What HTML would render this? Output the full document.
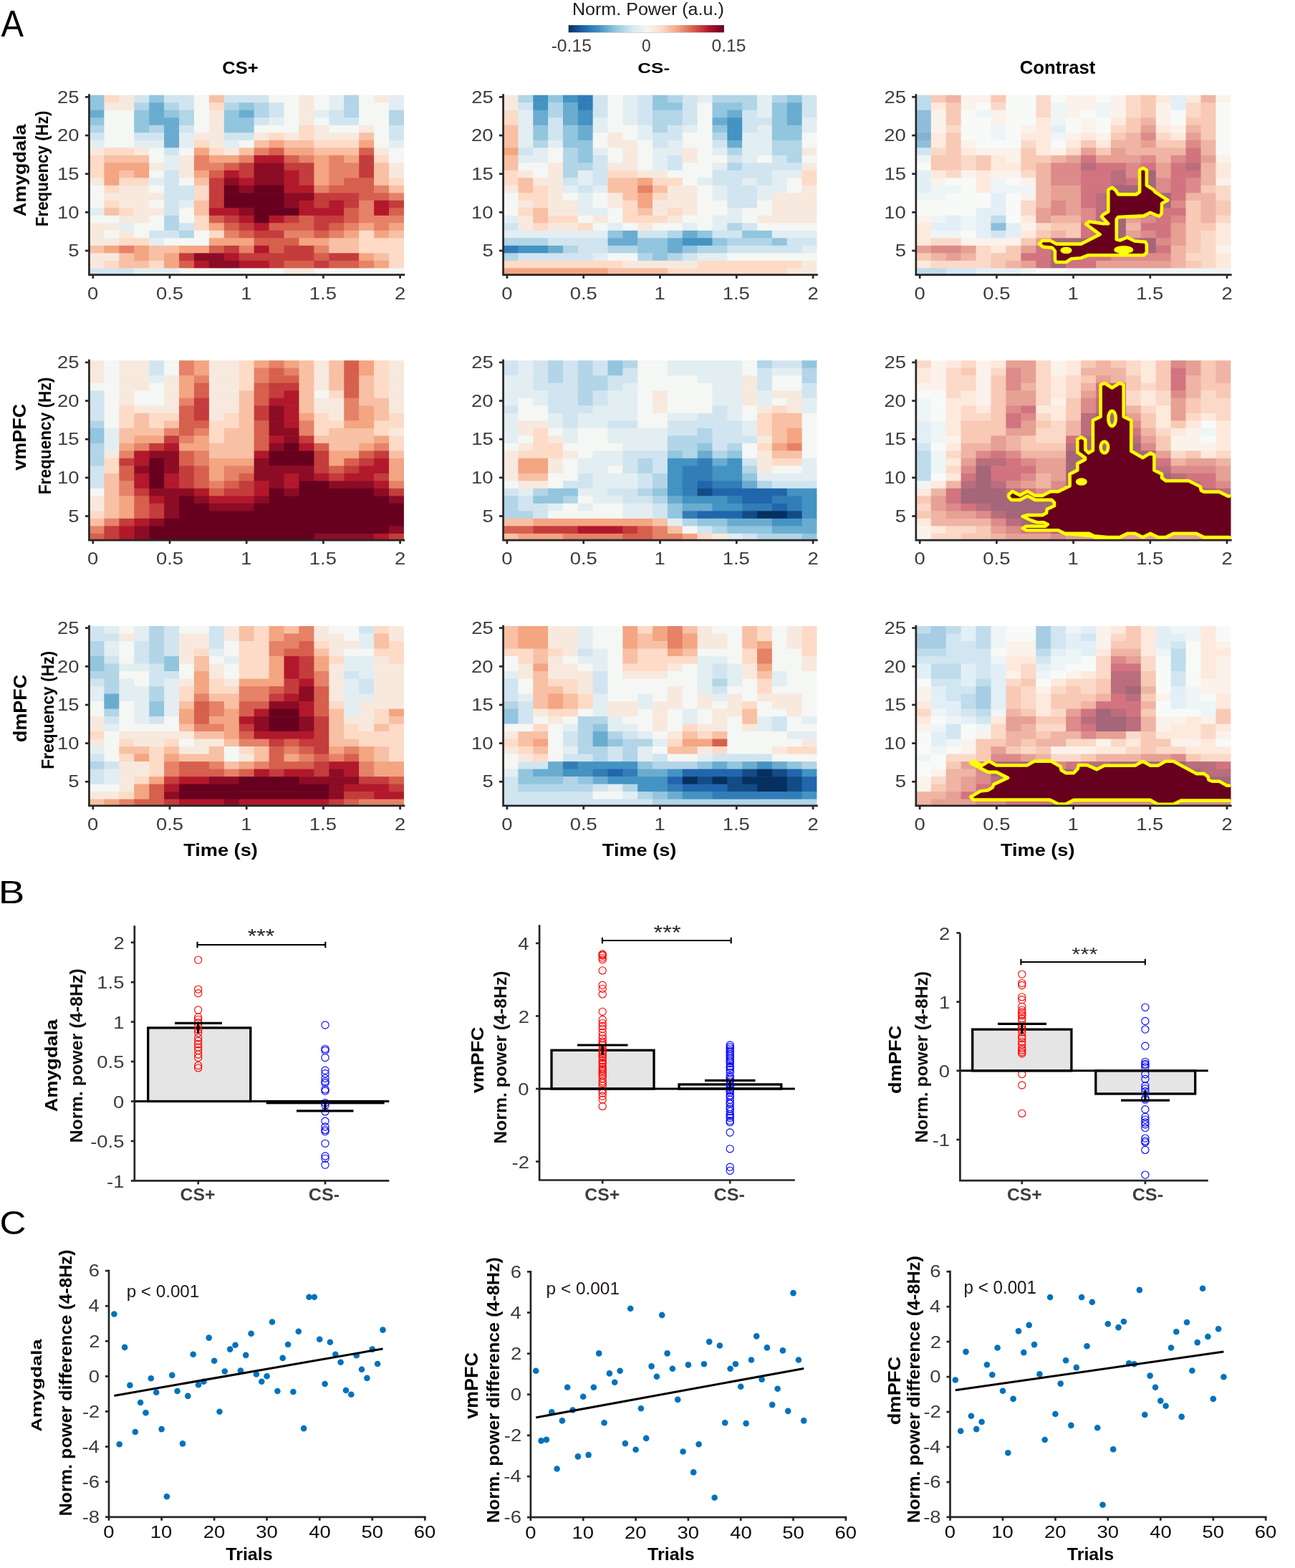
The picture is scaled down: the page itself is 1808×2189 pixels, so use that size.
<!DOCTYPE html><html><head><meta charset="utf-8"><title>Figure</title><style>html,body{margin:0;padding:0;background:#fff;}svg{display:block;}text{font-family:'Liberation Sans', Arial, Helvetica, sans-serif;}</style></head><body><svg xmlns="http://www.w3.org/2000/svg" width="1808" height="2189" viewBox="0 0 1808 2189"><rect width="1808" height="2189" fill="#fff"/><g>
<rect x="124.44" y="132.72" width="21.53" height="11.11" fill="#92c5de"/>
<rect x="145.37" y="132.72" width="21.53" height="11.11" fill="#fddbc7"/>
<rect x="166.30" y="132.72" width="21.53" height="11.11" fill="#f8e9de"/>
<rect x="187.23" y="132.72" width="21.53" height="11.11" fill="#d1e5f0"/>
<rect x="208.16" y="132.72" width="21.53" height="11.11" fill="#92c5de"/>
<rect x="229.09" y="132.72" width="42.46" height="11.11" fill="#d1e5f0"/>
<rect x="270.95" y="132.72" width="21.53" height="11.11" fill="#f4f7f4"/>
<rect x="291.88" y="132.72" width="21.53" height="11.11" fill="#f8c0a4"/>
<rect x="312.81" y="132.72" width="63.39" height="11.11" fill="#d1e5f0"/>
<rect x="375.59" y="132.72" width="42.46" height="11.11" fill="#f4f7f4"/>
<rect x="417.45" y="132.72" width="21.53" height="11.11" fill="#f8e9de"/>
<rect x="438.38" y="132.72" width="21.53" height="11.11" fill="#f4f7f4"/>
<rect x="459.31" y="132.72" width="21.53" height="11.11" fill="#e2eef2"/>
<rect x="480.24" y="132.72" width="21.53" height="11.11" fill="#b2d5e7"/>
<rect x="501.17" y="132.72" width="21.53" height="11.11" fill="#f4f7f4"/>
<rect x="522.10" y="132.72" width="21.53" height="11.11" fill="#f8e9de"/>
<rect x="543.03" y="132.72" width="20.93" height="11.11" fill="#e2eef2"/>
<rect x="124.44" y="143.22" width="21.53" height="11.11" fill="#92c5de"/>
<rect x="145.37" y="143.22" width="42.46" height="11.11" fill="#f8e9de"/>
<rect x="187.23" y="143.22" width="21.53" height="11.11" fill="#b2d5e7"/>
<rect x="208.16" y="143.22" width="21.53" height="11.11" fill="#6aacd0"/>
<rect x="229.09" y="143.22" width="21.53" height="11.11" fill="#b2d5e7"/>
<rect x="250.02" y="143.22" width="21.53" height="11.11" fill="#d1e5f0"/>
<rect x="270.95" y="143.22" width="21.53" height="11.11" fill="#f4f7f4"/>
<rect x="291.88" y="143.22" width="21.53" height="11.11" fill="#fddbc7"/>
<rect x="312.81" y="143.22" width="21.53" height="11.11" fill="#b2d5e7"/>
<rect x="333.74" y="143.22" width="21.53" height="11.11" fill="#92c5de"/>
<rect x="354.66" y="143.22" width="21.53" height="11.11" fill="#b2d5e7"/>
<rect x="375.59" y="143.22" width="21.53" height="11.11" fill="#d1e5f0"/>
<rect x="396.52" y="143.22" width="21.53" height="11.11" fill="#f4f7f4"/>
<rect x="417.45" y="143.22" width="21.53" height="11.11" fill="#f8e9de"/>
<rect x="438.38" y="143.22" width="21.53" height="11.11" fill="#f4f7f4"/>
<rect x="459.31" y="143.22" width="21.53" height="11.11" fill="#e2eef2"/>
<rect x="480.24" y="143.22" width="21.53" height="11.11" fill="#b2d5e7"/>
<rect x="501.17" y="143.22" width="42.46" height="11.11" fill="#f4f7f4"/>
<rect x="543.03" y="143.22" width="20.93" height="11.11" fill="#e2eef2"/>
<rect x="124.44" y="153.73" width="21.53" height="11.11" fill="#6aacd0"/>
<rect x="145.37" y="153.73" width="42.46" height="11.11" fill="#f4f7f4"/>
<rect x="187.23" y="153.73" width="21.53" height="11.11" fill="#92c5de"/>
<rect x="208.16" y="153.73" width="21.53" height="11.11" fill="#6aacd0"/>
<rect x="229.09" y="153.73" width="21.53" height="11.11" fill="#92c5de"/>
<rect x="250.02" y="153.73" width="21.53" height="11.11" fill="#b2d5e7"/>
<rect x="270.95" y="153.73" width="21.53" height="11.11" fill="#f4f7f4"/>
<rect x="291.88" y="153.73" width="21.53" height="11.11" fill="#f8e9de"/>
<rect x="312.81" y="153.73" width="21.53" height="11.11" fill="#92c5de"/>
<rect x="333.74" y="153.73" width="21.53" height="11.11" fill="#6aacd0"/>
<rect x="354.66" y="153.73" width="21.53" height="11.11" fill="#b2d5e7"/>
<rect x="375.59" y="153.73" width="21.53" height="11.11" fill="#d1e5f0"/>
<rect x="396.52" y="153.73" width="21.53" height="11.11" fill="#f4f7f4"/>
<rect x="417.45" y="153.73" width="21.53" height="11.11" fill="#f8e9de"/>
<rect x="438.38" y="153.73" width="21.53" height="11.11" fill="#e2eef2"/>
<rect x="459.31" y="153.73" width="21.53" height="11.11" fill="#d1e5f0"/>
<rect x="480.24" y="153.73" width="21.53" height="11.11" fill="#b2d5e7"/>
<rect x="501.17" y="153.73" width="42.46" height="11.11" fill="#f4f7f4"/>
<rect x="543.03" y="153.73" width="20.93" height="11.11" fill="#b2d5e7"/>
<rect x="124.44" y="164.24" width="21.53" height="11.11" fill="#92c5de"/>
<rect x="145.37" y="164.24" width="42.46" height="11.11" fill="#f4f7f4"/>
<rect x="187.23" y="164.24" width="21.53" height="11.11" fill="#92c5de"/>
<rect x="208.16" y="164.24" width="42.46" height="11.11" fill="#6aacd0"/>
<rect x="250.02" y="164.24" width="21.53" height="11.11" fill="#b2d5e7"/>
<rect x="270.95" y="164.24" width="21.53" height="11.11" fill="#f4f7f4"/>
<rect x="291.88" y="164.24" width="21.53" height="11.11" fill="#f8e9de"/>
<rect x="312.81" y="164.24" width="42.46" height="11.11" fill="#92c5de"/>
<rect x="354.66" y="164.24" width="21.53" height="11.11" fill="#d1e5f0"/>
<rect x="375.59" y="164.24" width="21.53" height="11.11" fill="#e2eef2"/>
<rect x="396.52" y="164.24" width="21.53" height="11.11" fill="#f4f7f4"/>
<rect x="417.45" y="164.24" width="21.53" height="11.11" fill="#f8e9de"/>
<rect x="438.38" y="164.24" width="21.53" height="11.11" fill="#f4f7f4"/>
<rect x="459.31" y="164.24" width="42.46" height="11.11" fill="#d1e5f0"/>
<rect x="501.17" y="164.24" width="42.46" height="11.11" fill="#f4f7f4"/>
<rect x="543.03" y="164.24" width="20.93" height="11.11" fill="#b2d5e7"/>
<rect x="124.44" y="174.74" width="21.53" height="11.11" fill="#b2d5e7"/>
<rect x="145.37" y="174.74" width="42.46" height="11.11" fill="#f4f7f4"/>
<rect x="187.23" y="174.74" width="21.53" height="11.11" fill="#92c5de"/>
<rect x="208.16" y="174.74" width="21.53" height="11.11" fill="#b2d5e7"/>
<rect x="229.09" y="174.74" width="21.53" height="11.11" fill="#6aacd0"/>
<rect x="250.02" y="174.74" width="21.53" height="11.11" fill="#d1e5f0"/>
<rect x="270.95" y="174.74" width="21.53" height="11.11" fill="#f4f7f4"/>
<rect x="291.88" y="174.74" width="21.53" height="11.11" fill="#f8e9de"/>
<rect x="312.81" y="174.74" width="42.46" height="11.11" fill="#92c5de"/>
<rect x="354.66" y="174.74" width="63.39" height="11.11" fill="#f4f7f4"/>
<rect x="417.45" y="174.74" width="21.53" height="11.11" fill="#fddbc7"/>
<rect x="438.38" y="174.74" width="21.53" height="11.11" fill="#f8e9de"/>
<rect x="459.31" y="174.74" width="42.46" height="11.11" fill="#f4f7f4"/>
<rect x="501.17" y="174.74" width="21.53" height="11.11" fill="#f8e9de"/>
<rect x="522.10" y="174.74" width="21.53" height="11.11" fill="#f4f7f4"/>
<rect x="543.03" y="174.74" width="20.93" height="11.11" fill="#d1e5f0"/>
<rect x="124.44" y="185.25" width="21.53" height="11.11" fill="#d1e5f0"/>
<rect x="145.37" y="185.25" width="42.46" height="11.11" fill="#f4f7f4"/>
<rect x="187.23" y="185.25" width="42.46" height="11.11" fill="#d1e5f0"/>
<rect x="229.09" y="185.25" width="21.53" height="11.11" fill="#6aacd0"/>
<rect x="250.02" y="185.25" width="21.53" height="11.11" fill="#e2eef2"/>
<rect x="270.95" y="185.25" width="42.46" height="11.11" fill="#f8e9de"/>
<rect x="312.81" y="185.25" width="42.46" height="11.11" fill="#d1e5f0"/>
<rect x="354.66" y="185.25" width="21.53" height="11.11" fill="#f8e9de"/>
<rect x="375.59" y="185.25" width="21.53" height="11.11" fill="#fddbc7"/>
<rect x="396.52" y="185.25" width="21.53" height="11.11" fill="#f8e9de"/>
<rect x="417.45" y="185.25" width="21.53" height="11.11" fill="#fddbc7"/>
<rect x="438.38" y="185.25" width="63.39" height="11.11" fill="#f8e9de"/>
<rect x="501.17" y="185.25" width="21.53" height="11.11" fill="#f8c0a4"/>
<rect x="522.10" y="185.25" width="21.53" height="11.11" fill="#f4f7f4"/>
<rect x="543.03" y="185.25" width="20.93" height="11.11" fill="#d1e5f0"/>
<rect x="124.44" y="195.76" width="21.53" height="11.11" fill="#e2eef2"/>
<rect x="145.37" y="195.76" width="42.46" height="11.11" fill="#f4f7f4"/>
<rect x="187.23" y="195.76" width="42.46" height="11.11" fill="#e2eef2"/>
<rect x="229.09" y="195.76" width="21.53" height="11.11" fill="#6aacd0"/>
<rect x="250.02" y="195.76" width="21.53" height="11.11" fill="#e2eef2"/>
<rect x="270.95" y="195.76" width="21.53" height="11.11" fill="#fddbc7"/>
<rect x="291.88" y="195.76" width="21.53" height="11.11" fill="#f8e9de"/>
<rect x="312.81" y="195.76" width="21.53" height="11.11" fill="#e2eef2"/>
<rect x="333.74" y="195.76" width="21.53" height="11.11" fill="#f4f7f4"/>
<rect x="354.66" y="195.76" width="21.53" height="11.11" fill="#f8c0a4"/>
<rect x="375.59" y="195.76" width="21.53" height="11.11" fill="#f4a582"/>
<rect x="396.52" y="195.76" width="42.46" height="11.11" fill="#f8c0a4"/>
<rect x="438.38" y="195.76" width="63.39" height="11.11" fill="#fddbc7"/>
<rect x="501.17" y="195.76" width="21.53" height="11.11" fill="#f4a582"/>
<rect x="522.10" y="195.76" width="21.53" height="11.11" fill="#f4f7f4"/>
<rect x="543.03" y="195.76" width="20.93" height="11.11" fill="#e2eef2"/>
<rect x="124.44" y="206.27" width="21.53" height="11.11" fill="#f8e9de"/>
<rect x="145.37" y="206.27" width="42.46" height="11.11" fill="#fddbc7"/>
<rect x="187.23" y="206.27" width="21.53" height="11.11" fill="#f8e9de"/>
<rect x="208.16" y="206.27" width="21.53" height="11.11" fill="#f4f7f4"/>
<rect x="229.09" y="206.27" width="21.53" height="11.11" fill="#d1e5f0"/>
<rect x="250.02" y="206.27" width="21.53" height="11.11" fill="#f4f7f4"/>
<rect x="270.95" y="206.27" width="21.53" height="11.11" fill="#f4a582"/>
<rect x="291.88" y="206.27" width="21.53" height="11.11" fill="#fddbc7"/>
<rect x="312.81" y="206.27" width="21.53" height="11.11" fill="#f8e9de"/>
<rect x="333.74" y="206.27" width="21.53" height="11.11" fill="#f8c0a4"/>
<rect x="354.66" y="206.27" width="21.53" height="11.11" fill="#e58268"/>
<rect x="375.59" y="206.27" width="21.53" height="11.11" fill="#d6604d"/>
<rect x="396.52" y="206.27" width="42.46" height="11.11" fill="#f4a582"/>
<rect x="438.38" y="206.27" width="63.39" height="11.11" fill="#f8c0a4"/>
<rect x="501.17" y="206.27" width="21.53" height="11.11" fill="#d6604d"/>
<rect x="522.10" y="206.27" width="21.53" height="11.11" fill="#f8e9de"/>
<rect x="543.03" y="206.27" width="20.93" height="11.11" fill="#f4f7f4"/>
<rect x="124.44" y="216.77" width="21.53" height="11.11" fill="#fddbc7"/>
<rect x="145.37" y="216.77" width="63.39" height="11.11" fill="#f8c0a4"/>
<rect x="208.16" y="216.77" width="21.53" height="11.11" fill="#f4f7f4"/>
<rect x="229.09" y="216.77" width="21.53" height="11.11" fill="#e2eef2"/>
<rect x="250.02" y="216.77" width="21.53" height="11.11" fill="#f8e9de"/>
<rect x="270.95" y="216.77" width="21.53" height="11.11" fill="#e58268"/>
<rect x="291.88" y="216.77" width="42.46" height="11.11" fill="#f4a582"/>
<rect x="333.74" y="216.77" width="21.53" height="11.11" fill="#e58268"/>
<rect x="354.66" y="216.77" width="42.46" height="11.11" fill="#b2182b"/>
<rect x="396.52" y="216.77" width="21.53" height="11.11" fill="#d6604d"/>
<rect x="417.45" y="216.77" width="21.53" height="11.11" fill="#e58268"/>
<rect x="438.38" y="216.77" width="21.53" height="11.11" fill="#f4a582"/>
<rect x="459.31" y="216.77" width="21.53" height="11.11" fill="#e58268"/>
<rect x="480.24" y="216.77" width="21.53" height="11.11" fill="#f4a582"/>
<rect x="501.17" y="216.77" width="21.53" height="11.11" fill="#c43c3c"/>
<rect x="522.10" y="216.77" width="21.53" height="11.11" fill="#fddbc7"/>
<rect x="543.03" y="216.77" width="20.93" height="11.11" fill="#f4f7f4"/>
<rect x="124.44" y="227.28" width="21.53" height="11.11" fill="#fddbc7"/>
<rect x="145.37" y="227.28" width="63.39" height="11.11" fill="#f4a582"/>
<rect x="208.16" y="227.28" width="21.53" height="11.11" fill="#f8e9de"/>
<rect x="229.09" y="227.28" width="21.53" height="11.11" fill="#e2eef2"/>
<rect x="250.02" y="227.28" width="21.53" height="11.11" fill="#f8e9de"/>
<rect x="270.95" y="227.28" width="42.46" height="11.11" fill="#e58268"/>
<rect x="312.81" y="227.28" width="21.53" height="11.11" fill="#d6604d"/>
<rect x="333.74" y="227.28" width="21.53" height="11.11" fill="#c43c3c"/>
<rect x="354.66" y="227.28" width="42.46" height="11.11" fill="#8c0c25"/>
<rect x="396.52" y="227.28" width="42.46" height="11.11" fill="#c43c3c"/>
<rect x="438.38" y="227.28" width="21.53" height="11.11" fill="#f4a582"/>
<rect x="459.31" y="227.28" width="42.46" height="11.11" fill="#e58268"/>
<rect x="501.17" y="227.28" width="21.53" height="11.11" fill="#c43c3c"/>
<rect x="522.10" y="227.28" width="21.53" height="11.11" fill="#f8c0a4"/>
<rect x="543.03" y="227.28" width="20.93" height="11.11" fill="#f8e9de"/>
<rect x="124.44" y="237.79" width="21.53" height="11.11" fill="#fddbc7"/>
<rect x="145.37" y="237.79" width="21.53" height="11.11" fill="#f4a582"/>
<rect x="166.30" y="237.79" width="21.53" height="11.11" fill="#f8c0a4"/>
<rect x="187.23" y="237.79" width="21.53" height="11.11" fill="#f4a582"/>
<rect x="208.16" y="237.79" width="21.53" height="11.11" fill="#f4f7f4"/>
<rect x="229.09" y="237.79" width="21.53" height="11.11" fill="#d1e5f0"/>
<rect x="250.02" y="237.79" width="21.53" height="11.11" fill="#f8e9de"/>
<rect x="270.95" y="237.79" width="21.53" height="11.11" fill="#f4a582"/>
<rect x="291.88" y="237.79" width="21.53" height="11.11" fill="#d6604d"/>
<rect x="312.81" y="237.79" width="21.53" height="11.11" fill="#b2182b"/>
<rect x="333.74" y="237.79" width="21.53" height="11.11" fill="#c43c3c"/>
<rect x="354.66" y="237.79" width="42.46" height="11.11" fill="#8c0c25"/>
<rect x="396.52" y="237.79" width="21.53" height="11.11" fill="#b2182b"/>
<rect x="417.45" y="237.79" width="21.53" height="11.11" fill="#c43c3c"/>
<rect x="438.38" y="237.79" width="21.53" height="11.11" fill="#f4a582"/>
<rect x="459.31" y="237.79" width="42.46" height="11.11" fill="#e58268"/>
<rect x="501.17" y="237.79" width="21.53" height="11.11" fill="#c43c3c"/>
<rect x="522.10" y="237.79" width="21.53" height="11.11" fill="#f8c0a4"/>
<rect x="543.03" y="237.79" width="20.93" height="11.11" fill="#f8e9de"/>
<rect x="124.44" y="248.29" width="21.53" height="11.11" fill="#f8e9de"/>
<rect x="145.37" y="248.29" width="21.53" height="11.11" fill="#f4a582"/>
<rect x="166.30" y="248.29" width="42.46" height="11.11" fill="#fddbc7"/>
<rect x="208.16" y="248.29" width="21.53" height="11.11" fill="#e2eef2"/>
<rect x="229.09" y="248.29" width="21.53" height="11.11" fill="#d1e5f0"/>
<rect x="250.02" y="248.29" width="21.53" height="11.11" fill="#f4f7f4"/>
<rect x="270.95" y="248.29" width="21.53" height="11.11" fill="#f8c0a4"/>
<rect x="291.88" y="248.29" width="21.53" height="11.11" fill="#c43c3c"/>
<rect x="312.81" y="248.29" width="21.53" height="11.11" fill="#8c0c25"/>
<rect x="333.74" y="248.29" width="21.53" height="11.11" fill="#b2182b"/>
<rect x="354.66" y="248.29" width="42.46" height="11.11" fill="#8c0c25"/>
<rect x="396.52" y="248.29" width="21.53" height="11.11" fill="#b2182b"/>
<rect x="417.45" y="248.29" width="21.53" height="11.11" fill="#c43c3c"/>
<rect x="438.38" y="248.29" width="21.53" height="11.11" fill="#f4a582"/>
<rect x="459.31" y="248.29" width="21.53" height="11.11" fill="#e58268"/>
<rect x="480.24" y="248.29" width="42.46" height="11.11" fill="#d6604d"/>
<rect x="522.10" y="248.29" width="21.53" height="11.11" fill="#f8c0a4"/>
<rect x="543.03" y="248.29" width="20.93" height="11.11" fill="#fddbc7"/>
<rect x="124.44" y="258.80" width="21.53" height="11.11" fill="#f4f7f4"/>
<rect x="145.37" y="258.80" width="21.53" height="11.11" fill="#fddbc7"/>
<rect x="166.30" y="258.80" width="42.46" height="11.11" fill="#f8e9de"/>
<rect x="208.16" y="258.80" width="21.53" height="11.11" fill="#f4f7f4"/>
<rect x="229.09" y="258.80" width="42.46" height="11.11" fill="#d1e5f0"/>
<rect x="270.95" y="258.80" width="21.53" height="11.11" fill="#fddbc7"/>
<rect x="291.88" y="258.80" width="21.53" height="11.11" fill="#c43c3c"/>
<rect x="312.81" y="258.80" width="21.53" height="11.11" fill="#67001f"/>
<rect x="333.74" y="258.80" width="21.53" height="11.11" fill="#8c0c25"/>
<rect x="354.66" y="258.80" width="42.46" height="11.11" fill="#67001f"/>
<rect x="396.52" y="258.80" width="42.46" height="11.11" fill="#b2182b"/>
<rect x="438.38" y="258.80" width="21.53" height="11.11" fill="#e58268"/>
<rect x="459.31" y="258.80" width="63.39" height="11.11" fill="#d6604d"/>
<rect x="522.10" y="258.80" width="21.53" height="11.11" fill="#e58268"/>
<rect x="543.03" y="258.80" width="20.93" height="11.11" fill="#f8c0a4"/>
<rect x="124.44" y="269.31" width="21.53" height="11.11" fill="#f4f7f4"/>
<rect x="145.37" y="269.31" width="84.32" height="11.11" fill="#f8e9de"/>
<rect x="229.09" y="269.31" width="42.46" height="11.11" fill="#d1e5f0"/>
<rect x="270.95" y="269.31" width="21.53" height="11.11" fill="#fddbc7"/>
<rect x="291.88" y="269.31" width="21.53" height="11.11" fill="#c43c3c"/>
<rect x="312.81" y="269.31" width="84.32" height="11.11" fill="#67001f"/>
<rect x="396.52" y="269.31" width="42.46" height="11.11" fill="#8c0c25"/>
<rect x="438.38" y="269.31" width="63.39" height="11.11" fill="#c43c3c"/>
<rect x="501.17" y="269.31" width="42.46" height="11.11" fill="#d6604d"/>
<rect x="543.03" y="269.31" width="20.93" height="11.11" fill="#e58268"/>
<rect x="124.44" y="279.81" width="21.53" height="11.11" fill="#f4f7f4"/>
<rect x="145.37" y="279.81" width="21.53" height="11.11" fill="#fddbc7"/>
<rect x="166.30" y="279.81" width="42.46" height="11.11" fill="#f8e9de"/>
<rect x="208.16" y="279.81" width="21.53" height="11.11" fill="#f4f7f4"/>
<rect x="229.09" y="279.81" width="21.53" height="11.11" fill="#d1e5f0"/>
<rect x="250.02" y="279.81" width="21.53" height="11.11" fill="#e2eef2"/>
<rect x="270.95" y="279.81" width="21.53" height="11.11" fill="#f8c0a4"/>
<rect x="291.88" y="279.81" width="21.53" height="11.11" fill="#c43c3c"/>
<rect x="312.81" y="279.81" width="84.32" height="11.11" fill="#67001f"/>
<rect x="396.52" y="279.81" width="21.53" height="11.11" fill="#8c0c25"/>
<rect x="417.45" y="279.81" width="21.53" height="11.11" fill="#b2182b"/>
<rect x="438.38" y="279.81" width="21.53" height="11.11" fill="#c43c3c"/>
<rect x="459.31" y="279.81" width="21.53" height="11.11" fill="#b2182b"/>
<rect x="480.24" y="279.81" width="21.53" height="11.11" fill="#c43c3c"/>
<rect x="501.17" y="279.81" width="21.53" height="11.11" fill="#e58268"/>
<rect x="522.10" y="279.81" width="21.53" height="11.11" fill="#b2182b"/>
<rect x="543.03" y="279.81" width="20.93" height="11.11" fill="#c43c3c"/>
<rect x="124.44" y="290.32" width="21.53" height="11.11" fill="#e2eef2"/>
<rect x="145.37" y="290.32" width="21.53" height="11.11" fill="#f8c0a4"/>
<rect x="166.30" y="290.32" width="21.53" height="11.11" fill="#fddbc7"/>
<rect x="187.23" y="290.32" width="42.46" height="11.11" fill="#f8e9de"/>
<rect x="229.09" y="290.32" width="21.53" height="11.11" fill="#d1e5f0"/>
<rect x="250.02" y="290.32" width="21.53" height="11.11" fill="#f4f7f4"/>
<rect x="270.95" y="290.32" width="21.53" height="11.11" fill="#f8c0a4"/>
<rect x="291.88" y="290.32" width="42.46" height="11.11" fill="#b2182b"/>
<rect x="333.74" y="290.32" width="21.53" height="11.11" fill="#8c0c25"/>
<rect x="354.66" y="290.32" width="63.39" height="11.11" fill="#67001f"/>
<rect x="417.45" y="290.32" width="63.39" height="11.11" fill="#b2182b"/>
<rect x="480.24" y="290.32" width="21.53" height="11.11" fill="#d6604d"/>
<rect x="501.17" y="290.32" width="21.53" height="11.11" fill="#e58268"/>
<rect x="522.10" y="290.32" width="21.53" height="11.11" fill="#b2182b"/>
<rect x="543.03" y="290.32" width="20.93" height="11.11" fill="#d6604d"/>
<rect x="124.44" y="300.83" width="42.46" height="11.11" fill="#f4f7f4"/>
<rect x="166.30" y="300.83" width="42.46" height="11.11" fill="#f8e9de"/>
<rect x="208.16" y="300.83" width="21.53" height="11.11" fill="#f4f7f4"/>
<rect x="229.09" y="300.83" width="21.53" height="11.11" fill="#b2d5e7"/>
<rect x="250.02" y="300.83" width="21.53" height="11.11" fill="#f4f7f4"/>
<rect x="270.95" y="300.83" width="21.53" height="11.11" fill="#fddbc7"/>
<rect x="291.88" y="300.83" width="21.53" height="11.11" fill="#d6604d"/>
<rect x="312.81" y="300.83" width="21.53" height="11.11" fill="#c43c3c"/>
<rect x="333.74" y="300.83" width="21.53" height="11.11" fill="#b2182b"/>
<rect x="354.66" y="300.83" width="21.53" height="11.11" fill="#67001f"/>
<rect x="375.59" y="300.83" width="21.53" height="11.11" fill="#b2182b"/>
<rect x="396.52" y="300.83" width="21.53" height="11.11" fill="#c43c3c"/>
<rect x="417.45" y="300.83" width="21.53" height="11.11" fill="#d6604d"/>
<rect x="438.38" y="300.83" width="42.46" height="11.11" fill="#c43c3c"/>
<rect x="480.24" y="300.83" width="21.53" height="11.11" fill="#d6604d"/>
<rect x="501.17" y="300.83" width="62.79" height="11.11" fill="#e58268"/>
<rect x="124.44" y="311.33" width="42.46" height="11.11" fill="#f8e9de"/>
<rect x="166.30" y="311.33" width="21.53" height="11.11" fill="#e2eef2"/>
<rect x="187.23" y="311.33" width="42.46" height="11.11" fill="#f4f7f4"/>
<rect x="229.09" y="311.33" width="21.53" height="11.11" fill="#b2d5e7"/>
<rect x="250.02" y="311.33" width="21.53" height="11.11" fill="#d1e5f0"/>
<rect x="270.95" y="311.33" width="21.53" height="11.11" fill="#fddbc7"/>
<rect x="291.88" y="311.33" width="21.53" height="11.11" fill="#f4a582"/>
<rect x="312.81" y="311.33" width="21.53" height="11.11" fill="#d6604d"/>
<rect x="333.74" y="311.33" width="21.53" height="11.11" fill="#c43c3c"/>
<rect x="354.66" y="311.33" width="21.53" height="11.11" fill="#b2182b"/>
<rect x="375.59" y="311.33" width="63.39" height="11.11" fill="#d6604d"/>
<rect x="438.38" y="311.33" width="21.53" height="11.11" fill="#c43c3c"/>
<rect x="459.31" y="311.33" width="21.53" height="11.11" fill="#d6604d"/>
<rect x="480.24" y="311.33" width="21.53" height="11.11" fill="#e58268"/>
<rect x="501.17" y="311.33" width="21.53" height="11.11" fill="#f4a582"/>
<rect x="522.10" y="311.33" width="21.53" height="11.11" fill="#e58268"/>
<rect x="543.03" y="311.33" width="20.93" height="11.11" fill="#f4a582"/>
<rect x="124.44" y="321.84" width="21.53" height="11.11" fill="#f8e9de"/>
<rect x="145.37" y="321.84" width="21.53" height="11.11" fill="#f4f7f4"/>
<rect x="166.30" y="321.84" width="21.53" height="11.11" fill="#f8e9de"/>
<rect x="187.23" y="321.84" width="21.53" height="11.11" fill="#f4f7f4"/>
<rect x="208.16" y="321.84" width="42.46" height="11.11" fill="#d1e5f0"/>
<rect x="250.02" y="321.84" width="21.53" height="11.11" fill="#b2d5e7"/>
<rect x="270.95" y="321.84" width="21.53" height="11.11" fill="#f4f7f4"/>
<rect x="291.88" y="321.84" width="21.53" height="11.11" fill="#fddbc7"/>
<rect x="312.81" y="321.84" width="21.53" height="11.11" fill="#e58268"/>
<rect x="333.74" y="321.84" width="21.53" height="11.11" fill="#d6604d"/>
<rect x="354.66" y="321.84" width="42.46" height="11.11" fill="#c43c3c"/>
<rect x="396.52" y="321.84" width="42.46" height="11.11" fill="#e58268"/>
<rect x="438.38" y="321.84" width="21.53" height="11.11" fill="#d6604d"/>
<rect x="459.31" y="321.84" width="21.53" height="11.11" fill="#e58268"/>
<rect x="480.24" y="321.84" width="21.53" height="11.11" fill="#f4a582"/>
<rect x="501.17" y="321.84" width="21.53" height="11.11" fill="#fddbc7"/>
<rect x="522.10" y="321.84" width="21.53" height="11.11" fill="#f4a582"/>
<rect x="543.03" y="321.84" width="20.93" height="11.11" fill="#f8c0a4"/>
<rect x="124.44" y="332.35" width="42.46" height="11.11" fill="#f8e9de"/>
<rect x="166.30" y="332.35" width="42.46" height="11.11" fill="#fddbc7"/>
<rect x="208.16" y="332.35" width="21.53" height="11.11" fill="#e2eef2"/>
<rect x="229.09" y="332.35" width="63.39" height="11.11" fill="#f4f7f4"/>
<rect x="291.88" y="332.35" width="63.39" height="11.11" fill="#f4a582"/>
<rect x="354.66" y="332.35" width="63.39" height="11.11" fill="#d6604d"/>
<rect x="417.45" y="332.35" width="42.46" height="11.11" fill="#f4a582"/>
<rect x="459.31" y="332.35" width="42.46" height="11.11" fill="#f8c0a4"/>
<rect x="501.17" y="332.35" width="62.79" height="11.11" fill="#fddbc7"/>
<rect x="124.44" y="342.85" width="21.53" height="11.11" fill="#f8c0a4"/>
<rect x="145.37" y="342.85" width="21.53" height="11.11" fill="#f4a582"/>
<rect x="166.30" y="342.85" width="21.53" height="11.11" fill="#e58268"/>
<rect x="187.23" y="342.85" width="21.53" height="11.11" fill="#f4a582"/>
<rect x="208.16" y="342.85" width="42.46" height="11.11" fill="#f8c0a4"/>
<rect x="250.02" y="342.85" width="42.46" height="11.11" fill="#f4a582"/>
<rect x="291.88" y="342.85" width="21.53" height="11.11" fill="#d6604d"/>
<rect x="312.81" y="342.85" width="21.53" height="11.11" fill="#c43c3c"/>
<rect x="333.74" y="342.85" width="21.53" height="11.11" fill="#e58268"/>
<rect x="354.66" y="342.85" width="21.53" height="11.11" fill="#b2182b"/>
<rect x="375.59" y="342.85" width="21.53" height="11.11" fill="#d6604d"/>
<rect x="396.52" y="342.85" width="42.46" height="11.11" fill="#c43c3c"/>
<rect x="438.38" y="342.85" width="21.53" height="11.11" fill="#e58268"/>
<rect x="459.31" y="342.85" width="42.46" height="11.11" fill="#f8c0a4"/>
<rect x="501.17" y="342.85" width="62.79" height="11.11" fill="#fddbc7"/>
<rect x="124.44" y="353.36" width="42.46" height="11.11" fill="#f8e9de"/>
<rect x="166.30" y="353.36" width="21.53" height="11.11" fill="#f8c0a4"/>
<rect x="187.23" y="353.36" width="21.53" height="11.11" fill="#f4a582"/>
<rect x="208.16" y="353.36" width="21.53" height="11.11" fill="#f8c0a4"/>
<rect x="229.09" y="353.36" width="21.53" height="11.11" fill="#f4a582"/>
<rect x="250.02" y="353.36" width="21.53" height="11.11" fill="#c43c3c"/>
<rect x="270.95" y="353.36" width="42.46" height="11.11" fill="#8c0c25"/>
<rect x="312.81" y="353.36" width="21.53" height="11.11" fill="#b2182b"/>
<rect x="333.74" y="353.36" width="105.25" height="11.11" fill="#c43c3c"/>
<rect x="438.38" y="353.36" width="21.53" height="11.11" fill="#d6604d"/>
<rect x="459.31" y="353.36" width="42.46" height="11.11" fill="#c43c3c"/>
<rect x="501.17" y="353.36" width="21.53" height="11.11" fill="#f4a582"/>
<rect x="522.10" y="353.36" width="21.53" height="11.11" fill="#f8c0a4"/>
<rect x="543.03" y="353.36" width="20.93" height="11.11" fill="#fddbc7"/>
<rect x="124.44" y="363.87" width="21.53" height="11.11" fill="#f8e9de"/>
<rect x="145.37" y="363.87" width="21.53" height="11.11" fill="#fddbc7"/>
<rect x="166.30" y="363.87" width="42.46" height="11.11" fill="#f8c0a4"/>
<rect x="208.16" y="363.87" width="21.53" height="11.11" fill="#fddbc7"/>
<rect x="229.09" y="363.87" width="21.53" height="11.11" fill="#f4a582"/>
<rect x="250.02" y="363.87" width="21.53" height="11.11" fill="#d6604d"/>
<rect x="270.95" y="363.87" width="21.53" height="11.11" fill="#b2182b"/>
<rect x="291.88" y="363.87" width="42.46" height="11.11" fill="#8c0c25"/>
<rect x="333.74" y="363.87" width="42.46" height="11.11" fill="#b2182b"/>
<rect x="375.59" y="363.87" width="21.53" height="11.11" fill="#c43c3c"/>
<rect x="396.52" y="363.87" width="42.46" height="11.11" fill="#d6604d"/>
<rect x="438.38" y="363.87" width="21.53" height="11.11" fill="#c43c3c"/>
<rect x="459.31" y="363.87" width="42.46" height="11.11" fill="#d6604d"/>
<rect x="501.17" y="363.87" width="21.53" height="11.11" fill="#e58268"/>
<rect x="522.10" y="363.87" width="21.53" height="11.11" fill="#f4a582"/>
<rect x="543.03" y="363.87" width="20.93" height="11.11" fill="#fddbc7"/>
<rect x="124.44" y="374.37" width="63.39" height="9.21" fill="#d1e5f0"/>
<rect x="187.23" y="374.37" width="63.39" height="9.21" fill="#e2eef2"/>
<rect x="250.02" y="374.37" width="147.11" height="9.21" fill="#f4f7f4"/>
<rect x="396.52" y="374.37" width="42.46" height="9.21" fill="#f8e9de"/>
<rect x="438.38" y="374.37" width="125.58" height="9.21" fill="#f4f7f4"/>
</g>
<path d="M124.44 132.72 V383.58 H563.96" fill="none" stroke="#262626" stroke-width="2.7" stroke-linecap="square"/>
<path d="M124.44 135.40 h-5.6" stroke="#262626" stroke-width="2.7"/>
<text transform="matrix(0.27440 0 0 0.24500 80.08 143.55)" font-size="100" fill="#3d3a3a">25</text>
<path d="M124.44 189.05 h-5.6" stroke="#262626" stroke-width="2.7"/>
<text transform="matrix(0.27440 0 0 0.24500 79.94 197.20)" font-size="100" fill="#3d3a3a">20</text>
<path d="M124.44 242.70 h-5.6" stroke="#262626" stroke-width="2.7"/>
<text transform="matrix(0.27440 0 0 0.24500 80.08 250.73)" font-size="100" fill="#3d3a3a">15</text>
<path d="M124.44 296.35 h-5.6" stroke="#262626" stroke-width="2.7"/>
<text transform="matrix(0.27440 0 0 0.24500 79.94 304.50)" font-size="100" fill="#3d3a3a">10</text>
<path d="M124.44 350.00 h-5.6" stroke="#262626" stroke-width="2.7"/>
<text transform="matrix(0.27440 0 0 0.24500 95.31 358.03)" font-size="100" fill="#3d3a3a">5</text>
<path d="M129.80 383.58 v5.2" stroke="#262626" stroke-width="2.7"/>
<text transform="matrix(0.27440 0 0 0.24500 122.12 417.93)" font-size="100" fill="#3d3a3a">0</text>
<path d="M237.00 383.58 v5.2" stroke="#262626" stroke-width="2.7"/>
<text transform="matrix(0.27440 0 0 0.24500 217.93 417.93)" font-size="100" fill="#3d3a3a">0.5</text>
<path d="M344.20 383.58 v5.2" stroke="#262626" stroke-width="2.7"/>
<text transform="matrix(0.27440 0 0 0.24500 336.17 417.69)" font-size="100" fill="#3d3a3a">1</text>
<path d="M451.40 383.58 v5.2" stroke="#262626" stroke-width="2.7"/>
<text transform="matrix(0.27440 0 0 0.24500 431.85 417.69)" font-size="100" fill="#3d3a3a">1.5</text>
<path d="M558.60 383.58 v5.2" stroke="#262626" stroke-width="2.7"/>
<text transform="matrix(0.27440 0 0 0.24500 550.99 417.93)" font-size="100" fill="#3d3a3a">2</text>
<g>
<rect x="702.56" y="132.72" width="21.45" height="11.11" fill="#f8e9de"/>
<rect x="723.41" y="132.72" width="21.45" height="11.11" fill="#b2d5e7"/>
<rect x="744.26" y="132.72" width="21.45" height="11.11" fill="#4393c3"/>
<rect x="765.11" y="132.72" width="21.45" height="11.11" fill="#92c5de"/>
<rect x="785.97" y="132.72" width="21.45" height="11.11" fill="#4393c3"/>
<rect x="806.82" y="132.72" width="21.45" height="11.11" fill="#327db8"/>
<rect x="827.67" y="132.72" width="21.45" height="11.11" fill="#d1e5f0"/>
<rect x="848.52" y="132.72" width="21.45" height="11.11" fill="#f4f7f4"/>
<rect x="869.37" y="132.72" width="21.45" height="11.11" fill="#e2eef2"/>
<rect x="890.22" y="132.72" width="21.45" height="11.11" fill="#d1e5f0"/>
<rect x="911.07" y="132.72" width="21.45" height="11.11" fill="#92c5de"/>
<rect x="931.93" y="132.72" width="21.45" height="11.11" fill="#b2d5e7"/>
<rect x="952.78" y="132.72" width="21.45" height="11.11" fill="#d1e5f0"/>
<rect x="973.63" y="132.72" width="21.45" height="11.11" fill="#e2eef2"/>
<rect x="994.48" y="132.72" width="63.15" height="11.11" fill="#b2d5e7"/>
<rect x="1057.03" y="132.72" width="21.45" height="11.11" fill="#e2eef2"/>
<rect x="1077.89" y="132.72" width="21.45" height="11.11" fill="#b2d5e7"/>
<rect x="1098.74" y="132.72" width="21.45" height="11.11" fill="#92c5de"/>
<rect x="1119.59" y="132.72" width="20.85" height="11.11" fill="#d1e5f0"/>
<rect x="702.56" y="143.22" width="21.45" height="11.11" fill="#f8e9de"/>
<rect x="723.41" y="143.22" width="21.45" height="11.11" fill="#d1e5f0"/>
<rect x="744.26" y="143.22" width="21.45" height="11.11" fill="#4393c3"/>
<rect x="765.11" y="143.22" width="21.45" height="11.11" fill="#b2d5e7"/>
<rect x="785.97" y="143.22" width="21.45" height="11.11" fill="#6aacd0"/>
<rect x="806.82" y="143.22" width="21.45" height="11.11" fill="#327db8"/>
<rect x="827.67" y="143.22" width="21.45" height="11.11" fill="#d1e5f0"/>
<rect x="848.52" y="143.22" width="21.45" height="11.11" fill="#f4f7f4"/>
<rect x="869.37" y="143.22" width="21.45" height="11.11" fill="#e2eef2"/>
<rect x="890.22" y="143.22" width="21.45" height="11.11" fill="#d1e5f0"/>
<rect x="911.07" y="143.22" width="42.30" height="11.11" fill="#92c5de"/>
<rect x="952.78" y="143.22" width="21.45" height="11.11" fill="#d1e5f0"/>
<rect x="973.63" y="143.22" width="21.45" height="11.11" fill="#f4f7f4"/>
<rect x="994.48" y="143.22" width="42.30" height="11.11" fill="#92c5de"/>
<rect x="1036.18" y="143.22" width="21.45" height="11.11" fill="#b2d5e7"/>
<rect x="1057.03" y="143.22" width="21.45" height="11.11" fill="#e2eef2"/>
<rect x="1077.89" y="143.22" width="21.45" height="11.11" fill="#92c5de"/>
<rect x="1098.74" y="143.22" width="21.45" height="11.11" fill="#6aacd0"/>
<rect x="1119.59" y="143.22" width="20.85" height="11.11" fill="#d1e5f0"/>
<rect x="702.56" y="153.73" width="21.45" height="11.11" fill="#fddbc7"/>
<rect x="723.41" y="153.73" width="21.45" height="11.11" fill="#e2eef2"/>
<rect x="744.26" y="153.73" width="21.45" height="11.11" fill="#6aacd0"/>
<rect x="765.11" y="153.73" width="21.45" height="11.11" fill="#b2d5e7"/>
<rect x="785.97" y="153.73" width="21.45" height="11.11" fill="#6aacd0"/>
<rect x="806.82" y="153.73" width="21.45" height="11.11" fill="#4393c3"/>
<rect x="827.67" y="153.73" width="21.45" height="11.11" fill="#d1e5f0"/>
<rect x="848.52" y="153.73" width="21.45" height="11.11" fill="#f4f7f4"/>
<rect x="869.37" y="153.73" width="21.45" height="11.11" fill="#e2eef2"/>
<rect x="890.22" y="153.73" width="21.45" height="11.11" fill="#d1e5f0"/>
<rect x="911.07" y="153.73" width="42.30" height="11.11" fill="#b2d5e7"/>
<rect x="952.78" y="153.73" width="21.45" height="11.11" fill="#d1e5f0"/>
<rect x="973.63" y="153.73" width="21.45" height="11.11" fill="#f4f7f4"/>
<rect x="994.48" y="153.73" width="21.45" height="11.11" fill="#92c5de"/>
<rect x="1015.33" y="153.73" width="21.45" height="11.11" fill="#6aacd0"/>
<rect x="1036.18" y="153.73" width="21.45" height="11.11" fill="#d1e5f0"/>
<rect x="1057.03" y="153.73" width="21.45" height="11.11" fill="#e2eef2"/>
<rect x="1077.89" y="153.73" width="21.45" height="11.11" fill="#92c5de"/>
<rect x="1098.74" y="153.73" width="21.45" height="11.11" fill="#6aacd0"/>
<rect x="1119.59" y="153.73" width="20.85" height="11.11" fill="#d1e5f0"/>
<rect x="702.56" y="164.24" width="21.45" height="11.11" fill="#fddbc7"/>
<rect x="723.41" y="164.24" width="21.45" height="11.11" fill="#e2eef2"/>
<rect x="744.26" y="164.24" width="21.45" height="11.11" fill="#6aacd0"/>
<rect x="765.11" y="164.24" width="21.45" height="11.11" fill="#d1e5f0"/>
<rect x="785.97" y="164.24" width="21.45" height="11.11" fill="#6aacd0"/>
<rect x="806.82" y="164.24" width="21.45" height="11.11" fill="#4393c3"/>
<rect x="827.67" y="164.24" width="21.45" height="11.11" fill="#e2eef2"/>
<rect x="848.52" y="164.24" width="21.45" height="11.11" fill="#f4f7f4"/>
<rect x="869.37" y="164.24" width="21.45" height="11.11" fill="#e2eef2"/>
<rect x="890.22" y="164.24" width="21.45" height="11.11" fill="#d1e5f0"/>
<rect x="911.07" y="164.24" width="42.30" height="11.11" fill="#b2d5e7"/>
<rect x="952.78" y="164.24" width="21.45" height="11.11" fill="#d1e5f0"/>
<rect x="973.63" y="164.24" width="21.45" height="11.11" fill="#f4f7f4"/>
<rect x="994.48" y="164.24" width="21.45" height="11.11" fill="#6aacd0"/>
<rect x="1015.33" y="164.24" width="21.45" height="11.11" fill="#4393c3"/>
<rect x="1036.18" y="164.24" width="42.30" height="11.11" fill="#d1e5f0"/>
<rect x="1077.89" y="164.24" width="21.45" height="11.11" fill="#92c5de"/>
<rect x="1098.74" y="164.24" width="21.45" height="11.11" fill="#6aacd0"/>
<rect x="1119.59" y="164.24" width="20.85" height="11.11" fill="#e2eef2"/>
<rect x="702.56" y="174.74" width="21.45" height="11.11" fill="#f8c0a4"/>
<rect x="723.41" y="174.74" width="21.45" height="11.11" fill="#e2eef2"/>
<rect x="744.26" y="174.74" width="21.45" height="11.11" fill="#92c5de"/>
<rect x="765.11" y="174.74" width="21.45" height="11.11" fill="#d1e5f0"/>
<rect x="785.97" y="174.74" width="21.45" height="11.11" fill="#92c5de"/>
<rect x="806.82" y="174.74" width="21.45" height="11.11" fill="#6aacd0"/>
<rect x="827.67" y="174.74" width="21.45" height="11.11" fill="#e2eef2"/>
<rect x="848.52" y="174.74" width="42.30" height="11.11" fill="#f4f7f4"/>
<rect x="890.22" y="174.74" width="21.45" height="11.11" fill="#e2eef2"/>
<rect x="911.07" y="174.74" width="21.45" height="11.11" fill="#b2d5e7"/>
<rect x="931.93" y="174.74" width="21.45" height="11.11" fill="#d1e5f0"/>
<rect x="952.78" y="174.74" width="21.45" height="11.11" fill="#e2eef2"/>
<rect x="973.63" y="174.74" width="21.45" height="11.11" fill="#f4f7f4"/>
<rect x="994.48" y="174.74" width="21.45" height="11.11" fill="#92c5de"/>
<rect x="1015.33" y="174.74" width="21.45" height="11.11" fill="#4393c3"/>
<rect x="1036.18" y="174.74" width="21.45" height="11.11" fill="#d1e5f0"/>
<rect x="1057.03" y="174.74" width="21.45" height="11.11" fill="#e2eef2"/>
<rect x="1077.89" y="174.74" width="42.30" height="11.11" fill="#92c5de"/>
<rect x="1119.59" y="174.74" width="20.85" height="11.11" fill="#e2eef2"/>
<rect x="702.56" y="185.25" width="21.45" height="11.11" fill="#f8c0a4"/>
<rect x="723.41" y="185.25" width="21.45" height="11.11" fill="#e2eef2"/>
<rect x="744.26" y="185.25" width="21.45" height="11.11" fill="#92c5de"/>
<rect x="765.11" y="185.25" width="21.45" height="11.11" fill="#d1e5f0"/>
<rect x="785.97" y="185.25" width="21.45" height="11.11" fill="#92c5de"/>
<rect x="806.82" y="185.25" width="21.45" height="11.11" fill="#6aacd0"/>
<rect x="827.67" y="185.25" width="21.45" height="11.11" fill="#f4f7f4"/>
<rect x="848.52" y="185.25" width="21.45" height="11.11" fill="#f8e9de"/>
<rect x="869.37" y="185.25" width="21.45" height="11.11" fill="#f4f7f4"/>
<rect x="890.22" y="185.25" width="21.45" height="11.11" fill="#e2eef2"/>
<rect x="911.07" y="185.25" width="42.30" height="11.11" fill="#d1e5f0"/>
<rect x="952.78" y="185.25" width="42.30" height="11.11" fill="#f4f7f4"/>
<rect x="994.48" y="185.25" width="21.45" height="11.11" fill="#b2d5e7"/>
<rect x="1015.33" y="185.25" width="21.45" height="11.11" fill="#4393c3"/>
<rect x="1036.18" y="185.25" width="42.30" height="11.11" fill="#e2eef2"/>
<rect x="1077.89" y="185.25" width="42.30" height="11.11" fill="#92c5de"/>
<rect x="1119.59" y="185.25" width="20.85" height="11.11" fill="#f4f7f4"/>
<rect x="702.56" y="195.76" width="21.45" height="11.11" fill="#f8c0a4"/>
<rect x="723.41" y="195.76" width="21.45" height="11.11" fill="#e2eef2"/>
<rect x="744.26" y="195.76" width="21.45" height="11.11" fill="#b2d5e7"/>
<rect x="765.11" y="195.76" width="21.45" height="11.11" fill="#e2eef2"/>
<rect x="785.97" y="195.76" width="42.30" height="11.11" fill="#92c5de"/>
<rect x="827.67" y="195.76" width="21.45" height="11.11" fill="#f4f7f4"/>
<rect x="848.52" y="195.76" width="42.30" height="11.11" fill="#f8e9de"/>
<rect x="890.22" y="195.76" width="21.45" height="11.11" fill="#f4f7f4"/>
<rect x="911.07" y="195.76" width="21.45" height="11.11" fill="#d1e5f0"/>
<rect x="931.93" y="195.76" width="21.45" height="11.11" fill="#e2eef2"/>
<rect x="952.78" y="195.76" width="42.30" height="11.11" fill="#f4f7f4"/>
<rect x="994.48" y="195.76" width="21.45" height="11.11" fill="#d1e5f0"/>
<rect x="1015.33" y="195.76" width="21.45" height="11.11" fill="#6aacd0"/>
<rect x="1036.18" y="195.76" width="42.30" height="11.11" fill="#e2eef2"/>
<rect x="1077.89" y="195.76" width="42.30" height="11.11" fill="#b2d5e7"/>
<rect x="1119.59" y="195.76" width="20.85" height="11.11" fill="#f4f7f4"/>
<rect x="702.56" y="206.27" width="21.45" height="11.11" fill="#f4a582"/>
<rect x="723.41" y="206.27" width="21.45" height="11.11" fill="#d1e5f0"/>
<rect x="744.26" y="206.27" width="21.45" height="11.11" fill="#e2eef2"/>
<rect x="765.11" y="206.27" width="21.45" height="11.11" fill="#f4f7f4"/>
<rect x="785.97" y="206.27" width="21.45" height="11.11" fill="#b2d5e7"/>
<rect x="806.82" y="206.27" width="21.45" height="11.11" fill="#92c5de"/>
<rect x="827.67" y="206.27" width="21.45" height="11.11" fill="#e2eef2"/>
<rect x="848.52" y="206.27" width="21.45" height="11.11" fill="#f4f7f4"/>
<rect x="869.37" y="206.27" width="21.45" height="11.11" fill="#f8e9de"/>
<rect x="890.22" y="206.27" width="21.45" height="11.11" fill="#f4f7f4"/>
<rect x="911.07" y="206.27" width="42.30" height="11.11" fill="#e2eef2"/>
<rect x="952.78" y="206.27" width="21.45" height="11.11" fill="#f8e9de"/>
<rect x="973.63" y="206.27" width="21.45" height="11.11" fill="#f4f7f4"/>
<rect x="994.48" y="206.27" width="21.45" height="11.11" fill="#e2eef2"/>
<rect x="1015.33" y="206.27" width="21.45" height="11.11" fill="#b2d5e7"/>
<rect x="1036.18" y="206.27" width="42.30" height="11.11" fill="#e2eef2"/>
<rect x="1077.89" y="206.27" width="42.30" height="11.11" fill="#b2d5e7"/>
<rect x="1119.59" y="206.27" width="20.85" height="11.11" fill="#f8e9de"/>
<rect x="702.56" y="216.77" width="21.45" height="11.11" fill="#f8c0a4"/>
<rect x="723.41" y="216.77" width="42.30" height="11.11" fill="#e2eef2"/>
<rect x="765.11" y="216.77" width="21.45" height="11.11" fill="#f4f7f4"/>
<rect x="785.97" y="216.77" width="21.45" height="11.11" fill="#b2d5e7"/>
<rect x="806.82" y="216.77" width="21.45" height="11.11" fill="#92c5de"/>
<rect x="827.67" y="216.77" width="21.45" height="11.11" fill="#d1e5f0"/>
<rect x="848.52" y="216.77" width="21.45" height="11.11" fill="#f4f7f4"/>
<rect x="869.37" y="216.77" width="21.45" height="11.11" fill="#f8e9de"/>
<rect x="890.22" y="216.77" width="21.45" height="11.11" fill="#f4f7f4"/>
<rect x="911.07" y="216.77" width="21.45" height="11.11" fill="#e2eef2"/>
<rect x="931.93" y="216.77" width="21.45" height="11.11" fill="#d1e5f0"/>
<rect x="952.78" y="216.77" width="21.45" height="11.11" fill="#f8e9de"/>
<rect x="973.63" y="216.77" width="42.30" height="11.11" fill="#f4f7f4"/>
<rect x="1015.33" y="216.77" width="21.45" height="11.11" fill="#d1e5f0"/>
<rect x="1036.18" y="216.77" width="21.45" height="11.11" fill="#e2eef2"/>
<rect x="1057.03" y="216.77" width="21.45" height="11.11" fill="#f4f7f4"/>
<rect x="1077.89" y="216.77" width="21.45" height="11.11" fill="#d1e5f0"/>
<rect x="1098.74" y="216.77" width="21.45" height="11.11" fill="#b2d5e7"/>
<rect x="1119.59" y="216.77" width="20.85" height="11.11" fill="#f4f7f4"/>
<rect x="702.56" y="227.28" width="21.45" height="11.11" fill="#f8c0a4"/>
<rect x="723.41" y="227.28" width="42.30" height="11.11" fill="#f4f7f4"/>
<rect x="765.11" y="227.28" width="21.45" height="11.11" fill="#f8e9de"/>
<rect x="785.97" y="227.28" width="42.30" height="11.11" fill="#b2d5e7"/>
<rect x="827.67" y="227.28" width="21.45" height="11.11" fill="#d1e5f0"/>
<rect x="848.52" y="227.28" width="42.30" height="11.11" fill="#f8e9de"/>
<rect x="890.22" y="227.28" width="21.45" height="11.11" fill="#f4f7f4"/>
<rect x="911.07" y="227.28" width="21.45" height="11.11" fill="#e2eef2"/>
<rect x="931.93" y="227.28" width="21.45" height="11.11" fill="#d1e5f0"/>
<rect x="952.78" y="227.28" width="42.30" height="11.11" fill="#f4f7f4"/>
<rect x="994.48" y="227.28" width="21.45" height="11.11" fill="#e2eef2"/>
<rect x="1015.33" y="227.28" width="21.45" height="11.11" fill="#b2d5e7"/>
<rect x="1036.18" y="227.28" width="84.01" height="11.11" fill="#d1e5f0"/>
<rect x="1119.59" y="227.28" width="20.85" height="11.11" fill="#f8e9de"/>
<rect x="702.56" y="237.79" width="21.45" height="11.11" fill="#fddbc7"/>
<rect x="723.41" y="237.79" width="21.45" height="11.11" fill="#f8e9de"/>
<rect x="744.26" y="237.79" width="21.45" height="11.11" fill="#f4f7f4"/>
<rect x="765.11" y="237.79" width="21.45" height="11.11" fill="#f8e9de"/>
<rect x="785.97" y="237.79" width="21.45" height="11.11" fill="#b2d5e7"/>
<rect x="806.82" y="237.79" width="21.45" height="11.11" fill="#e2eef2"/>
<rect x="827.67" y="237.79" width="21.45" height="11.11" fill="#d1e5f0"/>
<rect x="848.52" y="237.79" width="42.30" height="11.11" fill="#fddbc7"/>
<rect x="890.22" y="237.79" width="42.30" height="11.11" fill="#f8e9de"/>
<rect x="931.93" y="237.79" width="63.15" height="11.11" fill="#f4f7f4"/>
<rect x="994.48" y="237.79" width="84.01" height="11.11" fill="#d1e5f0"/>
<rect x="1077.89" y="237.79" width="42.30" height="11.11" fill="#e2eef2"/>
<rect x="1119.59" y="237.79" width="20.85" height="11.11" fill="#fddbc7"/>
<rect x="702.56" y="248.29" width="21.45" height="11.11" fill="#fddbc7"/>
<rect x="723.41" y="248.29" width="21.45" height="11.11" fill="#f8c0a4"/>
<rect x="744.26" y="248.29" width="42.30" height="11.11" fill="#f8e9de"/>
<rect x="785.97" y="248.29" width="21.45" height="11.11" fill="#d1e5f0"/>
<rect x="806.82" y="248.29" width="21.45" height="11.11" fill="#e2eef2"/>
<rect x="827.67" y="248.29" width="21.45" height="11.11" fill="#d1e5f0"/>
<rect x="848.52" y="248.29" width="42.30" height="11.11" fill="#f8c0a4"/>
<rect x="890.22" y="248.29" width="21.45" height="11.11" fill="#f4a582"/>
<rect x="911.07" y="248.29" width="42.30" height="11.11" fill="#fddbc7"/>
<rect x="952.78" y="248.29" width="21.45" height="11.11" fill="#f4f7f4"/>
<rect x="973.63" y="248.29" width="21.45" height="11.11" fill="#e2eef2"/>
<rect x="994.48" y="248.29" width="42.30" height="11.11" fill="#d1e5f0"/>
<rect x="1036.18" y="248.29" width="21.45" height="11.11" fill="#e2eef2"/>
<rect x="1057.03" y="248.29" width="21.45" height="11.11" fill="#d1e5f0"/>
<rect x="1077.89" y="248.29" width="21.45" height="11.11" fill="#e2eef2"/>
<rect x="1098.74" y="248.29" width="21.45" height="11.11" fill="#f4f7f4"/>
<rect x="1119.59" y="248.29" width="20.85" height="11.11" fill="#fddbc7"/>
<rect x="702.56" y="258.80" width="21.45" height="11.11" fill="#f8e9de"/>
<rect x="723.41" y="258.80" width="21.45" height="11.11" fill="#f8c0a4"/>
<rect x="744.26" y="258.80" width="21.45" height="11.11" fill="#fddbc7"/>
<rect x="765.11" y="258.80" width="21.45" height="11.11" fill="#f8e9de"/>
<rect x="785.97" y="258.80" width="21.45" height="11.11" fill="#e2eef2"/>
<rect x="806.82" y="258.80" width="21.45" height="11.11" fill="#d1e5f0"/>
<rect x="827.67" y="258.80" width="21.45" height="11.11" fill="#e2eef2"/>
<rect x="848.52" y="258.80" width="42.30" height="11.11" fill="#f8c0a4"/>
<rect x="890.22" y="258.80" width="21.45" height="11.11" fill="#e58268"/>
<rect x="911.07" y="258.80" width="21.45" height="11.11" fill="#f8c0a4"/>
<rect x="931.93" y="258.80" width="42.30" height="11.11" fill="#f8e9de"/>
<rect x="973.63" y="258.80" width="21.45" height="11.11" fill="#f4f7f4"/>
<rect x="994.48" y="258.80" width="21.45" height="11.11" fill="#e2eef2"/>
<rect x="1015.33" y="258.80" width="42.30" height="11.11" fill="#d1e5f0"/>
<rect x="1057.03" y="258.80" width="42.30" height="11.11" fill="#e2eef2"/>
<rect x="1098.74" y="258.80" width="21.45" height="11.11" fill="#f4f7f4"/>
<rect x="1119.59" y="258.80" width="20.85" height="11.11" fill="#f8e9de"/>
<rect x="702.56" y="269.31" width="21.45" height="11.11" fill="#f4f7f4"/>
<rect x="723.41" y="269.31" width="42.30" height="11.11" fill="#fddbc7"/>
<rect x="765.11" y="269.31" width="21.45" height="11.11" fill="#f8e9de"/>
<rect x="785.97" y="269.31" width="21.45" height="11.11" fill="#f4f7f4"/>
<rect x="806.82" y="269.31" width="21.45" height="11.11" fill="#e2eef2"/>
<rect x="827.67" y="269.31" width="21.45" height="11.11" fill="#f4f7f4"/>
<rect x="848.52" y="269.31" width="21.45" height="11.11" fill="#f8e9de"/>
<rect x="869.37" y="269.31" width="21.45" height="11.11" fill="#f8c0a4"/>
<rect x="890.22" y="269.31" width="21.45" height="11.11" fill="#f4a582"/>
<rect x="911.07" y="269.31" width="21.45" height="11.11" fill="#fddbc7"/>
<rect x="931.93" y="269.31" width="42.30" height="11.11" fill="#f8e9de"/>
<rect x="973.63" y="269.31" width="21.45" height="11.11" fill="#f4f7f4"/>
<rect x="994.48" y="269.31" width="21.45" height="11.11" fill="#e2eef2"/>
<rect x="1015.33" y="269.31" width="42.30" height="11.11" fill="#d1e5f0"/>
<rect x="1057.03" y="269.31" width="21.45" height="11.11" fill="#e2eef2"/>
<rect x="1077.89" y="269.31" width="62.55" height="11.11" fill="#f8e9de"/>
<rect x="702.56" y="279.81" width="21.45" height="11.11" fill="#f4f7f4"/>
<rect x="723.41" y="279.81" width="21.45" height="11.11" fill="#f8e9de"/>
<rect x="744.26" y="279.81" width="21.45" height="11.11" fill="#fddbc7"/>
<rect x="765.11" y="279.81" width="42.30" height="11.11" fill="#f8e9de"/>
<rect x="806.82" y="279.81" width="21.45" height="11.11" fill="#e2eef2"/>
<rect x="827.67" y="279.81" width="21.45" height="11.11" fill="#f4f7f4"/>
<rect x="848.52" y="279.81" width="21.45" height="11.11" fill="#f8e9de"/>
<rect x="869.37" y="279.81" width="21.45" height="11.11" fill="#fddbc7"/>
<rect x="890.22" y="279.81" width="21.45" height="11.11" fill="#f4a582"/>
<rect x="911.07" y="279.81" width="63.15" height="11.11" fill="#f8e9de"/>
<rect x="973.63" y="279.81" width="42.30" height="11.11" fill="#f4f7f4"/>
<rect x="1015.33" y="279.81" width="42.30" height="11.11" fill="#d1e5f0"/>
<rect x="1057.03" y="279.81" width="21.45" height="11.11" fill="#f4f7f4"/>
<rect x="1077.89" y="279.81" width="62.55" height="11.11" fill="#f8e9de"/>
<rect x="702.56" y="290.32" width="21.45" height="11.11" fill="#f4f7f4"/>
<rect x="723.41" y="290.32" width="21.45" height="11.11" fill="#fddbc7"/>
<rect x="744.26" y="290.32" width="21.45" height="11.11" fill="#f8c0a4"/>
<rect x="765.11" y="290.32" width="42.30" height="11.11" fill="#f8e9de"/>
<rect x="806.82" y="290.32" width="42.30" height="11.11" fill="#e2eef2"/>
<rect x="848.52" y="290.32" width="21.45" height="11.11" fill="#f4f7f4"/>
<rect x="869.37" y="290.32" width="21.45" height="11.11" fill="#fddbc7"/>
<rect x="890.22" y="290.32" width="21.45" height="11.11" fill="#f8c0a4"/>
<rect x="911.07" y="290.32" width="21.45" height="11.11" fill="#f8e9de"/>
<rect x="931.93" y="290.32" width="21.45" height="11.11" fill="#fddbc7"/>
<rect x="952.78" y="290.32" width="21.45" height="11.11" fill="#f8e9de"/>
<rect x="973.63" y="290.32" width="42.30" height="11.11" fill="#f4f7f4"/>
<rect x="1015.33" y="290.32" width="21.45" height="11.11" fill="#e2eef2"/>
<rect x="1036.18" y="290.32" width="42.30" height="11.11" fill="#f4f7f4"/>
<rect x="1077.89" y="290.32" width="62.55" height="11.11" fill="#f8e9de"/>
<rect x="702.56" y="300.83" width="21.45" height="11.11" fill="#e2eef2"/>
<rect x="723.41" y="300.83" width="21.45" height="11.11" fill="#f8e9de"/>
<rect x="744.26" y="300.83" width="21.45" height="11.11" fill="#f8c0a4"/>
<rect x="765.11" y="300.83" width="42.30" height="11.11" fill="#fddbc7"/>
<rect x="806.82" y="300.83" width="21.45" height="11.11" fill="#f4f7f4"/>
<rect x="827.67" y="300.83" width="21.45" height="11.11" fill="#f8e9de"/>
<rect x="848.52" y="300.83" width="21.45" height="11.11" fill="#f4f7f4"/>
<rect x="869.37" y="300.83" width="63.15" height="11.11" fill="#fddbc7"/>
<rect x="931.93" y="300.83" width="21.45" height="11.11" fill="#f8e9de"/>
<rect x="952.78" y="300.83" width="42.30" height="11.11" fill="#f4f7f4"/>
<rect x="994.48" y="300.83" width="42.30" height="11.11" fill="#e2eef2"/>
<rect x="1036.18" y="300.83" width="21.45" height="11.11" fill="#f4f7f4"/>
<rect x="1057.03" y="300.83" width="83.41" height="11.11" fill="#f8e9de"/>
<rect x="702.56" y="311.33" width="21.45" height="11.11" fill="#d1e5f0"/>
<rect x="723.41" y="311.33" width="21.45" height="11.11" fill="#f8e9de"/>
<rect x="744.26" y="311.33" width="21.45" height="11.11" fill="#fddbc7"/>
<rect x="765.11" y="311.33" width="42.30" height="11.11" fill="#f8e9de"/>
<rect x="806.82" y="311.33" width="21.45" height="11.11" fill="#fddbc7"/>
<rect x="827.67" y="311.33" width="21.45" height="11.11" fill="#f4f7f4"/>
<rect x="848.52" y="311.33" width="21.45" height="11.11" fill="#e2eef2"/>
<rect x="869.37" y="311.33" width="21.45" height="11.11" fill="#f4f7f4"/>
<rect x="890.22" y="311.33" width="21.45" height="11.11" fill="#f8e9de"/>
<rect x="911.07" y="311.33" width="42.30" height="11.11" fill="#f4f7f4"/>
<rect x="952.78" y="311.33" width="21.45" height="11.11" fill="#e2eef2"/>
<rect x="973.63" y="311.33" width="21.45" height="11.11" fill="#f4f7f4"/>
<rect x="994.48" y="311.33" width="21.45" height="11.11" fill="#e2eef2"/>
<rect x="1015.33" y="311.33" width="21.45" height="11.11" fill="#b2d5e7"/>
<rect x="1036.18" y="311.33" width="21.45" height="11.11" fill="#d1e5f0"/>
<rect x="1057.03" y="311.33" width="83.41" height="11.11" fill="#f4f7f4"/>
<rect x="702.56" y="321.84" width="146.56" height="11.11" fill="#e2eef2"/>
<rect x="848.52" y="321.84" width="21.45" height="11.11" fill="#92c5de"/>
<rect x="869.37" y="321.84" width="21.45" height="11.11" fill="#6aacd0"/>
<rect x="890.22" y="321.84" width="42.30" height="11.11" fill="#d1e5f0"/>
<rect x="931.93" y="321.84" width="21.45" height="11.11" fill="#b2d5e7"/>
<rect x="952.78" y="321.84" width="21.45" height="11.11" fill="#6aacd0"/>
<rect x="973.63" y="321.84" width="21.45" height="11.11" fill="#92c5de"/>
<rect x="994.48" y="321.84" width="42.30" height="11.11" fill="#d1e5f0"/>
<rect x="1036.18" y="321.84" width="42.30" height="11.11" fill="#92c5de"/>
<rect x="1077.89" y="321.84" width="62.55" height="11.11" fill="#e2eef2"/>
<rect x="702.56" y="332.35" width="63.15" height="11.11" fill="#b2d5e7"/>
<rect x="765.11" y="332.35" width="84.01" height="11.11" fill="#d1e5f0"/>
<rect x="848.52" y="332.35" width="42.30" height="11.11" fill="#6aacd0"/>
<rect x="890.22" y="332.35" width="42.30" height="11.11" fill="#92c5de"/>
<rect x="931.93" y="332.35" width="21.45" height="11.11" fill="#6aacd0"/>
<rect x="952.78" y="332.35" width="42.30" height="11.11" fill="#4393c3"/>
<rect x="994.48" y="332.35" width="21.45" height="11.11" fill="#92c5de"/>
<rect x="1015.33" y="332.35" width="63.15" height="11.11" fill="#b2d5e7"/>
<rect x="1077.89" y="332.35" width="21.45" height="11.11" fill="#92c5de"/>
<rect x="1098.74" y="332.35" width="41.70" height="11.11" fill="#d1e5f0"/>
<rect x="702.56" y="342.85" width="21.45" height="11.11" fill="#327db8"/>
<rect x="723.41" y="342.85" width="42.30" height="11.11" fill="#4393c3"/>
<rect x="765.11" y="342.85" width="21.45" height="11.11" fill="#6aacd0"/>
<rect x="785.97" y="342.85" width="21.45" height="11.11" fill="#b2d5e7"/>
<rect x="806.82" y="342.85" width="42.30" height="11.11" fill="#d1e5f0"/>
<rect x="848.52" y="342.85" width="42.30" height="11.11" fill="#b2d5e7"/>
<rect x="890.22" y="342.85" width="42.30" height="11.11" fill="#92c5de"/>
<rect x="931.93" y="342.85" width="21.45" height="11.11" fill="#6aacd0"/>
<rect x="952.78" y="342.85" width="21.45" height="11.11" fill="#92c5de"/>
<rect x="973.63" y="342.85" width="42.30" height="11.11" fill="#b2d5e7"/>
<rect x="1015.33" y="342.85" width="104.86" height="11.11" fill="#d1e5f0"/>
<rect x="1119.59" y="342.85" width="20.85" height="11.11" fill="#e2eef2"/>
<rect x="702.56" y="353.36" width="21.45" height="11.11" fill="#b2d5e7"/>
<rect x="723.41" y="353.36" width="104.86" height="11.11" fill="#d1e5f0"/>
<rect x="827.67" y="353.36" width="21.45" height="11.11" fill="#e2eef2"/>
<rect x="848.52" y="353.36" width="42.30" height="11.11" fill="#f4f7f4"/>
<rect x="890.22" y="353.36" width="21.45" height="11.11" fill="#b2d5e7"/>
<rect x="911.07" y="353.36" width="21.45" height="11.11" fill="#92c5de"/>
<rect x="931.93" y="353.36" width="21.45" height="11.11" fill="#b2d5e7"/>
<rect x="952.78" y="353.36" width="21.45" height="11.11" fill="#d1e5f0"/>
<rect x="973.63" y="353.36" width="42.30" height="11.11" fill="#e2eef2"/>
<rect x="1015.33" y="353.36" width="125.11" height="11.11" fill="#f4f7f4"/>
<rect x="702.56" y="363.87" width="167.41" height="11.11" fill="#fddbc7"/>
<rect x="869.37" y="363.87" width="104.86" height="11.11" fill="#f8e9de"/>
<rect x="973.63" y="363.87" width="146.56" height="11.11" fill="#fddbc7"/>
<rect x="1119.59" y="363.87" width="20.85" height="11.11" fill="#f8e9de"/>
<rect x="702.56" y="374.37" width="146.56" height="9.21" fill="#f4a582"/>
<rect x="848.52" y="374.37" width="84.01" height="9.21" fill="#f8c0a4"/>
<rect x="931.93" y="374.37" width="167.41" height="9.21" fill="#fddbc7"/>
<rect x="1098.74" y="374.37" width="41.70" height="9.21" fill="#f8e9de"/>
</g>
<path d="M702.56 132.72 V383.58 H1140.44" fill="none" stroke="#262626" stroke-width="2.7" stroke-linecap="square"/>
<path d="M702.56 135.40 h-5.6" stroke="#262626" stroke-width="2.7"/>
<text transform="matrix(0.27440 0 0 0.24500 658.20 143.55)" font-size="100" fill="#3d3a3a">25</text>
<path d="M702.56 189.05 h-5.6" stroke="#262626" stroke-width="2.7"/>
<text transform="matrix(0.27440 0 0 0.24500 658.06 197.20)" font-size="100" fill="#3d3a3a">20</text>
<path d="M702.56 242.70 h-5.6" stroke="#262626" stroke-width="2.7"/>
<text transform="matrix(0.27440 0 0 0.24500 658.20 250.73)" font-size="100" fill="#3d3a3a">15</text>
<path d="M702.56 296.35 h-5.6" stroke="#262626" stroke-width="2.7"/>
<text transform="matrix(0.27440 0 0 0.24500 658.06 304.50)" font-size="100" fill="#3d3a3a">10</text>
<path d="M702.56 350.00 h-5.6" stroke="#262626" stroke-width="2.7"/>
<text transform="matrix(0.27440 0 0 0.24500 673.43 358.03)" font-size="100" fill="#3d3a3a">5</text>
<path d="M707.90 383.58 v5.2" stroke="#262626" stroke-width="2.7"/>
<text transform="matrix(0.27440 0 0 0.24500 700.22 417.93)" font-size="100" fill="#3d3a3a">0</text>
<path d="M814.70 383.58 v5.2" stroke="#262626" stroke-width="2.7"/>
<text transform="matrix(0.27440 0 0 0.24500 795.63 417.93)" font-size="100" fill="#3d3a3a">0.5</text>
<path d="M921.50 383.58 v5.2" stroke="#262626" stroke-width="2.7"/>
<text transform="matrix(0.27440 0 0 0.24500 913.47 417.69)" font-size="100" fill="#3d3a3a">1</text>
<path d="M1028.30 383.58 v5.2" stroke="#262626" stroke-width="2.7"/>
<text transform="matrix(0.27440 0 0 0.24500 1008.75 417.69)" font-size="100" fill="#3d3a3a">1.5</text>
<path d="M1135.10 383.58 v5.2" stroke="#262626" stroke-width="2.7"/>
<text transform="matrix(0.27440 0 0 0.24500 1127.49 417.93)" font-size="100" fill="#3d3a3a">2</text>
<g>
<rect x="1278.84" y="132.72" width="21.53" height="11.11" fill="#bedceb"/>
<rect x="1299.77" y="132.72" width="21.53" height="11.11" fill="#f8c9b4"/>
<rect x="1320.70" y="132.72" width="21.53" height="11.11" fill="#efb4a4"/>
<rect x="1341.63" y="132.72" width="42.46" height="11.11" fill="#fbf2eb"/>
<rect x="1383.49" y="132.72" width="21.53" height="11.11" fill="#f8c9b4"/>
<rect x="1404.42" y="132.72" width="42.46" height="11.11" fill="#f8faf8"/>
<rect x="1446.28" y="132.72" width="21.53" height="11.11" fill="#fbd9c8"/>
<rect x="1467.21" y="132.72" width="21.53" height="11.11" fill="#f8faf8"/>
<rect x="1488.14" y="132.72" width="42.46" height="11.11" fill="#fbf2eb"/>
<rect x="1529.99" y="132.72" width="21.53" height="11.11" fill="#f8faf8"/>
<rect x="1550.92" y="132.72" width="21.53" height="11.11" fill="#fbf2eb"/>
<rect x="1571.85" y="132.72" width="21.53" height="11.11" fill="#fbd9c8"/>
<rect x="1592.78" y="132.72" width="21.53" height="11.11" fill="#f8c9b4"/>
<rect x="1613.71" y="132.72" width="21.53" height="11.11" fill="#fee9dd"/>
<rect x="1634.64" y="132.72" width="21.53" height="11.11" fill="#e3eff6"/>
<rect x="1655.57" y="132.72" width="21.53" height="11.11" fill="#fee9dd"/>
<rect x="1676.50" y="132.72" width="21.53" height="11.11" fill="#efb4a4"/>
<rect x="1697.43" y="132.72" width="20.93" height="11.11" fill="#fbf2eb"/>
<rect x="1278.84" y="143.22" width="21.53" height="11.11" fill="#bedceb"/>
<rect x="1299.77" y="143.22" width="21.53" height="11.11" fill="#fee9dd"/>
<rect x="1320.70" y="143.22" width="21.53" height="11.11" fill="#f8c9b4"/>
<rect x="1341.63" y="143.22" width="21.53" height="11.11" fill="#fbf2eb"/>
<rect x="1362.56" y="143.22" width="21.53" height="11.11" fill="#f8faf8"/>
<rect x="1383.49" y="143.22" width="21.53" height="11.11" fill="#fbd9c8"/>
<rect x="1404.42" y="143.22" width="42.46" height="11.11" fill="#f8faf8"/>
<rect x="1446.28" y="143.22" width="21.53" height="11.11" fill="#fbd9c8"/>
<rect x="1467.21" y="143.22" width="21.53" height="11.11" fill="#eef5f7"/>
<rect x="1488.14" y="143.22" width="42.46" height="11.11" fill="#fbf2eb"/>
<rect x="1529.99" y="143.22" width="21.53" height="11.11" fill="#eef5f7"/>
<rect x="1550.92" y="143.22" width="21.53" height="11.11" fill="#fbf2eb"/>
<rect x="1571.85" y="143.22" width="21.53" height="11.11" fill="#fbd9c8"/>
<rect x="1592.78" y="143.22" width="21.53" height="11.11" fill="#f8c9b4"/>
<rect x="1613.71" y="143.22" width="21.53" height="11.11" fill="#fbf2eb"/>
<rect x="1634.64" y="143.22" width="21.53" height="11.11" fill="#e3eff6"/>
<rect x="1655.57" y="143.22" width="21.53" height="11.11" fill="#fbd9c8"/>
<rect x="1676.50" y="143.22" width="21.53" height="11.11" fill="#f8c9b4"/>
<rect x="1697.43" y="143.22" width="20.93" height="11.11" fill="#f8faf8"/>
<rect x="1278.84" y="153.73" width="21.53" height="11.11" fill="#8ebedb"/>
<rect x="1299.77" y="153.73" width="21.53" height="11.11" fill="#fbf2eb"/>
<rect x="1320.70" y="153.73" width="21.53" height="11.11" fill="#f8c9b4"/>
<rect x="1341.63" y="153.73" width="21.53" height="11.11" fill="#f8faf8"/>
<rect x="1362.56" y="153.73" width="21.53" height="11.11" fill="#eef5f7"/>
<rect x="1383.49" y="153.73" width="21.53" height="11.11" fill="#fbf2eb"/>
<rect x="1404.42" y="153.73" width="42.46" height="11.11" fill="#f8faf8"/>
<rect x="1446.28" y="153.73" width="21.53" height="11.11" fill="#fbd9c8"/>
<rect x="1467.21" y="153.73" width="21.53" height="11.11" fill="#eef5f7"/>
<rect x="1488.14" y="153.73" width="21.53" height="11.11" fill="#fbf2eb"/>
<rect x="1509.06" y="153.73" width="21.53" height="11.11" fill="#f8faf8"/>
<rect x="1529.99" y="153.73" width="21.53" height="11.11" fill="#eef5f7"/>
<rect x="1550.92" y="153.73" width="21.53" height="11.11" fill="#fbf2eb"/>
<rect x="1571.85" y="153.73" width="21.53" height="11.11" fill="#fbd9c8"/>
<rect x="1592.78" y="153.73" width="21.53" height="11.11" fill="#f8c9b4"/>
<rect x="1613.71" y="153.73" width="21.53" height="11.11" fill="#fbf2eb"/>
<rect x="1634.64" y="153.73" width="21.53" height="11.11" fill="#f8faf8"/>
<rect x="1655.57" y="153.73" width="21.53" height="11.11" fill="#fbd9c8"/>
<rect x="1676.50" y="153.73" width="21.53" height="11.11" fill="#f8c9b4"/>
<rect x="1697.43" y="153.73" width="20.93" height="11.11" fill="#f8faf8"/>
<rect x="1278.84" y="164.24" width="21.53" height="11.11" fill="#8ebedb"/>
<rect x="1299.77" y="164.24" width="21.53" height="11.11" fill="#fbf2eb"/>
<rect x="1320.70" y="164.24" width="21.53" height="11.11" fill="#f8c9b4"/>
<rect x="1341.63" y="164.24" width="42.46" height="11.11" fill="#f8faf8"/>
<rect x="1383.49" y="164.24" width="21.53" height="11.11" fill="#fbf2eb"/>
<rect x="1404.42" y="164.24" width="42.46" height="11.11" fill="#f8faf8"/>
<rect x="1446.28" y="164.24" width="21.53" height="11.11" fill="#fee9dd"/>
<rect x="1467.21" y="164.24" width="21.53" height="11.11" fill="#eef5f7"/>
<rect x="1488.14" y="164.24" width="21.53" height="11.11" fill="#f8faf8"/>
<rect x="1509.06" y="164.24" width="21.53" height="11.11" fill="#fbf2eb"/>
<rect x="1529.99" y="164.24" width="21.53" height="11.11" fill="#f8faf8"/>
<rect x="1550.92" y="164.24" width="21.53" height="11.11" fill="#fee9dd"/>
<rect x="1571.85" y="164.24" width="21.53" height="11.11" fill="#f8c9b4"/>
<rect x="1592.78" y="164.24" width="21.53" height="11.11" fill="#efb4a4"/>
<rect x="1613.71" y="164.24" width="21.53" height="11.11" fill="#fbf2eb"/>
<rect x="1634.64" y="164.24" width="21.53" height="11.11" fill="#f8faf8"/>
<rect x="1655.57" y="164.24" width="42.46" height="11.11" fill="#f8c9b4"/>
<rect x="1697.43" y="164.24" width="20.93" height="11.11" fill="#f8faf8"/>
<rect x="1278.84" y="174.74" width="21.53" height="11.11" fill="#8ebedb"/>
<rect x="1299.77" y="174.74" width="21.53" height="11.11" fill="#fbf2eb"/>
<rect x="1320.70" y="174.74" width="21.53" height="11.11" fill="#fbd9c8"/>
<rect x="1341.63" y="174.74" width="42.46" height="11.11" fill="#f8faf8"/>
<rect x="1383.49" y="174.74" width="21.53" height="11.11" fill="#eef5f7"/>
<rect x="1404.42" y="174.74" width="21.53" height="11.11" fill="#f8faf8"/>
<rect x="1425.35" y="174.74" width="21.53" height="11.11" fill="#fbf2eb"/>
<rect x="1446.28" y="174.74" width="21.53" height="11.11" fill="#fee9dd"/>
<rect x="1467.21" y="174.74" width="21.53" height="11.11" fill="#e3eff6"/>
<rect x="1488.14" y="174.74" width="21.53" height="11.11" fill="#f8faf8"/>
<rect x="1509.06" y="174.74" width="21.53" height="11.11" fill="#fbf2eb"/>
<rect x="1529.99" y="174.74" width="21.53" height="11.11" fill="#f8faf8"/>
<rect x="1550.92" y="174.74" width="21.53" height="11.11" fill="#fbd9c8"/>
<rect x="1571.85" y="174.74" width="21.53" height="11.11" fill="#f8c9b4"/>
<rect x="1592.78" y="174.74" width="21.53" height="11.11" fill="#e6a094"/>
<rect x="1613.71" y="174.74" width="21.53" height="11.11" fill="#fee9dd"/>
<rect x="1634.64" y="174.74" width="21.53" height="11.11" fill="#fbf2eb"/>
<rect x="1655.57" y="174.74" width="21.53" height="11.11" fill="#efb4a4"/>
<rect x="1676.50" y="174.74" width="21.53" height="11.11" fill="#f8c9b4"/>
<rect x="1697.43" y="174.74" width="20.93" height="11.11" fill="#f8faf8"/>
<rect x="1278.84" y="185.25" width="21.53" height="11.11" fill="#84b1d4"/>
<rect x="1299.77" y="185.25" width="21.53" height="11.11" fill="#fee9dd"/>
<rect x="1320.70" y="185.25" width="21.53" height="11.11" fill="#f8c9b4"/>
<rect x="1341.63" y="185.25" width="42.46" height="11.11" fill="#f8faf8"/>
<rect x="1383.49" y="185.25" width="21.53" height="11.11" fill="#eef5f7"/>
<rect x="1404.42" y="185.25" width="21.53" height="11.11" fill="#f8faf8"/>
<rect x="1425.35" y="185.25" width="42.46" height="11.11" fill="#fee9dd"/>
<rect x="1467.21" y="185.25" width="21.53" height="11.11" fill="#eef5f7"/>
<rect x="1488.14" y="185.25" width="21.53" height="11.11" fill="#fbf2eb"/>
<rect x="1509.06" y="185.25" width="21.53" height="11.11" fill="#fee9dd"/>
<rect x="1529.99" y="185.25" width="21.53" height="11.11" fill="#fbf2eb"/>
<rect x="1550.92" y="185.25" width="21.53" height="11.11" fill="#f8c9b4"/>
<rect x="1571.85" y="185.25" width="21.53" height="11.11" fill="#efb4a4"/>
<rect x="1592.78" y="185.25" width="21.53" height="11.11" fill="#dc8a8a"/>
<rect x="1613.71" y="185.25" width="21.53" height="11.11" fill="#fbd9c8"/>
<rect x="1634.64" y="185.25" width="21.53" height="11.11" fill="#fee9dd"/>
<rect x="1655.57" y="185.25" width="21.53" height="11.11" fill="#e6a094"/>
<rect x="1676.50" y="185.25" width="21.53" height="11.11" fill="#f8c9b4"/>
<rect x="1697.43" y="185.25" width="20.93" height="11.11" fill="#f8faf8"/>
<rect x="1278.84" y="195.76" width="21.53" height="11.11" fill="#8ebedb"/>
<rect x="1299.77" y="195.76" width="21.53" height="11.11" fill="#fee9dd"/>
<rect x="1320.70" y="195.76" width="21.53" height="11.11" fill="#f8c9b4"/>
<rect x="1341.63" y="195.76" width="21.53" height="11.11" fill="#fbf2eb"/>
<rect x="1362.56" y="195.76" width="63.39" height="11.11" fill="#f8faf8"/>
<rect x="1425.35" y="195.76" width="21.53" height="11.11" fill="#fbd9c8"/>
<rect x="1446.28" y="195.76" width="21.53" height="11.11" fill="#fee9dd"/>
<rect x="1467.21" y="195.76" width="21.53" height="11.11" fill="#f8faf8"/>
<rect x="1488.14" y="195.76" width="21.53" height="11.11" fill="#fee9dd"/>
<rect x="1509.06" y="195.76" width="21.53" height="11.11" fill="#f8c9b4"/>
<rect x="1529.99" y="195.76" width="21.53" height="11.11" fill="#fee9dd"/>
<rect x="1550.92" y="195.76" width="42.46" height="11.11" fill="#efb4a4"/>
<rect x="1592.78" y="195.76" width="21.53" height="11.11" fill="#e6a094"/>
<rect x="1613.71" y="195.76" width="42.46" height="11.11" fill="#f8c9b4"/>
<rect x="1655.57" y="195.76" width="21.53" height="11.11" fill="#dc8a8a"/>
<rect x="1676.50" y="195.76" width="21.53" height="11.11" fill="#efb4a4"/>
<rect x="1697.43" y="195.76" width="20.93" height="11.11" fill="#f8faf8"/>
<rect x="1278.84" y="206.27" width="21.53" height="11.11" fill="#d1e6f1"/>
<rect x="1299.77" y="206.27" width="21.53" height="11.11" fill="#fbd9c8"/>
<rect x="1320.70" y="206.27" width="21.53" height="11.11" fill="#f8c9b4"/>
<rect x="1341.63" y="206.27" width="21.53" height="11.11" fill="#fee9dd"/>
<rect x="1362.56" y="206.27" width="63.39" height="11.11" fill="#fbf2eb"/>
<rect x="1425.35" y="206.27" width="21.53" height="11.11" fill="#f8c9b4"/>
<rect x="1446.28" y="206.27" width="21.53" height="11.11" fill="#fee9dd"/>
<rect x="1467.21" y="206.27" width="21.53" height="11.11" fill="#fbf2eb"/>
<rect x="1488.14" y="206.27" width="21.53" height="11.11" fill="#fbd9c8"/>
<rect x="1509.06" y="206.27" width="21.53" height="11.11" fill="#e6a094"/>
<rect x="1529.99" y="206.27" width="21.53" height="11.11" fill="#f8c9b4"/>
<rect x="1550.92" y="206.27" width="21.53" height="11.11" fill="#e6a094"/>
<rect x="1571.85" y="206.27" width="84.32" height="11.11" fill="#efb4a4"/>
<rect x="1655.57" y="206.27" width="21.53" height="11.11" fill="#d17480"/>
<rect x="1676.50" y="206.27" width="21.53" height="11.11" fill="#efb4a4"/>
<rect x="1697.43" y="206.27" width="20.93" height="11.11" fill="#f8faf8"/>
<rect x="1278.84" y="216.77" width="21.53" height="11.11" fill="#eef5f7"/>
<rect x="1299.77" y="216.77" width="42.46" height="11.11" fill="#f8c9b4"/>
<rect x="1341.63" y="216.77" width="21.53" height="11.11" fill="#fbd9c8"/>
<rect x="1362.56" y="216.77" width="21.53" height="11.11" fill="#f8c9b4"/>
<rect x="1383.49" y="216.77" width="21.53" height="11.11" fill="#fee9dd"/>
<rect x="1404.42" y="216.77" width="21.53" height="11.11" fill="#fbf2eb"/>
<rect x="1425.35" y="216.77" width="42.46" height="11.11" fill="#f8c9b4"/>
<rect x="1467.21" y="216.77" width="21.53" height="11.11" fill="#efb4a4"/>
<rect x="1488.14" y="216.77" width="21.53" height="11.11" fill="#e6a094"/>
<rect x="1509.06" y="216.77" width="21.53" height="11.11" fill="#d17480"/>
<rect x="1529.99" y="216.77" width="63.39" height="11.11" fill="#e6a094"/>
<rect x="1592.78" y="216.77" width="21.53" height="11.11" fill="#dc8a8a"/>
<rect x="1613.71" y="216.77" width="21.53" height="11.11" fill="#efb4a4"/>
<rect x="1634.64" y="216.77" width="21.53" height="11.11" fill="#dc8a8a"/>
<rect x="1655.57" y="216.77" width="21.53" height="11.11" fill="#d17480"/>
<rect x="1676.50" y="216.77" width="21.53" height="11.11" fill="#e6a094"/>
<rect x="1697.43" y="216.77" width="20.93" height="11.11" fill="#fbf2eb"/>
<rect x="1278.84" y="227.28" width="21.53" height="11.11" fill="#f8faf8"/>
<rect x="1299.77" y="227.28" width="42.46" height="11.11" fill="#f8c9b4"/>
<rect x="1341.63" y="227.28" width="21.53" height="11.11" fill="#fbd9c8"/>
<rect x="1362.56" y="227.28" width="21.53" height="11.11" fill="#f8c9b4"/>
<rect x="1383.49" y="227.28" width="42.46" height="11.11" fill="#fee9dd"/>
<rect x="1425.35" y="227.28" width="21.53" height="11.11" fill="#f8c9b4"/>
<rect x="1446.28" y="227.28" width="21.53" height="11.11" fill="#efb4a4"/>
<rect x="1467.21" y="227.28" width="42.46" height="11.11" fill="#dc8a8a"/>
<rect x="1509.06" y="227.28" width="21.53" height="11.11" fill="#ba6d7c"/>
<rect x="1529.99" y="227.28" width="42.46" height="11.11" fill="#d17480"/>
<rect x="1571.85" y="227.28" width="21.53" height="11.11" fill="#dc8a8a"/>
<rect x="1592.78" y="227.28" width="21.53" height="11.11" fill="#d17480"/>
<rect x="1613.71" y="227.28" width="21.53" height="11.11" fill="#e6a094"/>
<rect x="1634.64" y="227.28" width="21.53" height="11.11" fill="#d17480"/>
<rect x="1655.57" y="227.28" width="21.53" height="11.11" fill="#ba6d7c"/>
<rect x="1676.50" y="227.28" width="21.53" height="11.11" fill="#efb4a4"/>
<rect x="1697.43" y="227.28" width="20.93" height="11.11" fill="#fee9dd"/>
<rect x="1278.84" y="237.79" width="21.53" height="11.11" fill="#e3eff6"/>
<rect x="1299.77" y="237.79" width="21.53" height="11.11" fill="#fee9dd"/>
<rect x="1320.70" y="237.79" width="21.53" height="11.11" fill="#fbd9c8"/>
<rect x="1341.63" y="237.79" width="21.53" height="11.11" fill="#fbf2eb"/>
<rect x="1362.56" y="237.79" width="21.53" height="11.11" fill="#fee9dd"/>
<rect x="1383.49" y="237.79" width="42.46" height="11.11" fill="#fbf2eb"/>
<rect x="1425.35" y="237.79" width="21.53" height="11.11" fill="#fbd9c8"/>
<rect x="1446.28" y="237.79" width="21.53" height="11.11" fill="#efb4a4"/>
<rect x="1467.21" y="237.79" width="42.46" height="11.11" fill="#dc8a8a"/>
<rect x="1509.06" y="237.79" width="42.46" height="11.11" fill="#d17480"/>
<rect x="1550.92" y="237.79" width="21.53" height="11.11" fill="#ba6d7c"/>
<rect x="1571.85" y="237.79" width="21.53" height="11.11" fill="#dc8a8a"/>
<rect x="1592.78" y="237.79" width="21.53" height="11.11" fill="#a46679"/>
<rect x="1613.71" y="237.79" width="21.53" height="11.11" fill="#e6a094"/>
<rect x="1634.64" y="237.79" width="42.46" height="11.11" fill="#d17480"/>
<rect x="1676.50" y="237.79" width="21.53" height="11.11" fill="#efb4a4"/>
<rect x="1697.43" y="237.79" width="20.93" height="11.11" fill="#fee9dd"/>
<rect x="1278.84" y="248.29" width="21.53" height="11.11" fill="#e3eff6"/>
<rect x="1299.77" y="248.29" width="21.53" height="11.11" fill="#fbf2eb"/>
<rect x="1320.70" y="248.29" width="42.46" height="11.11" fill="#f8faf8"/>
<rect x="1362.56" y="248.29" width="21.53" height="11.11" fill="#fee9dd"/>
<rect x="1383.49" y="248.29" width="21.53" height="11.11" fill="#eef5f7"/>
<rect x="1404.42" y="248.29" width="21.53" height="11.11" fill="#f8faf8"/>
<rect x="1425.35" y="248.29" width="21.53" height="11.11" fill="#fbf2eb"/>
<rect x="1446.28" y="248.29" width="21.53" height="11.11" fill="#efb4a4"/>
<rect x="1467.21" y="248.29" width="42.46" height="11.11" fill="#dc8a8a"/>
<rect x="1509.06" y="248.29" width="42.46" height="11.11" fill="#d17480"/>
<rect x="1550.92" y="248.29" width="21.53" height="11.11" fill="#ba6d7c"/>
<rect x="1571.85" y="248.29" width="21.53" height="11.11" fill="#d17480"/>
<rect x="1592.78" y="248.29" width="21.53" height="11.11" fill="#a46679"/>
<rect x="1613.71" y="248.29" width="21.53" height="11.11" fill="#dc8a8a"/>
<rect x="1634.64" y="248.29" width="21.53" height="11.11" fill="#d17480"/>
<rect x="1655.57" y="248.29" width="21.53" height="11.11" fill="#dc8a8a"/>
<rect x="1676.50" y="248.29" width="21.53" height="11.11" fill="#efb4a4"/>
<rect x="1697.43" y="248.29" width="20.93" height="11.11" fill="#fbf2eb"/>
<rect x="1278.84" y="258.80" width="21.53" height="11.11" fill="#e3eff6"/>
<rect x="1299.77" y="258.80" width="42.46" height="11.11" fill="#eef5f7"/>
<rect x="1341.63" y="258.80" width="21.53" height="11.11" fill="#f8faf8"/>
<rect x="1362.56" y="258.80" width="21.53" height="11.11" fill="#fee9dd"/>
<rect x="1383.49" y="258.80" width="63.39" height="11.11" fill="#eef5f7"/>
<rect x="1446.28" y="258.80" width="21.53" height="11.11" fill="#efb4a4"/>
<rect x="1467.21" y="258.80" width="42.46" height="11.11" fill="#e6a094"/>
<rect x="1509.06" y="258.80" width="42.46" height="11.11" fill="#d17480"/>
<rect x="1550.92" y="258.80" width="63.39" height="11.11" fill="#a46679"/>
<rect x="1613.71" y="258.80" width="21.53" height="11.11" fill="#dc8a8a"/>
<rect x="1634.64" y="258.80" width="21.53" height="11.11" fill="#d17480"/>
<rect x="1655.57" y="258.80" width="21.53" height="11.11" fill="#dc8a8a"/>
<rect x="1676.50" y="258.80" width="21.53" height="11.11" fill="#f8c9b4"/>
<rect x="1697.43" y="258.80" width="20.93" height="11.11" fill="#fbd9c8"/>
<rect x="1278.84" y="269.31" width="42.46" height="11.11" fill="#eef5f7"/>
<rect x="1320.70" y="269.31" width="63.39" height="11.11" fill="#f8faf8"/>
<rect x="1383.49" y="269.31" width="21.53" height="11.11" fill="#e3eff6"/>
<rect x="1404.42" y="269.31" width="21.53" height="11.11" fill="#f8faf8"/>
<rect x="1425.35" y="269.31" width="21.53" height="11.11" fill="#fbf2eb"/>
<rect x="1446.28" y="269.31" width="21.53" height="11.11" fill="#efb4a4"/>
<rect x="1467.21" y="269.31" width="42.46" height="11.11" fill="#e6a094"/>
<rect x="1509.06" y="269.31" width="21.53" height="11.11" fill="#d17480"/>
<rect x="1529.99" y="269.31" width="21.53" height="11.11" fill="#ba6d7c"/>
<rect x="1550.92" y="269.31" width="84.32" height="11.11" fill="#a46679"/>
<rect x="1634.64" y="269.31" width="21.53" height="11.11" fill="#d17480"/>
<rect x="1655.57" y="269.31" width="42.46" height="11.11" fill="#efb4a4"/>
<rect x="1697.43" y="269.31" width="20.93" height="11.11" fill="#fbd9c8"/>
<rect x="1278.84" y="279.81" width="105.25" height="11.11" fill="#f8faf8"/>
<rect x="1383.49" y="279.81" width="21.53" height="11.11" fill="#e3eff6"/>
<rect x="1404.42" y="279.81" width="21.53" height="11.11" fill="#f8faf8"/>
<rect x="1425.35" y="279.81" width="21.53" height="11.11" fill="#fbd9c8"/>
<rect x="1446.28" y="279.81" width="21.53" height="11.11" fill="#efb4a4"/>
<rect x="1467.21" y="279.81" width="21.53" height="11.11" fill="#dc8a8a"/>
<rect x="1488.14" y="279.81" width="21.53" height="11.11" fill="#e6a094"/>
<rect x="1509.06" y="279.81" width="21.53" height="11.11" fill="#d17480"/>
<rect x="1529.99" y="279.81" width="21.53" height="11.11" fill="#ba6d7c"/>
<rect x="1550.92" y="279.81" width="84.32" height="11.11" fill="#a46679"/>
<rect x="1634.64" y="279.81" width="21.53" height="11.11" fill="#dc8a8a"/>
<rect x="1655.57" y="279.81" width="21.53" height="11.11" fill="#f8c9b4"/>
<rect x="1676.50" y="279.81" width="21.53" height="11.11" fill="#efb4a4"/>
<rect x="1697.43" y="279.81" width="20.93" height="11.11" fill="#f8c9b4"/>
<rect x="1278.84" y="290.32" width="84.32" height="11.11" fill="#f8faf8"/>
<rect x="1362.56" y="290.32" width="42.46" height="11.11" fill="#e3eff6"/>
<rect x="1404.42" y="290.32" width="21.53" height="11.11" fill="#f8faf8"/>
<rect x="1425.35" y="290.32" width="21.53" height="11.11" fill="#fbd9c8"/>
<rect x="1446.28" y="290.32" width="21.53" height="11.11" fill="#e6a094"/>
<rect x="1467.21" y="290.32" width="21.53" height="11.11" fill="#dc8a8a"/>
<rect x="1488.14" y="290.32" width="21.53" height="11.11" fill="#e6a094"/>
<rect x="1509.06" y="290.32" width="21.53" height="11.11" fill="#dc8a8a"/>
<rect x="1529.99" y="290.32" width="21.53" height="11.11" fill="#ba6d7c"/>
<rect x="1550.92" y="290.32" width="63.39" height="11.11" fill="#a46679"/>
<rect x="1613.71" y="290.32" width="42.46" height="11.11" fill="#d17480"/>
<rect x="1655.57" y="290.32" width="21.53" height="11.11" fill="#f8c9b4"/>
<rect x="1676.50" y="290.32" width="21.53" height="11.11" fill="#efb4a4"/>
<rect x="1697.43" y="290.32" width="20.93" height="11.11" fill="#f8c9b4"/>
<rect x="1278.84" y="300.83" width="21.53" height="11.11" fill="#fbf2eb"/>
<rect x="1299.77" y="300.83" width="21.53" height="11.11" fill="#eef5f7"/>
<rect x="1320.70" y="300.83" width="21.53" height="11.11" fill="#e3eff6"/>
<rect x="1341.63" y="300.83" width="21.53" height="11.11" fill="#eef5f7"/>
<rect x="1362.56" y="300.83" width="21.53" height="11.11" fill="#e3eff6"/>
<rect x="1383.49" y="300.83" width="21.53" height="11.11" fill="#bedceb"/>
<rect x="1404.42" y="300.83" width="21.53" height="11.11" fill="#f8faf8"/>
<rect x="1425.35" y="300.83" width="21.53" height="11.11" fill="#fee9dd"/>
<rect x="1446.28" y="300.83" width="21.53" height="11.11" fill="#e6a094"/>
<rect x="1467.21" y="300.83" width="42.46" height="11.11" fill="#efb4a4"/>
<rect x="1509.06" y="300.83" width="21.53" height="11.11" fill="#dc8a8a"/>
<rect x="1529.99" y="300.83" width="21.53" height="11.11" fill="#ba6d7c"/>
<rect x="1550.92" y="300.83" width="21.53" height="11.11" fill="#a46679"/>
<rect x="1571.85" y="300.83" width="21.53" height="11.11" fill="#e6a094"/>
<rect x="1592.78" y="300.83" width="21.53" height="11.11" fill="#dc8a8a"/>
<rect x="1613.71" y="300.83" width="21.53" height="11.11" fill="#d17480"/>
<rect x="1634.64" y="300.83" width="21.53" height="11.11" fill="#dc8a8a"/>
<rect x="1655.57" y="300.83" width="21.53" height="11.11" fill="#f8c9b4"/>
<rect x="1676.50" y="300.83" width="21.53" height="11.11" fill="#efb4a4"/>
<rect x="1697.43" y="300.83" width="20.93" height="11.11" fill="#fbd9c8"/>
<rect x="1278.84" y="311.33" width="21.53" height="11.11" fill="#fee9dd"/>
<rect x="1299.77" y="311.33" width="42.46" height="11.11" fill="#e3eff6"/>
<rect x="1341.63" y="311.33" width="21.53" height="11.11" fill="#eef5f7"/>
<rect x="1362.56" y="311.33" width="21.53" height="11.11" fill="#e3eff6"/>
<rect x="1383.49" y="311.33" width="21.53" height="11.11" fill="#8ebedb"/>
<rect x="1404.42" y="311.33" width="21.53" height="11.11" fill="#e3eff6"/>
<rect x="1425.35" y="311.33" width="21.53" height="11.11" fill="#fbf2eb"/>
<rect x="1446.28" y="311.33" width="21.53" height="11.11" fill="#fbd9c8"/>
<rect x="1467.21" y="311.33" width="42.46" height="11.11" fill="#f8c9b4"/>
<rect x="1509.06" y="311.33" width="21.53" height="11.11" fill="#d17480"/>
<rect x="1529.99" y="311.33" width="42.46" height="11.11" fill="#a46679"/>
<rect x="1571.85" y="311.33" width="21.53" height="11.11" fill="#efb4a4"/>
<rect x="1592.78" y="311.33" width="42.46" height="11.11" fill="#d17480"/>
<rect x="1634.64" y="311.33" width="21.53" height="11.11" fill="#e6a094"/>
<rect x="1655.57" y="311.33" width="42.46" height="11.11" fill="#f8c9b4"/>
<rect x="1697.43" y="311.33" width="20.93" height="11.11" fill="#fee9dd"/>
<rect x="1278.84" y="321.84" width="21.53" height="11.11" fill="#fee9dd"/>
<rect x="1299.77" y="321.84" width="42.46" height="11.11" fill="#eef5f7"/>
<rect x="1341.63" y="321.84" width="21.53" height="11.11" fill="#f8faf8"/>
<rect x="1362.56" y="321.84" width="21.53" height="11.11" fill="#e3eff6"/>
<rect x="1383.49" y="321.84" width="21.53" height="11.11" fill="#d1e6f1"/>
<rect x="1404.42" y="321.84" width="21.53" height="11.11" fill="#e3eff6"/>
<rect x="1425.35" y="321.84" width="21.53" height="11.11" fill="#fee9dd"/>
<rect x="1446.28" y="321.84" width="21.53" height="11.11" fill="#f8c9b4"/>
<rect x="1467.21" y="321.84" width="21.53" height="11.11" fill="#efb4a4"/>
<rect x="1488.14" y="321.84" width="21.53" height="11.11" fill="#f8c9b4"/>
<rect x="1509.06" y="321.84" width="21.53" height="11.11" fill="#d17480"/>
<rect x="1529.99" y="321.84" width="42.46" height="11.11" fill="#a46679"/>
<rect x="1571.85" y="321.84" width="21.53" height="11.11" fill="#e6a094"/>
<rect x="1592.78" y="321.84" width="21.53" height="11.11" fill="#dc8a8a"/>
<rect x="1613.71" y="321.84" width="21.53" height="11.11" fill="#d17480"/>
<rect x="1634.64" y="321.84" width="21.53" height="11.11" fill="#e6a094"/>
<rect x="1655.57" y="321.84" width="21.53" height="11.11" fill="#f8c9b4"/>
<rect x="1676.50" y="321.84" width="21.53" height="11.11" fill="#fbd9c8"/>
<rect x="1697.43" y="321.84" width="20.93" height="11.11" fill="#fee9dd"/>
<rect x="1278.84" y="332.35" width="21.53" height="11.11" fill="#fee9dd"/>
<rect x="1299.77" y="332.35" width="42.46" height="11.11" fill="#fbd9c8"/>
<rect x="1341.63" y="332.35" width="84.32" height="11.11" fill="#fbf2eb"/>
<rect x="1425.35" y="332.35" width="21.53" height="11.11" fill="#f8c9b4"/>
<rect x="1446.28" y="332.35" width="21.53" height="11.11" fill="#e6a094"/>
<rect x="1467.21" y="332.35" width="147.11" height="11.11" fill="#a46679"/>
<rect x="1613.71" y="332.35" width="21.53" height="11.11" fill="#dc8a8a"/>
<rect x="1634.64" y="332.35" width="21.53" height="11.11" fill="#e6a094"/>
<rect x="1655.57" y="332.35" width="21.53" height="11.11" fill="#f8c9b4"/>
<rect x="1676.50" y="332.35" width="21.53" height="11.11" fill="#fbd9c8"/>
<rect x="1697.43" y="332.35" width="20.93" height="11.11" fill="#fee9dd"/>
<rect x="1278.84" y="342.85" width="21.53" height="11.11" fill="#e6a094"/>
<rect x="1299.77" y="342.85" width="42.46" height="11.11" fill="#dc8a8a"/>
<rect x="1341.63" y="342.85" width="21.53" height="11.11" fill="#e6a094"/>
<rect x="1362.56" y="342.85" width="21.53" height="11.11" fill="#fbd9c8"/>
<rect x="1383.49" y="342.85" width="21.53" height="11.11" fill="#fee9dd"/>
<rect x="1404.42" y="342.85" width="21.53" height="11.11" fill="#f8c9b4"/>
<rect x="1425.35" y="342.85" width="21.53" height="11.11" fill="#e6a094"/>
<rect x="1446.28" y="342.85" width="21.53" height="11.11" fill="#d17480"/>
<rect x="1467.21" y="342.85" width="147.11" height="11.11" fill="#a46679"/>
<rect x="1613.71" y="342.85" width="21.53" height="11.11" fill="#d17480"/>
<rect x="1634.64" y="342.85" width="21.53" height="11.11" fill="#efb4a4"/>
<rect x="1655.57" y="342.85" width="21.53" height="11.11" fill="#f8c9b4"/>
<rect x="1676.50" y="342.85" width="21.53" height="11.11" fill="#fbd9c8"/>
<rect x="1697.43" y="342.85" width="20.93" height="11.11" fill="#fbf2eb"/>
<rect x="1278.84" y="353.36" width="21.53" height="11.11" fill="#f8c9b4"/>
<rect x="1299.77" y="353.36" width="21.53" height="11.11" fill="#efb4a4"/>
<rect x="1320.70" y="353.36" width="21.53" height="11.11" fill="#e6a094"/>
<rect x="1341.63" y="353.36" width="21.53" height="11.11" fill="#efb4a4"/>
<rect x="1362.56" y="353.36" width="21.53" height="11.11" fill="#fbd9c8"/>
<rect x="1383.49" y="353.36" width="42.46" height="11.11" fill="#f8c9b4"/>
<rect x="1425.35" y="353.36" width="42.46" height="11.11" fill="#d17480"/>
<rect x="1467.21" y="353.36" width="21.53" height="11.11" fill="#a46679"/>
<rect x="1488.14" y="353.36" width="21.53" height="11.11" fill="#ba6d7c"/>
<rect x="1509.06" y="353.36" width="42.46" height="11.11" fill="#d17480"/>
<rect x="1550.92" y="353.36" width="84.32" height="11.11" fill="#dc8a8a"/>
<rect x="1634.64" y="353.36" width="21.53" height="11.11" fill="#efb4a4"/>
<rect x="1655.57" y="353.36" width="42.46" height="11.11" fill="#fbd9c8"/>
<rect x="1697.43" y="353.36" width="20.93" height="11.11" fill="#fee9dd"/>
<rect x="1278.84" y="363.87" width="21.53" height="11.11" fill="#fee9dd"/>
<rect x="1299.77" y="363.87" width="84.32" height="11.11" fill="#fbd9c8"/>
<rect x="1383.49" y="363.87" width="21.53" height="11.11" fill="#f8c9b4"/>
<rect x="1404.42" y="363.87" width="21.53" height="11.11" fill="#efb4a4"/>
<rect x="1425.35" y="363.87" width="21.53" height="11.11" fill="#e6a094"/>
<rect x="1446.28" y="363.87" width="21.53" height="11.11" fill="#d17480"/>
<rect x="1467.21" y="363.87" width="21.53" height="11.11" fill="#a46679"/>
<rect x="1488.14" y="363.87" width="42.46" height="11.11" fill="#d17480"/>
<rect x="1529.99" y="363.87" width="105.25" height="11.11" fill="#e6a094"/>
<rect x="1634.64" y="363.87" width="21.53" height="11.11" fill="#efb4a4"/>
<rect x="1655.57" y="363.87" width="21.53" height="11.11" fill="#f8c9b4"/>
<rect x="1676.50" y="363.87" width="21.53" height="11.11" fill="#fbd9c8"/>
<rect x="1697.43" y="363.87" width="20.93" height="11.11" fill="#fee9dd"/>
<rect x="1278.84" y="374.37" width="42.46" height="9.21" fill="#bedceb"/>
<rect x="1320.70" y="374.37" width="42.46" height="9.21" fill="#d1e6f1"/>
<rect x="1362.56" y="374.37" width="63.39" height="9.21" fill="#e3eff6"/>
<rect x="1425.35" y="374.37" width="21.53" height="9.21" fill="#eef5f7"/>
<rect x="1446.28" y="374.37" width="42.46" height="9.21" fill="#f8faf8"/>
<rect x="1488.14" y="374.37" width="230.22" height="9.21" fill="#eef5f7"/>
<polygon points="1451.0,340.6 1455.1,336.0 1466.6,336.0 1474.7,340.6 1509.2,340.6 1535.7,327.3 1516.1,312.9 1520.8,309.4 1540.3,312.3 1547.3,312.3 1538.0,302.5 1540.3,299.6 1547.3,295.6 1547.3,265.1 1552.5,261.6 1557.6,265.6 1561.1,271.4 1586.5,271.4 1591.1,267.9 1591.1,237.4 1595.7,234.5 1600.9,237.4 1600.9,258.7 1610.7,265.1 1612.4,267.9 1630.3,279.5 1622.2,284.1 1621.6,298.5 1618.2,302.0 1606.0,296.8 1596.8,301.4 1561.1,303.1 1558.8,306.0 1558.8,334.2 1564.0,335.4 1573.8,331.4 1584.1,336.5 1599.1,337.7 1600.9,341.2 1600.9,352.7 1596.8,356.2 1519.6,356.2 1509.2,360.2 1495.4,361.3 1488.5,366.0 1474.7,366.0 1472.9,363.1 1472.9,350.4 1468.9,345.8 1456.2,344.6" fill="#67001f"/>
<ellipse cx="1488.5" cy="349.5" rx="8.1" ry="4.8" fill="#ffff00"/>
<ellipse cx="1568.8" cy="348.7" rx="13.5" ry="5.8" fill="#ffff00"/>
<polygon points="1451.0,340.6 1455.1,336.0 1466.6,336.0 1474.7,340.6 1509.2,340.6 1535.7,327.3 1516.1,312.9 1520.8,309.4 1540.3,312.3 1547.3,312.3 1538.0,302.5 1540.3,299.6 1547.3,295.6 1547.3,265.1 1552.5,261.6 1557.6,265.6 1561.1,271.4 1586.5,271.4 1591.1,267.9 1591.1,237.4 1595.7,234.5 1600.9,237.4 1600.9,258.7 1610.7,265.1 1612.4,267.9 1630.3,279.5 1622.2,284.1 1621.6,298.5 1618.2,302.0 1606.0,296.8 1596.8,301.4 1561.1,303.1 1558.8,306.0 1558.8,334.2 1564.0,335.4 1573.8,331.4 1584.1,336.5 1599.1,337.7 1600.9,341.2 1600.9,352.7 1596.8,356.2 1519.6,356.2 1509.2,360.2 1495.4,361.3 1488.5,366.0 1474.7,366.0 1472.9,363.1 1472.9,350.4 1468.9,345.8 1456.2,344.6" fill="none" stroke="#ffff00" stroke-width="4.6" stroke-linejoin="round"/>
</g>
<path d="M1278.84 132.72 V383.58 H1718.36" fill="none" stroke="#262626" stroke-width="2.7" stroke-linecap="square"/>
<path d="M1278.84 135.40 h-5.6" stroke="#262626" stroke-width="2.7"/>
<text transform="matrix(0.27440 0 0 0.24500 1234.48 143.55)" font-size="100" fill="#3d3a3a">25</text>
<path d="M1278.84 189.05 h-5.6" stroke="#262626" stroke-width="2.7"/>
<text transform="matrix(0.27440 0 0 0.24500 1234.34 197.20)" font-size="100" fill="#3d3a3a">20</text>
<path d="M1278.84 242.70 h-5.6" stroke="#262626" stroke-width="2.7"/>
<text transform="matrix(0.27440 0 0 0.24500 1234.48 250.73)" font-size="100" fill="#3d3a3a">15</text>
<path d="M1278.84 296.35 h-5.6" stroke="#262626" stroke-width="2.7"/>
<text transform="matrix(0.27440 0 0 0.24500 1234.34 304.50)" font-size="100" fill="#3d3a3a">10</text>
<path d="M1278.84 350.00 h-5.6" stroke="#262626" stroke-width="2.7"/>
<text transform="matrix(0.27440 0 0 0.24500 1249.71 358.03)" font-size="100" fill="#3d3a3a">5</text>
<path d="M1284.20 383.58 v5.2" stroke="#262626" stroke-width="2.7"/>
<text transform="matrix(0.27440 0 0 0.24500 1276.52 417.93)" font-size="100" fill="#3d3a3a">0</text>
<path d="M1391.40 383.58 v5.2" stroke="#262626" stroke-width="2.7"/>
<text transform="matrix(0.27440 0 0 0.24500 1372.33 417.93)" font-size="100" fill="#3d3a3a">0.5</text>
<path d="M1498.60 383.58 v5.2" stroke="#262626" stroke-width="2.7"/>
<text transform="matrix(0.27440 0 0 0.24500 1490.57 417.69)" font-size="100" fill="#3d3a3a">1</text>
<path d="M1605.80 383.58 v5.2" stroke="#262626" stroke-width="2.7"/>
<text transform="matrix(0.27440 0 0 0.24500 1586.25 417.69)" font-size="100" fill="#3d3a3a">1.5</text>
<path d="M1713.00 383.58 v5.2" stroke="#262626" stroke-width="2.7"/>
<text transform="matrix(0.27440 0 0 0.24500 1705.39 417.93)" font-size="100" fill="#3d3a3a">2</text>
<g>
<rect x="124.44" y="503.22" width="21.53" height="11.11" fill="#f8e9de"/>
<rect x="145.37" y="503.22" width="21.53" height="11.11" fill="#f4f7f4"/>
<rect x="166.30" y="503.22" width="42.46" height="11.11" fill="#f8e9de"/>
<rect x="208.16" y="503.22" width="21.53" height="11.11" fill="#d1e5f0"/>
<rect x="229.09" y="503.22" width="21.53" height="11.11" fill="#f4f7f4"/>
<rect x="250.02" y="503.22" width="21.53" height="11.11" fill="#e58268"/>
<rect x="270.95" y="503.22" width="21.53" height="11.11" fill="#f4a582"/>
<rect x="291.88" y="503.22" width="42.46" height="11.11" fill="#f8e9de"/>
<rect x="333.74" y="503.22" width="21.53" height="11.11" fill="#fddbc7"/>
<rect x="354.66" y="503.22" width="21.53" height="11.11" fill="#f4a582"/>
<rect x="375.59" y="503.22" width="21.53" height="11.11" fill="#e58268"/>
<rect x="396.52" y="503.22" width="21.53" height="11.11" fill="#f4a582"/>
<rect x="417.45" y="503.22" width="21.53" height="11.11" fill="#f8c0a4"/>
<rect x="438.38" y="503.22" width="21.53" height="11.11" fill="#f8e9de"/>
<rect x="459.31" y="503.22" width="21.53" height="11.11" fill="#f8c0a4"/>
<rect x="480.24" y="503.22" width="21.53" height="11.11" fill="#d6604d"/>
<rect x="501.17" y="503.22" width="21.53" height="11.11" fill="#f4a582"/>
<rect x="522.10" y="503.22" width="21.53" height="11.11" fill="#fddbc7"/>
<rect x="543.03" y="503.22" width="20.93" height="11.11" fill="#f8e9de"/>
<rect x="124.44" y="513.72" width="21.53" height="11.11" fill="#f8e9de"/>
<rect x="145.37" y="513.72" width="21.53" height="11.11" fill="#f4f7f4"/>
<rect x="166.30" y="513.72" width="42.46" height="11.11" fill="#f8e9de"/>
<rect x="208.16" y="513.72" width="21.53" height="11.11" fill="#d1e5f0"/>
<rect x="229.09" y="513.72" width="21.53" height="11.11" fill="#f4f7f4"/>
<rect x="250.02" y="513.72" width="21.53" height="11.11" fill="#e58268"/>
<rect x="270.95" y="513.72" width="21.53" height="11.11" fill="#f4a582"/>
<rect x="291.88" y="513.72" width="42.46" height="11.11" fill="#f8e9de"/>
<rect x="333.74" y="513.72" width="21.53" height="11.11" fill="#fddbc7"/>
<rect x="354.66" y="513.72" width="21.53" height="11.11" fill="#e58268"/>
<rect x="375.59" y="513.72" width="21.53" height="11.11" fill="#d6604d"/>
<rect x="396.52" y="513.72" width="21.53" height="11.11" fill="#e58268"/>
<rect x="417.45" y="513.72" width="21.53" height="11.11" fill="#f8c0a4"/>
<rect x="438.38" y="513.72" width="21.53" height="11.11" fill="#f8e9de"/>
<rect x="459.31" y="513.72" width="21.53" height="11.11" fill="#f8c0a4"/>
<rect x="480.24" y="513.72" width="21.53" height="11.11" fill="#d6604d"/>
<rect x="501.17" y="513.72" width="21.53" height="11.11" fill="#f4a582"/>
<rect x="522.10" y="513.72" width="21.53" height="11.11" fill="#fddbc7"/>
<rect x="543.03" y="513.72" width="20.93" height="11.11" fill="#f8e9de"/>
<rect x="124.44" y="524.23" width="21.53" height="11.11" fill="#f8e9de"/>
<rect x="145.37" y="524.23" width="21.53" height="11.11" fill="#f4f7f4"/>
<rect x="166.30" y="524.23" width="42.46" height="11.11" fill="#f8e9de"/>
<rect x="208.16" y="524.23" width="21.53" height="11.11" fill="#e2eef2"/>
<rect x="229.09" y="524.23" width="21.53" height="11.11" fill="#f8e9de"/>
<rect x="250.02" y="524.23" width="21.53" height="11.11" fill="#f4a582"/>
<rect x="270.95" y="524.23" width="21.53" height="11.11" fill="#e58268"/>
<rect x="291.88" y="524.23" width="42.46" height="11.11" fill="#f8e9de"/>
<rect x="333.74" y="524.23" width="21.53" height="11.11" fill="#fddbc7"/>
<rect x="354.66" y="524.23" width="21.53" height="11.11" fill="#e58268"/>
<rect x="375.59" y="524.23" width="42.46" height="11.11" fill="#d6604d"/>
<rect x="417.45" y="524.23" width="21.53" height="11.11" fill="#f8c0a4"/>
<rect x="438.38" y="524.23" width="21.53" height="11.11" fill="#f8e9de"/>
<rect x="459.31" y="524.23" width="21.53" height="11.11" fill="#f8c0a4"/>
<rect x="480.24" y="524.23" width="21.53" height="11.11" fill="#d6604d"/>
<rect x="501.17" y="524.23" width="21.53" height="11.11" fill="#f8c0a4"/>
<rect x="522.10" y="524.23" width="21.53" height="11.11" fill="#fddbc7"/>
<rect x="543.03" y="524.23" width="20.93" height="11.11" fill="#f8e9de"/>
<rect x="124.44" y="534.74" width="42.46" height="11.11" fill="#f4f7f4"/>
<rect x="166.30" y="534.74" width="42.46" height="11.11" fill="#f8e9de"/>
<rect x="208.16" y="534.74" width="21.53" height="11.11" fill="#f4f7f4"/>
<rect x="229.09" y="534.74" width="21.53" height="11.11" fill="#f8e9de"/>
<rect x="250.02" y="534.74" width="21.53" height="11.11" fill="#f4a582"/>
<rect x="270.95" y="534.74" width="21.53" height="11.11" fill="#d6604d"/>
<rect x="291.88" y="534.74" width="42.46" height="11.11" fill="#f8e9de"/>
<rect x="333.74" y="534.74" width="21.53" height="11.11" fill="#fddbc7"/>
<rect x="354.66" y="534.74" width="21.53" height="11.11" fill="#d6604d"/>
<rect x="375.59" y="534.74" width="42.46" height="11.11" fill="#c43c3c"/>
<rect x="417.45" y="534.74" width="21.53" height="11.11" fill="#f8c0a4"/>
<rect x="438.38" y="534.74" width="21.53" height="11.11" fill="#f8e9de"/>
<rect x="459.31" y="534.74" width="21.53" height="11.11" fill="#f8c0a4"/>
<rect x="480.24" y="534.74" width="21.53" height="11.11" fill="#d6604d"/>
<rect x="501.17" y="534.74" width="21.53" height="11.11" fill="#f8c0a4"/>
<rect x="522.10" y="534.74" width="21.53" height="11.11" fill="#fddbc7"/>
<rect x="543.03" y="534.74" width="20.93" height="11.11" fill="#f8e9de"/>
<rect x="124.44" y="545.24" width="21.53" height="11.11" fill="#d1e5f0"/>
<rect x="145.37" y="545.24" width="21.53" height="11.11" fill="#f4f7f4"/>
<rect x="166.30" y="545.24" width="21.53" height="11.11" fill="#f8e9de"/>
<rect x="187.23" y="545.24" width="42.46" height="11.11" fill="#f4f7f4"/>
<rect x="229.09" y="545.24" width="21.53" height="11.11" fill="#f8e9de"/>
<rect x="250.02" y="545.24" width="21.53" height="11.11" fill="#f4a582"/>
<rect x="270.95" y="545.24" width="21.53" height="11.11" fill="#d6604d"/>
<rect x="291.88" y="545.24" width="42.46" height="11.11" fill="#f8e9de"/>
<rect x="333.74" y="545.24" width="21.53" height="11.11" fill="#f8c0a4"/>
<rect x="354.66" y="545.24" width="21.53" height="11.11" fill="#d6604d"/>
<rect x="375.59" y="545.24" width="21.53" height="11.11" fill="#c43c3c"/>
<rect x="396.52" y="545.24" width="21.53" height="11.11" fill="#b2182b"/>
<rect x="417.45" y="545.24" width="21.53" height="11.11" fill="#f8c0a4"/>
<rect x="438.38" y="545.24" width="21.53" height="11.11" fill="#f4f7f4"/>
<rect x="459.31" y="545.24" width="21.53" height="11.11" fill="#fddbc7"/>
<rect x="480.24" y="545.24" width="21.53" height="11.11" fill="#d6604d"/>
<rect x="501.17" y="545.24" width="21.53" height="11.11" fill="#f8c0a4"/>
<rect x="522.10" y="545.24" width="21.53" height="11.11" fill="#fddbc7"/>
<rect x="543.03" y="545.24" width="20.93" height="11.11" fill="#f8e9de"/>
<rect x="124.44" y="555.75" width="21.53" height="11.11" fill="#d1e5f0"/>
<rect x="145.37" y="555.75" width="21.53" height="11.11" fill="#f4f7f4"/>
<rect x="166.30" y="555.75" width="21.53" height="11.11" fill="#f8e9de"/>
<rect x="187.23" y="555.75" width="42.46" height="11.11" fill="#f4f7f4"/>
<rect x="229.09" y="555.75" width="21.53" height="11.11" fill="#f8e9de"/>
<rect x="250.02" y="555.75" width="21.53" height="11.11" fill="#e58268"/>
<rect x="270.95" y="555.75" width="21.53" height="11.11" fill="#c43c3c"/>
<rect x="291.88" y="555.75" width="42.46" height="11.11" fill="#f8e9de"/>
<rect x="333.74" y="555.75" width="21.53" height="11.11" fill="#f8c0a4"/>
<rect x="354.66" y="555.75" width="21.53" height="11.11" fill="#d6604d"/>
<rect x="375.59" y="555.75" width="42.46" height="11.11" fill="#b2182b"/>
<rect x="417.45" y="555.75" width="21.53" height="11.11" fill="#f8c0a4"/>
<rect x="438.38" y="555.75" width="42.46" height="11.11" fill="#f8e9de"/>
<rect x="480.24" y="555.75" width="21.53" height="11.11" fill="#e58268"/>
<rect x="501.17" y="555.75" width="42.46" height="11.11" fill="#f8c0a4"/>
<rect x="543.03" y="555.75" width="20.93" height="11.11" fill="#f8e9de"/>
<rect x="124.44" y="566.26" width="21.53" height="11.11" fill="#d1e5f0"/>
<rect x="145.37" y="566.26" width="21.53" height="11.11" fill="#f4f7f4"/>
<rect x="166.30" y="566.26" width="21.53" height="11.11" fill="#fddbc7"/>
<rect x="187.23" y="566.26" width="63.39" height="11.11" fill="#f8e9de"/>
<rect x="250.02" y="566.26" width="21.53" height="11.11" fill="#d6604d"/>
<rect x="270.95" y="566.26" width="21.53" height="11.11" fill="#c43c3c"/>
<rect x="291.88" y="566.26" width="42.46" height="11.11" fill="#f8e9de"/>
<rect x="333.74" y="566.26" width="21.53" height="11.11" fill="#f8c0a4"/>
<rect x="354.66" y="566.26" width="21.53" height="11.11" fill="#c43c3c"/>
<rect x="375.59" y="566.26" width="21.53" height="11.11" fill="#8c0c25"/>
<rect x="396.52" y="566.26" width="21.53" height="11.11" fill="#b2182b"/>
<rect x="417.45" y="566.26" width="21.53" height="11.11" fill="#f8c0a4"/>
<rect x="438.38" y="566.26" width="42.46" height="11.11" fill="#f8e9de"/>
<rect x="480.24" y="566.26" width="21.53" height="11.11" fill="#e58268"/>
<rect x="501.17" y="566.26" width="21.53" height="11.11" fill="#f4a582"/>
<rect x="522.10" y="566.26" width="21.53" height="11.11" fill="#f8c0a4"/>
<rect x="543.03" y="566.26" width="20.93" height="11.11" fill="#f8e9de"/>
<rect x="124.44" y="576.77" width="21.53" height="11.11" fill="#d1e5f0"/>
<rect x="145.37" y="576.77" width="21.53" height="11.11" fill="#f4f7f4"/>
<rect x="166.30" y="576.77" width="21.53" height="11.11" fill="#fddbc7"/>
<rect x="187.23" y="576.77" width="21.53" height="11.11" fill="#f8c0a4"/>
<rect x="208.16" y="576.77" width="42.46" height="11.11" fill="#fddbc7"/>
<rect x="250.02" y="576.77" width="21.53" height="11.11" fill="#d6604d"/>
<rect x="270.95" y="576.77" width="21.53" height="11.11" fill="#c43c3c"/>
<rect x="291.88" y="576.77" width="21.53" height="11.11" fill="#f8e9de"/>
<rect x="312.81" y="576.77" width="21.53" height="11.11" fill="#fddbc7"/>
<rect x="333.74" y="576.77" width="21.53" height="11.11" fill="#f8c0a4"/>
<rect x="354.66" y="576.77" width="21.53" height="11.11" fill="#c43c3c"/>
<rect x="375.59" y="576.77" width="21.53" height="11.11" fill="#8c0c25"/>
<rect x="396.52" y="576.77" width="21.53" height="11.11" fill="#b2182b"/>
<rect x="417.45" y="576.77" width="21.53" height="11.11" fill="#f4a582"/>
<rect x="438.38" y="576.77" width="21.53" height="11.11" fill="#fddbc7"/>
<rect x="459.31" y="576.77" width="21.53" height="11.11" fill="#f8e9de"/>
<rect x="480.24" y="576.77" width="21.53" height="11.11" fill="#e58268"/>
<rect x="501.17" y="576.77" width="21.53" height="11.11" fill="#f4a582"/>
<rect x="522.10" y="576.77" width="21.53" height="11.11" fill="#f8c0a4"/>
<rect x="543.03" y="576.77" width="20.93" height="11.11" fill="#fddbc7"/>
<rect x="124.44" y="587.27" width="21.53" height="11.11" fill="#b2d5e7"/>
<rect x="145.37" y="587.27" width="21.53" height="11.11" fill="#f4f7f4"/>
<rect x="166.30" y="587.27" width="21.53" height="11.11" fill="#fddbc7"/>
<rect x="187.23" y="587.27" width="21.53" height="11.11" fill="#f8c0a4"/>
<rect x="208.16" y="587.27" width="21.53" height="11.11" fill="#fddbc7"/>
<rect x="229.09" y="587.27" width="21.53" height="11.11" fill="#f8c0a4"/>
<rect x="250.02" y="587.27" width="42.46" height="11.11" fill="#d6604d"/>
<rect x="291.88" y="587.27" width="42.46" height="11.11" fill="#fddbc7"/>
<rect x="333.74" y="587.27" width="21.53" height="11.11" fill="#f8c0a4"/>
<rect x="354.66" y="587.27" width="21.53" height="11.11" fill="#d6604d"/>
<rect x="375.59" y="587.27" width="21.53" height="11.11" fill="#8c0c25"/>
<rect x="396.52" y="587.27" width="21.53" height="11.11" fill="#b2182b"/>
<rect x="417.45" y="587.27" width="21.53" height="11.11" fill="#e58268"/>
<rect x="438.38" y="587.27" width="42.46" height="11.11" fill="#fddbc7"/>
<rect x="480.24" y="587.27" width="42.46" height="11.11" fill="#f4a582"/>
<rect x="522.10" y="587.27" width="41.86" height="11.11" fill="#fddbc7"/>
<rect x="124.44" y="597.78" width="21.53" height="11.11" fill="#92c5de"/>
<rect x="145.37" y="597.78" width="21.53" height="11.11" fill="#e2eef2"/>
<rect x="166.30" y="597.78" width="63.39" height="11.11" fill="#f8c0a4"/>
<rect x="229.09" y="597.78" width="21.53" height="11.11" fill="#e58268"/>
<rect x="250.02" y="597.78" width="21.53" height="11.11" fill="#d6604d"/>
<rect x="270.95" y="597.78" width="21.53" height="11.11" fill="#e58268"/>
<rect x="291.88" y="597.78" width="21.53" height="11.11" fill="#fddbc7"/>
<rect x="312.81" y="597.78" width="42.46" height="11.11" fill="#f8c0a4"/>
<rect x="354.66" y="597.78" width="21.53" height="11.11" fill="#d6604d"/>
<rect x="375.59" y="597.78" width="42.46" height="11.11" fill="#8c0c25"/>
<rect x="417.45" y="597.78" width="21.53" height="11.11" fill="#e58268"/>
<rect x="438.38" y="597.78" width="21.53" height="11.11" fill="#fddbc7"/>
<rect x="459.31" y="597.78" width="63.39" height="11.11" fill="#f8c0a4"/>
<rect x="522.10" y="597.78" width="21.53" height="11.11" fill="#fddbc7"/>
<rect x="543.03" y="597.78" width="20.93" height="11.11" fill="#f8e9de"/>
<rect x="124.44" y="608.29" width="21.53" height="11.11" fill="#92c5de"/>
<rect x="145.37" y="608.29" width="21.53" height="11.11" fill="#e2eef2"/>
<rect x="166.30" y="608.29" width="21.53" height="11.11" fill="#f8c0a4"/>
<rect x="187.23" y="608.29" width="42.46" height="11.11" fill="#f4a582"/>
<rect x="229.09" y="608.29" width="21.53" height="11.11" fill="#c43c3c"/>
<rect x="250.02" y="608.29" width="21.53" height="11.11" fill="#e58268"/>
<rect x="270.95" y="608.29" width="21.53" height="11.11" fill="#f4a582"/>
<rect x="291.88" y="608.29" width="21.53" height="11.11" fill="#fddbc7"/>
<rect x="312.81" y="608.29" width="42.46" height="11.11" fill="#f8c0a4"/>
<rect x="354.66" y="608.29" width="21.53" height="11.11" fill="#d6604d"/>
<rect x="375.59" y="608.29" width="21.53" height="11.11" fill="#b2182b"/>
<rect x="396.52" y="608.29" width="21.53" height="11.11" fill="#8c0c25"/>
<rect x="417.45" y="608.29" width="21.53" height="11.11" fill="#c43c3c"/>
<rect x="438.38" y="608.29" width="84.32" height="11.11" fill="#f8c0a4"/>
<rect x="522.10" y="608.29" width="21.53" height="11.11" fill="#f4a582"/>
<rect x="543.03" y="608.29" width="20.93" height="11.11" fill="#fddbc7"/>
<rect x="124.44" y="618.79" width="21.53" height="11.11" fill="#b2d5e7"/>
<rect x="145.37" y="618.79" width="21.53" height="11.11" fill="#e2eef2"/>
<rect x="166.30" y="618.79" width="21.53" height="11.11" fill="#f4a582"/>
<rect x="187.23" y="618.79" width="21.53" height="11.11" fill="#e58268"/>
<rect x="208.16" y="618.79" width="21.53" height="11.11" fill="#c43c3c"/>
<rect x="229.09" y="618.79" width="21.53" height="11.11" fill="#b2182b"/>
<rect x="250.02" y="618.79" width="42.46" height="11.11" fill="#f4a582"/>
<rect x="291.88" y="618.79" width="63.39" height="11.11" fill="#f8c0a4"/>
<rect x="354.66" y="618.79" width="21.53" height="11.11" fill="#d6604d"/>
<rect x="375.59" y="618.79" width="21.53" height="11.11" fill="#8c0c25"/>
<rect x="396.52" y="618.79" width="21.53" height="11.11" fill="#67001f"/>
<rect x="417.45" y="618.79" width="21.53" height="11.11" fill="#b2182b"/>
<rect x="438.38" y="618.79" width="21.53" height="11.11" fill="#d6604d"/>
<rect x="459.31" y="618.79" width="42.46" height="11.11" fill="#f8c0a4"/>
<rect x="501.17" y="618.79" width="21.53" height="11.11" fill="#f4a582"/>
<rect x="522.10" y="618.79" width="21.53" height="11.11" fill="#e58268"/>
<rect x="543.03" y="618.79" width="20.93" height="11.11" fill="#fddbc7"/>
<rect x="124.44" y="629.30" width="21.53" height="11.11" fill="#b2d5e7"/>
<rect x="145.37" y="629.30" width="21.53" height="11.11" fill="#f8e9de"/>
<rect x="166.30" y="629.30" width="21.53" height="11.11" fill="#e58268"/>
<rect x="187.23" y="629.30" width="21.53" height="11.11" fill="#b2182b"/>
<rect x="208.16" y="629.30" width="42.46" height="11.11" fill="#8c0c25"/>
<rect x="250.02" y="629.30" width="21.53" height="11.11" fill="#d6604d"/>
<rect x="270.95" y="629.30" width="21.53" height="11.11" fill="#e58268"/>
<rect x="291.88" y="629.30" width="63.39" height="11.11" fill="#f8c0a4"/>
<rect x="354.66" y="629.30" width="21.53" height="11.11" fill="#b2182b"/>
<rect x="375.59" y="629.30" width="63.39" height="11.11" fill="#67001f"/>
<rect x="438.38" y="629.30" width="21.53" height="11.11" fill="#c43c3c"/>
<rect x="459.31" y="629.30" width="42.46" height="11.11" fill="#f4a582"/>
<rect x="501.17" y="629.30" width="21.53" height="11.11" fill="#d6604d"/>
<rect x="522.10" y="629.30" width="21.53" height="11.11" fill="#c43c3c"/>
<rect x="543.03" y="629.30" width="20.93" height="11.11" fill="#f8c0a4"/>
<rect x="124.44" y="639.81" width="21.53" height="11.11" fill="#b2d5e7"/>
<rect x="145.37" y="639.81" width="21.53" height="11.11" fill="#fddbc7"/>
<rect x="166.30" y="639.81" width="21.53" height="11.11" fill="#c43c3c"/>
<rect x="187.23" y="639.81" width="21.53" height="11.11" fill="#b2182b"/>
<rect x="208.16" y="639.81" width="21.53" height="11.11" fill="#67001f"/>
<rect x="229.09" y="639.81" width="21.53" height="11.11" fill="#8c0c25"/>
<rect x="250.02" y="639.81" width="21.53" height="11.11" fill="#d6604d"/>
<rect x="270.95" y="639.81" width="21.53" height="11.11" fill="#e58268"/>
<rect x="291.88" y="639.81" width="63.39" height="11.11" fill="#f4a582"/>
<rect x="354.66" y="639.81" width="21.53" height="11.11" fill="#8c0c25"/>
<rect x="375.59" y="639.81" width="63.39" height="11.11" fill="#67001f"/>
<rect x="438.38" y="639.81" width="21.53" height="11.11" fill="#c43c3c"/>
<rect x="459.31" y="639.81" width="21.53" height="11.11" fill="#f4a582"/>
<rect x="480.24" y="639.81" width="21.53" height="11.11" fill="#d6604d"/>
<rect x="501.17" y="639.81" width="21.53" height="11.11" fill="#c43c3c"/>
<rect x="522.10" y="639.81" width="21.53" height="11.11" fill="#b2182b"/>
<rect x="543.03" y="639.81" width="20.93" height="11.11" fill="#f4a582"/>
<rect x="124.44" y="650.31" width="21.53" height="11.11" fill="#d1e5f0"/>
<rect x="145.37" y="650.31" width="21.53" height="11.11" fill="#fddbc7"/>
<rect x="166.30" y="650.31" width="21.53" height="11.11" fill="#d6604d"/>
<rect x="187.23" y="650.31" width="21.53" height="11.11" fill="#8c0c25"/>
<rect x="208.16" y="650.31" width="21.53" height="11.11" fill="#67001f"/>
<rect x="229.09" y="650.31" width="21.53" height="11.11" fill="#8c0c25"/>
<rect x="250.02" y="650.31" width="21.53" height="11.11" fill="#c43c3c"/>
<rect x="270.95" y="650.31" width="21.53" height="11.11" fill="#d6604d"/>
<rect x="291.88" y="650.31" width="21.53" height="11.11" fill="#f4a582"/>
<rect x="312.81" y="650.31" width="42.46" height="11.11" fill="#e58268"/>
<rect x="354.66" y="650.31" width="84.32" height="11.11" fill="#8c0c25"/>
<rect x="438.38" y="650.31" width="21.53" height="11.11" fill="#c43c3c"/>
<rect x="459.31" y="650.31" width="21.53" height="11.11" fill="#d6604d"/>
<rect x="480.24" y="650.31" width="21.53" height="11.11" fill="#c43c3c"/>
<rect x="501.17" y="650.31" width="42.46" height="11.11" fill="#b2182b"/>
<rect x="543.03" y="650.31" width="20.93" height="11.11" fill="#f4a582"/>
<rect x="124.44" y="660.82" width="21.53" height="11.11" fill="#d1e5f0"/>
<rect x="145.37" y="660.82" width="21.53" height="11.11" fill="#f8c0a4"/>
<rect x="166.30" y="660.82" width="21.53" height="11.11" fill="#d6604d"/>
<rect x="187.23" y="660.82" width="21.53" height="11.11" fill="#b2182b"/>
<rect x="208.16" y="660.82" width="21.53" height="11.11" fill="#67001f"/>
<rect x="229.09" y="660.82" width="21.53" height="11.11" fill="#b2182b"/>
<rect x="250.02" y="660.82" width="21.53" height="11.11" fill="#c43c3c"/>
<rect x="270.95" y="660.82" width="21.53" height="11.11" fill="#d6604d"/>
<rect x="291.88" y="660.82" width="21.53" height="11.11" fill="#f4a582"/>
<rect x="312.81" y="660.82" width="21.53" height="11.11" fill="#e58268"/>
<rect x="333.74" y="660.82" width="21.53" height="11.11" fill="#d6604d"/>
<rect x="354.66" y="660.82" width="42.46" height="11.11" fill="#8c0c25"/>
<rect x="396.52" y="660.82" width="21.53" height="11.11" fill="#b2182b"/>
<rect x="417.45" y="660.82" width="21.53" height="11.11" fill="#8c0c25"/>
<rect x="438.38" y="660.82" width="21.53" height="11.11" fill="#b2182b"/>
<rect x="459.31" y="660.82" width="21.53" height="11.11" fill="#c43c3c"/>
<rect x="480.24" y="660.82" width="42.46" height="11.11" fill="#b2182b"/>
<rect x="522.10" y="660.82" width="21.53" height="11.11" fill="#c43c3c"/>
<rect x="543.03" y="660.82" width="20.93" height="11.11" fill="#f4a582"/>
<rect x="124.44" y="671.33" width="21.53" height="11.11" fill="#d1e5f0"/>
<rect x="145.37" y="671.33" width="21.53" height="11.11" fill="#f8c0a4"/>
<rect x="166.30" y="671.33" width="21.53" height="11.11" fill="#e58268"/>
<rect x="187.23" y="671.33" width="21.53" height="11.11" fill="#b2182b"/>
<rect x="208.16" y="671.33" width="21.53" height="11.11" fill="#67001f"/>
<rect x="229.09" y="671.33" width="21.53" height="11.11" fill="#b2182b"/>
<rect x="250.02" y="671.33" width="21.53" height="11.11" fill="#c43c3c"/>
<rect x="270.95" y="671.33" width="21.53" height="11.11" fill="#d6604d"/>
<rect x="291.88" y="671.33" width="21.53" height="11.11" fill="#e58268"/>
<rect x="312.81" y="671.33" width="21.53" height="11.11" fill="#d6604d"/>
<rect x="333.74" y="671.33" width="21.53" height="11.11" fill="#c43c3c"/>
<rect x="354.66" y="671.33" width="21.53" height="11.11" fill="#b2182b"/>
<rect x="375.59" y="671.33" width="21.53" height="11.11" fill="#8c0c25"/>
<rect x="396.52" y="671.33" width="21.53" height="11.11" fill="#b2182b"/>
<rect x="417.45" y="671.33" width="42.46" height="11.11" fill="#67001f"/>
<rect x="459.31" y="671.33" width="63.39" height="11.11" fill="#8c0c25"/>
<rect x="522.10" y="671.33" width="21.53" height="11.11" fill="#b2182b"/>
<rect x="543.03" y="671.33" width="20.93" height="11.11" fill="#e58268"/>
<rect x="124.44" y="681.83" width="21.53" height="11.11" fill="#f4f7f4"/>
<rect x="145.37" y="681.83" width="21.53" height="11.11" fill="#f8c0a4"/>
<rect x="166.30" y="681.83" width="21.53" height="11.11" fill="#e58268"/>
<rect x="187.23" y="681.83" width="21.53" height="11.11" fill="#c43c3c"/>
<rect x="208.16" y="681.83" width="63.39" height="11.11" fill="#8c0c25"/>
<rect x="270.95" y="681.83" width="21.53" height="11.11" fill="#b2182b"/>
<rect x="291.88" y="681.83" width="21.53" height="11.11" fill="#d6604d"/>
<rect x="312.81" y="681.83" width="42.46" height="11.11" fill="#c43c3c"/>
<rect x="354.66" y="681.83" width="21.53" height="11.11" fill="#b2182b"/>
<rect x="375.59" y="681.83" width="21.53" height="11.11" fill="#67001f"/>
<rect x="396.52" y="681.83" width="21.53" height="11.11" fill="#8c0c25"/>
<rect x="417.45" y="681.83" width="105.25" height="11.11" fill="#67001f"/>
<rect x="522.10" y="681.83" width="21.53" height="11.11" fill="#8c0c25"/>
<rect x="543.03" y="681.83" width="20.93" height="11.11" fill="#c43c3c"/>
<rect x="124.44" y="692.34" width="21.53" height="11.11" fill="#f8e9de"/>
<rect x="145.37" y="692.34" width="21.53" height="11.11" fill="#f8c0a4"/>
<rect x="166.30" y="692.34" width="21.53" height="11.11" fill="#f4a582"/>
<rect x="187.23" y="692.34" width="21.53" height="11.11" fill="#d6604d"/>
<rect x="208.16" y="692.34" width="21.53" height="11.11" fill="#b2182b"/>
<rect x="229.09" y="692.34" width="21.53" height="11.11" fill="#8c0c25"/>
<rect x="250.02" y="692.34" width="21.53" height="11.11" fill="#67001f"/>
<rect x="270.95" y="692.34" width="21.53" height="11.11" fill="#8c0c25"/>
<rect x="291.88" y="692.34" width="63.39" height="11.11" fill="#b2182b"/>
<rect x="354.66" y="692.34" width="21.53" height="11.11" fill="#8c0c25"/>
<rect x="375.59" y="692.34" width="168.04" height="11.11" fill="#67001f"/>
<rect x="543.03" y="692.34" width="20.93" height="11.11" fill="#8c0c25"/>
<rect x="124.44" y="702.85" width="21.53" height="11.11" fill="#f8e9de"/>
<rect x="145.37" y="702.85" width="21.53" height="11.11" fill="#f8c0a4"/>
<rect x="166.30" y="702.85" width="21.53" height="11.11" fill="#f4a582"/>
<rect x="187.23" y="702.85" width="21.53" height="11.11" fill="#d6604d"/>
<rect x="208.16" y="702.85" width="21.53" height="11.11" fill="#c43c3c"/>
<rect x="229.09" y="702.85" width="21.53" height="11.11" fill="#8c0c25"/>
<rect x="250.02" y="702.85" width="42.46" height="11.11" fill="#67001f"/>
<rect x="291.88" y="702.85" width="63.39" height="11.11" fill="#8c0c25"/>
<rect x="354.66" y="702.85" width="209.30" height="11.11" fill="#67001f"/>
<rect x="124.44" y="713.35" width="21.53" height="11.11" fill="#fddbc7"/>
<rect x="145.37" y="713.35" width="21.53" height="11.11" fill="#f8c0a4"/>
<rect x="166.30" y="713.35" width="21.53" height="11.11" fill="#f4a582"/>
<rect x="187.23" y="713.35" width="21.53" height="11.11" fill="#d6604d"/>
<rect x="208.16" y="713.35" width="21.53" height="11.11" fill="#c43c3c"/>
<rect x="229.09" y="713.35" width="21.53" height="11.11" fill="#8c0c25"/>
<rect x="250.02" y="713.35" width="313.94" height="11.11" fill="#67001f"/>
<rect x="124.44" y="723.86" width="21.53" height="11.11" fill="#f8c0a4"/>
<rect x="145.37" y="723.86" width="21.53" height="11.11" fill="#e58268"/>
<rect x="166.30" y="723.86" width="21.53" height="11.11" fill="#c43c3c"/>
<rect x="187.23" y="723.86" width="21.53" height="11.11" fill="#b2182b"/>
<rect x="208.16" y="723.86" width="21.53" height="11.11" fill="#8c0c25"/>
<rect x="229.09" y="723.86" width="334.87" height="11.11" fill="#67001f"/>
<rect x="124.44" y="734.37" width="21.53" height="11.11" fill="#e58268"/>
<rect x="145.37" y="734.37" width="21.53" height="11.11" fill="#c43c3c"/>
<rect x="166.30" y="734.37" width="21.53" height="11.11" fill="#b2182b"/>
<rect x="187.23" y="734.37" width="21.53" height="11.11" fill="#8c0c25"/>
<rect x="208.16" y="734.37" width="335.47" height="11.11" fill="#67001f"/>
<rect x="543.03" y="734.37" width="20.93" height="11.11" fill="#8c0c25"/>
<rect x="124.44" y="744.87" width="21.53" height="9.21" fill="#d6604d"/>
<rect x="145.37" y="744.87" width="21.53" height="9.21" fill="#c43c3c"/>
<rect x="166.30" y="744.87" width="21.53" height="9.21" fill="#b2182b"/>
<rect x="187.23" y="744.87" width="21.53" height="9.21" fill="#8c0c25"/>
<rect x="208.16" y="744.87" width="230.82" height="9.21" fill="#67001f"/>
<rect x="438.38" y="744.87" width="84.32" height="9.21" fill="#8c0c25"/>
<rect x="522.10" y="744.87" width="21.53" height="9.21" fill="#b2182b"/>
<rect x="543.03" y="744.87" width="20.93" height="9.21" fill="#c43c3c"/>
</g>
<path d="M124.44 503.22 V754.08 H563.96" fill="none" stroke="#262626" stroke-width="2.7" stroke-linecap="square"/>
<path d="M124.44 505.90 h-5.6" stroke="#262626" stroke-width="2.7"/>
<text transform="matrix(0.27440 0 0 0.24500 80.08 514.05)" font-size="100" fill="#3d3a3a">25</text>
<path d="M124.44 559.55 h-5.6" stroke="#262626" stroke-width="2.7"/>
<text transform="matrix(0.27440 0 0 0.24500 79.94 567.70)" font-size="100" fill="#3d3a3a">20</text>
<path d="M124.44 613.20 h-5.6" stroke="#262626" stroke-width="2.7"/>
<text transform="matrix(0.27440 0 0 0.24500 80.08 621.23)" font-size="100" fill="#3d3a3a">15</text>
<path d="M124.44 666.85 h-5.6" stroke="#262626" stroke-width="2.7"/>
<text transform="matrix(0.27440 0 0 0.24500 79.94 675.00)" font-size="100" fill="#3d3a3a">10</text>
<path d="M124.44 720.50 h-5.6" stroke="#262626" stroke-width="2.7"/>
<text transform="matrix(0.27440 0 0 0.24500 95.31 728.53)" font-size="100" fill="#3d3a3a">5</text>
<path d="M129.80 754.08 v5.2" stroke="#262626" stroke-width="2.7"/>
<text transform="matrix(0.27440 0 0 0.24500 122.12 788.43)" font-size="100" fill="#3d3a3a">0</text>
<path d="M237.00 754.08 v5.2" stroke="#262626" stroke-width="2.7"/>
<text transform="matrix(0.27440 0 0 0.24500 217.93 788.43)" font-size="100" fill="#3d3a3a">0.5</text>
<path d="M344.20 754.08 v5.2" stroke="#262626" stroke-width="2.7"/>
<text transform="matrix(0.27440 0 0 0.24500 336.17 788.19)" font-size="100" fill="#3d3a3a">1</text>
<path d="M451.40 754.08 v5.2" stroke="#262626" stroke-width="2.7"/>
<text transform="matrix(0.27440 0 0 0.24500 431.85 788.19)" font-size="100" fill="#3d3a3a">1.5</text>
<path d="M558.60 754.08 v5.2" stroke="#262626" stroke-width="2.7"/>
<text transform="matrix(0.27440 0 0 0.24500 550.99 788.43)" font-size="100" fill="#3d3a3a">2</text>
<g>
<rect x="702.56" y="503.22" width="21.45" height="11.11" fill="#d1e5f0"/>
<rect x="723.41" y="503.22" width="21.45" height="11.11" fill="#e2eef2"/>
<rect x="744.26" y="503.22" width="21.45" height="11.11" fill="#d1e5f0"/>
<rect x="765.11" y="503.22" width="21.45" height="11.11" fill="#b2d5e7"/>
<rect x="785.97" y="503.22" width="21.45" height="11.11" fill="#d1e5f0"/>
<rect x="806.82" y="503.22" width="21.45" height="11.11" fill="#b2d5e7"/>
<rect x="827.67" y="503.22" width="21.45" height="11.11" fill="#d1e5f0"/>
<rect x="848.52" y="503.22" width="21.45" height="11.11" fill="#92c5de"/>
<rect x="869.37" y="503.22" width="21.45" height="11.11" fill="#b2d5e7"/>
<rect x="890.22" y="503.22" width="42.30" height="11.11" fill="#f4f7f4"/>
<rect x="931.93" y="503.22" width="104.86" height="11.11" fill="#e2eef2"/>
<rect x="1036.18" y="503.22" width="21.45" height="11.11" fill="#f4f7f4"/>
<rect x="1057.03" y="503.22" width="21.45" height="11.11" fill="#b2d5e7"/>
<rect x="1077.89" y="503.22" width="42.30" height="11.11" fill="#d1e5f0"/>
<rect x="1119.59" y="503.22" width="20.85" height="11.11" fill="#92c5de"/>
<rect x="702.56" y="513.72" width="21.45" height="11.11" fill="#d1e5f0"/>
<rect x="723.41" y="513.72" width="21.45" height="11.11" fill="#e2eef2"/>
<rect x="744.26" y="513.72" width="21.45" height="11.11" fill="#d1e5f0"/>
<rect x="765.11" y="513.72" width="21.45" height="11.11" fill="#b2d5e7"/>
<rect x="785.97" y="513.72" width="21.45" height="11.11" fill="#d1e5f0"/>
<rect x="806.82" y="513.72" width="21.45" height="11.11" fill="#b2d5e7"/>
<rect x="827.67" y="513.72" width="21.45" height="11.11" fill="#d1e5f0"/>
<rect x="848.52" y="513.72" width="21.45" height="11.11" fill="#92c5de"/>
<rect x="869.37" y="513.72" width="21.45" height="11.11" fill="#d1e5f0"/>
<rect x="890.22" y="513.72" width="42.30" height="11.11" fill="#f4f7f4"/>
<rect x="931.93" y="513.72" width="104.86" height="11.11" fill="#e2eef2"/>
<rect x="1036.18" y="513.72" width="21.45" height="11.11" fill="#f4f7f4"/>
<rect x="1057.03" y="513.72" width="21.45" height="11.11" fill="#d1e5f0"/>
<rect x="1077.89" y="513.72" width="42.30" height="11.11" fill="#e2eef2"/>
<rect x="1119.59" y="513.72" width="20.85" height="11.11" fill="#b2d5e7"/>
<rect x="702.56" y="524.23" width="42.30" height="11.11" fill="#e2eef2"/>
<rect x="744.26" y="524.23" width="21.45" height="11.11" fill="#d1e5f0"/>
<rect x="765.11" y="524.23" width="21.45" height="11.11" fill="#b2d5e7"/>
<rect x="785.97" y="524.23" width="21.45" height="11.11" fill="#d1e5f0"/>
<rect x="806.82" y="524.23" width="42.30" height="11.11" fill="#b2d5e7"/>
<rect x="848.52" y="524.23" width="42.30" height="11.11" fill="#d1e5f0"/>
<rect x="890.22" y="524.23" width="84.01" height="11.11" fill="#f4f7f4"/>
<rect x="973.63" y="524.23" width="63.15" height="11.11" fill="#e2eef2"/>
<rect x="1036.18" y="524.23" width="21.45" height="11.11" fill="#f8e9de"/>
<rect x="1057.03" y="524.23" width="21.45" height="11.11" fill="#d1e5f0"/>
<rect x="1077.89" y="524.23" width="42.30" height="11.11" fill="#f4f7f4"/>
<rect x="1119.59" y="524.23" width="20.85" height="11.11" fill="#b2d5e7"/>
<rect x="702.56" y="534.74" width="42.30" height="11.11" fill="#e2eef2"/>
<rect x="744.26" y="534.74" width="63.15" height="11.11" fill="#d1e5f0"/>
<rect x="806.82" y="534.74" width="42.30" height="11.11" fill="#b2d5e7"/>
<rect x="848.52" y="534.74" width="21.45" height="11.11" fill="#d1e5f0"/>
<rect x="869.37" y="534.74" width="21.45" height="11.11" fill="#e2eef2"/>
<rect x="890.22" y="534.74" width="104.86" height="11.11" fill="#f4f7f4"/>
<rect x="994.48" y="534.74" width="42.30" height="11.11" fill="#e2eef2"/>
<rect x="1036.18" y="534.74" width="21.45" height="11.11" fill="#f8e9de"/>
<rect x="1057.03" y="534.74" width="21.45" height="11.11" fill="#d1e5f0"/>
<rect x="1077.89" y="534.74" width="42.30" height="11.11" fill="#f4f7f4"/>
<rect x="1119.59" y="534.74" width="20.85" height="11.11" fill="#d1e5f0"/>
<rect x="702.56" y="545.24" width="63.15" height="11.11" fill="#e2eef2"/>
<rect x="765.11" y="545.24" width="42.30" height="11.11" fill="#d1e5f0"/>
<rect x="806.82" y="545.24" width="21.45" height="11.11" fill="#b2d5e7"/>
<rect x="827.67" y="545.24" width="21.45" height="11.11" fill="#d1e5f0"/>
<rect x="848.52" y="545.24" width="42.30" height="11.11" fill="#e2eef2"/>
<rect x="890.22" y="545.24" width="21.45" height="11.11" fill="#f4f7f4"/>
<rect x="911.07" y="545.24" width="21.45" height="11.11" fill="#f8e9de"/>
<rect x="931.93" y="545.24" width="63.15" height="11.11" fill="#f4f7f4"/>
<rect x="994.48" y="545.24" width="42.30" height="11.11" fill="#e2eef2"/>
<rect x="1036.18" y="545.24" width="21.45" height="11.11" fill="#f8e9de"/>
<rect x="1057.03" y="545.24" width="21.45" height="11.11" fill="#e2eef2"/>
<rect x="1077.89" y="545.24" width="42.30" height="11.11" fill="#f8e9de"/>
<rect x="1119.59" y="545.24" width="20.85" height="11.11" fill="#d1e5f0"/>
<rect x="702.56" y="555.75" width="21.45" height="11.11" fill="#e2eef2"/>
<rect x="723.41" y="555.75" width="21.45" height="11.11" fill="#f4f7f4"/>
<rect x="744.26" y="555.75" width="21.45" height="11.11" fill="#e2eef2"/>
<rect x="765.11" y="555.75" width="42.30" height="11.11" fill="#d1e5f0"/>
<rect x="806.82" y="555.75" width="21.45" height="11.11" fill="#b2d5e7"/>
<rect x="827.67" y="555.75" width="21.45" height="11.11" fill="#d1e5f0"/>
<rect x="848.52" y="555.75" width="42.30" height="11.11" fill="#e2eef2"/>
<rect x="890.22" y="555.75" width="21.45" height="11.11" fill="#f4f7f4"/>
<rect x="911.07" y="555.75" width="21.45" height="11.11" fill="#f8e9de"/>
<rect x="931.93" y="555.75" width="63.15" height="11.11" fill="#f4f7f4"/>
<rect x="994.48" y="555.75" width="42.30" height="11.11" fill="#e2eef2"/>
<rect x="1036.18" y="555.75" width="21.45" height="11.11" fill="#f8e9de"/>
<rect x="1057.03" y="555.75" width="21.45" height="11.11" fill="#e2eef2"/>
<rect x="1077.89" y="555.75" width="21.45" height="11.11" fill="#f4f7f4"/>
<rect x="1098.74" y="555.75" width="21.45" height="11.11" fill="#f8e9de"/>
<rect x="1119.59" y="555.75" width="20.85" height="11.11" fill="#e2eef2"/>
<rect x="702.56" y="566.26" width="21.45" height="11.11" fill="#d1e5f0"/>
<rect x="723.41" y="566.26" width="42.30" height="11.11" fill="#f4f7f4"/>
<rect x="765.11" y="566.26" width="63.15" height="11.11" fill="#d1e5f0"/>
<rect x="827.67" y="566.26" width="63.15" height="11.11" fill="#e2eef2"/>
<rect x="890.22" y="566.26" width="21.45" height="11.11" fill="#f4f7f4"/>
<rect x="911.07" y="566.26" width="21.45" height="11.11" fill="#f8e9de"/>
<rect x="931.93" y="566.26" width="63.15" height="11.11" fill="#f4f7f4"/>
<rect x="994.48" y="566.26" width="21.45" height="11.11" fill="#d1e5f0"/>
<rect x="1015.33" y="566.26" width="21.45" height="11.11" fill="#e2eef2"/>
<rect x="1036.18" y="566.26" width="21.45" height="11.11" fill="#f4f7f4"/>
<rect x="1057.03" y="566.26" width="21.45" height="11.11" fill="#f8e9de"/>
<rect x="1077.89" y="566.26" width="21.45" height="11.11" fill="#fddbc7"/>
<rect x="1098.74" y="566.26" width="21.45" height="11.11" fill="#f8e9de"/>
<rect x="1119.59" y="566.26" width="20.85" height="11.11" fill="#e2eef2"/>
<rect x="702.56" y="576.77" width="21.45" height="11.11" fill="#e2eef2"/>
<rect x="723.41" y="576.77" width="42.30" height="11.11" fill="#f4f7f4"/>
<rect x="765.11" y="576.77" width="21.45" height="11.11" fill="#e2eef2"/>
<rect x="785.97" y="576.77" width="21.45" height="11.11" fill="#d1e5f0"/>
<rect x="806.82" y="576.77" width="84.01" height="11.11" fill="#e2eef2"/>
<rect x="890.22" y="576.77" width="42.30" height="11.11" fill="#f4f7f4"/>
<rect x="931.93" y="576.77" width="42.30" height="11.11" fill="#e2eef2"/>
<rect x="973.63" y="576.77" width="42.30" height="11.11" fill="#d1e5f0"/>
<rect x="1015.33" y="576.77" width="21.45" height="11.11" fill="#e2eef2"/>
<rect x="1036.18" y="576.77" width="21.45" height="11.11" fill="#f4f7f4"/>
<rect x="1057.03" y="576.77" width="21.45" height="11.11" fill="#fddbc7"/>
<rect x="1077.89" y="576.77" width="42.30" height="11.11" fill="#f8c0a4"/>
<rect x="1119.59" y="576.77" width="20.85" height="11.11" fill="#f4f7f4"/>
<rect x="702.56" y="587.27" width="21.45" height="11.11" fill="#e2eef2"/>
<rect x="723.41" y="587.27" width="42.30" height="11.11" fill="#f8e9de"/>
<rect x="765.11" y="587.27" width="21.45" height="11.11" fill="#e2eef2"/>
<rect x="785.97" y="587.27" width="21.45" height="11.11" fill="#d1e5f0"/>
<rect x="806.82" y="587.27" width="42.30" height="11.11" fill="#e2eef2"/>
<rect x="848.52" y="587.27" width="42.30" height="11.11" fill="#d1e5f0"/>
<rect x="890.22" y="587.27" width="42.30" height="11.11" fill="#f4f7f4"/>
<rect x="931.93" y="587.27" width="104.86" height="11.11" fill="#d1e5f0"/>
<rect x="1036.18" y="587.27" width="21.45" height="11.11" fill="#e2eef2"/>
<rect x="1057.03" y="587.27" width="21.45" height="11.11" fill="#fddbc7"/>
<rect x="1077.89" y="587.27" width="42.30" height="11.11" fill="#f8c0a4"/>
<rect x="1119.59" y="587.27" width="20.85" height="11.11" fill="#f4f7f4"/>
<rect x="702.56" y="597.78" width="21.45" height="11.11" fill="#e2eef2"/>
<rect x="723.41" y="597.78" width="21.45" height="11.11" fill="#f8e9de"/>
<rect x="744.26" y="597.78" width="21.45" height="11.11" fill="#fddbc7"/>
<rect x="765.11" y="597.78" width="21.45" height="11.11" fill="#f4f7f4"/>
<rect x="785.97" y="597.78" width="21.45" height="11.11" fill="#e2eef2"/>
<rect x="806.82" y="597.78" width="42.30" height="11.11" fill="#f4f7f4"/>
<rect x="848.52" y="597.78" width="84.01" height="11.11" fill="#e2eef2"/>
<rect x="931.93" y="597.78" width="42.30" height="11.11" fill="#d1e5f0"/>
<rect x="973.63" y="597.78" width="21.45" height="11.11" fill="#b2d5e7"/>
<rect x="994.48" y="597.78" width="42.30" height="11.11" fill="#d1e5f0"/>
<rect x="1036.18" y="597.78" width="21.45" height="11.11" fill="#e2eef2"/>
<rect x="1057.03" y="597.78" width="21.45" height="11.11" fill="#fddbc7"/>
<rect x="1077.89" y="597.78" width="21.45" height="11.11" fill="#f8c0a4"/>
<rect x="1098.74" y="597.78" width="21.45" height="11.11" fill="#f4a582"/>
<rect x="1119.59" y="597.78" width="20.85" height="11.11" fill="#f4f7f4"/>
<rect x="702.56" y="608.29" width="21.45" height="11.11" fill="#e2eef2"/>
<rect x="723.41" y="608.29" width="21.45" height="11.11" fill="#f4f7f4"/>
<rect x="744.26" y="608.29" width="21.45" height="11.11" fill="#fddbc7"/>
<rect x="765.11" y="608.29" width="21.45" height="11.11" fill="#f8e9de"/>
<rect x="785.97" y="608.29" width="21.45" height="11.11" fill="#e2eef2"/>
<rect x="806.82" y="608.29" width="42.30" height="11.11" fill="#f4f7f4"/>
<rect x="848.52" y="608.29" width="84.01" height="11.11" fill="#e2eef2"/>
<rect x="931.93" y="608.29" width="63.15" height="11.11" fill="#b2d5e7"/>
<rect x="994.48" y="608.29" width="63.15" height="11.11" fill="#d1e5f0"/>
<rect x="1057.03" y="608.29" width="21.45" height="11.11" fill="#f8e9de"/>
<rect x="1077.89" y="608.29" width="21.45" height="11.11" fill="#f8c0a4"/>
<rect x="1098.74" y="608.29" width="21.45" height="11.11" fill="#f4a582"/>
<rect x="1119.59" y="608.29" width="20.85" height="11.11" fill="#f4f7f4"/>
<rect x="702.56" y="618.79" width="21.45" height="11.11" fill="#f4f7f4"/>
<rect x="723.41" y="618.79" width="21.45" height="11.11" fill="#f8e9de"/>
<rect x="744.26" y="618.79" width="42.30" height="11.11" fill="#fddbc7"/>
<rect x="785.97" y="618.79" width="84.01" height="11.11" fill="#f4f7f4"/>
<rect x="869.37" y="618.79" width="63.15" height="11.11" fill="#e2eef2"/>
<rect x="931.93" y="618.79" width="42.30" height="11.11" fill="#b2d5e7"/>
<rect x="973.63" y="618.79" width="21.45" height="11.11" fill="#92c5de"/>
<rect x="994.48" y="618.79" width="21.45" height="11.11" fill="#d1e5f0"/>
<rect x="1015.33" y="618.79" width="21.45" height="11.11" fill="#b2d5e7"/>
<rect x="1036.18" y="618.79" width="21.45" height="11.11" fill="#f4f7f4"/>
<rect x="1057.03" y="618.79" width="21.45" height="11.11" fill="#fddbc7"/>
<rect x="1077.89" y="618.79" width="21.45" height="11.11" fill="#f4a582"/>
<rect x="1098.74" y="618.79" width="21.45" height="11.11" fill="#e58268"/>
<rect x="1119.59" y="618.79" width="20.85" height="11.11" fill="#f4f7f4"/>
<rect x="702.56" y="629.30" width="21.45" height="11.11" fill="#f8e9de"/>
<rect x="723.41" y="629.30" width="63.15" height="11.11" fill="#fddbc7"/>
<rect x="785.97" y="629.30" width="21.45" height="11.11" fill="#f8e9de"/>
<rect x="806.82" y="629.30" width="21.45" height="11.11" fill="#f4f7f4"/>
<rect x="827.67" y="629.30" width="42.30" height="11.11" fill="#e2eef2"/>
<rect x="869.37" y="629.30" width="63.15" height="11.11" fill="#d1e5f0"/>
<rect x="931.93" y="629.30" width="21.45" height="11.11" fill="#92c5de"/>
<rect x="952.78" y="629.30" width="21.45" height="11.11" fill="#b2d5e7"/>
<rect x="973.63" y="629.30" width="21.45" height="11.11" fill="#6aacd0"/>
<rect x="994.48" y="629.30" width="21.45" height="11.11" fill="#b2d5e7"/>
<rect x="1015.33" y="629.30" width="21.45" height="11.11" fill="#92c5de"/>
<rect x="1036.18" y="629.30" width="21.45" height="11.11" fill="#f4f7f4"/>
<rect x="1057.03" y="629.30" width="21.45" height="11.11" fill="#f8e9de"/>
<rect x="1077.89" y="629.30" width="42.30" height="11.11" fill="#f8c0a4"/>
<rect x="1119.59" y="629.30" width="20.85" height="11.11" fill="#f4f7f4"/>
<rect x="702.56" y="639.81" width="21.45" height="11.11" fill="#f8e9de"/>
<rect x="723.41" y="639.81" width="42.30" height="11.11" fill="#f4a582"/>
<rect x="765.11" y="639.81" width="21.45" height="11.11" fill="#f8e9de"/>
<rect x="785.97" y="639.81" width="21.45" height="11.11" fill="#f4f7f4"/>
<rect x="806.82" y="639.81" width="63.15" height="11.11" fill="#e2eef2"/>
<rect x="869.37" y="639.81" width="21.45" height="11.11" fill="#d1e5f0"/>
<rect x="890.22" y="639.81" width="21.45" height="11.11" fill="#b2d5e7"/>
<rect x="911.07" y="639.81" width="21.45" height="11.11" fill="#d1e5f0"/>
<rect x="931.93" y="639.81" width="42.30" height="11.11" fill="#4393c3"/>
<rect x="973.63" y="639.81" width="21.45" height="11.11" fill="#327db8"/>
<rect x="994.48" y="639.81" width="21.45" height="11.11" fill="#6aacd0"/>
<rect x="1015.33" y="639.81" width="21.45" height="11.11" fill="#4393c3"/>
<rect x="1036.18" y="639.81" width="21.45" height="11.11" fill="#d1e5f0"/>
<rect x="1057.03" y="639.81" width="21.45" height="11.11" fill="#f8e9de"/>
<rect x="1077.89" y="639.81" width="42.30" height="11.11" fill="#fddbc7"/>
<rect x="1119.59" y="639.81" width="20.85" height="11.11" fill="#e2eef2"/>
<rect x="702.56" y="650.31" width="21.45" height="11.11" fill="#f8e9de"/>
<rect x="723.41" y="650.31" width="42.30" height="11.11" fill="#f4a582"/>
<rect x="765.11" y="650.31" width="21.45" height="11.11" fill="#f8e9de"/>
<rect x="785.97" y="650.31" width="21.45" height="11.11" fill="#f4f7f4"/>
<rect x="806.82" y="650.31" width="42.30" height="11.11" fill="#e2eef2"/>
<rect x="848.52" y="650.31" width="21.45" height="11.11" fill="#f4f7f4"/>
<rect x="869.37" y="650.31" width="21.45" height="11.11" fill="#d1e5f0"/>
<rect x="890.22" y="650.31" width="21.45" height="11.11" fill="#b2d5e7"/>
<rect x="911.07" y="650.31" width="21.45" height="11.11" fill="#d1e5f0"/>
<rect x="931.93" y="650.31" width="21.45" height="11.11" fill="#4393c3"/>
<rect x="952.78" y="650.31" width="42.30" height="11.11" fill="#327db8"/>
<rect x="994.48" y="650.31" width="42.30" height="11.11" fill="#4393c3"/>
<rect x="1036.18" y="650.31" width="21.45" height="11.11" fill="#b2d5e7"/>
<rect x="1057.03" y="650.31" width="21.45" height="11.11" fill="#f8e9de"/>
<rect x="1077.89" y="650.31" width="42.30" height="11.11" fill="#f4f7f4"/>
<rect x="1119.59" y="650.31" width="20.85" height="11.11" fill="#e2eef2"/>
<rect x="702.56" y="660.82" width="21.45" height="11.11" fill="#f8e9de"/>
<rect x="723.41" y="660.82" width="42.30" height="11.11" fill="#f8c0a4"/>
<rect x="765.11" y="660.82" width="42.30" height="11.11" fill="#f4f7f4"/>
<rect x="806.82" y="660.82" width="21.45" height="11.11" fill="#d1e5f0"/>
<rect x="827.67" y="660.82" width="63.15" height="11.11" fill="#e2eef2"/>
<rect x="890.22" y="660.82" width="21.45" height="11.11" fill="#d1e5f0"/>
<rect x="911.07" y="660.82" width="21.45" height="11.11" fill="#b2d5e7"/>
<rect x="931.93" y="660.82" width="21.45" height="11.11" fill="#4393c3"/>
<rect x="952.78" y="660.82" width="42.30" height="11.11" fill="#327db8"/>
<rect x="994.48" y="660.82" width="42.30" height="11.11" fill="#4393c3"/>
<rect x="1036.18" y="660.82" width="21.45" height="11.11" fill="#92c5de"/>
<rect x="1057.03" y="660.82" width="83.41" height="11.11" fill="#e2eef2"/>
<rect x="702.56" y="671.33" width="21.45" height="11.11" fill="#f4f7f4"/>
<rect x="723.41" y="671.33" width="42.30" height="11.11" fill="#f8e9de"/>
<rect x="765.11" y="671.33" width="21.45" height="11.11" fill="#f4f7f4"/>
<rect x="785.97" y="671.33" width="42.30" height="11.11" fill="#d1e5f0"/>
<rect x="827.67" y="671.33" width="63.15" height="11.11" fill="#e2eef2"/>
<rect x="890.22" y="671.33" width="21.45" height="11.11" fill="#d1e5f0"/>
<rect x="911.07" y="671.33" width="21.45" height="11.11" fill="#b2d5e7"/>
<rect x="931.93" y="671.33" width="21.45" height="11.11" fill="#4393c3"/>
<rect x="952.78" y="671.33" width="21.45" height="11.11" fill="#327db8"/>
<rect x="973.63" y="671.33" width="21.45" height="11.11" fill="#2166ac"/>
<rect x="994.48" y="671.33" width="42.30" height="11.11" fill="#327db8"/>
<rect x="1036.18" y="671.33" width="21.45" height="11.11" fill="#6aacd0"/>
<rect x="1057.03" y="671.33" width="21.45" height="11.11" fill="#b2d5e7"/>
<rect x="1077.89" y="671.33" width="62.55" height="11.11" fill="#d1e5f0"/>
<rect x="702.56" y="681.83" width="21.45" height="11.11" fill="#d1e5f0"/>
<rect x="723.41" y="681.83" width="21.45" height="11.11" fill="#e2eef2"/>
<rect x="744.26" y="681.83" width="21.45" height="11.11" fill="#b2d5e7"/>
<rect x="765.11" y="681.83" width="42.30" height="11.11" fill="#92c5de"/>
<rect x="806.82" y="681.83" width="42.30" height="11.11" fill="#e2eef2"/>
<rect x="848.52" y="681.83" width="42.30" height="11.11" fill="#d1e5f0"/>
<rect x="890.22" y="681.83" width="21.45" height="11.11" fill="#b2d5e7"/>
<rect x="911.07" y="681.83" width="21.45" height="11.11" fill="#92c5de"/>
<rect x="931.93" y="681.83" width="21.45" height="11.11" fill="#4393c3"/>
<rect x="952.78" y="681.83" width="21.45" height="11.11" fill="#327db8"/>
<rect x="973.63" y="681.83" width="21.45" height="11.11" fill="#134b86"/>
<rect x="994.48" y="681.83" width="104.86" height="11.11" fill="#2166ac"/>
<rect x="1098.74" y="681.83" width="41.70" height="11.11" fill="#4393c3"/>
<rect x="702.56" y="692.34" width="21.45" height="11.11" fill="#b2d5e7"/>
<rect x="723.41" y="692.34" width="21.45" height="11.11" fill="#d1e5f0"/>
<rect x="744.26" y="692.34" width="42.30" height="11.11" fill="#92c5de"/>
<rect x="785.97" y="692.34" width="21.45" height="11.11" fill="#b2d5e7"/>
<rect x="806.82" y="692.34" width="21.45" height="11.11" fill="#f4f7f4"/>
<rect x="827.67" y="692.34" width="42.30" height="11.11" fill="#e2eef2"/>
<rect x="869.37" y="692.34" width="42.30" height="11.11" fill="#d1e5f0"/>
<rect x="911.07" y="692.34" width="21.45" height="11.11" fill="#b2d5e7"/>
<rect x="931.93" y="692.34" width="21.45" height="11.11" fill="#6aacd0"/>
<rect x="952.78" y="692.34" width="63.15" height="11.11" fill="#4393c3"/>
<rect x="1015.33" y="692.34" width="21.45" height="11.11" fill="#327db8"/>
<rect x="1036.18" y="692.34" width="42.30" height="11.11" fill="#2166ac"/>
<rect x="1077.89" y="692.34" width="42.30" height="11.11" fill="#327db8"/>
<rect x="1119.59" y="692.34" width="20.85" height="11.11" fill="#4393c3"/>
<rect x="702.56" y="702.85" width="21.45" height="11.11" fill="#b2d5e7"/>
<rect x="723.41" y="702.85" width="42.30" height="11.11" fill="#d1e5f0"/>
<rect x="765.11" y="702.85" width="21.45" height="11.11" fill="#e2eef2"/>
<rect x="785.97" y="702.85" width="21.45" height="11.11" fill="#f4f7f4"/>
<rect x="806.82" y="702.85" width="21.45" height="11.11" fill="#e2eef2"/>
<rect x="827.67" y="702.85" width="42.30" height="11.11" fill="#f4f7f4"/>
<rect x="869.37" y="702.85" width="42.30" height="11.11" fill="#e2eef2"/>
<rect x="911.07" y="702.85" width="21.45" height="11.11" fill="#d1e5f0"/>
<rect x="931.93" y="702.85" width="21.45" height="11.11" fill="#92c5de"/>
<rect x="952.78" y="702.85" width="42.30" height="11.11" fill="#6aacd0"/>
<rect x="994.48" y="702.85" width="42.30" height="11.11" fill="#4393c3"/>
<rect x="1036.18" y="702.85" width="42.30" height="11.11" fill="#327db8"/>
<rect x="1077.89" y="702.85" width="21.45" height="11.11" fill="#2166ac"/>
<rect x="1098.74" y="702.85" width="21.45" height="11.11" fill="#327db8"/>
<rect x="1119.59" y="702.85" width="20.85" height="11.11" fill="#4393c3"/>
<rect x="702.56" y="713.35" width="42.30" height="11.11" fill="#b2d5e7"/>
<rect x="744.26" y="713.35" width="21.45" height="11.11" fill="#d1e5f0"/>
<rect x="765.11" y="713.35" width="104.86" height="11.11" fill="#f4f7f4"/>
<rect x="869.37" y="713.35" width="42.30" height="11.11" fill="#e2eef2"/>
<rect x="911.07" y="713.35" width="21.45" height="11.11" fill="#d1e5f0"/>
<rect x="931.93" y="713.35" width="21.45" height="11.11" fill="#92c5de"/>
<rect x="952.78" y="713.35" width="21.45" height="11.11" fill="#327db8"/>
<rect x="973.63" y="713.35" width="63.15" height="11.11" fill="#2166ac"/>
<rect x="1036.18" y="713.35" width="21.45" height="11.11" fill="#134b86"/>
<rect x="1057.03" y="713.35" width="42.30" height="11.11" fill="#053061"/>
<rect x="1098.74" y="713.35" width="21.45" height="11.11" fill="#134b86"/>
<rect x="1119.59" y="713.35" width="20.85" height="11.11" fill="#4393c3"/>
<rect x="702.56" y="723.86" width="42.30" height="11.11" fill="#f8c0a4"/>
<rect x="744.26" y="723.86" width="167.41" height="11.11" fill="#f4a582"/>
<rect x="911.07" y="723.86" width="21.45" height="11.11" fill="#f8c0a4"/>
<rect x="931.93" y="723.86" width="21.45" height="11.11" fill="#e2eef2"/>
<rect x="952.78" y="723.86" width="21.45" height="11.11" fill="#b2d5e7"/>
<rect x="973.63" y="723.86" width="42.30" height="11.11" fill="#92c5de"/>
<rect x="1015.33" y="723.86" width="63.15" height="11.11" fill="#6aacd0"/>
<rect x="1077.89" y="723.86" width="42.30" height="11.11" fill="#4393c3"/>
<rect x="1119.59" y="723.86" width="20.85" height="11.11" fill="#6aacd0"/>
<rect x="702.56" y="734.37" width="42.30" height="11.11" fill="#d6604d"/>
<rect x="744.26" y="734.37" width="63.15" height="11.11" fill="#c43c3c"/>
<rect x="806.82" y="734.37" width="63.15" height="11.11" fill="#b2182b"/>
<rect x="869.37" y="734.37" width="21.45" height="11.11" fill="#c43c3c"/>
<rect x="890.22" y="734.37" width="21.45" height="11.11" fill="#d6604d"/>
<rect x="911.07" y="734.37" width="21.45" height="11.11" fill="#e58268"/>
<rect x="931.93" y="734.37" width="21.45" height="11.11" fill="#f8c0a4"/>
<rect x="952.78" y="734.37" width="21.45" height="11.11" fill="#f4f7f4"/>
<rect x="973.63" y="734.37" width="21.45" height="11.11" fill="#d1e5f0"/>
<rect x="994.48" y="734.37" width="21.45" height="11.11" fill="#b2d5e7"/>
<rect x="1015.33" y="734.37" width="63.15" height="11.11" fill="#92c5de"/>
<rect x="1077.89" y="734.37" width="62.55" height="11.11" fill="#6aacd0"/>
<rect x="702.56" y="744.87" width="21.45" height="9.21" fill="#f8c0a4"/>
<rect x="723.41" y="744.87" width="63.15" height="9.21" fill="#f4a582"/>
<rect x="785.97" y="744.87" width="84.01" height="9.21" fill="#e58268"/>
<rect x="869.37" y="744.87" width="42.30" height="9.21" fill="#d6604d"/>
<rect x="911.07" y="744.87" width="42.30" height="9.21" fill="#e58268"/>
<rect x="952.78" y="744.87" width="21.45" height="9.21" fill="#f4a582"/>
<rect x="973.63" y="744.87" width="21.45" height="9.21" fill="#fddbc7"/>
<rect x="994.48" y="744.87" width="21.45" height="9.21" fill="#f8e9de"/>
<rect x="1015.33" y="744.87" width="21.45" height="9.21" fill="#e2eef2"/>
<rect x="1036.18" y="744.87" width="21.45" height="9.21" fill="#d1e5f0"/>
<rect x="1057.03" y="744.87" width="63.15" height="9.21" fill="#b2d5e7"/>
<rect x="1119.59" y="744.87" width="20.85" height="9.21" fill="#92c5de"/>
</g>
<path d="M702.56 503.22 V754.08 H1140.44" fill="none" stroke="#262626" stroke-width="2.7" stroke-linecap="square"/>
<path d="M702.56 505.90 h-5.6" stroke="#262626" stroke-width="2.7"/>
<text transform="matrix(0.27440 0 0 0.24500 658.20 514.05)" font-size="100" fill="#3d3a3a">25</text>
<path d="M702.56 559.55 h-5.6" stroke="#262626" stroke-width="2.7"/>
<text transform="matrix(0.27440 0 0 0.24500 658.06 567.70)" font-size="100" fill="#3d3a3a">20</text>
<path d="M702.56 613.20 h-5.6" stroke="#262626" stroke-width="2.7"/>
<text transform="matrix(0.27440 0 0 0.24500 658.20 621.23)" font-size="100" fill="#3d3a3a">15</text>
<path d="M702.56 666.85 h-5.6" stroke="#262626" stroke-width="2.7"/>
<text transform="matrix(0.27440 0 0 0.24500 658.06 675.00)" font-size="100" fill="#3d3a3a">10</text>
<path d="M702.56 720.50 h-5.6" stroke="#262626" stroke-width="2.7"/>
<text transform="matrix(0.27440 0 0 0.24500 673.43 728.53)" font-size="100" fill="#3d3a3a">5</text>
<path d="M707.90 754.08 v5.2" stroke="#262626" stroke-width="2.7"/>
<text transform="matrix(0.27440 0 0 0.24500 700.22 788.43)" font-size="100" fill="#3d3a3a">0</text>
<path d="M814.70 754.08 v5.2" stroke="#262626" stroke-width="2.7"/>
<text transform="matrix(0.27440 0 0 0.24500 795.63 788.43)" font-size="100" fill="#3d3a3a">0.5</text>
<path d="M921.50 754.08 v5.2" stroke="#262626" stroke-width="2.7"/>
<text transform="matrix(0.27440 0 0 0.24500 913.47 788.19)" font-size="100" fill="#3d3a3a">1</text>
<path d="M1028.30 754.08 v5.2" stroke="#262626" stroke-width="2.7"/>
<text transform="matrix(0.27440 0 0 0.24500 1008.75 788.19)" font-size="100" fill="#3d3a3a">1.5</text>
<path d="M1135.10 754.08 v5.2" stroke="#262626" stroke-width="2.7"/>
<text transform="matrix(0.27440 0 0 0.24500 1127.49 788.43)" font-size="100" fill="#3d3a3a">2</text>
<g>
<rect x="1278.84" y="503.22" width="21.53" height="11.11" fill="#fbd9c8"/>
<rect x="1299.77" y="503.22" width="21.53" height="11.11" fill="#fbf2eb"/>
<rect x="1320.70" y="503.22" width="21.53" height="11.11" fill="#fee9dd"/>
<rect x="1341.63" y="503.22" width="21.53" height="11.11" fill="#fbd9c8"/>
<rect x="1362.56" y="503.22" width="21.53" height="11.11" fill="#fbf2eb"/>
<rect x="1383.49" y="503.22" width="21.53" height="11.11" fill="#fee9dd"/>
<rect x="1404.42" y="503.22" width="42.46" height="11.11" fill="#e6a094"/>
<rect x="1446.28" y="503.22" width="21.53" height="11.11" fill="#fbd9c8"/>
<rect x="1467.21" y="503.22" width="21.53" height="11.11" fill="#fbf2eb"/>
<rect x="1488.14" y="503.22" width="21.53" height="11.11" fill="#fee9dd"/>
<rect x="1509.06" y="503.22" width="21.53" height="11.11" fill="#f8c9b4"/>
<rect x="1529.99" y="503.22" width="21.53" height="11.11" fill="#efb4a4"/>
<rect x="1550.92" y="503.22" width="21.53" height="11.11" fill="#f8c9b4"/>
<rect x="1571.85" y="503.22" width="21.53" height="11.11" fill="#fbd9c8"/>
<rect x="1592.78" y="503.22" width="21.53" height="11.11" fill="#fee9dd"/>
<rect x="1613.71" y="503.22" width="21.53" height="11.11" fill="#f8c9b4"/>
<rect x="1634.64" y="503.22" width="21.53" height="11.11" fill="#dc8a8a"/>
<rect x="1655.57" y="503.22" width="21.53" height="11.11" fill="#e6a094"/>
<rect x="1676.50" y="503.22" width="21.53" height="11.11" fill="#f8c9b4"/>
<rect x="1697.43" y="503.22" width="20.93" height="11.11" fill="#efb4a4"/>
<rect x="1278.84" y="513.72" width="21.53" height="11.11" fill="#fee9dd"/>
<rect x="1299.77" y="513.72" width="21.53" height="11.11" fill="#fbf2eb"/>
<rect x="1320.70" y="513.72" width="21.53" height="11.11" fill="#fbd9c8"/>
<rect x="1341.63" y="513.72" width="21.53" height="11.11" fill="#f8c9b4"/>
<rect x="1362.56" y="513.72" width="21.53" height="11.11" fill="#fbf2eb"/>
<rect x="1383.49" y="513.72" width="21.53" height="11.11" fill="#fbd9c8"/>
<rect x="1404.42" y="513.72" width="21.53" height="11.11" fill="#dc8a8a"/>
<rect x="1425.35" y="513.72" width="21.53" height="11.11" fill="#e6a094"/>
<rect x="1446.28" y="513.72" width="21.53" height="11.11" fill="#fbd9c8"/>
<rect x="1467.21" y="513.72" width="21.53" height="11.11" fill="#fbf2eb"/>
<rect x="1488.14" y="513.72" width="21.53" height="11.11" fill="#fee9dd"/>
<rect x="1509.06" y="513.72" width="63.39" height="11.11" fill="#efb4a4"/>
<rect x="1571.85" y="513.72" width="21.53" height="11.11" fill="#fbd9c8"/>
<rect x="1592.78" y="513.72" width="21.53" height="11.11" fill="#fee9dd"/>
<rect x="1613.71" y="513.72" width="21.53" height="11.11" fill="#f8c9b4"/>
<rect x="1634.64" y="513.72" width="21.53" height="11.11" fill="#d17480"/>
<rect x="1655.57" y="513.72" width="21.53" height="11.11" fill="#e6a094"/>
<rect x="1676.50" y="513.72" width="21.53" height="11.11" fill="#f8c9b4"/>
<rect x="1697.43" y="513.72" width="20.93" height="11.11" fill="#efb4a4"/>
<rect x="1278.84" y="524.23" width="21.53" height="11.11" fill="#fee9dd"/>
<rect x="1299.77" y="524.23" width="21.53" height="11.11" fill="#fbf2eb"/>
<rect x="1320.70" y="524.23" width="42.46" height="11.11" fill="#fbd9c8"/>
<rect x="1362.56" y="524.23" width="21.53" height="11.11" fill="#fbf2eb"/>
<rect x="1383.49" y="524.23" width="21.53" height="11.11" fill="#f8c9b4"/>
<rect x="1404.42" y="524.23" width="21.53" height="11.11" fill="#dc8a8a"/>
<rect x="1425.35" y="524.23" width="21.53" height="11.11" fill="#e6a094"/>
<rect x="1446.28" y="524.23" width="21.53" height="11.11" fill="#fbd9c8"/>
<rect x="1467.21" y="524.23" width="21.53" height="11.11" fill="#fee9dd"/>
<rect x="1488.14" y="524.23" width="21.53" height="11.11" fill="#fbd9c8"/>
<rect x="1509.06" y="524.23" width="21.53" height="11.11" fill="#f8c9b4"/>
<rect x="1529.99" y="524.23" width="21.53" height="11.11" fill="#e6a094"/>
<rect x="1550.92" y="524.23" width="21.53" height="11.11" fill="#efb4a4"/>
<rect x="1571.85" y="524.23" width="21.53" height="11.11" fill="#f8c9b4"/>
<rect x="1592.78" y="524.23" width="21.53" height="11.11" fill="#fee9dd"/>
<rect x="1613.71" y="524.23" width="21.53" height="11.11" fill="#f8c9b4"/>
<rect x="1634.64" y="524.23" width="21.53" height="11.11" fill="#d17480"/>
<rect x="1655.57" y="524.23" width="21.53" height="11.11" fill="#efb4a4"/>
<rect x="1676.50" y="524.23" width="21.53" height="11.11" fill="#f8c9b4"/>
<rect x="1697.43" y="524.23" width="20.93" height="11.11" fill="#efb4a4"/>
<rect x="1278.84" y="534.74" width="42.46" height="11.11" fill="#fbf2eb"/>
<rect x="1320.70" y="534.74" width="42.46" height="11.11" fill="#fbd9c8"/>
<rect x="1362.56" y="534.74" width="21.53" height="11.11" fill="#fbf2eb"/>
<rect x="1383.49" y="534.74" width="21.53" height="11.11" fill="#f8c9b4"/>
<rect x="1404.42" y="534.74" width="21.53" height="11.11" fill="#dc8a8a"/>
<rect x="1425.35" y="534.74" width="21.53" height="11.11" fill="#efb4a4"/>
<rect x="1446.28" y="534.74" width="21.53" height="11.11" fill="#fbd9c8"/>
<rect x="1467.21" y="534.74" width="21.53" height="11.11" fill="#fee9dd"/>
<rect x="1488.14" y="534.74" width="21.53" height="11.11" fill="#fbd9c8"/>
<rect x="1509.06" y="534.74" width="21.53" height="11.11" fill="#efb4a4"/>
<rect x="1529.99" y="534.74" width="21.53" height="11.11" fill="#d17480"/>
<rect x="1550.92" y="534.74" width="21.53" height="11.11" fill="#a46679"/>
<rect x="1571.85" y="534.74" width="21.53" height="11.11" fill="#f8c9b4"/>
<rect x="1592.78" y="534.74" width="21.53" height="11.11" fill="#fbd9c8"/>
<rect x="1613.71" y="534.74" width="21.53" height="11.11" fill="#f8c9b4"/>
<rect x="1634.64" y="534.74" width="21.53" height="11.11" fill="#d17480"/>
<rect x="1655.57" y="534.74" width="21.53" height="11.11" fill="#efb4a4"/>
<rect x="1676.50" y="534.74" width="41.86" height="11.11" fill="#f8c9b4"/>
<rect x="1278.84" y="545.24" width="42.46" height="11.11" fill="#f8faf8"/>
<rect x="1320.70" y="545.24" width="21.53" height="11.11" fill="#fbd9c8"/>
<rect x="1341.63" y="545.24" width="21.53" height="11.11" fill="#fee9dd"/>
<rect x="1362.56" y="545.24" width="21.53" height="11.11" fill="#fbf2eb"/>
<rect x="1383.49" y="545.24" width="21.53" height="11.11" fill="#f8c9b4"/>
<rect x="1404.42" y="545.24" width="42.46" height="11.11" fill="#e6a094"/>
<rect x="1446.28" y="545.24" width="21.53" height="11.11" fill="#fbd9c8"/>
<rect x="1467.21" y="545.24" width="21.53" height="11.11" fill="#fee9dd"/>
<rect x="1488.14" y="545.24" width="21.53" height="11.11" fill="#fbd9c8"/>
<rect x="1509.06" y="545.24" width="21.53" height="11.11" fill="#e6a094"/>
<rect x="1529.99" y="545.24" width="21.53" height="11.11" fill="#d17480"/>
<rect x="1550.92" y="545.24" width="21.53" height="11.11" fill="#a46679"/>
<rect x="1571.85" y="545.24" width="21.53" height="11.11" fill="#fbd9c8"/>
<rect x="1592.78" y="545.24" width="21.53" height="11.11" fill="#fee9dd"/>
<rect x="1613.71" y="545.24" width="21.53" height="11.11" fill="#fbd9c8"/>
<rect x="1634.64" y="545.24" width="21.53" height="11.11" fill="#dc8a8a"/>
<rect x="1655.57" y="545.24" width="21.53" height="11.11" fill="#efb4a4"/>
<rect x="1676.50" y="545.24" width="21.53" height="11.11" fill="#fbd9c8"/>
<rect x="1697.43" y="545.24" width="20.93" height="11.11" fill="#f8c9b4"/>
<rect x="1278.84" y="555.75" width="21.53" height="11.11" fill="#eef5f7"/>
<rect x="1299.77" y="555.75" width="21.53" height="11.11" fill="#f8faf8"/>
<rect x="1320.70" y="555.75" width="42.46" height="11.11" fill="#fee9dd"/>
<rect x="1362.56" y="555.75" width="21.53" height="11.11" fill="#fbf2eb"/>
<rect x="1383.49" y="555.75" width="21.53" height="11.11" fill="#f8c9b4"/>
<rect x="1404.42" y="555.75" width="42.46" height="11.11" fill="#e6a094"/>
<rect x="1446.28" y="555.75" width="21.53" height="11.11" fill="#fbd9c8"/>
<rect x="1467.21" y="555.75" width="21.53" height="11.11" fill="#fbf2eb"/>
<rect x="1488.14" y="555.75" width="21.53" height="11.11" fill="#f8c9b4"/>
<rect x="1509.06" y="555.75" width="21.53" height="11.11" fill="#dc8a8a"/>
<rect x="1529.99" y="555.75" width="21.53" height="11.11" fill="#ba6d7c"/>
<rect x="1550.92" y="555.75" width="21.53" height="11.11" fill="#a46679"/>
<rect x="1571.85" y="555.75" width="21.53" height="11.11" fill="#fbd9c8"/>
<rect x="1592.78" y="555.75" width="21.53" height="11.11" fill="#fee9dd"/>
<rect x="1613.71" y="555.75" width="21.53" height="11.11" fill="#fbd9c8"/>
<rect x="1634.64" y="555.75" width="21.53" height="11.11" fill="#e6a094"/>
<rect x="1655.57" y="555.75" width="21.53" height="11.11" fill="#f8c9b4"/>
<rect x="1676.50" y="555.75" width="41.86" height="11.11" fill="#fbd9c8"/>
<rect x="1278.84" y="566.26" width="21.53" height="11.11" fill="#eef5f7"/>
<rect x="1299.77" y="566.26" width="21.53" height="11.11" fill="#f8faf8"/>
<rect x="1320.70" y="566.26" width="21.53" height="11.11" fill="#fee9dd"/>
<rect x="1341.63" y="566.26" width="21.53" height="11.11" fill="#fbd9c8"/>
<rect x="1362.56" y="566.26" width="21.53" height="11.11" fill="#fee9dd"/>
<rect x="1383.49" y="566.26" width="21.53" height="11.11" fill="#f8c9b4"/>
<rect x="1404.42" y="566.26" width="21.53" height="11.11" fill="#dc8a8a"/>
<rect x="1425.35" y="566.26" width="21.53" height="11.11" fill="#d17480"/>
<rect x="1446.28" y="566.26" width="42.46" height="11.11" fill="#fee9dd"/>
<rect x="1488.14" y="566.26" width="21.53" height="11.11" fill="#f8c9b4"/>
<rect x="1509.06" y="566.26" width="21.53" height="11.11" fill="#dc8a8a"/>
<rect x="1529.99" y="566.26" width="21.53" height="11.11" fill="#ba6d7c"/>
<rect x="1550.92" y="566.26" width="21.53" height="11.11" fill="#a46679"/>
<rect x="1571.85" y="566.26" width="21.53" height="11.11" fill="#efb4a4"/>
<rect x="1592.78" y="566.26" width="21.53" height="11.11" fill="#fbd9c8"/>
<rect x="1613.71" y="566.26" width="21.53" height="11.11" fill="#fee9dd"/>
<rect x="1634.64" y="566.26" width="21.53" height="11.11" fill="#e6a094"/>
<rect x="1655.57" y="566.26" width="21.53" height="11.11" fill="#f8c9b4"/>
<rect x="1676.50" y="566.26" width="41.86" height="11.11" fill="#fbd9c8"/>
<rect x="1278.84" y="576.77" width="21.53" height="11.11" fill="#eef5f7"/>
<rect x="1299.77" y="576.77" width="21.53" height="11.11" fill="#f8faf8"/>
<rect x="1320.70" y="576.77" width="21.53" height="11.11" fill="#fee9dd"/>
<rect x="1341.63" y="576.77" width="42.46" height="11.11" fill="#fbd9c8"/>
<rect x="1383.49" y="576.77" width="21.53" height="11.11" fill="#f8c9b4"/>
<rect x="1404.42" y="576.77" width="21.53" height="11.11" fill="#d17480"/>
<rect x="1425.35" y="576.77" width="21.53" height="11.11" fill="#dc8a8a"/>
<rect x="1446.28" y="576.77" width="21.53" height="11.11" fill="#fbd9c8"/>
<rect x="1467.21" y="576.77" width="21.53" height="11.11" fill="#fee9dd"/>
<rect x="1488.14" y="576.77" width="21.53" height="11.11" fill="#f8c9b4"/>
<rect x="1509.06" y="576.77" width="21.53" height="11.11" fill="#ba6d7c"/>
<rect x="1529.99" y="576.77" width="42.46" height="11.11" fill="#a46679"/>
<rect x="1571.85" y="576.77" width="21.53" height="11.11" fill="#e6a094"/>
<rect x="1592.78" y="576.77" width="21.53" height="11.11" fill="#f8c9b4"/>
<rect x="1613.71" y="576.77" width="21.53" height="11.11" fill="#fee9dd"/>
<rect x="1634.64" y="576.77" width="21.53" height="11.11" fill="#e6a094"/>
<rect x="1655.57" y="576.77" width="21.53" height="11.11" fill="#fbd9c8"/>
<rect x="1676.50" y="576.77" width="21.53" height="11.11" fill="#fee9dd"/>
<rect x="1697.43" y="576.77" width="20.93" height="11.11" fill="#fbd9c8"/>
<rect x="1278.84" y="587.27" width="21.53" height="11.11" fill="#e3eff6"/>
<rect x="1299.77" y="587.27" width="21.53" height="11.11" fill="#eef5f7"/>
<rect x="1320.70" y="587.27" width="21.53" height="11.11" fill="#fee9dd"/>
<rect x="1341.63" y="587.27" width="63.39" height="11.11" fill="#f8c9b4"/>
<rect x="1404.42" y="587.27" width="21.53" height="11.11" fill="#d17480"/>
<rect x="1425.35" y="587.27" width="21.53" height="11.11" fill="#e6a094"/>
<rect x="1446.28" y="587.27" width="21.53" height="11.11" fill="#f8c9b4"/>
<rect x="1467.21" y="587.27" width="21.53" height="11.11" fill="#fbd9c8"/>
<rect x="1488.14" y="587.27" width="21.53" height="11.11" fill="#efb4a4"/>
<rect x="1509.06" y="587.27" width="21.53" height="11.11" fill="#ba6d7c"/>
<rect x="1529.99" y="587.27" width="42.46" height="11.11" fill="#a46679"/>
<rect x="1571.85" y="587.27" width="21.53" height="11.11" fill="#dc8a8a"/>
<rect x="1592.78" y="587.27" width="21.53" height="11.11" fill="#f8c9b4"/>
<rect x="1613.71" y="587.27" width="21.53" height="11.11" fill="#fee9dd"/>
<rect x="1634.64" y="587.27" width="21.53" height="11.11" fill="#f8c9b4"/>
<rect x="1655.57" y="587.27" width="21.53" height="11.11" fill="#fee9dd"/>
<rect x="1676.50" y="587.27" width="21.53" height="11.11" fill="#f8faf8"/>
<rect x="1697.43" y="587.27" width="20.93" height="11.11" fill="#fee9dd"/>
<rect x="1278.84" y="597.78" width="21.53" height="11.11" fill="#e3eff6"/>
<rect x="1299.77" y="597.78" width="21.53" height="11.11" fill="#eef5f7"/>
<rect x="1320.70" y="597.78" width="21.53" height="11.11" fill="#fee9dd"/>
<rect x="1341.63" y="597.78" width="63.39" height="11.11" fill="#f8c9b4"/>
<rect x="1404.42" y="597.78" width="42.46" height="11.11" fill="#e6a094"/>
<rect x="1446.28" y="597.78" width="42.46" height="11.11" fill="#fbd9c8"/>
<rect x="1488.14" y="597.78" width="21.53" height="11.11" fill="#efb4a4"/>
<rect x="1509.06" y="597.78" width="21.53" height="11.11" fill="#ba6d7c"/>
<rect x="1529.99" y="597.78" width="42.46" height="11.11" fill="#a46679"/>
<rect x="1571.85" y="597.78" width="21.53" height="11.11" fill="#d17480"/>
<rect x="1592.78" y="597.78" width="21.53" height="11.11" fill="#efb4a4"/>
<rect x="1613.71" y="597.78" width="21.53" height="11.11" fill="#fbd9c8"/>
<rect x="1634.64" y="597.78" width="21.53" height="11.11" fill="#fee9dd"/>
<rect x="1655.57" y="597.78" width="21.53" height="11.11" fill="#fbf2eb"/>
<rect x="1676.50" y="597.78" width="21.53" height="11.11" fill="#eef5f7"/>
<rect x="1697.43" y="597.78" width="20.93" height="11.11" fill="#fee9dd"/>
<rect x="1278.84" y="608.29" width="21.53" height="11.11" fill="#e3eff6"/>
<rect x="1299.77" y="608.29" width="21.53" height="11.11" fill="#eef5f7"/>
<rect x="1320.70" y="608.29" width="21.53" height="11.11" fill="#fbf2eb"/>
<rect x="1341.63" y="608.29" width="42.46" height="11.11" fill="#f8c9b4"/>
<rect x="1383.49" y="608.29" width="21.53" height="11.11" fill="#e6a094"/>
<rect x="1404.42" y="608.29" width="21.53" height="11.11" fill="#efb4a4"/>
<rect x="1425.35" y="608.29" width="21.53" height="11.11" fill="#f8c9b4"/>
<rect x="1446.28" y="608.29" width="42.46" height="11.11" fill="#fbd9c8"/>
<rect x="1488.14" y="608.29" width="21.53" height="11.11" fill="#d17480"/>
<rect x="1509.06" y="608.29" width="63.39" height="11.11" fill="#a46679"/>
<rect x="1571.85" y="608.29" width="21.53" height="11.11" fill="#ba6d7c"/>
<rect x="1592.78" y="608.29" width="21.53" height="11.11" fill="#e6a094"/>
<rect x="1613.71" y="608.29" width="21.53" height="11.11" fill="#f8c9b4"/>
<rect x="1634.64" y="608.29" width="42.46" height="11.11" fill="#fbf2eb"/>
<rect x="1676.50" y="608.29" width="21.53" height="11.11" fill="#f8faf8"/>
<rect x="1697.43" y="608.29" width="20.93" height="11.11" fill="#fee9dd"/>
<rect x="1278.84" y="618.79" width="21.53" height="11.11" fill="#d1e6f1"/>
<rect x="1299.77" y="618.79" width="21.53" height="11.11" fill="#f8faf8"/>
<rect x="1320.70" y="618.79" width="21.53" height="11.11" fill="#fee9dd"/>
<rect x="1341.63" y="618.79" width="42.46" height="11.11" fill="#efb4a4"/>
<rect x="1383.49" y="618.79" width="21.53" height="11.11" fill="#e6a094"/>
<rect x="1404.42" y="618.79" width="21.53" height="11.11" fill="#efb4a4"/>
<rect x="1425.35" y="618.79" width="63.39" height="11.11" fill="#f8c9b4"/>
<rect x="1488.14" y="618.79" width="21.53" height="11.11" fill="#ba6d7c"/>
<rect x="1509.06" y="618.79" width="84.32" height="11.11" fill="#a46679"/>
<rect x="1592.78" y="618.79" width="21.53" height="11.11" fill="#dc8a8a"/>
<rect x="1613.71" y="618.79" width="21.53" height="11.11" fill="#f8c9b4"/>
<rect x="1634.64" y="618.79" width="63.39" height="11.11" fill="#fbf2eb"/>
<rect x="1697.43" y="618.79" width="20.93" height="11.11" fill="#fee9dd"/>
<rect x="1278.84" y="629.30" width="21.53" height="11.11" fill="#bedceb"/>
<rect x="1299.77" y="629.30" width="21.53" height="11.11" fill="#eef5f7"/>
<rect x="1320.70" y="629.30" width="21.53" height="11.11" fill="#fbd9c8"/>
<rect x="1341.63" y="629.30" width="21.53" height="11.11" fill="#efb4a4"/>
<rect x="1362.56" y="629.30" width="21.53" height="11.11" fill="#dc8a8a"/>
<rect x="1383.49" y="629.30" width="21.53" height="11.11" fill="#d17480"/>
<rect x="1404.42" y="629.30" width="21.53" height="11.11" fill="#dc8a8a"/>
<rect x="1425.35" y="629.30" width="63.39" height="11.11" fill="#efb4a4"/>
<rect x="1488.14" y="629.30" width="126.18" height="11.11" fill="#a46679"/>
<rect x="1613.71" y="629.30" width="21.53" height="11.11" fill="#e6a094"/>
<rect x="1634.64" y="629.30" width="21.53" height="11.11" fill="#fbd9c8"/>
<rect x="1655.57" y="629.30" width="21.53" height="11.11" fill="#f8c9b4"/>
<rect x="1676.50" y="629.30" width="21.53" height="11.11" fill="#fee9dd"/>
<rect x="1697.43" y="629.30" width="20.93" height="11.11" fill="#fbd9c8"/>
<rect x="1278.84" y="639.81" width="21.53" height="11.11" fill="#bedceb"/>
<rect x="1299.77" y="639.81" width="21.53" height="11.11" fill="#eef5f7"/>
<rect x="1320.70" y="639.81" width="21.53" height="11.11" fill="#fee9dd"/>
<rect x="1341.63" y="639.81" width="21.53" height="11.11" fill="#e6a094"/>
<rect x="1362.56" y="639.81" width="42.46" height="11.11" fill="#ba6d7c"/>
<rect x="1404.42" y="639.81" width="21.53" height="11.11" fill="#d17480"/>
<rect x="1425.35" y="639.81" width="21.53" height="11.11" fill="#dc8a8a"/>
<rect x="1446.28" y="639.81" width="42.46" height="11.11" fill="#e6a094"/>
<rect x="1488.14" y="639.81" width="126.18" height="11.11" fill="#a46679"/>
<rect x="1613.71" y="639.81" width="21.53" height="11.11" fill="#d17480"/>
<rect x="1634.64" y="639.81" width="21.53" height="11.11" fill="#efb4a4"/>
<rect x="1655.57" y="639.81" width="42.46" height="11.11" fill="#e6a094"/>
<rect x="1697.43" y="639.81" width="20.93" height="11.11" fill="#efb4a4"/>
<rect x="1278.84" y="650.31" width="21.53" height="11.11" fill="#bedceb"/>
<rect x="1299.77" y="650.31" width="21.53" height="11.11" fill="#eef5f7"/>
<rect x="1320.70" y="650.31" width="21.53" height="11.11" fill="#fbd9c8"/>
<rect x="1341.63" y="650.31" width="21.53" height="11.11" fill="#dc8a8a"/>
<rect x="1362.56" y="650.31" width="21.53" height="11.11" fill="#a46679"/>
<rect x="1383.49" y="650.31" width="63.39" height="11.11" fill="#d17480"/>
<rect x="1446.28" y="650.31" width="42.46" height="11.11" fill="#e6a094"/>
<rect x="1488.14" y="650.31" width="126.18" height="11.11" fill="#a46679"/>
<rect x="1613.71" y="650.31" width="21.53" height="11.11" fill="#ba6d7c"/>
<rect x="1634.64" y="650.31" width="63.39" height="11.11" fill="#dc8a8a"/>
<rect x="1697.43" y="650.31" width="20.93" height="11.11" fill="#e6a094"/>
<rect x="1278.84" y="660.82" width="21.53" height="11.11" fill="#bedceb"/>
<rect x="1299.77" y="660.82" width="21.53" height="11.11" fill="#f8faf8"/>
<rect x="1320.70" y="660.82" width="21.53" height="11.11" fill="#fee9dd"/>
<rect x="1341.63" y="660.82" width="21.53" height="11.11" fill="#d17480"/>
<rect x="1362.56" y="660.82" width="21.53" height="11.11" fill="#a46679"/>
<rect x="1383.49" y="660.82" width="42.46" height="11.11" fill="#d17480"/>
<rect x="1425.35" y="660.82" width="21.53" height="11.11" fill="#dc8a8a"/>
<rect x="1446.28" y="660.82" width="21.53" height="11.11" fill="#efb4a4"/>
<rect x="1467.21" y="660.82" width="21.53" height="11.11" fill="#e6a094"/>
<rect x="1488.14" y="660.82" width="147.11" height="11.11" fill="#a46679"/>
<rect x="1634.64" y="660.82" width="21.53" height="11.11" fill="#ba6d7c"/>
<rect x="1655.57" y="660.82" width="42.46" height="11.11" fill="#d17480"/>
<rect x="1697.43" y="660.82" width="20.93" height="11.11" fill="#e6a094"/>
<rect x="1278.84" y="671.33" width="21.53" height="11.11" fill="#eef5f7"/>
<rect x="1299.77" y="671.33" width="21.53" height="11.11" fill="#fee9dd"/>
<rect x="1320.70" y="671.33" width="21.53" height="11.11" fill="#efb4a4"/>
<rect x="1341.63" y="671.33" width="21.53" height="11.11" fill="#ba6d7c"/>
<rect x="1362.56" y="671.33" width="21.53" height="11.11" fill="#a46679"/>
<rect x="1383.49" y="671.33" width="21.53" height="11.11" fill="#ba6d7c"/>
<rect x="1404.42" y="671.33" width="21.53" height="11.11" fill="#dc8a8a"/>
<rect x="1425.35" y="671.33" width="21.53" height="11.11" fill="#e6a094"/>
<rect x="1446.28" y="671.33" width="21.53" height="11.11" fill="#efb4a4"/>
<rect x="1467.21" y="671.33" width="21.53" height="11.11" fill="#dc8a8a"/>
<rect x="1488.14" y="671.33" width="168.04" height="11.11" fill="#a46679"/>
<rect x="1655.57" y="671.33" width="21.53" height="11.11" fill="#ba6d7c"/>
<rect x="1676.50" y="671.33" width="21.53" height="11.11" fill="#d17480"/>
<rect x="1697.43" y="671.33" width="20.93" height="11.11" fill="#dc8a8a"/>
<rect x="1278.84" y="681.83" width="21.53" height="11.11" fill="#fee9dd"/>
<rect x="1299.77" y="681.83" width="21.53" height="11.11" fill="#efb4a4"/>
<rect x="1320.70" y="681.83" width="21.53" height="11.11" fill="#d17480"/>
<rect x="1341.63" y="681.83" width="63.39" height="11.11" fill="#a46679"/>
<rect x="1404.42" y="681.83" width="21.53" height="11.11" fill="#ba6d7c"/>
<rect x="1425.35" y="681.83" width="21.53" height="11.11" fill="#d17480"/>
<rect x="1446.28" y="681.83" width="42.46" height="11.11" fill="#dc8a8a"/>
<rect x="1488.14" y="681.83" width="209.90" height="11.11" fill="#a46679"/>
<rect x="1697.43" y="681.83" width="20.93" height="11.11" fill="#ba6d7c"/>
<rect x="1278.84" y="692.34" width="21.53" height="11.11" fill="#f8c9b4"/>
<rect x="1299.77" y="692.34" width="21.53" height="11.11" fill="#e6a094"/>
<rect x="1320.70" y="692.34" width="21.53" height="11.11" fill="#d17480"/>
<rect x="1341.63" y="692.34" width="376.73" height="11.11" fill="#a46679"/>
<rect x="1278.84" y="702.85" width="21.53" height="11.11" fill="#fbd9c8"/>
<rect x="1299.77" y="702.85" width="21.53" height="11.11" fill="#e6a094"/>
<rect x="1320.70" y="702.85" width="21.53" height="11.11" fill="#dc8a8a"/>
<rect x="1341.63" y="702.85" width="21.53" height="11.11" fill="#d17480"/>
<rect x="1362.56" y="702.85" width="21.53" height="11.11" fill="#ba6d7c"/>
<rect x="1383.49" y="702.85" width="334.87" height="11.11" fill="#a46679"/>
<rect x="1278.84" y="713.35" width="21.53" height="11.11" fill="#f8c9b4"/>
<rect x="1299.77" y="713.35" width="21.53" height="11.11" fill="#efb4a4"/>
<rect x="1320.70" y="713.35" width="42.46" height="11.11" fill="#e6a094"/>
<rect x="1362.56" y="713.35" width="21.53" height="11.11" fill="#dc8a8a"/>
<rect x="1383.49" y="713.35" width="21.53" height="11.11" fill="#ba6d7c"/>
<rect x="1404.42" y="713.35" width="313.94" height="11.11" fill="#a46679"/>
<rect x="1278.84" y="723.86" width="21.53" height="11.11" fill="#fee9dd"/>
<rect x="1299.77" y="723.86" width="84.32" height="11.11" fill="#efb4a4"/>
<rect x="1383.49" y="723.86" width="21.53" height="11.11" fill="#dc8a8a"/>
<rect x="1404.42" y="723.86" width="21.53" height="11.11" fill="#ba6d7c"/>
<rect x="1425.35" y="723.86" width="293.01" height="11.11" fill="#a46679"/>
<rect x="1278.84" y="734.37" width="21.53" height="11.11" fill="#fbf2eb"/>
<rect x="1299.77" y="734.37" width="21.53" height="11.11" fill="#fee9dd"/>
<rect x="1320.70" y="734.37" width="42.46" height="11.11" fill="#fbd9c8"/>
<rect x="1362.56" y="734.37" width="21.53" height="11.11" fill="#f8c9b4"/>
<rect x="1383.49" y="734.37" width="21.53" height="11.11" fill="#e6a094"/>
<rect x="1404.42" y="734.37" width="21.53" height="11.11" fill="#dc8a8a"/>
<rect x="1425.35" y="734.37" width="42.46" height="11.11" fill="#d17480"/>
<rect x="1467.21" y="734.37" width="251.15" height="11.11" fill="#a46679"/>
<rect x="1278.84" y="744.87" width="21.53" height="9.21" fill="#fbf2eb"/>
<rect x="1299.77" y="744.87" width="42.46" height="9.21" fill="#fbd9c8"/>
<rect x="1341.63" y="744.87" width="42.46" height="9.21" fill="#f8c9b4"/>
<rect x="1383.49" y="744.87" width="21.53" height="9.21" fill="#efb4a4"/>
<rect x="1404.42" y="744.87" width="63.39" height="9.21" fill="#e6a094"/>
<rect x="1467.21" y="744.87" width="21.53" height="9.21" fill="#dc8a8a"/>
<rect x="1488.14" y="744.87" width="230.22" height="9.21" fill="#e6a094"/>
<polygon points="1541.9,534.8 1552.6,541.5 1563.3,534.8 1568.7,537.4 1568.7,581.6 1579.3,586.9 1579.3,629.7 1595.4,639.1 1606.1,632.4 1611.4,635.1 1611.4,656.5 1622.1,661.8 1622.1,667.2 1627.5,671.2 1659.6,671.2 1675.6,679.2 1676.9,684.6 1681.0,686.6 1702.3,686.6 1714.4,692.6 1718.4,692.6 1718.4,750.1 1713.0,750.1 1681.0,750.1 1670.3,744.8 1638.2,744.8 1627.5,750.1 1616.8,750.1 1606.1,744.8 1595.4,750.1 1584.7,744.8 1574.0,744.8 1563.3,750.1 1531.2,750.1 1520.5,744.8 1487.1,744.8 1560.1,751.4 1531.0,751.4 1519.9,745.4 1487.7,745.4 1477.5,740.3 1433.2,740.3 1427.7,737.5 1432.3,734.8 1459.1,734.8 1462.8,732.0 1457.2,729.2 1448.0,729.2 1439.7,726.5 1427.7,720.9 1434.2,719.1 1455.4,719.1 1460.9,716.3 1461.8,710.8 1472.0,706.2 1472.0,701.6 1468.3,697.9 1445.2,697.9 1434.6,692.3 1424.0,697.9 1412.0,697.9 1408.4,694.2 1408.4,690.5 1413.4,685.9 1424.0,691.4 1434.6,685.9 1445.2,691.9 1455.4,691.9 1466.4,686.3 1477.5,686.3 1493.6,678.5 1493.6,661.9 1504.3,656.4 1504.3,647.1 1514.9,641.6 1514.9,638.8 1504.3,631.5 1504.3,613.0 1509.8,610.2 1515.3,613.9 1515.3,627.8 1519.9,632.4 1525.9,628.7 1525.9,600.1 1525.9,586.9 1536.6,581.6 1536.6,537.4" fill="#67001f"/>
<ellipse cx="1552.6" cy="584.3" rx="5.2" ry="10.6" fill="#a46679" stroke="#ffff00" stroke-width="4.6"/>
<ellipse cx="1541.9" cy="624.4" rx="5.2" ry="7.9" fill="#a46679" stroke="#ffff00" stroke-width="4.6"/>
<ellipse cx="1509.8" cy="672.5" rx="8.0" ry="5.3" fill="#ffff00"/>
<path d="M1716.4 750.1 L1713.0 750.1 L1681.0 750.1 L1670.3 744.8 L1638.2 744.8 L1627.5 750.1 L1616.8 750.1 L1606.1 744.8 L1595.4 750.1 L1584.7 744.8 L1574.0 744.8 L1563.3 750.1 L1531.2 750.1 L1520.5 744.8 L1487.1 744.8 L1560.1 751.4 L1531.0 751.4 L1519.9 745.4 L1487.7 745.4 L1477.5 740.3 L1433.2 740.3 L1427.7 737.5 L1432.3 734.8 L1459.1 734.8 L1462.8 732.0 L1457.2 729.2 L1448.0 729.2 L1439.7 726.5 L1427.7 720.9 L1434.2 719.1 L1455.4 719.1 L1460.9 716.3 L1461.8 710.8 L1472.0 706.2 L1472.0 701.6 L1468.3 697.9 L1445.2 697.9 L1434.6 692.3 L1424.0 697.9 L1412.0 697.9 L1408.4 694.2 L1408.4 690.5 L1413.4 685.9 L1424.0 691.4 L1434.6 685.9 L1445.2 691.9 L1455.4 691.9 L1466.4 686.3 L1477.5 686.3 L1493.6 678.5 L1493.6 661.9 L1504.3 656.4 L1504.3 647.1 L1514.9 641.6 L1514.9 638.8 L1504.3 631.5 L1504.3 613.0 L1509.8 610.2 L1515.3 613.9 L1515.3 627.8 L1519.9 632.4 L1525.9 628.7 L1525.9 600.1 L1525.9 586.9 L1536.6 581.6 L1536.6 537.4 L1541.9 534.8 L1552.6 541.5 L1563.3 534.8 L1568.7 537.4 L1568.7 581.6 L1579.3 586.9 L1579.3 629.7 L1595.4 639.1 L1606.1 632.4 L1611.4 635.1 L1611.4 656.5 L1622.1 661.8 L1622.1 667.2 L1627.5 671.2 L1659.6 671.2 L1675.6 679.2 L1676.9 684.6 L1681.0 686.6 L1702.3 686.6 L1714.4 692.6 L1716.4 692.6" fill="none" stroke="#ffff00" stroke-width="4.6" stroke-linejoin="round" stroke-linecap="round"/>
</g>
<path d="M1278.84 503.22 V754.08 H1718.36" fill="none" stroke="#262626" stroke-width="2.7" stroke-linecap="square"/>
<path d="M1278.84 505.90 h-5.6" stroke="#262626" stroke-width="2.7"/>
<text transform="matrix(0.27440 0 0 0.24500 1234.48 514.05)" font-size="100" fill="#3d3a3a">25</text>
<path d="M1278.84 559.55 h-5.6" stroke="#262626" stroke-width="2.7"/>
<text transform="matrix(0.27440 0 0 0.24500 1234.34 567.70)" font-size="100" fill="#3d3a3a">20</text>
<path d="M1278.84 613.20 h-5.6" stroke="#262626" stroke-width="2.7"/>
<text transform="matrix(0.27440 0 0 0.24500 1234.48 621.23)" font-size="100" fill="#3d3a3a">15</text>
<path d="M1278.84 666.85 h-5.6" stroke="#262626" stroke-width="2.7"/>
<text transform="matrix(0.27440 0 0 0.24500 1234.34 675.00)" font-size="100" fill="#3d3a3a">10</text>
<path d="M1278.84 720.50 h-5.6" stroke="#262626" stroke-width="2.7"/>
<text transform="matrix(0.27440 0 0 0.24500 1249.71 728.53)" font-size="100" fill="#3d3a3a">5</text>
<path d="M1284.20 754.08 v5.2" stroke="#262626" stroke-width="2.7"/>
<text transform="matrix(0.27440 0 0 0.24500 1276.52 788.43)" font-size="100" fill="#3d3a3a">0</text>
<path d="M1391.40 754.08 v5.2" stroke="#262626" stroke-width="2.7"/>
<text transform="matrix(0.27440 0 0 0.24500 1372.33 788.43)" font-size="100" fill="#3d3a3a">0.5</text>
<path d="M1498.60 754.08 v5.2" stroke="#262626" stroke-width="2.7"/>
<text transform="matrix(0.27440 0 0 0.24500 1490.57 788.19)" font-size="100" fill="#3d3a3a">1</text>
<path d="M1605.80 754.08 v5.2" stroke="#262626" stroke-width="2.7"/>
<text transform="matrix(0.27440 0 0 0.24500 1586.25 788.19)" font-size="100" fill="#3d3a3a">1.5</text>
<path d="M1713.00 754.08 v5.2" stroke="#262626" stroke-width="2.7"/>
<text transform="matrix(0.27440 0 0 0.24500 1705.39 788.43)" font-size="100" fill="#3d3a3a">2</text>
<g>
<rect x="124.44" y="874.02" width="21.53" height="11.11" fill="#d1e5f0"/>
<rect x="145.37" y="874.02" width="21.53" height="11.11" fill="#e2eef2"/>
<rect x="166.30" y="874.02" width="21.53" height="11.11" fill="#f4f7f4"/>
<rect x="187.23" y="874.02" width="21.53" height="11.11" fill="#e2eef2"/>
<rect x="208.16" y="874.02" width="21.53" height="11.11" fill="#b2d5e7"/>
<rect x="229.09" y="874.02" width="21.53" height="11.11" fill="#d1e5f0"/>
<rect x="250.02" y="874.02" width="42.46" height="11.11" fill="#f4f7f4"/>
<rect x="291.88" y="874.02" width="21.53" height="11.11" fill="#d1e5f0"/>
<rect x="312.81" y="874.02" width="21.53" height="11.11" fill="#f8e9de"/>
<rect x="333.74" y="874.02" width="21.53" height="11.11" fill="#f8c0a4"/>
<rect x="354.66" y="874.02" width="21.53" height="11.11" fill="#fddbc7"/>
<rect x="375.59" y="874.02" width="21.53" height="11.11" fill="#f4a582"/>
<rect x="396.52" y="874.02" width="21.53" height="11.11" fill="#f8c0a4"/>
<rect x="417.45" y="874.02" width="21.53" height="11.11" fill="#e58268"/>
<rect x="438.38" y="874.02" width="21.53" height="11.11" fill="#f8e9de"/>
<rect x="459.31" y="874.02" width="42.46" height="11.11" fill="#f4f7f4"/>
<rect x="501.17" y="874.02" width="21.53" height="11.11" fill="#d1e5f0"/>
<rect x="522.10" y="874.02" width="21.53" height="11.11" fill="#fddbc7"/>
<rect x="543.03" y="874.02" width="20.93" height="11.11" fill="#f8e9de"/>
<rect x="124.44" y="884.52" width="42.46" height="11.11" fill="#d1e5f0"/>
<rect x="166.30" y="884.52" width="21.53" height="11.11" fill="#f8e9de"/>
<rect x="187.23" y="884.52" width="21.53" height="11.11" fill="#e2eef2"/>
<rect x="208.16" y="884.52" width="21.53" height="11.11" fill="#b2d5e7"/>
<rect x="229.09" y="884.52" width="21.53" height="11.11" fill="#d1e5f0"/>
<rect x="250.02" y="884.52" width="42.46" height="11.11" fill="#f8e9de"/>
<rect x="291.88" y="884.52" width="21.53" height="11.11" fill="#d1e5f0"/>
<rect x="312.81" y="884.52" width="21.53" height="11.11" fill="#f8e9de"/>
<rect x="333.74" y="884.52" width="21.53" height="11.11" fill="#f8c0a4"/>
<rect x="354.66" y="884.52" width="21.53" height="11.11" fill="#fddbc7"/>
<rect x="375.59" y="884.52" width="21.53" height="11.11" fill="#f4a582"/>
<rect x="396.52" y="884.52" width="42.46" height="11.11" fill="#e58268"/>
<rect x="438.38" y="884.52" width="42.46" height="11.11" fill="#f8e9de"/>
<rect x="480.24" y="884.52" width="21.53" height="11.11" fill="#f4f7f4"/>
<rect x="501.17" y="884.52" width="21.53" height="11.11" fill="#e2eef2"/>
<rect x="522.10" y="884.52" width="21.53" height="11.11" fill="#f8c0a4"/>
<rect x="543.03" y="884.52" width="20.93" height="11.11" fill="#f8e9de"/>
<rect x="124.44" y="895.03" width="21.53" height="11.11" fill="#b2d5e7"/>
<rect x="145.37" y="895.03" width="21.53" height="11.11" fill="#e2eef2"/>
<rect x="166.30" y="895.03" width="21.53" height="11.11" fill="#f4f7f4"/>
<rect x="187.23" y="895.03" width="21.53" height="11.11" fill="#d1e5f0"/>
<rect x="208.16" y="895.03" width="21.53" height="11.11" fill="#b2d5e7"/>
<rect x="229.09" y="895.03" width="21.53" height="11.11" fill="#d1e5f0"/>
<rect x="250.02" y="895.03" width="42.46" height="11.11" fill="#f8e9de"/>
<rect x="291.88" y="895.03" width="21.53" height="11.11" fill="#d1e5f0"/>
<rect x="312.81" y="895.03" width="21.53" height="11.11" fill="#f4f7f4"/>
<rect x="333.74" y="895.03" width="42.46" height="11.11" fill="#fddbc7"/>
<rect x="375.59" y="895.03" width="42.46" height="11.11" fill="#e58268"/>
<rect x="417.45" y="895.03" width="21.53" height="11.11" fill="#d6604d"/>
<rect x="438.38" y="895.03" width="21.53" height="11.11" fill="#fddbc7"/>
<rect x="459.31" y="895.03" width="42.46" height="11.11" fill="#f8e9de"/>
<rect x="501.17" y="895.03" width="21.53" height="11.11" fill="#e2eef2"/>
<rect x="522.10" y="895.03" width="21.53" height="11.11" fill="#f8c0a4"/>
<rect x="543.03" y="895.03" width="20.93" height="11.11" fill="#fddbc7"/>
<rect x="124.44" y="905.54" width="21.53" height="11.11" fill="#b2d5e7"/>
<rect x="145.37" y="905.54" width="21.53" height="11.11" fill="#e2eef2"/>
<rect x="166.30" y="905.54" width="21.53" height="11.11" fill="#f4f7f4"/>
<rect x="187.23" y="905.54" width="21.53" height="11.11" fill="#d1e5f0"/>
<rect x="208.16" y="905.54" width="21.53" height="11.11" fill="#b2d5e7"/>
<rect x="229.09" y="905.54" width="21.53" height="11.11" fill="#d1e5f0"/>
<rect x="250.02" y="905.54" width="21.53" height="11.11" fill="#f8e9de"/>
<rect x="270.95" y="905.54" width="21.53" height="11.11" fill="#fddbc7"/>
<rect x="291.88" y="905.54" width="21.53" height="11.11" fill="#e2eef2"/>
<rect x="312.81" y="905.54" width="21.53" height="11.11" fill="#f4f7f4"/>
<rect x="333.74" y="905.54" width="42.46" height="11.11" fill="#fddbc7"/>
<rect x="375.59" y="905.54" width="21.53" height="11.11" fill="#e58268"/>
<rect x="396.52" y="905.54" width="42.46" height="11.11" fill="#d6604d"/>
<rect x="438.38" y="905.54" width="21.53" height="11.11" fill="#f8c0a4"/>
<rect x="459.31" y="905.54" width="21.53" height="11.11" fill="#f8e9de"/>
<rect x="480.24" y="905.54" width="42.46" height="11.11" fill="#f4f7f4"/>
<rect x="522.10" y="905.54" width="41.86" height="11.11" fill="#fddbc7"/>
<rect x="124.44" y="916.04" width="21.53" height="11.11" fill="#92c5de"/>
<rect x="145.37" y="916.04" width="21.53" height="11.11" fill="#d1e5f0"/>
<rect x="166.30" y="916.04" width="21.53" height="11.11" fill="#f4f7f4"/>
<rect x="187.23" y="916.04" width="21.53" height="11.11" fill="#d1e5f0"/>
<rect x="208.16" y="916.04" width="21.53" height="11.11" fill="#b2d5e7"/>
<rect x="229.09" y="916.04" width="21.53" height="11.11" fill="#92c5de"/>
<rect x="250.02" y="916.04" width="21.53" height="11.11" fill="#f8e9de"/>
<rect x="270.95" y="916.04" width="21.53" height="11.11" fill="#f8c0a4"/>
<rect x="291.88" y="916.04" width="21.53" height="11.11" fill="#f4f7f4"/>
<rect x="312.81" y="916.04" width="21.53" height="11.11" fill="#e2eef2"/>
<rect x="333.74" y="916.04" width="42.46" height="11.11" fill="#fddbc7"/>
<rect x="375.59" y="916.04" width="21.53" height="11.11" fill="#f4a582"/>
<rect x="396.52" y="916.04" width="21.53" height="11.11" fill="#b2182b"/>
<rect x="417.45" y="916.04" width="21.53" height="11.11" fill="#c43c3c"/>
<rect x="438.38" y="916.04" width="21.53" height="11.11" fill="#f4a582"/>
<rect x="459.31" y="916.04" width="21.53" height="11.11" fill="#fddbc7"/>
<rect x="480.24" y="916.04" width="42.46" height="11.11" fill="#e2eef2"/>
<rect x="522.10" y="916.04" width="21.53" height="11.11" fill="#f8e9de"/>
<rect x="543.03" y="916.04" width="20.93" height="11.11" fill="#fddbc7"/>
<rect x="124.44" y="926.55" width="21.53" height="11.11" fill="#92c5de"/>
<rect x="145.37" y="926.55" width="21.53" height="11.11" fill="#b2d5e7"/>
<rect x="166.30" y="926.55" width="42.46" height="11.11" fill="#e2eef2"/>
<rect x="208.16" y="926.55" width="21.53" height="11.11" fill="#d1e5f0"/>
<rect x="229.09" y="926.55" width="21.53" height="11.11" fill="#92c5de"/>
<rect x="250.02" y="926.55" width="21.53" height="11.11" fill="#f4f7f4"/>
<rect x="270.95" y="926.55" width="21.53" height="11.11" fill="#f8c0a4"/>
<rect x="291.88" y="926.55" width="21.53" height="11.11" fill="#f8e9de"/>
<rect x="312.81" y="926.55" width="21.53" height="11.11" fill="#f4f7f4"/>
<rect x="333.74" y="926.55" width="42.46" height="11.11" fill="#fddbc7"/>
<rect x="375.59" y="926.55" width="21.53" height="11.11" fill="#f4a582"/>
<rect x="396.52" y="926.55" width="21.53" height="11.11" fill="#b2182b"/>
<rect x="417.45" y="926.55" width="21.53" height="11.11" fill="#c43c3c"/>
<rect x="438.38" y="926.55" width="21.53" height="11.11" fill="#f4a582"/>
<rect x="459.31" y="926.55" width="21.53" height="11.11" fill="#f8e9de"/>
<rect x="480.24" y="926.55" width="42.46" height="11.11" fill="#e2eef2"/>
<rect x="522.10" y="926.55" width="41.86" height="11.11" fill="#f8e9de"/>
<rect x="124.44" y="937.06" width="42.46" height="11.11" fill="#b2d5e7"/>
<rect x="166.30" y="937.06" width="42.46" height="11.11" fill="#f4f7f4"/>
<rect x="208.16" y="937.06" width="42.46" height="11.11" fill="#d1e5f0"/>
<rect x="250.02" y="937.06" width="21.53" height="11.11" fill="#f4f7f4"/>
<rect x="270.95" y="937.06" width="21.53" height="11.11" fill="#f4a582"/>
<rect x="291.88" y="937.06" width="21.53" height="11.11" fill="#f8e9de"/>
<rect x="312.81" y="937.06" width="21.53" height="11.11" fill="#f4f7f4"/>
<rect x="333.74" y="937.06" width="42.46" height="11.11" fill="#fddbc7"/>
<rect x="375.59" y="937.06" width="21.53" height="11.11" fill="#f4a582"/>
<rect x="396.52" y="937.06" width="21.53" height="11.11" fill="#b2182b"/>
<rect x="417.45" y="937.06" width="21.53" height="11.11" fill="#c43c3c"/>
<rect x="438.38" y="937.06" width="21.53" height="11.11" fill="#e58268"/>
<rect x="459.31" y="937.06" width="21.53" height="11.11" fill="#f8e9de"/>
<rect x="480.24" y="937.06" width="21.53" height="11.11" fill="#d1e5f0"/>
<rect x="501.17" y="937.06" width="21.53" height="11.11" fill="#e2eef2"/>
<rect x="522.10" y="937.06" width="41.86" height="11.11" fill="#f8e9de"/>
<rect x="124.44" y="947.57" width="21.53" height="11.11" fill="#d1e5f0"/>
<rect x="145.37" y="947.57" width="21.53" height="11.11" fill="#b2d5e7"/>
<rect x="166.30" y="947.57" width="21.53" height="11.11" fill="#e2eef2"/>
<rect x="187.23" y="947.57" width="21.53" height="11.11" fill="#f4f7f4"/>
<rect x="208.16" y="947.57" width="21.53" height="11.11" fill="#d1e5f0"/>
<rect x="229.09" y="947.57" width="21.53" height="11.11" fill="#e2eef2"/>
<rect x="250.02" y="947.57" width="21.53" height="11.11" fill="#f8e9de"/>
<rect x="270.95" y="947.57" width="21.53" height="11.11" fill="#f4a582"/>
<rect x="291.88" y="947.57" width="21.53" height="11.11" fill="#fddbc7"/>
<rect x="312.81" y="947.57" width="21.53" height="11.11" fill="#f8e9de"/>
<rect x="333.74" y="947.57" width="63.39" height="11.11" fill="#f4a582"/>
<rect x="396.52" y="947.57" width="21.53" height="11.11" fill="#c43c3c"/>
<rect x="417.45" y="947.57" width="21.53" height="11.11" fill="#b2182b"/>
<rect x="438.38" y="947.57" width="21.53" height="11.11" fill="#e58268"/>
<rect x="459.31" y="947.57" width="21.53" height="11.11" fill="#f8e9de"/>
<rect x="480.24" y="947.57" width="21.53" height="11.11" fill="#e2eef2"/>
<rect x="501.17" y="947.57" width="21.53" height="11.11" fill="#d1e5f0"/>
<rect x="522.10" y="947.57" width="41.86" height="11.11" fill="#f8e9de"/>
<rect x="124.44" y="958.07" width="21.53" height="11.11" fill="#e2eef2"/>
<rect x="145.37" y="958.07" width="21.53" height="11.11" fill="#b2d5e7"/>
<rect x="166.30" y="958.07" width="42.46" height="11.11" fill="#e2eef2"/>
<rect x="208.16" y="958.07" width="21.53" height="11.11" fill="#b2d5e7"/>
<rect x="229.09" y="958.07" width="21.53" height="11.11" fill="#e2eef2"/>
<rect x="250.02" y="958.07" width="21.53" height="11.11" fill="#fddbc7"/>
<rect x="270.95" y="958.07" width="21.53" height="11.11" fill="#f4a582"/>
<rect x="291.88" y="958.07" width="42.46" height="11.11" fill="#fddbc7"/>
<rect x="333.74" y="958.07" width="42.46" height="11.11" fill="#e58268"/>
<rect x="375.59" y="958.07" width="21.53" height="11.11" fill="#d6604d"/>
<rect x="396.52" y="958.07" width="21.53" height="11.11" fill="#c43c3c"/>
<rect x="417.45" y="958.07" width="21.53" height="11.11" fill="#8c0c25"/>
<rect x="438.38" y="958.07" width="21.53" height="11.11" fill="#d6604d"/>
<rect x="459.31" y="958.07" width="21.53" height="11.11" fill="#f8e9de"/>
<rect x="480.24" y="958.07" width="21.53" height="11.11" fill="#e2eef2"/>
<rect x="501.17" y="958.07" width="21.53" height="11.11" fill="#d1e5f0"/>
<rect x="522.10" y="958.07" width="41.86" height="11.11" fill="#f8e9de"/>
<rect x="124.44" y="968.58" width="21.53" height="11.11" fill="#e2eef2"/>
<rect x="145.37" y="968.58" width="21.53" height="11.11" fill="#6aacd0"/>
<rect x="166.30" y="968.58" width="42.46" height="11.11" fill="#e2eef2"/>
<rect x="208.16" y="968.58" width="21.53" height="11.11" fill="#b2d5e7"/>
<rect x="229.09" y="968.58" width="21.53" height="11.11" fill="#e2eef2"/>
<rect x="250.02" y="968.58" width="21.53" height="11.11" fill="#fddbc7"/>
<rect x="270.95" y="968.58" width="21.53" height="11.11" fill="#e58268"/>
<rect x="291.88" y="968.58" width="42.46" height="11.11" fill="#f8c0a4"/>
<rect x="333.74" y="968.58" width="42.46" height="11.11" fill="#e58268"/>
<rect x="375.59" y="968.58" width="21.53" height="11.11" fill="#c43c3c"/>
<rect x="396.52" y="968.58" width="21.53" height="11.11" fill="#b2182b"/>
<rect x="417.45" y="968.58" width="21.53" height="11.11" fill="#8c0c25"/>
<rect x="438.38" y="968.58" width="21.53" height="11.11" fill="#d6604d"/>
<rect x="459.31" y="968.58" width="21.53" height="11.11" fill="#f8e9de"/>
<rect x="480.24" y="968.58" width="42.46" height="11.11" fill="#e2eef2"/>
<rect x="522.10" y="968.58" width="41.86" height="11.11" fill="#f8e9de"/>
<rect x="124.44" y="979.09" width="21.53" height="11.11" fill="#f4f7f4"/>
<rect x="145.37" y="979.09" width="21.53" height="11.11" fill="#6aacd0"/>
<rect x="166.30" y="979.09" width="21.53" height="11.11" fill="#f4f7f4"/>
<rect x="187.23" y="979.09" width="21.53" height="11.11" fill="#e2eef2"/>
<rect x="208.16" y="979.09" width="21.53" height="11.11" fill="#92c5de"/>
<rect x="229.09" y="979.09" width="21.53" height="11.11" fill="#e2eef2"/>
<rect x="250.02" y="979.09" width="21.53" height="11.11" fill="#f8c0a4"/>
<rect x="270.95" y="979.09" width="21.53" height="11.11" fill="#d6604d"/>
<rect x="291.88" y="979.09" width="21.53" height="11.11" fill="#e58268"/>
<rect x="312.81" y="979.09" width="21.53" height="11.11" fill="#f8c0a4"/>
<rect x="333.74" y="979.09" width="42.46" height="11.11" fill="#d6604d"/>
<rect x="375.59" y="979.09" width="42.46" height="11.11" fill="#8c0c25"/>
<rect x="417.45" y="979.09" width="21.53" height="11.11" fill="#b2182b"/>
<rect x="438.38" y="979.09" width="21.53" height="11.11" fill="#d6604d"/>
<rect x="459.31" y="979.09" width="21.53" height="11.11" fill="#fddbc7"/>
<rect x="480.24" y="979.09" width="21.53" height="11.11" fill="#e2eef2"/>
<rect x="501.17" y="979.09" width="62.79" height="11.11" fill="#f8e9de"/>
<rect x="124.44" y="989.59" width="21.53" height="11.11" fill="#f4f7f4"/>
<rect x="145.37" y="989.59" width="21.53" height="11.11" fill="#b2d5e7"/>
<rect x="166.30" y="989.59" width="21.53" height="11.11" fill="#f4f7f4"/>
<rect x="187.23" y="989.59" width="21.53" height="11.11" fill="#e2eef2"/>
<rect x="208.16" y="989.59" width="21.53" height="11.11" fill="#92c5de"/>
<rect x="229.09" y="989.59" width="21.53" height="11.11" fill="#e2eef2"/>
<rect x="250.02" y="989.59" width="21.53" height="11.11" fill="#f4a582"/>
<rect x="270.95" y="989.59" width="21.53" height="11.11" fill="#d6604d"/>
<rect x="291.88" y="989.59" width="21.53" height="11.11" fill="#e58268"/>
<rect x="312.81" y="989.59" width="21.53" height="11.11" fill="#f4a582"/>
<rect x="333.74" y="989.59" width="21.53" height="11.11" fill="#d6604d"/>
<rect x="354.66" y="989.59" width="21.53" height="11.11" fill="#b2182b"/>
<rect x="375.59" y="989.59" width="42.46" height="11.11" fill="#67001f"/>
<rect x="417.45" y="989.59" width="21.53" height="11.11" fill="#b2182b"/>
<rect x="438.38" y="989.59" width="21.53" height="11.11" fill="#d6604d"/>
<rect x="459.31" y="989.59" width="21.53" height="11.11" fill="#f8c0a4"/>
<rect x="480.24" y="989.59" width="21.53" height="11.11" fill="#e2eef2"/>
<rect x="501.17" y="989.59" width="21.53" height="11.11" fill="#f8e9de"/>
<rect x="522.10" y="989.59" width="21.53" height="11.11" fill="#fddbc7"/>
<rect x="543.03" y="989.59" width="20.93" height="11.11" fill="#f4a582"/>
<rect x="124.44" y="1000.10" width="21.53" height="11.11" fill="#f8e9de"/>
<rect x="145.37" y="1000.10" width="21.53" height="11.11" fill="#d1e5f0"/>
<rect x="166.30" y="1000.10" width="21.53" height="11.11" fill="#f4f7f4"/>
<rect x="187.23" y="1000.10" width="21.53" height="11.11" fill="#e2eef2"/>
<rect x="208.16" y="1000.10" width="21.53" height="11.11" fill="#d1e5f0"/>
<rect x="229.09" y="1000.10" width="21.53" height="11.11" fill="#f4f7f4"/>
<rect x="250.02" y="1000.10" width="21.53" height="11.11" fill="#f4a582"/>
<rect x="270.95" y="1000.10" width="21.53" height="11.11" fill="#d6604d"/>
<rect x="291.88" y="1000.10" width="42.46" height="11.11" fill="#f4a582"/>
<rect x="333.74" y="1000.10" width="21.53" height="11.11" fill="#b2182b"/>
<rect x="354.66" y="1000.10" width="21.53" height="11.11" fill="#8c0c25"/>
<rect x="375.59" y="1000.10" width="42.46" height="11.11" fill="#67001f"/>
<rect x="417.45" y="1000.10" width="21.53" height="11.11" fill="#8c0c25"/>
<rect x="438.38" y="1000.10" width="21.53" height="11.11" fill="#c43c3c"/>
<rect x="459.31" y="1000.10" width="21.53" height="11.11" fill="#f8c0a4"/>
<rect x="480.24" y="1000.10" width="42.46" height="11.11" fill="#f8e9de"/>
<rect x="522.10" y="1000.10" width="21.53" height="11.11" fill="#fddbc7"/>
<rect x="543.03" y="1000.10" width="20.93" height="11.11" fill="#f8c0a4"/>
<rect x="124.44" y="1010.61" width="21.53" height="11.11" fill="#f8e9de"/>
<rect x="145.37" y="1010.61" width="21.53" height="11.11" fill="#e2eef2"/>
<rect x="166.30" y="1010.61" width="84.32" height="11.11" fill="#f4f7f4"/>
<rect x="250.02" y="1010.61" width="21.53" height="11.11" fill="#f8c0a4"/>
<rect x="270.95" y="1010.61" width="42.46" height="11.11" fill="#e58268"/>
<rect x="312.81" y="1010.61" width="21.53" height="11.11" fill="#f4a582"/>
<rect x="333.74" y="1010.61" width="21.53" height="11.11" fill="#c43c3c"/>
<rect x="354.66" y="1010.61" width="21.53" height="11.11" fill="#8c0c25"/>
<rect x="375.59" y="1010.61" width="42.46" height="11.11" fill="#67001f"/>
<rect x="417.45" y="1010.61" width="21.53" height="11.11" fill="#8c0c25"/>
<rect x="438.38" y="1010.61" width="21.53" height="11.11" fill="#c43c3c"/>
<rect x="459.31" y="1010.61" width="21.53" height="11.11" fill="#f8c0a4"/>
<rect x="480.24" y="1010.61" width="21.53" height="11.11" fill="#fddbc7"/>
<rect x="501.17" y="1010.61" width="21.53" height="11.11" fill="#f8e9de"/>
<rect x="522.10" y="1010.61" width="21.53" height="11.11" fill="#f8c0a4"/>
<rect x="543.03" y="1010.61" width="20.93" height="11.11" fill="#fddbc7"/>
<rect x="124.44" y="1021.11" width="21.53" height="11.11" fill="#fddbc7"/>
<rect x="145.37" y="1021.11" width="21.53" height="11.11" fill="#f4f7f4"/>
<rect x="166.30" y="1021.11" width="105.25" height="11.11" fill="#f8e9de"/>
<rect x="270.95" y="1021.11" width="42.46" height="11.11" fill="#f8c0a4"/>
<rect x="312.81" y="1021.11" width="21.53" height="11.11" fill="#f4a582"/>
<rect x="333.74" y="1021.11" width="21.53" height="11.11" fill="#d6604d"/>
<rect x="354.66" y="1021.11" width="84.32" height="11.11" fill="#b2182b"/>
<rect x="438.38" y="1021.11" width="21.53" height="11.11" fill="#c43c3c"/>
<rect x="459.31" y="1021.11" width="21.53" height="11.11" fill="#f8c0a4"/>
<rect x="480.24" y="1021.11" width="83.72" height="11.11" fill="#fddbc7"/>
<rect x="124.44" y="1031.62" width="21.53" height="11.11" fill="#f8e9de"/>
<rect x="145.37" y="1031.62" width="21.53" height="11.11" fill="#f4f7f4"/>
<rect x="166.30" y="1031.62" width="21.53" height="11.11" fill="#fddbc7"/>
<rect x="187.23" y="1031.62" width="42.46" height="11.11" fill="#f8e9de"/>
<rect x="229.09" y="1031.62" width="21.53" height="11.11" fill="#fddbc7"/>
<rect x="250.02" y="1031.62" width="21.53" height="11.11" fill="#f4f7f4"/>
<rect x="270.95" y="1031.62" width="42.46" height="11.11" fill="#f8e9de"/>
<rect x="312.81" y="1031.62" width="21.53" height="11.11" fill="#f8c0a4"/>
<rect x="333.74" y="1031.62" width="42.46" height="11.11" fill="#e58268"/>
<rect x="375.59" y="1031.62" width="21.53" height="11.11" fill="#c43c3c"/>
<rect x="396.52" y="1031.62" width="21.53" height="11.11" fill="#d6604d"/>
<rect x="417.45" y="1031.62" width="42.46" height="11.11" fill="#c43c3c"/>
<rect x="459.31" y="1031.62" width="42.46" height="11.11" fill="#f8c0a4"/>
<rect x="501.17" y="1031.62" width="62.79" height="11.11" fill="#fddbc7"/>
<rect x="124.44" y="1042.13" width="21.53" height="11.11" fill="#e2eef2"/>
<rect x="145.37" y="1042.13" width="21.53" height="11.11" fill="#f4f7f4"/>
<rect x="166.30" y="1042.13" width="42.46" height="11.11" fill="#f8c0a4"/>
<rect x="208.16" y="1042.13" width="21.53" height="11.11" fill="#fddbc7"/>
<rect x="229.09" y="1042.13" width="21.53" height="11.11" fill="#f8c0a4"/>
<rect x="250.02" y="1042.13" width="42.46" height="11.11" fill="#f8e9de"/>
<rect x="291.88" y="1042.13" width="21.53" height="11.11" fill="#f8c0a4"/>
<rect x="312.81" y="1042.13" width="21.53" height="11.11" fill="#f4f7f4"/>
<rect x="333.74" y="1042.13" width="21.53" height="11.11" fill="#fddbc7"/>
<rect x="354.66" y="1042.13" width="21.53" height="11.11" fill="#f8c0a4"/>
<rect x="375.59" y="1042.13" width="21.53" height="11.11" fill="#d6604d"/>
<rect x="396.52" y="1042.13" width="21.53" height="11.11" fill="#e58268"/>
<rect x="417.45" y="1042.13" width="21.53" height="11.11" fill="#d6604d"/>
<rect x="438.38" y="1042.13" width="21.53" height="11.11" fill="#c43c3c"/>
<rect x="459.31" y="1042.13" width="21.53" height="11.11" fill="#f4a582"/>
<rect x="480.24" y="1042.13" width="21.53" height="11.11" fill="#e58268"/>
<rect x="501.17" y="1042.13" width="21.53" height="11.11" fill="#f4a582"/>
<rect x="522.10" y="1042.13" width="21.53" height="11.11" fill="#f8c0a4"/>
<rect x="543.03" y="1042.13" width="20.93" height="11.11" fill="#fddbc7"/>
<rect x="124.44" y="1052.63" width="21.53" height="11.11" fill="#d1e5f0"/>
<rect x="145.37" y="1052.63" width="21.53" height="11.11" fill="#f4f7f4"/>
<rect x="166.30" y="1052.63" width="21.53" height="11.11" fill="#fddbc7"/>
<rect x="187.23" y="1052.63" width="21.53" height="11.11" fill="#f4a582"/>
<rect x="208.16" y="1052.63" width="21.53" height="11.11" fill="#fddbc7"/>
<rect x="229.09" y="1052.63" width="21.53" height="11.11" fill="#f4a582"/>
<rect x="250.02" y="1052.63" width="63.39" height="11.11" fill="#f8c0a4"/>
<rect x="312.81" y="1052.63" width="21.53" height="11.11" fill="#f4f7f4"/>
<rect x="333.74" y="1052.63" width="21.53" height="11.11" fill="#f8e9de"/>
<rect x="354.66" y="1052.63" width="21.53" height="11.11" fill="#f8c0a4"/>
<rect x="375.59" y="1052.63" width="21.53" height="11.11" fill="#d6604d"/>
<rect x="396.52" y="1052.63" width="21.53" height="11.11" fill="#f4a582"/>
<rect x="417.45" y="1052.63" width="21.53" height="11.11" fill="#e58268"/>
<rect x="438.38" y="1052.63" width="21.53" height="11.11" fill="#d6604d"/>
<rect x="459.31" y="1052.63" width="21.53" height="11.11" fill="#e58268"/>
<rect x="480.24" y="1052.63" width="21.53" height="11.11" fill="#d6604d"/>
<rect x="501.17" y="1052.63" width="21.53" height="11.11" fill="#f4a582"/>
<rect x="522.10" y="1052.63" width="21.53" height="11.11" fill="#f8c0a4"/>
<rect x="543.03" y="1052.63" width="20.93" height="11.11" fill="#fddbc7"/>
<rect x="124.44" y="1063.14" width="21.53" height="11.11" fill="#b2d5e7"/>
<rect x="145.37" y="1063.14" width="21.53" height="11.11" fill="#d1e5f0"/>
<rect x="166.30" y="1063.14" width="42.46" height="11.11" fill="#f8e9de"/>
<rect x="208.16" y="1063.14" width="21.53" height="11.11" fill="#fddbc7"/>
<rect x="229.09" y="1063.14" width="21.53" height="11.11" fill="#e58268"/>
<rect x="250.02" y="1063.14" width="42.46" height="11.11" fill="#d6604d"/>
<rect x="291.88" y="1063.14" width="21.53" height="11.11" fill="#e58268"/>
<rect x="312.81" y="1063.14" width="21.53" height="11.11" fill="#f8c0a4"/>
<rect x="333.74" y="1063.14" width="21.53" height="11.11" fill="#f4a582"/>
<rect x="354.66" y="1063.14" width="21.53" height="11.11" fill="#e58268"/>
<rect x="375.59" y="1063.14" width="63.39" height="11.11" fill="#d6604d"/>
<rect x="438.38" y="1063.14" width="21.53" height="11.11" fill="#c43c3c"/>
<rect x="459.31" y="1063.14" width="42.46" height="11.11" fill="#b2182b"/>
<rect x="501.17" y="1063.14" width="21.53" height="11.11" fill="#e58268"/>
<rect x="522.10" y="1063.14" width="41.86" height="11.11" fill="#f4a582"/>
<rect x="124.44" y="1073.65" width="21.53" height="11.11" fill="#d1e5f0"/>
<rect x="145.37" y="1073.65" width="21.53" height="11.11" fill="#e2eef2"/>
<rect x="166.30" y="1073.65" width="42.46" height="11.11" fill="#f8e9de"/>
<rect x="208.16" y="1073.65" width="21.53" height="11.11" fill="#fddbc7"/>
<rect x="229.09" y="1073.65" width="21.53" height="11.11" fill="#e58268"/>
<rect x="250.02" y="1073.65" width="63.39" height="11.11" fill="#d6604d"/>
<rect x="312.81" y="1073.65" width="21.53" height="11.11" fill="#e58268"/>
<rect x="333.74" y="1073.65" width="21.53" height="11.11" fill="#d6604d"/>
<rect x="354.66" y="1073.65" width="21.53" height="11.11" fill="#b2182b"/>
<rect x="375.59" y="1073.65" width="21.53" height="11.11" fill="#c43c3c"/>
<rect x="396.52" y="1073.65" width="42.46" height="11.11" fill="#b2182b"/>
<rect x="438.38" y="1073.65" width="21.53" height="11.11" fill="#c43c3c"/>
<rect x="459.31" y="1073.65" width="21.53" height="11.11" fill="#8c0c25"/>
<rect x="480.24" y="1073.65" width="21.53" height="11.11" fill="#b2182b"/>
<rect x="501.17" y="1073.65" width="21.53" height="11.11" fill="#e58268"/>
<rect x="522.10" y="1073.65" width="41.86" height="11.11" fill="#f4a582"/>
<rect x="124.44" y="1084.15" width="21.53" height="11.11" fill="#d1e5f0"/>
<rect x="145.37" y="1084.15" width="21.53" height="11.11" fill="#e2eef2"/>
<rect x="166.30" y="1084.15" width="21.53" height="11.11" fill="#f8e9de"/>
<rect x="187.23" y="1084.15" width="21.53" height="11.11" fill="#fddbc7"/>
<rect x="208.16" y="1084.15" width="21.53" height="11.11" fill="#f4a582"/>
<rect x="229.09" y="1084.15" width="21.53" height="11.11" fill="#c43c3c"/>
<rect x="250.02" y="1084.15" width="42.46" height="11.11" fill="#b2182b"/>
<rect x="291.88" y="1084.15" width="42.46" height="11.11" fill="#8c0c25"/>
<rect x="333.74" y="1084.15" width="84.32" height="11.11" fill="#67001f"/>
<rect x="417.45" y="1084.15" width="84.32" height="11.11" fill="#8c0c25"/>
<rect x="501.17" y="1084.15" width="42.46" height="11.11" fill="#c43c3c"/>
<rect x="543.03" y="1084.15" width="20.93" height="11.11" fill="#d6604d"/>
<rect x="124.44" y="1094.66" width="42.46" height="11.11" fill="#f4f7f4"/>
<rect x="166.30" y="1094.66" width="21.53" height="11.11" fill="#f8e9de"/>
<rect x="187.23" y="1094.66" width="21.53" height="11.11" fill="#f4a582"/>
<rect x="208.16" y="1094.66" width="21.53" height="11.11" fill="#d6604d"/>
<rect x="229.09" y="1094.66" width="21.53" height="11.11" fill="#b2182b"/>
<rect x="250.02" y="1094.66" width="209.90" height="11.11" fill="#67001f"/>
<rect x="459.31" y="1094.66" width="21.53" height="11.11" fill="#8c0c25"/>
<rect x="480.24" y="1094.66" width="63.39" height="11.11" fill="#b2182b"/>
<rect x="543.03" y="1094.66" width="20.93" height="11.11" fill="#c43c3c"/>
<rect x="124.44" y="1105.17" width="42.46" height="11.11" fill="#f8e9de"/>
<rect x="166.30" y="1105.17" width="21.53" height="11.11" fill="#fddbc7"/>
<rect x="187.23" y="1105.17" width="21.53" height="11.11" fill="#f4a582"/>
<rect x="208.16" y="1105.17" width="21.53" height="11.11" fill="#d6604d"/>
<rect x="229.09" y="1105.17" width="21.53" height="11.11" fill="#8c0c25"/>
<rect x="250.02" y="1105.17" width="209.90" height="11.11" fill="#67001f"/>
<rect x="459.31" y="1105.17" width="21.53" height="11.11" fill="#8c0c25"/>
<rect x="480.24" y="1105.17" width="42.46" height="11.11" fill="#c43c3c"/>
<rect x="522.10" y="1105.17" width="41.86" height="11.11" fill="#b2182b"/>
<rect x="124.44" y="1115.67" width="21.53" height="9.21" fill="#f8c0a4"/>
<rect x="145.37" y="1115.67" width="21.53" height="9.21" fill="#f4a582"/>
<rect x="166.30" y="1115.67" width="21.53" height="9.21" fill="#e58268"/>
<rect x="187.23" y="1115.67" width="42.46" height="9.21" fill="#d6604d"/>
<rect x="229.09" y="1115.67" width="21.53" height="9.21" fill="#c43c3c"/>
<rect x="250.02" y="1115.67" width="63.39" height="9.21" fill="#b2182b"/>
<rect x="312.81" y="1115.67" width="21.53" height="9.21" fill="#8c0c25"/>
<rect x="333.74" y="1115.67" width="126.18" height="9.21" fill="#b2182b"/>
<rect x="459.31" y="1115.67" width="21.53" height="9.21" fill="#c43c3c"/>
<rect x="480.24" y="1115.67" width="21.53" height="9.21" fill="#d6604d"/>
<rect x="501.17" y="1115.67" width="62.79" height="9.21" fill="#e58268"/>
</g>
<path d="M124.44 874.02 V1124.88 H563.96" fill="none" stroke="#262626" stroke-width="2.7" stroke-linecap="square"/>
<path d="M124.44 876.70 h-5.6" stroke="#262626" stroke-width="2.7"/>
<text transform="matrix(0.27440 0 0 0.24500 80.08 884.85)" font-size="100" fill="#3d3a3a">25</text>
<path d="M124.44 930.35 h-5.6" stroke="#262626" stroke-width="2.7"/>
<text transform="matrix(0.27440 0 0 0.24500 79.94 938.50)" font-size="100" fill="#3d3a3a">20</text>
<path d="M124.44 984.00 h-5.6" stroke="#262626" stroke-width="2.7"/>
<text transform="matrix(0.27440 0 0 0.24500 80.08 992.03)" font-size="100" fill="#3d3a3a">15</text>
<path d="M124.44 1037.65 h-5.6" stroke="#262626" stroke-width="2.7"/>
<text transform="matrix(0.27440 0 0 0.24500 79.94 1045.80)" font-size="100" fill="#3d3a3a">10</text>
<path d="M124.44 1091.30 h-5.6" stroke="#262626" stroke-width="2.7"/>
<text transform="matrix(0.27440 0 0 0.24500 95.31 1099.33)" font-size="100" fill="#3d3a3a">5</text>
<path d="M129.80 1124.88 v5.2" stroke="#262626" stroke-width="2.7"/>
<text transform="matrix(0.27440 0 0 0.24500 122.12 1159.23)" font-size="100" fill="#3d3a3a">0</text>
<path d="M237.00 1124.88 v5.2" stroke="#262626" stroke-width="2.7"/>
<text transform="matrix(0.27440 0 0 0.24500 217.93 1159.23)" font-size="100" fill="#3d3a3a">0.5</text>
<path d="M344.20 1124.88 v5.2" stroke="#262626" stroke-width="2.7"/>
<text transform="matrix(0.27440 0 0 0.24500 336.17 1158.99)" font-size="100" fill="#3d3a3a">1</text>
<path d="M451.40 1124.88 v5.2" stroke="#262626" stroke-width="2.7"/>
<text transform="matrix(0.27440 0 0 0.24500 431.85 1158.99)" font-size="100" fill="#3d3a3a">1.5</text>
<path d="M558.60 1124.88 v5.2" stroke="#262626" stroke-width="2.7"/>
<text transform="matrix(0.27440 0 0 0.24500 550.99 1159.23)" font-size="100" fill="#3d3a3a">2</text>
<g>
<rect x="702.56" y="874.02" width="21.45" height="11.11" fill="#f8c0a4"/>
<rect x="723.41" y="874.02" width="42.30" height="11.11" fill="#f4a582"/>
<rect x="765.11" y="874.02" width="42.30" height="11.11" fill="#f8e9de"/>
<rect x="806.82" y="874.02" width="21.45" height="11.11" fill="#e2eef2"/>
<rect x="827.67" y="874.02" width="42.30" height="11.11" fill="#f4f7f4"/>
<rect x="869.37" y="874.02" width="21.45" height="11.11" fill="#f4a582"/>
<rect x="890.22" y="874.02" width="21.45" height="11.11" fill="#fddbc7"/>
<rect x="911.07" y="874.02" width="21.45" height="11.11" fill="#f4a582"/>
<rect x="931.93" y="874.02" width="21.45" height="11.11" fill="#e58268"/>
<rect x="952.78" y="874.02" width="21.45" height="11.11" fill="#f8c0a4"/>
<rect x="973.63" y="874.02" width="21.45" height="11.11" fill="#f8e9de"/>
<rect x="994.48" y="874.02" width="42.30" height="11.11" fill="#f4f7f4"/>
<rect x="1036.18" y="874.02" width="21.45" height="11.11" fill="#f8c0a4"/>
<rect x="1057.03" y="874.02" width="21.45" height="11.11" fill="#fddbc7"/>
<rect x="1077.89" y="874.02" width="21.45" height="11.11" fill="#f4f7f4"/>
<rect x="1098.74" y="874.02" width="21.45" height="11.11" fill="#f8e9de"/>
<rect x="1119.59" y="874.02" width="20.85" height="11.11" fill="#fddbc7"/>
<rect x="702.56" y="884.52" width="21.45" height="11.11" fill="#f8c0a4"/>
<rect x="723.41" y="884.52" width="42.30" height="11.11" fill="#f4a582"/>
<rect x="765.11" y="884.52" width="42.30" height="11.11" fill="#f8e9de"/>
<rect x="806.82" y="884.52" width="21.45" height="11.11" fill="#e2eef2"/>
<rect x="827.67" y="884.52" width="42.30" height="11.11" fill="#f4f7f4"/>
<rect x="869.37" y="884.52" width="21.45" height="11.11" fill="#f4a582"/>
<rect x="890.22" y="884.52" width="21.45" height="11.11" fill="#f8c0a4"/>
<rect x="911.07" y="884.52" width="21.45" height="11.11" fill="#f4a582"/>
<rect x="931.93" y="884.52" width="21.45" height="11.11" fill="#e58268"/>
<rect x="952.78" y="884.52" width="21.45" height="11.11" fill="#f4a582"/>
<rect x="973.63" y="884.52" width="42.30" height="11.11" fill="#f8e9de"/>
<rect x="1015.33" y="884.52" width="21.45" height="11.11" fill="#f4f7f4"/>
<rect x="1036.18" y="884.52" width="21.45" height="11.11" fill="#f8c0a4"/>
<rect x="1057.03" y="884.52" width="21.45" height="11.11" fill="#fddbc7"/>
<rect x="1077.89" y="884.52" width="21.45" height="11.11" fill="#f4f7f4"/>
<rect x="1098.74" y="884.52" width="21.45" height="11.11" fill="#f8e9de"/>
<rect x="1119.59" y="884.52" width="20.85" height="11.11" fill="#fddbc7"/>
<rect x="702.56" y="895.03" width="21.45" height="11.11" fill="#f8c0a4"/>
<rect x="723.41" y="895.03" width="42.30" height="11.11" fill="#f4a582"/>
<rect x="765.11" y="895.03" width="42.30" height="11.11" fill="#f8e9de"/>
<rect x="806.82" y="895.03" width="21.45" height="11.11" fill="#e2eef2"/>
<rect x="827.67" y="895.03" width="42.30" height="11.11" fill="#f4f7f4"/>
<rect x="869.37" y="895.03" width="21.45" height="11.11" fill="#f4a582"/>
<rect x="890.22" y="895.03" width="42.30" height="11.11" fill="#f8c0a4"/>
<rect x="931.93" y="895.03" width="21.45" height="11.11" fill="#e58268"/>
<rect x="952.78" y="895.03" width="21.45" height="11.11" fill="#f4a582"/>
<rect x="973.63" y="895.03" width="42.30" height="11.11" fill="#f8e9de"/>
<rect x="1015.33" y="895.03" width="21.45" height="11.11" fill="#f4f7f4"/>
<rect x="1036.18" y="895.03" width="21.45" height="11.11" fill="#f8c0a4"/>
<rect x="1057.03" y="895.03" width="21.45" height="11.11" fill="#f4a582"/>
<rect x="1077.89" y="895.03" width="21.45" height="11.11" fill="#f4f7f4"/>
<rect x="1098.74" y="895.03" width="21.45" height="11.11" fill="#f8e9de"/>
<rect x="1119.59" y="895.03" width="20.85" height="11.11" fill="#fddbc7"/>
<rect x="702.56" y="905.54" width="42.30" height="11.11" fill="#fddbc7"/>
<rect x="744.26" y="905.54" width="21.45" height="11.11" fill="#f8c0a4"/>
<rect x="765.11" y="905.54" width="21.45" height="11.11" fill="#fddbc7"/>
<rect x="785.97" y="905.54" width="21.45" height="11.11" fill="#f8e9de"/>
<rect x="806.82" y="905.54" width="21.45" height="11.11" fill="#d1e5f0"/>
<rect x="827.67" y="905.54" width="21.45" height="11.11" fill="#e2eef2"/>
<rect x="848.52" y="905.54" width="21.45" height="11.11" fill="#f4f7f4"/>
<rect x="869.37" y="905.54" width="21.45" height="11.11" fill="#f8c0a4"/>
<rect x="890.22" y="905.54" width="42.30" height="11.11" fill="#fddbc7"/>
<rect x="931.93" y="905.54" width="21.45" height="11.11" fill="#f4a582"/>
<rect x="952.78" y="905.54" width="21.45" height="11.11" fill="#f8c0a4"/>
<rect x="973.63" y="905.54" width="63.15" height="11.11" fill="#f4f7f4"/>
<rect x="1036.18" y="905.54" width="21.45" height="11.11" fill="#fddbc7"/>
<rect x="1057.03" y="905.54" width="21.45" height="11.11" fill="#e58268"/>
<rect x="1077.89" y="905.54" width="42.30" height="11.11" fill="#f4f7f4"/>
<rect x="1119.59" y="905.54" width="20.85" height="11.11" fill="#fddbc7"/>
<rect x="702.56" y="916.04" width="21.45" height="11.11" fill="#f4f7f4"/>
<rect x="723.41" y="916.04" width="21.45" height="11.11" fill="#fddbc7"/>
<rect x="744.26" y="916.04" width="21.45" height="11.11" fill="#f8c0a4"/>
<rect x="765.11" y="916.04" width="21.45" height="11.11" fill="#f8e9de"/>
<rect x="785.97" y="916.04" width="21.45" height="11.11" fill="#f4f7f4"/>
<rect x="806.82" y="916.04" width="42.30" height="11.11" fill="#e2eef2"/>
<rect x="848.52" y="916.04" width="21.45" height="11.11" fill="#f4f7f4"/>
<rect x="869.37" y="916.04" width="21.45" height="11.11" fill="#f8c0a4"/>
<rect x="890.22" y="916.04" width="84.01" height="11.11" fill="#fddbc7"/>
<rect x="973.63" y="916.04" width="42.30" height="11.11" fill="#e2eef2"/>
<rect x="1015.33" y="916.04" width="21.45" height="11.11" fill="#f4f7f4"/>
<rect x="1036.18" y="916.04" width="21.45" height="11.11" fill="#fddbc7"/>
<rect x="1057.03" y="916.04" width="21.45" height="11.11" fill="#e58268"/>
<rect x="1077.89" y="916.04" width="42.30" height="11.11" fill="#f4f7f4"/>
<rect x="1119.59" y="916.04" width="20.85" height="11.11" fill="#f8e9de"/>
<rect x="702.56" y="926.55" width="21.45" height="11.11" fill="#f4f7f4"/>
<rect x="723.41" y="926.55" width="21.45" height="11.11" fill="#f8e9de"/>
<rect x="744.26" y="926.55" width="21.45" height="11.11" fill="#f4a582"/>
<rect x="765.11" y="926.55" width="42.30" height="11.11" fill="#f8e9de"/>
<rect x="806.82" y="926.55" width="21.45" height="11.11" fill="#f4f7f4"/>
<rect x="827.67" y="926.55" width="21.45" height="11.11" fill="#e2eef2"/>
<rect x="848.52" y="926.55" width="21.45" height="11.11" fill="#f4f7f4"/>
<rect x="869.37" y="926.55" width="63.15" height="11.11" fill="#fddbc7"/>
<rect x="931.93" y="926.55" width="21.45" height="11.11" fill="#f8e9de"/>
<rect x="952.78" y="926.55" width="21.45" height="11.11" fill="#f4f7f4"/>
<rect x="973.63" y="926.55" width="21.45" height="11.11" fill="#e2eef2"/>
<rect x="994.48" y="926.55" width="21.45" height="11.11" fill="#d1e5f0"/>
<rect x="1015.33" y="926.55" width="21.45" height="11.11" fill="#e2eef2"/>
<rect x="1036.18" y="926.55" width="21.45" height="11.11" fill="#f8e9de"/>
<rect x="1057.03" y="926.55" width="21.45" height="11.11" fill="#f4a582"/>
<rect x="1077.89" y="926.55" width="42.30" height="11.11" fill="#f4f7f4"/>
<rect x="1119.59" y="926.55" width="20.85" height="11.11" fill="#f8e9de"/>
<rect x="702.56" y="937.06" width="21.45" height="11.11" fill="#e2eef2"/>
<rect x="723.41" y="937.06" width="21.45" height="11.11" fill="#f8e9de"/>
<rect x="744.26" y="937.06" width="21.45" height="11.11" fill="#f8c0a4"/>
<rect x="765.11" y="937.06" width="63.15" height="11.11" fill="#f8e9de"/>
<rect x="827.67" y="937.06" width="21.45" height="11.11" fill="#d1e5f0"/>
<rect x="848.52" y="937.06" width="21.45" height="11.11" fill="#f4f7f4"/>
<rect x="869.37" y="937.06" width="63.15" height="11.11" fill="#f8e9de"/>
<rect x="931.93" y="937.06" width="42.30" height="11.11" fill="#f4f7f4"/>
<rect x="973.63" y="937.06" width="21.45" height="11.11" fill="#e2eef2"/>
<rect x="994.48" y="937.06" width="21.45" height="11.11" fill="#d1e5f0"/>
<rect x="1015.33" y="937.06" width="21.45" height="11.11" fill="#e2eef2"/>
<rect x="1036.18" y="937.06" width="21.45" height="11.11" fill="#f8e9de"/>
<rect x="1057.03" y="937.06" width="21.45" height="11.11" fill="#f8c0a4"/>
<rect x="1077.89" y="937.06" width="21.45" height="11.11" fill="#e2eef2"/>
<rect x="1098.74" y="937.06" width="41.70" height="11.11" fill="#f4f7f4"/>
<rect x="702.56" y="947.57" width="21.45" height="11.11" fill="#d1e5f0"/>
<rect x="723.41" y="947.57" width="21.45" height="11.11" fill="#f4f7f4"/>
<rect x="744.26" y="947.57" width="21.45" height="11.11" fill="#f8c0a4"/>
<rect x="765.11" y="947.57" width="42.30" height="11.11" fill="#fddbc7"/>
<rect x="806.82" y="947.57" width="21.45" height="11.11" fill="#f8e9de"/>
<rect x="827.67" y="947.57" width="21.45" height="11.11" fill="#d1e5f0"/>
<rect x="848.52" y="947.57" width="125.71" height="11.11" fill="#f4f7f4"/>
<rect x="973.63" y="947.57" width="21.45" height="11.11" fill="#e2eef2"/>
<rect x="994.48" y="947.57" width="21.45" height="11.11" fill="#b2d5e7"/>
<rect x="1015.33" y="947.57" width="21.45" height="11.11" fill="#e2eef2"/>
<rect x="1036.18" y="947.57" width="21.45" height="11.11" fill="#f4f7f4"/>
<rect x="1057.03" y="947.57" width="21.45" height="11.11" fill="#fddbc7"/>
<rect x="1077.89" y="947.57" width="21.45" height="11.11" fill="#e2eef2"/>
<rect x="1098.74" y="947.57" width="41.70" height="11.11" fill="#f4f7f4"/>
<rect x="702.56" y="958.07" width="21.45" height="11.11" fill="#d1e5f0"/>
<rect x="723.41" y="958.07" width="21.45" height="11.11" fill="#f4f7f4"/>
<rect x="744.26" y="958.07" width="42.30" height="11.11" fill="#f8c0a4"/>
<rect x="785.97" y="958.07" width="21.45" height="11.11" fill="#fddbc7"/>
<rect x="806.82" y="958.07" width="21.45" height="11.11" fill="#f8e9de"/>
<rect x="827.67" y="958.07" width="21.45" height="11.11" fill="#d1e5f0"/>
<rect x="848.52" y="958.07" width="84.01" height="11.11" fill="#f4f7f4"/>
<rect x="931.93" y="958.07" width="21.45" height="11.11" fill="#f8e9de"/>
<rect x="952.78" y="958.07" width="21.45" height="11.11" fill="#f4f7f4"/>
<rect x="973.63" y="958.07" width="21.45" height="11.11" fill="#e2eef2"/>
<rect x="994.48" y="958.07" width="21.45" height="11.11" fill="#d1e5f0"/>
<rect x="1015.33" y="958.07" width="42.30" height="11.11" fill="#f4f7f4"/>
<rect x="1057.03" y="958.07" width="21.45" height="11.11" fill="#fddbc7"/>
<rect x="1077.89" y="958.07" width="62.55" height="11.11" fill="#f4f7f4"/>
<rect x="702.56" y="968.58" width="21.45" height="11.11" fill="#d1e5f0"/>
<rect x="723.41" y="968.58" width="21.45" height="11.11" fill="#e2eef2"/>
<rect x="744.26" y="968.58" width="21.45" height="11.11" fill="#f8c0a4"/>
<rect x="765.11" y="968.58" width="21.45" height="11.11" fill="#f4a582"/>
<rect x="785.97" y="968.58" width="21.45" height="11.11" fill="#f8c0a4"/>
<rect x="806.82" y="968.58" width="21.45" height="11.11" fill="#fddbc7"/>
<rect x="827.67" y="968.58" width="21.45" height="11.11" fill="#e2eef2"/>
<rect x="848.52" y="968.58" width="42.30" height="11.11" fill="#f4f7f4"/>
<rect x="890.22" y="968.58" width="21.45" height="11.11" fill="#e2eef2"/>
<rect x="911.07" y="968.58" width="21.45" height="11.11" fill="#f4f7f4"/>
<rect x="931.93" y="968.58" width="21.45" height="11.11" fill="#f8e9de"/>
<rect x="952.78" y="968.58" width="21.45" height="11.11" fill="#f4f7f4"/>
<rect x="973.63" y="968.58" width="21.45" height="11.11" fill="#f8e9de"/>
<rect x="994.48" y="968.58" width="21.45" height="11.11" fill="#e2eef2"/>
<rect x="1015.33" y="968.58" width="21.45" height="11.11" fill="#f8e9de"/>
<rect x="1036.18" y="968.58" width="21.45" height="11.11" fill="#f4f7f4"/>
<rect x="1057.03" y="968.58" width="63.15" height="11.11" fill="#f8e9de"/>
<rect x="1119.59" y="968.58" width="20.85" height="11.11" fill="#f4f7f4"/>
<rect x="702.56" y="979.09" width="21.45" height="11.11" fill="#b2d5e7"/>
<rect x="723.41" y="979.09" width="21.45" height="11.11" fill="#d1e5f0"/>
<rect x="744.26" y="979.09" width="21.45" height="11.11" fill="#f8c0a4"/>
<rect x="765.11" y="979.09" width="21.45" height="11.11" fill="#f4a582"/>
<rect x="785.97" y="979.09" width="21.45" height="11.11" fill="#f8c0a4"/>
<rect x="806.82" y="979.09" width="21.45" height="11.11" fill="#fddbc7"/>
<rect x="827.67" y="979.09" width="21.45" height="11.11" fill="#e2eef2"/>
<rect x="848.52" y="979.09" width="42.30" height="11.11" fill="#f8e9de"/>
<rect x="890.22" y="979.09" width="21.45" height="11.11" fill="#e2eef2"/>
<rect x="911.07" y="979.09" width="42.30" height="11.11" fill="#f8e9de"/>
<rect x="952.78" y="979.09" width="21.45" height="11.11" fill="#f4f7f4"/>
<rect x="973.63" y="979.09" width="21.45" height="11.11" fill="#f8e9de"/>
<rect x="994.48" y="979.09" width="21.45" height="11.11" fill="#f4f7f4"/>
<rect x="1015.33" y="979.09" width="21.45" height="11.11" fill="#f8e9de"/>
<rect x="1036.18" y="979.09" width="21.45" height="11.11" fill="#fddbc7"/>
<rect x="1057.03" y="979.09" width="21.45" height="11.11" fill="#f4f7f4"/>
<rect x="1077.89" y="979.09" width="42.30" height="11.11" fill="#f8e9de"/>
<rect x="1119.59" y="979.09" width="20.85" height="11.11" fill="#f4f7f4"/>
<rect x="702.56" y="989.59" width="21.45" height="11.11" fill="#92c5de"/>
<rect x="723.41" y="989.59" width="21.45" height="11.11" fill="#d1e5f0"/>
<rect x="744.26" y="989.59" width="21.45" height="11.11" fill="#f8e9de"/>
<rect x="765.11" y="989.59" width="42.30" height="11.11" fill="#fddbc7"/>
<rect x="806.82" y="989.59" width="21.45" height="11.11" fill="#f4f7f4"/>
<rect x="827.67" y="989.59" width="21.45" height="11.11" fill="#e2eef2"/>
<rect x="848.52" y="989.59" width="42.30" height="11.11" fill="#f8e9de"/>
<rect x="890.22" y="989.59" width="21.45" height="11.11" fill="#f4f7f4"/>
<rect x="911.07" y="989.59" width="21.45" height="11.11" fill="#f8e9de"/>
<rect x="931.93" y="989.59" width="21.45" height="11.11" fill="#f4f7f4"/>
<rect x="952.78" y="989.59" width="21.45" height="11.11" fill="#e2eef2"/>
<rect x="973.63" y="989.59" width="21.45" height="11.11" fill="#f4f7f4"/>
<rect x="994.48" y="989.59" width="42.30" height="11.11" fill="#f8e9de"/>
<rect x="1036.18" y="989.59" width="21.45" height="11.11" fill="#f8c0a4"/>
<rect x="1057.03" y="989.59" width="42.30" height="11.11" fill="#f4f7f4"/>
<rect x="1098.74" y="989.59" width="21.45" height="11.11" fill="#f8e9de"/>
<rect x="1119.59" y="989.59" width="20.85" height="11.11" fill="#f4f7f4"/>
<rect x="702.56" y="1000.10" width="21.45" height="11.11" fill="#92c5de"/>
<rect x="723.41" y="1000.10" width="21.45" height="11.11" fill="#d1e5f0"/>
<rect x="744.26" y="1000.10" width="21.45" height="11.11" fill="#f4f7f4"/>
<rect x="765.11" y="1000.10" width="21.45" height="11.11" fill="#f8e9de"/>
<rect x="785.97" y="1000.10" width="21.45" height="11.11" fill="#f4f7f4"/>
<rect x="806.82" y="1000.10" width="42.30" height="11.11" fill="#b2d5e7"/>
<rect x="848.52" y="1000.10" width="21.45" height="11.11" fill="#e2eef2"/>
<rect x="869.37" y="1000.10" width="42.30" height="11.11" fill="#f4f7f4"/>
<rect x="911.07" y="1000.10" width="21.45" height="11.11" fill="#f8e9de"/>
<rect x="931.93" y="1000.10" width="21.45" height="11.11" fill="#f4f7f4"/>
<rect x="952.78" y="1000.10" width="21.45" height="11.11" fill="#e2eef2"/>
<rect x="973.63" y="1000.10" width="21.45" height="11.11" fill="#f4f7f4"/>
<rect x="994.48" y="1000.10" width="21.45" height="11.11" fill="#f8e9de"/>
<rect x="1015.33" y="1000.10" width="21.45" height="11.11" fill="#f4f7f4"/>
<rect x="1036.18" y="1000.10" width="21.45" height="11.11" fill="#f8c0a4"/>
<rect x="1057.03" y="1000.10" width="21.45" height="11.11" fill="#e2eef2"/>
<rect x="1077.89" y="1000.10" width="21.45" height="11.11" fill="#d1e5f0"/>
<rect x="1098.74" y="1000.10" width="21.45" height="11.11" fill="#f4f7f4"/>
<rect x="1119.59" y="1000.10" width="20.85" height="11.11" fill="#e2eef2"/>
<rect x="702.56" y="1010.61" width="42.30" height="11.11" fill="#f4f7f4"/>
<rect x="744.26" y="1010.61" width="21.45" height="11.11" fill="#fddbc7"/>
<rect x="765.11" y="1010.61" width="21.45" height="11.11" fill="#f4f7f4"/>
<rect x="785.97" y="1010.61" width="21.45" height="11.11" fill="#e2eef2"/>
<rect x="806.82" y="1010.61" width="21.45" height="11.11" fill="#b2d5e7"/>
<rect x="827.67" y="1010.61" width="21.45" height="11.11" fill="#92c5de"/>
<rect x="848.52" y="1010.61" width="42.30" height="11.11" fill="#e2eef2"/>
<rect x="890.22" y="1010.61" width="21.45" height="11.11" fill="#f4f7f4"/>
<rect x="911.07" y="1010.61" width="21.45" height="11.11" fill="#f8e9de"/>
<rect x="931.93" y="1010.61" width="21.45" height="11.11" fill="#f4f7f4"/>
<rect x="952.78" y="1010.61" width="21.45" height="11.11" fill="#fddbc7"/>
<rect x="973.63" y="1010.61" width="42.30" height="11.11" fill="#f8e9de"/>
<rect x="1015.33" y="1010.61" width="21.45" height="11.11" fill="#f4f7f4"/>
<rect x="1036.18" y="1010.61" width="21.45" height="11.11" fill="#f8e9de"/>
<rect x="1057.03" y="1010.61" width="21.45" height="11.11" fill="#e2eef2"/>
<rect x="1077.89" y="1010.61" width="21.45" height="11.11" fill="#d1e5f0"/>
<rect x="1098.74" y="1010.61" width="41.70" height="11.11" fill="#f4f7f4"/>
<rect x="702.56" y="1021.11" width="21.45" height="11.11" fill="#f8e9de"/>
<rect x="723.41" y="1021.11" width="42.30" height="11.11" fill="#f8c0a4"/>
<rect x="765.11" y="1021.11" width="21.45" height="11.11" fill="#f4f7f4"/>
<rect x="785.97" y="1021.11" width="21.45" height="11.11" fill="#d1e5f0"/>
<rect x="806.82" y="1021.11" width="21.45" height="11.11" fill="#b2d5e7"/>
<rect x="827.67" y="1021.11" width="21.45" height="11.11" fill="#6aacd0"/>
<rect x="848.52" y="1021.11" width="21.45" height="11.11" fill="#b2d5e7"/>
<rect x="869.37" y="1021.11" width="21.45" height="11.11" fill="#d1e5f0"/>
<rect x="890.22" y="1021.11" width="21.45" height="11.11" fill="#e2eef2"/>
<rect x="911.07" y="1021.11" width="21.45" height="11.11" fill="#f4f7f4"/>
<rect x="931.93" y="1021.11" width="21.45" height="11.11" fill="#f8e9de"/>
<rect x="952.78" y="1021.11" width="21.45" height="11.11" fill="#f8c0a4"/>
<rect x="973.63" y="1021.11" width="21.45" height="11.11" fill="#fddbc7"/>
<rect x="994.48" y="1021.11" width="21.45" height="11.11" fill="#f8c0a4"/>
<rect x="1015.33" y="1021.11" width="84.01" height="11.11" fill="#f4f7f4"/>
<rect x="1098.74" y="1021.11" width="41.70" height="11.11" fill="#e2eef2"/>
<rect x="702.56" y="1031.62" width="21.45" height="11.11" fill="#fddbc7"/>
<rect x="723.41" y="1031.62" width="21.45" height="11.11" fill="#f8c0a4"/>
<rect x="744.26" y="1031.62" width="21.45" height="11.11" fill="#f4a582"/>
<rect x="765.11" y="1031.62" width="21.45" height="11.11" fill="#f4f7f4"/>
<rect x="785.97" y="1031.62" width="21.45" height="11.11" fill="#d1e5f0"/>
<rect x="806.82" y="1031.62" width="21.45" height="11.11" fill="#b2d5e7"/>
<rect x="827.67" y="1031.62" width="21.45" height="11.11" fill="#6aacd0"/>
<rect x="848.52" y="1031.62" width="21.45" height="11.11" fill="#92c5de"/>
<rect x="869.37" y="1031.62" width="42.30" height="11.11" fill="#b2d5e7"/>
<rect x="911.07" y="1031.62" width="21.45" height="11.11" fill="#e2eef2"/>
<rect x="931.93" y="1031.62" width="21.45" height="11.11" fill="#fddbc7"/>
<rect x="952.78" y="1031.62" width="42.30" height="11.11" fill="#f4a582"/>
<rect x="994.48" y="1031.62" width="21.45" height="11.11" fill="#d6604d"/>
<rect x="1015.33" y="1031.62" width="104.86" height="11.11" fill="#f4f7f4"/>
<rect x="1119.59" y="1031.62" width="20.85" height="11.11" fill="#f8e9de"/>
<rect x="702.56" y="1042.13" width="21.45" height="11.11" fill="#f8e9de"/>
<rect x="723.41" y="1042.13" width="21.45" height="11.11" fill="#fddbc7"/>
<rect x="744.26" y="1042.13" width="21.45" height="11.11" fill="#f8c0a4"/>
<rect x="765.11" y="1042.13" width="21.45" height="11.11" fill="#f4f7f4"/>
<rect x="785.97" y="1042.13" width="21.45" height="11.11" fill="#e2eef2"/>
<rect x="806.82" y="1042.13" width="42.30" height="11.11" fill="#b2d5e7"/>
<rect x="848.52" y="1042.13" width="21.45" height="11.11" fill="#d1e5f0"/>
<rect x="869.37" y="1042.13" width="21.45" height="11.11" fill="#b2d5e7"/>
<rect x="890.22" y="1042.13" width="21.45" height="11.11" fill="#e2eef2"/>
<rect x="911.07" y="1042.13" width="21.45" height="11.11" fill="#f4f7f4"/>
<rect x="931.93" y="1042.13" width="42.30" height="11.11" fill="#f8c0a4"/>
<rect x="973.63" y="1042.13" width="21.45" height="11.11" fill="#f8e9de"/>
<rect x="994.48" y="1042.13" width="21.45" height="11.11" fill="#fddbc7"/>
<rect x="1015.33" y="1042.13" width="63.15" height="11.11" fill="#f4f7f4"/>
<rect x="1077.89" y="1042.13" width="21.45" height="11.11" fill="#f8e9de"/>
<rect x="1098.74" y="1042.13" width="41.70" height="11.11" fill="#fddbc7"/>
<rect x="702.56" y="1052.63" width="21.45" height="11.11" fill="#f4f7f4"/>
<rect x="723.41" y="1052.63" width="21.45" height="11.11" fill="#f8e9de"/>
<rect x="744.26" y="1052.63" width="21.45" height="11.11" fill="#fddbc7"/>
<rect x="765.11" y="1052.63" width="21.45" height="11.11" fill="#f4f7f4"/>
<rect x="785.97" y="1052.63" width="42.30" height="11.11" fill="#d1e5f0"/>
<rect x="827.67" y="1052.63" width="21.45" height="11.11" fill="#b2d5e7"/>
<rect x="848.52" y="1052.63" width="21.45" height="11.11" fill="#d1e5f0"/>
<rect x="869.37" y="1052.63" width="21.45" height="11.11" fill="#b2d5e7"/>
<rect x="890.22" y="1052.63" width="21.45" height="11.11" fill="#e2eef2"/>
<rect x="911.07" y="1052.63" width="21.45" height="11.11" fill="#d1e5f0"/>
<rect x="931.93" y="1052.63" width="42.30" height="11.11" fill="#f4f7f4"/>
<rect x="973.63" y="1052.63" width="21.45" height="11.11" fill="#e2eef2"/>
<rect x="994.48" y="1052.63" width="84.01" height="11.11" fill="#d1e5f0"/>
<rect x="1077.89" y="1052.63" width="62.55" height="11.11" fill="#f4f7f4"/>
<rect x="702.56" y="1063.14" width="21.45" height="11.11" fill="#f4f7f4"/>
<rect x="723.41" y="1063.14" width="42.30" height="11.11" fill="#d1e5f0"/>
<rect x="765.11" y="1063.14" width="21.45" height="11.11" fill="#6aacd0"/>
<rect x="785.97" y="1063.14" width="21.45" height="11.11" fill="#327db8"/>
<rect x="806.82" y="1063.14" width="84.01" height="11.11" fill="#4393c3"/>
<rect x="890.22" y="1063.14" width="21.45" height="11.11" fill="#92c5de"/>
<rect x="911.07" y="1063.14" width="63.15" height="11.11" fill="#b2d5e7"/>
<rect x="973.63" y="1063.14" width="21.45" height="11.11" fill="#92c5de"/>
<rect x="994.48" y="1063.14" width="21.45" height="11.11" fill="#6aacd0"/>
<rect x="1015.33" y="1063.14" width="21.45" height="11.11" fill="#92c5de"/>
<rect x="1036.18" y="1063.14" width="21.45" height="11.11" fill="#6aacd0"/>
<rect x="1057.03" y="1063.14" width="21.45" height="11.11" fill="#4393c3"/>
<rect x="1077.89" y="1063.14" width="21.45" height="11.11" fill="#6aacd0"/>
<rect x="1098.74" y="1063.14" width="21.45" height="11.11" fill="#92c5de"/>
<rect x="1119.59" y="1063.14" width="20.85" height="11.11" fill="#b2d5e7"/>
<rect x="702.56" y="1073.65" width="21.45" height="11.11" fill="#e2eef2"/>
<rect x="723.41" y="1073.65" width="21.45" height="11.11" fill="#92c5de"/>
<rect x="744.26" y="1073.65" width="42.30" height="11.11" fill="#6aacd0"/>
<rect x="785.97" y="1073.65" width="42.30" height="11.11" fill="#4393c3"/>
<rect x="827.67" y="1073.65" width="21.45" height="11.11" fill="#327db8"/>
<rect x="848.52" y="1073.65" width="21.45" height="11.11" fill="#2166ac"/>
<rect x="869.37" y="1073.65" width="21.45" height="11.11" fill="#327db8"/>
<rect x="890.22" y="1073.65" width="42.30" height="11.11" fill="#6aacd0"/>
<rect x="931.93" y="1073.65" width="21.45" height="11.11" fill="#4393c3"/>
<rect x="952.78" y="1073.65" width="84.01" height="11.11" fill="#2166ac"/>
<rect x="1036.18" y="1073.65" width="21.45" height="11.11" fill="#134b86"/>
<rect x="1057.03" y="1073.65" width="21.45" height="11.11" fill="#053061"/>
<rect x="1077.89" y="1073.65" width="21.45" height="11.11" fill="#134b86"/>
<rect x="1098.74" y="1073.65" width="21.45" height="11.11" fill="#2166ac"/>
<rect x="1119.59" y="1073.65" width="20.85" height="11.11" fill="#4393c3"/>
<rect x="702.56" y="1084.15" width="21.45" height="11.11" fill="#d1e5f0"/>
<rect x="723.41" y="1084.15" width="63.15" height="11.11" fill="#92c5de"/>
<rect x="785.97" y="1084.15" width="21.45" height="11.11" fill="#b2d5e7"/>
<rect x="806.82" y="1084.15" width="21.45" height="11.11" fill="#92c5de"/>
<rect x="827.67" y="1084.15" width="21.45" height="11.11" fill="#6aacd0"/>
<rect x="848.52" y="1084.15" width="84.01" height="11.11" fill="#4393c3"/>
<rect x="931.93" y="1084.15" width="21.45" height="11.11" fill="#2166ac"/>
<rect x="952.78" y="1084.15" width="21.45" height="11.11" fill="#053061"/>
<rect x="973.63" y="1084.15" width="21.45" height="11.11" fill="#134b86"/>
<rect x="994.48" y="1084.15" width="21.45" height="11.11" fill="#053061"/>
<rect x="1015.33" y="1084.15" width="21.45" height="11.11" fill="#134b86"/>
<rect x="1036.18" y="1084.15" width="63.15" height="11.11" fill="#053061"/>
<rect x="1098.74" y="1084.15" width="21.45" height="11.11" fill="#134b86"/>
<rect x="1119.59" y="1084.15" width="20.85" height="11.11" fill="#2166ac"/>
<rect x="702.56" y="1094.66" width="21.45" height="11.11" fill="#d1e5f0"/>
<rect x="723.41" y="1094.66" width="104.86" height="11.11" fill="#b2d5e7"/>
<rect x="827.67" y="1094.66" width="21.45" height="11.11" fill="#d1e5f0"/>
<rect x="848.52" y="1094.66" width="21.45" height="11.11" fill="#e2eef2"/>
<rect x="869.37" y="1094.66" width="21.45" height="11.11" fill="#b2d5e7"/>
<rect x="890.22" y="1094.66" width="42.30" height="11.11" fill="#4393c3"/>
<rect x="931.93" y="1094.66" width="21.45" height="11.11" fill="#327db8"/>
<rect x="952.78" y="1094.66" width="63.15" height="11.11" fill="#2166ac"/>
<rect x="1015.33" y="1094.66" width="42.30" height="11.11" fill="#134b86"/>
<rect x="1057.03" y="1094.66" width="42.30" height="11.11" fill="#053061"/>
<rect x="1098.74" y="1094.66" width="21.45" height="11.11" fill="#134b86"/>
<rect x="1119.59" y="1094.66" width="20.85" height="11.11" fill="#2166ac"/>
<rect x="702.56" y="1105.17" width="125.71" height="11.11" fill="#d1e5f0"/>
<rect x="827.67" y="1105.17" width="42.30" height="11.11" fill="#f4f7f4"/>
<rect x="869.37" y="1105.17" width="21.45" height="11.11" fill="#e2eef2"/>
<rect x="890.22" y="1105.17" width="21.45" height="11.11" fill="#b2d5e7"/>
<rect x="911.07" y="1105.17" width="21.45" height="11.11" fill="#92c5de"/>
<rect x="931.93" y="1105.17" width="21.45" height="11.11" fill="#6aacd0"/>
<rect x="952.78" y="1105.17" width="42.30" height="11.11" fill="#4393c3"/>
<rect x="994.48" y="1105.17" width="125.71" height="11.11" fill="#327db8"/>
<rect x="1119.59" y="1105.17" width="20.85" height="11.11" fill="#4393c3"/>
<rect x="702.56" y="1115.67" width="209.11" height="9.21" fill="#d1e5f0"/>
<rect x="911.07" y="1115.67" width="229.37" height="9.21" fill="#b2d5e7"/>
</g>
<path d="M702.56 874.02 V1124.88 H1140.44" fill="none" stroke="#262626" stroke-width="2.7" stroke-linecap="square"/>
<path d="M702.56 876.70 h-5.6" stroke="#262626" stroke-width="2.7"/>
<text transform="matrix(0.27440 0 0 0.24500 658.20 884.85)" font-size="100" fill="#3d3a3a">25</text>
<path d="M702.56 930.35 h-5.6" stroke="#262626" stroke-width="2.7"/>
<text transform="matrix(0.27440 0 0 0.24500 658.06 938.50)" font-size="100" fill="#3d3a3a">20</text>
<path d="M702.56 984.00 h-5.6" stroke="#262626" stroke-width="2.7"/>
<text transform="matrix(0.27440 0 0 0.24500 658.20 992.03)" font-size="100" fill="#3d3a3a">15</text>
<path d="M702.56 1037.65 h-5.6" stroke="#262626" stroke-width="2.7"/>
<text transform="matrix(0.27440 0 0 0.24500 658.06 1045.80)" font-size="100" fill="#3d3a3a">10</text>
<path d="M702.56 1091.30 h-5.6" stroke="#262626" stroke-width="2.7"/>
<text transform="matrix(0.27440 0 0 0.24500 673.43 1099.33)" font-size="100" fill="#3d3a3a">5</text>
<path d="M707.90 1124.88 v5.2" stroke="#262626" stroke-width="2.7"/>
<text transform="matrix(0.27440 0 0 0.24500 700.22 1159.23)" font-size="100" fill="#3d3a3a">0</text>
<path d="M814.70 1124.88 v5.2" stroke="#262626" stroke-width="2.7"/>
<text transform="matrix(0.27440 0 0 0.24500 795.63 1159.23)" font-size="100" fill="#3d3a3a">0.5</text>
<path d="M921.50 1124.88 v5.2" stroke="#262626" stroke-width="2.7"/>
<text transform="matrix(0.27440 0 0 0.24500 913.47 1158.99)" font-size="100" fill="#3d3a3a">1</text>
<path d="M1028.30 1124.88 v5.2" stroke="#262626" stroke-width="2.7"/>
<text transform="matrix(0.27440 0 0 0.24500 1008.75 1158.99)" font-size="100" fill="#3d3a3a">1.5</text>
<path d="M1135.10 1124.88 v5.2" stroke="#262626" stroke-width="2.7"/>
<text transform="matrix(0.27440 0 0 0.24500 1127.49 1159.23)" font-size="100" fill="#3d3a3a">2</text>
<g>
<rect x="1278.84" y="874.02" width="21.53" height="11.11" fill="#bedceb"/>
<rect x="1299.77" y="874.02" width="21.53" height="11.11" fill="#a6cde3"/>
<rect x="1320.70" y="874.02" width="21.53" height="11.11" fill="#bedceb"/>
<rect x="1341.63" y="874.02" width="21.53" height="11.11" fill="#e3eff6"/>
<rect x="1362.56" y="874.02" width="21.53" height="11.11" fill="#bedceb"/>
<rect x="1383.49" y="874.02" width="21.53" height="11.11" fill="#eef5f7"/>
<rect x="1404.42" y="874.02" width="42.46" height="11.11" fill="#f8faf8"/>
<rect x="1446.28" y="874.02" width="21.53" height="11.11" fill="#a6cde3"/>
<rect x="1467.21" y="874.02" width="21.53" height="11.11" fill="#d1e6f1"/>
<rect x="1488.14" y="874.02" width="21.53" height="11.11" fill="#eef5f7"/>
<rect x="1509.06" y="874.02" width="21.53" height="11.11" fill="#e3eff6"/>
<rect x="1529.99" y="874.02" width="21.53" height="11.11" fill="#fbf2eb"/>
<rect x="1550.92" y="874.02" width="21.53" height="11.11" fill="#fee9dd"/>
<rect x="1571.85" y="874.02" width="21.53" height="11.11" fill="#f8c9b4"/>
<rect x="1592.78" y="874.02" width="21.53" height="11.11" fill="#fee9dd"/>
<rect x="1613.71" y="874.02" width="21.53" height="11.11" fill="#e3eff6"/>
<rect x="1634.64" y="874.02" width="42.46" height="11.11" fill="#eef5f7"/>
<rect x="1676.50" y="874.02" width="21.53" height="11.11" fill="#fee9dd"/>
<rect x="1697.43" y="874.02" width="20.93" height="11.11" fill="#f8faf8"/>
<rect x="1278.84" y="884.52" width="42.46" height="11.11" fill="#a6cde3"/>
<rect x="1320.70" y="884.52" width="21.53" height="11.11" fill="#d1e6f1"/>
<rect x="1341.63" y="884.52" width="21.53" height="11.11" fill="#e3eff6"/>
<rect x="1362.56" y="884.52" width="21.53" height="11.11" fill="#bedceb"/>
<rect x="1383.49" y="884.52" width="21.53" height="11.11" fill="#eef5f7"/>
<rect x="1404.42" y="884.52" width="42.46" height="11.11" fill="#f8faf8"/>
<rect x="1446.28" y="884.52" width="21.53" height="11.11" fill="#a6cde3"/>
<rect x="1467.21" y="884.52" width="21.53" height="11.11" fill="#d1e6f1"/>
<rect x="1488.14" y="884.52" width="21.53" height="11.11" fill="#e3eff6"/>
<rect x="1509.06" y="884.52" width="21.53" height="11.11" fill="#d1e6f1"/>
<rect x="1529.99" y="884.52" width="21.53" height="11.11" fill="#fbf2eb"/>
<rect x="1550.92" y="884.52" width="21.53" height="11.11" fill="#fbd9c8"/>
<rect x="1571.85" y="884.52" width="21.53" height="11.11" fill="#f8c9b4"/>
<rect x="1592.78" y="884.52" width="21.53" height="11.11" fill="#fee9dd"/>
<rect x="1613.71" y="884.52" width="42.46" height="11.11" fill="#e3eff6"/>
<rect x="1655.57" y="884.52" width="21.53" height="11.11" fill="#eef5f7"/>
<rect x="1676.50" y="884.52" width="21.53" height="11.11" fill="#fee9dd"/>
<rect x="1697.43" y="884.52" width="20.93" height="11.11" fill="#f8faf8"/>
<rect x="1278.84" y="895.03" width="42.46" height="11.11" fill="#a6cde3"/>
<rect x="1320.70" y="895.03" width="42.46" height="11.11" fill="#d1e6f1"/>
<rect x="1362.56" y="895.03" width="21.53" height="11.11" fill="#bedceb"/>
<rect x="1383.49" y="895.03" width="21.53" height="11.11" fill="#eef5f7"/>
<rect x="1404.42" y="895.03" width="42.46" height="11.11" fill="#fbf2eb"/>
<rect x="1446.28" y="895.03" width="21.53" height="11.11" fill="#a6cde3"/>
<rect x="1467.21" y="895.03" width="21.53" height="11.11" fill="#d1e6f1"/>
<rect x="1488.14" y="895.03" width="42.46" height="11.11" fill="#e3eff6"/>
<rect x="1529.99" y="895.03" width="21.53" height="11.11" fill="#fbf2eb"/>
<rect x="1550.92" y="895.03" width="42.46" height="11.11" fill="#f8c9b4"/>
<rect x="1592.78" y="895.03" width="21.53" height="11.11" fill="#fee9dd"/>
<rect x="1613.71" y="895.03" width="21.53" height="11.11" fill="#e3eff6"/>
<rect x="1634.64" y="895.03" width="21.53" height="11.11" fill="#d1e6f1"/>
<rect x="1655.57" y="895.03" width="21.53" height="11.11" fill="#f8faf8"/>
<rect x="1676.50" y="895.03" width="21.53" height="11.11" fill="#fee9dd"/>
<rect x="1697.43" y="895.03" width="20.93" height="11.11" fill="#fbf2eb"/>
<rect x="1278.84" y="905.54" width="42.46" height="11.11" fill="#bedceb"/>
<rect x="1320.70" y="905.54" width="63.39" height="11.11" fill="#d1e6f1"/>
<rect x="1383.49" y="905.54" width="21.53" height="11.11" fill="#f8faf8"/>
<rect x="1404.42" y="905.54" width="42.46" height="11.11" fill="#fbf2eb"/>
<rect x="1446.28" y="905.54" width="21.53" height="11.11" fill="#bedceb"/>
<rect x="1467.21" y="905.54" width="21.53" height="11.11" fill="#e3eff6"/>
<rect x="1488.14" y="905.54" width="21.53" height="11.11" fill="#eef5f7"/>
<rect x="1509.06" y="905.54" width="21.53" height="11.11" fill="#e3eff6"/>
<rect x="1529.99" y="905.54" width="21.53" height="11.11" fill="#fee9dd"/>
<rect x="1550.92" y="905.54" width="42.46" height="11.11" fill="#efb4a4"/>
<rect x="1592.78" y="905.54" width="21.53" height="11.11" fill="#fee9dd"/>
<rect x="1613.71" y="905.54" width="21.53" height="11.11" fill="#eef5f7"/>
<rect x="1634.64" y="905.54" width="21.53" height="11.11" fill="#bedceb"/>
<rect x="1655.57" y="905.54" width="21.53" height="11.11" fill="#f8faf8"/>
<rect x="1676.50" y="905.54" width="41.86" height="11.11" fill="#fee9dd"/>
<rect x="1278.84" y="916.04" width="105.25" height="11.11" fill="#d1e6f1"/>
<rect x="1383.49" y="916.04" width="21.53" height="11.11" fill="#eef5f7"/>
<rect x="1404.42" y="916.04" width="42.46" height="11.11" fill="#fee9dd"/>
<rect x="1446.28" y="916.04" width="21.53" height="11.11" fill="#d1e6f1"/>
<rect x="1467.21" y="916.04" width="42.46" height="11.11" fill="#eef5f7"/>
<rect x="1509.06" y="916.04" width="21.53" height="11.11" fill="#f8faf8"/>
<rect x="1529.99" y="916.04" width="21.53" height="11.11" fill="#fbd9c8"/>
<rect x="1550.92" y="916.04" width="21.53" height="11.11" fill="#dc8a8a"/>
<rect x="1571.85" y="916.04" width="21.53" height="11.11" fill="#e6a094"/>
<rect x="1592.78" y="916.04" width="21.53" height="11.11" fill="#fbd9c8"/>
<rect x="1613.71" y="916.04" width="21.53" height="11.11" fill="#f8faf8"/>
<rect x="1634.64" y="916.04" width="21.53" height="11.11" fill="#bedceb"/>
<rect x="1655.57" y="916.04" width="21.53" height="11.11" fill="#f8faf8"/>
<rect x="1676.50" y="916.04" width="21.53" height="11.11" fill="#fee9dd"/>
<rect x="1697.43" y="916.04" width="20.93" height="11.11" fill="#fbf2eb"/>
<rect x="1278.84" y="926.55" width="21.53" height="11.11" fill="#e3eff6"/>
<rect x="1299.77" y="926.55" width="42.46" height="11.11" fill="#bedceb"/>
<rect x="1341.63" y="926.55" width="21.53" height="11.11" fill="#e3eff6"/>
<rect x="1362.56" y="926.55" width="21.53" height="11.11" fill="#d1e6f1"/>
<rect x="1383.49" y="926.55" width="21.53" height="11.11" fill="#e3eff6"/>
<rect x="1404.42" y="926.55" width="21.53" height="11.11" fill="#fee9dd"/>
<rect x="1425.35" y="926.55" width="21.53" height="11.11" fill="#fbd9c8"/>
<rect x="1446.28" y="926.55" width="21.53" height="11.11" fill="#e3eff6"/>
<rect x="1467.21" y="926.55" width="21.53" height="11.11" fill="#eef5f7"/>
<rect x="1488.14" y="926.55" width="42.46" height="11.11" fill="#f8faf8"/>
<rect x="1529.99" y="926.55" width="21.53" height="11.11" fill="#fbd9c8"/>
<rect x="1550.92" y="926.55" width="42.46" height="11.11" fill="#d17480"/>
<rect x="1592.78" y="926.55" width="21.53" height="11.11" fill="#fbd9c8"/>
<rect x="1613.71" y="926.55" width="21.53" height="11.11" fill="#f8faf8"/>
<rect x="1634.64" y="926.55" width="21.53" height="11.11" fill="#bedceb"/>
<rect x="1655.57" y="926.55" width="21.53" height="11.11" fill="#f8faf8"/>
<rect x="1676.50" y="926.55" width="21.53" height="11.11" fill="#fee9dd"/>
<rect x="1697.43" y="926.55" width="20.93" height="11.11" fill="#fbf2eb"/>
<rect x="1278.84" y="937.06" width="21.53" height="11.11" fill="#e3eff6"/>
<rect x="1299.77" y="937.06" width="42.46" height="11.11" fill="#bedceb"/>
<rect x="1341.63" y="937.06" width="21.53" height="11.11" fill="#e3eff6"/>
<rect x="1362.56" y="937.06" width="21.53" height="11.11" fill="#d1e6f1"/>
<rect x="1383.49" y="937.06" width="21.53" height="11.11" fill="#e3eff6"/>
<rect x="1404.42" y="937.06" width="21.53" height="11.11" fill="#fbf2eb"/>
<rect x="1425.35" y="937.06" width="21.53" height="11.11" fill="#fbd9c8"/>
<rect x="1446.28" y="937.06" width="21.53" height="11.11" fill="#eef5f7"/>
<rect x="1467.21" y="937.06" width="21.53" height="11.11" fill="#f8faf8"/>
<rect x="1488.14" y="937.06" width="21.53" height="11.11" fill="#fbf2eb"/>
<rect x="1509.06" y="937.06" width="21.53" height="11.11" fill="#fee9dd"/>
<rect x="1529.99" y="937.06" width="21.53" height="11.11" fill="#fbd9c8"/>
<rect x="1550.92" y="937.06" width="42.46" height="11.11" fill="#ba6d7c"/>
<rect x="1592.78" y="937.06" width="21.53" height="11.11" fill="#f8c9b4"/>
<rect x="1613.71" y="937.06" width="21.53" height="11.11" fill="#f8faf8"/>
<rect x="1634.64" y="937.06" width="21.53" height="11.11" fill="#d1e6f1"/>
<rect x="1655.57" y="937.06" width="21.53" height="11.11" fill="#f8faf8"/>
<rect x="1676.50" y="937.06" width="21.53" height="11.11" fill="#fee9dd"/>
<rect x="1697.43" y="937.06" width="20.93" height="11.11" fill="#fbf2eb"/>
<rect x="1278.84" y="947.57" width="21.53" height="11.11" fill="#f8faf8"/>
<rect x="1299.77" y="947.57" width="42.46" height="11.11" fill="#d1e6f1"/>
<rect x="1341.63" y="947.57" width="21.53" height="11.11" fill="#e3eff6"/>
<rect x="1362.56" y="947.57" width="21.53" height="11.11" fill="#bedceb"/>
<rect x="1383.49" y="947.57" width="21.53" height="11.11" fill="#e3eff6"/>
<rect x="1404.42" y="947.57" width="21.53" height="11.11" fill="#fbd9c8"/>
<rect x="1425.35" y="947.57" width="21.53" height="11.11" fill="#f8c9b4"/>
<rect x="1446.28" y="947.57" width="21.53" height="11.11" fill="#f8faf8"/>
<rect x="1467.21" y="947.57" width="21.53" height="11.11" fill="#fee9dd"/>
<rect x="1488.14" y="947.57" width="42.46" height="11.11" fill="#fbd9c8"/>
<rect x="1529.99" y="947.57" width="21.53" height="11.11" fill="#f8c9b4"/>
<rect x="1550.92" y="947.57" width="42.46" height="11.11" fill="#ba6d7c"/>
<rect x="1592.78" y="947.57" width="21.53" height="11.11" fill="#f8c9b4"/>
<rect x="1613.71" y="947.57" width="21.53" height="11.11" fill="#f8faf8"/>
<rect x="1634.64" y="947.57" width="21.53" height="11.11" fill="#d1e6f1"/>
<rect x="1655.57" y="947.57" width="21.53" height="11.11" fill="#f8faf8"/>
<rect x="1676.50" y="947.57" width="41.86" height="11.11" fill="#fbf2eb"/>
<rect x="1278.84" y="958.07" width="21.53" height="11.11" fill="#fbf2eb"/>
<rect x="1299.77" y="958.07" width="21.53" height="11.11" fill="#e3eff6"/>
<rect x="1320.70" y="958.07" width="42.46" height="11.11" fill="#d1e6f1"/>
<rect x="1362.56" y="958.07" width="21.53" height="11.11" fill="#a6cde3"/>
<rect x="1383.49" y="958.07" width="21.53" height="11.11" fill="#e3eff6"/>
<rect x="1404.42" y="958.07" width="21.53" height="11.11" fill="#f8c9b4"/>
<rect x="1425.35" y="958.07" width="21.53" height="11.11" fill="#fbd9c8"/>
<rect x="1446.28" y="958.07" width="21.53" height="11.11" fill="#fbf2eb"/>
<rect x="1467.21" y="958.07" width="21.53" height="11.11" fill="#fbd9c8"/>
<rect x="1488.14" y="958.07" width="21.53" height="11.11" fill="#f8c9b4"/>
<rect x="1509.06" y="958.07" width="21.53" height="11.11" fill="#fbd9c8"/>
<rect x="1529.99" y="958.07" width="21.53" height="11.11" fill="#f8c9b4"/>
<rect x="1550.92" y="958.07" width="21.53" height="11.11" fill="#ba6d7c"/>
<rect x="1571.85" y="958.07" width="21.53" height="11.11" fill="#a46679"/>
<rect x="1592.78" y="958.07" width="21.53" height="11.11" fill="#efb4a4"/>
<rect x="1613.71" y="958.07" width="21.53" height="11.11" fill="#f8faf8"/>
<rect x="1634.64" y="958.07" width="21.53" height="11.11" fill="#e3eff6"/>
<rect x="1655.57" y="958.07" width="21.53" height="11.11" fill="#eef5f7"/>
<rect x="1676.50" y="958.07" width="41.86" height="11.11" fill="#fbf2eb"/>
<rect x="1278.84" y="968.58" width="21.53" height="11.11" fill="#fbf2eb"/>
<rect x="1299.77" y="968.58" width="21.53" height="11.11" fill="#e3eff6"/>
<rect x="1320.70" y="968.58" width="21.53" height="11.11" fill="#d1e6f1"/>
<rect x="1341.63" y="968.58" width="21.53" height="11.11" fill="#bedceb"/>
<rect x="1362.56" y="968.58" width="21.53" height="11.11" fill="#a6cde3"/>
<rect x="1383.49" y="968.58" width="21.53" height="11.11" fill="#e3eff6"/>
<rect x="1404.42" y="968.58" width="21.53" height="11.11" fill="#f8c9b4"/>
<rect x="1425.35" y="968.58" width="21.53" height="11.11" fill="#fbd9c8"/>
<rect x="1446.28" y="968.58" width="21.53" height="11.11" fill="#fee9dd"/>
<rect x="1467.21" y="968.58" width="63.39" height="11.11" fill="#f8c9b4"/>
<rect x="1529.99" y="968.58" width="21.53" height="11.11" fill="#efb4a4"/>
<rect x="1550.92" y="968.58" width="21.53" height="11.11" fill="#d17480"/>
<rect x="1571.85" y="968.58" width="21.53" height="11.11" fill="#ba6d7c"/>
<rect x="1592.78" y="968.58" width="21.53" height="11.11" fill="#f8c9b4"/>
<rect x="1613.71" y="968.58" width="21.53" height="11.11" fill="#fbf2eb"/>
<rect x="1634.64" y="968.58" width="21.53" height="11.11" fill="#e3eff6"/>
<rect x="1655.57" y="968.58" width="21.53" height="11.11" fill="#eef5f7"/>
<rect x="1676.50" y="968.58" width="21.53" height="11.11" fill="#f8faf8"/>
<rect x="1697.43" y="968.58" width="20.93" height="11.11" fill="#fee9dd"/>
<rect x="1278.84" y="979.09" width="21.53" height="11.11" fill="#fee9dd"/>
<rect x="1299.77" y="979.09" width="42.46" height="11.11" fill="#e3eff6"/>
<rect x="1341.63" y="979.09" width="21.53" height="11.11" fill="#bedceb"/>
<rect x="1362.56" y="979.09" width="21.53" height="11.11" fill="#a6cde3"/>
<rect x="1383.49" y="979.09" width="21.53" height="11.11" fill="#e3eff6"/>
<rect x="1404.42" y="979.09" width="21.53" height="11.11" fill="#f8c9b4"/>
<rect x="1425.35" y="979.09" width="21.53" height="11.11" fill="#fbd9c8"/>
<rect x="1446.28" y="979.09" width="21.53" height="11.11" fill="#fee9dd"/>
<rect x="1467.21" y="979.09" width="42.46" height="11.11" fill="#f8c9b4"/>
<rect x="1509.06" y="979.09" width="21.53" height="11.11" fill="#efb4a4"/>
<rect x="1529.99" y="979.09" width="63.39" height="11.11" fill="#d17480"/>
<rect x="1592.78" y="979.09" width="21.53" height="11.11" fill="#efb4a4"/>
<rect x="1613.71" y="979.09" width="21.53" height="11.11" fill="#f8faf8"/>
<rect x="1634.64" y="979.09" width="21.53" height="11.11" fill="#e3eff6"/>
<rect x="1655.57" y="979.09" width="42.46" height="11.11" fill="#eef5f7"/>
<rect x="1697.43" y="979.09" width="20.93" height="11.11" fill="#fee9dd"/>
<rect x="1278.84" y="989.59" width="21.53" height="11.11" fill="#fbd9c8"/>
<rect x="1299.77" y="989.59" width="21.53" height="11.11" fill="#eef5f7"/>
<rect x="1320.70" y="989.59" width="21.53" height="11.11" fill="#e3eff6"/>
<rect x="1341.63" y="989.59" width="21.53" height="11.11" fill="#d1e6f1"/>
<rect x="1362.56" y="989.59" width="21.53" height="11.11" fill="#bedceb"/>
<rect x="1383.49" y="989.59" width="21.53" height="11.11" fill="#eef5f7"/>
<rect x="1404.42" y="989.59" width="21.53" height="11.11" fill="#efb4a4"/>
<rect x="1425.35" y="989.59" width="21.53" height="11.11" fill="#f8c9b4"/>
<rect x="1446.28" y="989.59" width="21.53" height="11.11" fill="#fee9dd"/>
<rect x="1467.21" y="989.59" width="21.53" height="11.11" fill="#fbd9c8"/>
<rect x="1488.14" y="989.59" width="21.53" height="11.11" fill="#e6a094"/>
<rect x="1509.06" y="989.59" width="21.53" height="11.11" fill="#d17480"/>
<rect x="1529.99" y="989.59" width="21.53" height="11.11" fill="#a46679"/>
<rect x="1550.92" y="989.59" width="21.53" height="11.11" fill="#ba6d7c"/>
<rect x="1571.85" y="989.59" width="21.53" height="11.11" fill="#d17480"/>
<rect x="1592.78" y="989.59" width="21.53" height="11.11" fill="#f8c9b4"/>
<rect x="1613.71" y="989.59" width="63.39" height="11.11" fill="#f8faf8"/>
<rect x="1676.50" y="989.59" width="21.53" height="11.11" fill="#eef5f7"/>
<rect x="1697.43" y="989.59" width="20.93" height="11.11" fill="#f8c9b4"/>
<rect x="1278.84" y="1000.10" width="21.53" height="11.11" fill="#fee9dd"/>
<rect x="1299.77" y="1000.10" width="21.53" height="11.11" fill="#f8faf8"/>
<rect x="1320.70" y="1000.10" width="21.53" height="11.11" fill="#eef5f7"/>
<rect x="1341.63" y="1000.10" width="21.53" height="11.11" fill="#e3eff6"/>
<rect x="1362.56" y="1000.10" width="21.53" height="11.11" fill="#d1e6f1"/>
<rect x="1383.49" y="1000.10" width="21.53" height="11.11" fill="#fee9dd"/>
<rect x="1404.42" y="1000.10" width="42.46" height="11.11" fill="#e6a094"/>
<rect x="1446.28" y="1000.10" width="42.46" height="11.11" fill="#f8c9b4"/>
<rect x="1488.14" y="1000.10" width="21.53" height="11.11" fill="#dc8a8a"/>
<rect x="1509.06" y="1000.10" width="21.53" height="11.11" fill="#ba6d7c"/>
<rect x="1529.99" y="1000.10" width="42.46" height="11.11" fill="#a46679"/>
<rect x="1571.85" y="1000.10" width="21.53" height="11.11" fill="#ba6d7c"/>
<rect x="1592.78" y="1000.10" width="21.53" height="11.11" fill="#efb4a4"/>
<rect x="1613.71" y="1000.10" width="42.46" height="11.11" fill="#fbf2eb"/>
<rect x="1655.57" y="1000.10" width="21.53" height="11.11" fill="#fee9dd"/>
<rect x="1676.50" y="1000.10" width="21.53" height="11.11" fill="#fbf2eb"/>
<rect x="1697.43" y="1000.10" width="20.93" height="11.11" fill="#f8c9b4"/>
<rect x="1278.84" y="1010.61" width="21.53" height="11.11" fill="#fbf2eb"/>
<rect x="1299.77" y="1010.61" width="21.53" height="11.11" fill="#eef5f7"/>
<rect x="1320.70" y="1010.61" width="21.53" height="11.11" fill="#d1e6f1"/>
<rect x="1341.63" y="1010.61" width="21.53" height="11.11" fill="#f8faf8"/>
<rect x="1362.56" y="1010.61" width="21.53" height="11.11" fill="#eef5f7"/>
<rect x="1383.49" y="1010.61" width="21.53" height="11.11" fill="#fbd9c8"/>
<rect x="1404.42" y="1010.61" width="21.53" height="11.11" fill="#e6a094"/>
<rect x="1425.35" y="1010.61" width="21.53" height="11.11" fill="#efb4a4"/>
<rect x="1446.28" y="1010.61" width="42.46" height="11.11" fill="#fbd9c8"/>
<rect x="1488.14" y="1010.61" width="21.53" height="11.11" fill="#dc8a8a"/>
<rect x="1509.06" y="1010.61" width="21.53" height="11.11" fill="#d17480"/>
<rect x="1529.99" y="1010.61" width="42.46" height="11.11" fill="#a46679"/>
<rect x="1571.85" y="1010.61" width="21.53" height="11.11" fill="#ba6d7c"/>
<rect x="1592.78" y="1010.61" width="21.53" height="11.11" fill="#efb4a4"/>
<rect x="1613.71" y="1010.61" width="21.53" height="11.11" fill="#fbf2eb"/>
<rect x="1634.64" y="1010.61" width="42.46" height="11.11" fill="#fee9dd"/>
<rect x="1676.50" y="1010.61" width="21.53" height="11.11" fill="#fbd9c8"/>
<rect x="1697.43" y="1010.61" width="20.93" height="11.11" fill="#fee9dd"/>
<rect x="1278.84" y="1021.11" width="21.53" height="11.11" fill="#f8faf8"/>
<rect x="1299.77" y="1021.11" width="21.53" height="11.11" fill="#e3eff6"/>
<rect x="1320.70" y="1021.11" width="21.53" height="11.11" fill="#d1e6f1"/>
<rect x="1341.63" y="1021.11" width="21.53" height="11.11" fill="#f8faf8"/>
<rect x="1362.56" y="1021.11" width="21.53" height="11.11" fill="#fbf2eb"/>
<rect x="1383.49" y="1021.11" width="21.53" height="11.11" fill="#fbd9c8"/>
<rect x="1404.42" y="1021.11" width="42.46" height="11.11" fill="#efb4a4"/>
<rect x="1446.28" y="1021.11" width="21.53" height="11.11" fill="#f8c9b4"/>
<rect x="1467.21" y="1021.11" width="42.46" height="11.11" fill="#efb4a4"/>
<rect x="1509.06" y="1021.11" width="21.53" height="11.11" fill="#dc8a8a"/>
<rect x="1529.99" y="1021.11" width="42.46" height="11.11" fill="#e6a094"/>
<rect x="1571.85" y="1021.11" width="21.53" height="11.11" fill="#fbd9c8"/>
<rect x="1592.78" y="1021.11" width="21.53" height="11.11" fill="#f8c9b4"/>
<rect x="1613.71" y="1021.11" width="63.39" height="11.11" fill="#fee9dd"/>
<rect x="1676.50" y="1021.11" width="21.53" height="11.11" fill="#fbd9c8"/>
<rect x="1697.43" y="1021.11" width="20.93" height="11.11" fill="#fbf2eb"/>
<rect x="1278.84" y="1031.62" width="21.53" height="11.11" fill="#f8faf8"/>
<rect x="1299.77" y="1031.62" width="21.53" height="11.11" fill="#e3eff6"/>
<rect x="1320.70" y="1031.62" width="21.53" height="11.11" fill="#eef5f7"/>
<rect x="1341.63" y="1031.62" width="21.53" height="11.11" fill="#fbf2eb"/>
<rect x="1362.56" y="1031.62" width="42.46" height="11.11" fill="#f8c9b4"/>
<rect x="1404.42" y="1031.62" width="21.53" height="11.11" fill="#efb4a4"/>
<rect x="1425.35" y="1031.62" width="21.53" height="11.11" fill="#f8c9b4"/>
<rect x="1446.28" y="1031.62" width="42.46" height="11.11" fill="#efb4a4"/>
<rect x="1488.14" y="1031.62" width="42.46" height="11.11" fill="#fbd9c8"/>
<rect x="1529.99" y="1031.62" width="21.53" height="11.11" fill="#fbf2eb"/>
<rect x="1550.92" y="1031.62" width="21.53" height="11.11" fill="#fbd9c8"/>
<rect x="1571.85" y="1031.62" width="21.53" height="11.11" fill="#fee9dd"/>
<rect x="1592.78" y="1031.62" width="42.46" height="11.11" fill="#f8c9b4"/>
<rect x="1634.64" y="1031.62" width="42.46" height="11.11" fill="#fbf2eb"/>
<rect x="1676.50" y="1031.62" width="21.53" height="11.11" fill="#fee9dd"/>
<rect x="1697.43" y="1031.62" width="20.93" height="11.11" fill="#f8faf8"/>
<rect x="1278.84" y="1042.13" width="21.53" height="11.11" fill="#f8faf8"/>
<rect x="1299.77" y="1042.13" width="21.53" height="11.11" fill="#eef5f7"/>
<rect x="1320.70" y="1042.13" width="21.53" height="11.11" fill="#f8faf8"/>
<rect x="1341.63" y="1042.13" width="21.53" height="11.11" fill="#fbf2eb"/>
<rect x="1362.56" y="1042.13" width="21.53" height="11.11" fill="#f8c9b4"/>
<rect x="1383.49" y="1042.13" width="21.53" height="11.11" fill="#e6a094"/>
<rect x="1404.42" y="1042.13" width="21.53" height="11.11" fill="#f8c9b4"/>
<rect x="1425.35" y="1042.13" width="21.53" height="11.11" fill="#fbd9c8"/>
<rect x="1446.28" y="1042.13" width="21.53" height="11.11" fill="#f8c9b4"/>
<rect x="1467.21" y="1042.13" width="63.39" height="11.11" fill="#fbf2eb"/>
<rect x="1529.99" y="1042.13" width="42.46" height="11.11" fill="#fee9dd"/>
<rect x="1571.85" y="1042.13" width="21.53" height="11.11" fill="#fbd9c8"/>
<rect x="1592.78" y="1042.13" width="21.53" height="11.11" fill="#f8c9b4"/>
<rect x="1613.71" y="1042.13" width="42.46" height="11.11" fill="#fbd9c8"/>
<rect x="1655.57" y="1042.13" width="62.79" height="11.11" fill="#fee9dd"/>
<rect x="1278.84" y="1052.63" width="21.53" height="11.11" fill="#eef5f7"/>
<rect x="1299.77" y="1052.63" width="21.53" height="11.11" fill="#f8faf8"/>
<rect x="1320.70" y="1052.63" width="42.46" height="11.11" fill="#fbd9c8"/>
<rect x="1362.56" y="1052.63" width="21.53" height="11.11" fill="#f8c9b4"/>
<rect x="1383.49" y="1052.63" width="42.46" height="11.11" fill="#dc8a8a"/>
<rect x="1425.35" y="1052.63" width="21.53" height="11.11" fill="#e6a094"/>
<rect x="1446.28" y="1052.63" width="21.53" height="11.11" fill="#efb4a4"/>
<rect x="1467.21" y="1052.63" width="42.46" height="11.11" fill="#fbd9c8"/>
<rect x="1509.06" y="1052.63" width="21.53" height="11.11" fill="#f8c9b4"/>
<rect x="1529.99" y="1052.63" width="63.39" height="11.11" fill="#efb4a4"/>
<rect x="1592.78" y="1052.63" width="42.46" height="11.11" fill="#e6a094"/>
<rect x="1634.64" y="1052.63" width="21.53" height="11.11" fill="#dc8a8a"/>
<rect x="1655.57" y="1052.63" width="21.53" height="11.11" fill="#f8c9b4"/>
<rect x="1676.50" y="1052.63" width="41.86" height="11.11" fill="#fbd9c8"/>
<rect x="1278.84" y="1063.14" width="42.46" height="11.11" fill="#f8faf8"/>
<rect x="1320.70" y="1063.14" width="21.53" height="11.11" fill="#f8c9b4"/>
<rect x="1341.63" y="1063.14" width="21.53" height="11.11" fill="#e6a094"/>
<rect x="1362.56" y="1063.14" width="21.53" height="11.11" fill="#d17480"/>
<rect x="1383.49" y="1063.14" width="84.32" height="11.11" fill="#a46679"/>
<rect x="1467.21" y="1063.14" width="21.53" height="11.11" fill="#dc8a8a"/>
<rect x="1488.14" y="1063.14" width="21.53" height="11.11" fill="#d17480"/>
<rect x="1509.06" y="1063.14" width="42.46" height="11.11" fill="#ba6d7c"/>
<rect x="1550.92" y="1063.14" width="105.25" height="11.11" fill="#a46679"/>
<rect x="1655.57" y="1063.14" width="42.46" height="11.11" fill="#ba6d7c"/>
<rect x="1697.43" y="1063.14" width="20.93" height="11.11" fill="#d17480"/>
<rect x="1278.84" y="1073.65" width="21.53" height="11.11" fill="#f8faf8"/>
<rect x="1299.77" y="1073.65" width="21.53" height="11.11" fill="#fbf2eb"/>
<rect x="1320.70" y="1073.65" width="42.46" height="11.11" fill="#efb4a4"/>
<rect x="1362.56" y="1073.65" width="21.53" height="11.11" fill="#dc8a8a"/>
<rect x="1383.49" y="1073.65" width="293.61" height="11.11" fill="#a46679"/>
<rect x="1676.50" y="1073.65" width="41.86" height="11.11" fill="#ba6d7c"/>
<rect x="1278.84" y="1084.15" width="21.53" height="11.11" fill="#fbf2eb"/>
<rect x="1299.77" y="1084.15" width="21.53" height="11.11" fill="#fbd9c8"/>
<rect x="1320.70" y="1084.15" width="21.53" height="11.11" fill="#efb4a4"/>
<rect x="1341.63" y="1084.15" width="21.53" height="11.11" fill="#e6a094"/>
<rect x="1362.56" y="1084.15" width="21.53" height="11.11" fill="#dc8a8a"/>
<rect x="1383.49" y="1084.15" width="21.53" height="11.11" fill="#ba6d7c"/>
<rect x="1404.42" y="1084.15" width="313.94" height="11.11" fill="#a46679"/>
<rect x="1278.84" y="1094.66" width="21.53" height="11.11" fill="#fbf2eb"/>
<rect x="1299.77" y="1094.66" width="21.53" height="11.11" fill="#f8c9b4"/>
<rect x="1320.70" y="1094.66" width="21.53" height="11.11" fill="#efb4a4"/>
<rect x="1341.63" y="1094.66" width="21.53" height="11.11" fill="#e6a094"/>
<rect x="1362.56" y="1094.66" width="21.53" height="11.11" fill="#d17480"/>
<rect x="1383.49" y="1094.66" width="334.87" height="11.11" fill="#a46679"/>
<rect x="1278.84" y="1105.17" width="42.46" height="11.11" fill="#efb4a4"/>
<rect x="1320.70" y="1105.17" width="21.53" height="11.11" fill="#e6a094"/>
<rect x="1341.63" y="1105.17" width="21.53" height="11.11" fill="#d17480"/>
<rect x="1362.56" y="1105.17" width="355.80" height="11.11" fill="#a46679"/>
<rect x="1278.84" y="1115.67" width="21.53" height="9.21" fill="#efb4a4"/>
<rect x="1299.77" y="1115.67" width="63.39" height="9.21" fill="#e6a094"/>
<rect x="1362.56" y="1115.67" width="42.46" height="9.21" fill="#dc8a8a"/>
<rect x="1404.42" y="1115.67" width="63.39" height="9.21" fill="#d17480"/>
<rect x="1467.21" y="1115.67" width="21.53" height="9.21" fill="#ba6d7c"/>
<rect x="1488.14" y="1115.67" width="230.22" height="9.21" fill="#dc8a8a"/>
<polygon points="1355.2,1065.2 1359.2,1062.6 1371.2,1068.5 1380.5,1062.6 1391.2,1068.5 1433.8,1068.5 1444.4,1062.6 1467.0,1062.6 1480.4,1069.9 1481.7,1075.2 1488.3,1079.2 1499.0,1079.2 1504.5,1073.4 1505.8,1068.1 1517.8,1068.1 1531.2,1074.1 1541.9,1068.7 1584.7,1068.7 1595.4,1062.7 1606.1,1068.7 1616.8,1068.7 1627.5,1062.7 1638.2,1062.7 1670.3,1080.1 1681.0,1080.1 1686.3,1084.1 1687.6,1088.8 1693.0,1090.8 1702.3,1090.8 1713.0,1096.8 1718.4,1096.8 1718.4,1117.6 1713.0,1117.6 1648.9,1117.6 1638.2,1122.9 1616.8,1122.9 1606.1,1116.9 1499.1,1116.9 1488.4,1122.2 1487.0,1122.5 1477.7,1122.5 1465.7,1116.5 1359.2,1116.5 1355.2,1112.5 1368.5,1104.5 1379.2,1103.2 1385.8,1099.2 1387.2,1095.2 1407.1,1085.9 1391.2,1077.9 1379.2,1077.9" fill="#67001f"/>
<path d="M1716.4 1117.6 L1713.0 1117.6 L1648.9 1117.6 L1638.2 1122.9 L1616.8 1122.9 L1606.1 1116.9 L1499.1 1116.9 L1488.4 1122.2 L1487.0 1122.5 L1477.7 1122.5 L1465.7 1116.5 L1359.2 1116.5 L1355.2 1112.5 L1368.5 1104.5 L1379.2 1103.2 L1385.8 1099.2 L1387.2 1095.2 L1407.1 1085.9 L1391.2 1077.9 L1379.2 1077.9 L1355.2 1065.2 L1359.2 1062.6 L1371.2 1068.5 L1380.5 1062.6 L1391.2 1068.5 L1433.8 1068.5 L1444.4 1062.6 L1467.0 1062.6 L1480.4 1069.9 L1481.7 1075.2 L1488.3 1079.2 L1499.0 1079.2 L1504.5 1073.4 L1505.8 1068.1 L1517.8 1068.1 L1531.2 1074.1 L1541.9 1068.7 L1584.7 1068.7 L1595.4 1062.7 L1606.1 1068.7 L1616.8 1068.7 L1627.5 1062.7 L1638.2 1062.7 L1670.3 1080.1 L1681.0 1080.1 L1686.3 1084.1 L1687.6 1088.8 L1693.0 1090.8 L1702.3 1090.8 L1713.0 1096.8 L1716.4 1096.8" fill="none" stroke="#ffff00" stroke-width="4.6" stroke-linejoin="round" stroke-linecap="round"/>
</g>
<path d="M1278.84 874.02 V1124.88 H1718.36" fill="none" stroke="#262626" stroke-width="2.7" stroke-linecap="square"/>
<path d="M1278.84 876.70 h-5.6" stroke="#262626" stroke-width="2.7"/>
<text transform="matrix(0.27440 0 0 0.24500 1234.48 884.85)" font-size="100" fill="#3d3a3a">25</text>
<path d="M1278.84 930.35 h-5.6" stroke="#262626" stroke-width="2.7"/>
<text transform="matrix(0.27440 0 0 0.24500 1234.34 938.50)" font-size="100" fill="#3d3a3a">20</text>
<path d="M1278.84 984.00 h-5.6" stroke="#262626" stroke-width="2.7"/>
<text transform="matrix(0.27440 0 0 0.24500 1234.48 992.03)" font-size="100" fill="#3d3a3a">15</text>
<path d="M1278.84 1037.65 h-5.6" stroke="#262626" stroke-width="2.7"/>
<text transform="matrix(0.27440 0 0 0.24500 1234.34 1045.80)" font-size="100" fill="#3d3a3a">10</text>
<path d="M1278.84 1091.30 h-5.6" stroke="#262626" stroke-width="2.7"/>
<text transform="matrix(0.27440 0 0 0.24500 1249.71 1099.33)" font-size="100" fill="#3d3a3a">5</text>
<path d="M1284.20 1124.88 v5.2" stroke="#262626" stroke-width="2.7"/>
<text transform="matrix(0.27440 0 0 0.24500 1276.52 1159.23)" font-size="100" fill="#3d3a3a">0</text>
<path d="M1391.40 1124.88 v5.2" stroke="#262626" stroke-width="2.7"/>
<text transform="matrix(0.27440 0 0 0.24500 1372.33 1159.23)" font-size="100" fill="#3d3a3a">0.5</text>
<path d="M1498.60 1124.88 v5.2" stroke="#262626" stroke-width="2.7"/>
<text transform="matrix(0.27440 0 0 0.24500 1490.57 1158.99)" font-size="100" fill="#3d3a3a">1</text>
<path d="M1605.80 1124.88 v5.2" stroke="#262626" stroke-width="2.7"/>
<text transform="matrix(0.27440 0 0 0.24500 1586.25 1158.99)" font-size="100" fill="#3d3a3a">1.5</text>
<path d="M1713.00 1124.88 v5.2" stroke="#262626" stroke-width="2.7"/>
<text transform="matrix(0.27440 0 0 0.24500 1705.39 1159.23)" font-size="100" fill="#3d3a3a">2</text>
<text transform="matrix(0 -0.26925 0.23690 0 36.28 302.22)" font-size="100" font-weight="bold" fill="#000">Amygdala</text>
<text transform="matrix(0 -0.22391 0.24171 0 67.37 316.21)" font-size="100" font-weight="bold" fill="#000">Frequency (Hz)</text>
<text transform="matrix(0 -0.26999 0.24930 0 36.40 656.78)" font-size="100" font-weight="bold" fill="#000">vmPFC</text>
<text transform="matrix(0 -0.22658 0.24492 0 71.31 690.22)" font-size="100" font-weight="bold" fill="#000">Frequency (Hz)</text>
<text transform="matrix(0 -0.27074 0.24898 0 36.50 1036.33)" font-size="100" font-weight="bold" fill="#000">dmPFC</text>
<text transform="matrix(0 -0.22855 0.24171 0 75.47 1073.84)" font-size="100" font-weight="bold" fill="#000">Frequency (Hz)</text>
<text transform="matrix(0.25488 0 0 0.24366 310.33 103.11)" font-size="100" font-weight="bold" fill="#000">CS+</text>
<text transform="matrix(0.26018 0 0 0.20845 890.31 102.24)" font-size="100" font-weight="bold" fill="#000">CS-</text>
<text transform="matrix(0.25714 0 0 0.25634 1423.72 103.49)" font-size="100" font-weight="bold" fill="#000">Contrast</text>
<text transform="matrix(0.27181 0 0 0.23850 256.18 1195.34)" font-size="100" font-weight="bold" fill="#000">Time (s)</text>
<text transform="matrix(0.27181 0 0 0.23850 840.78 1195.34)" font-size="100" font-weight="bold" fill="#000">Time (s)</text>
<text transform="matrix(0.27181 0 0 0.23850 1396.88 1195.34)" font-size="100" font-weight="bold" fill="#000">Time (s)</text>
<defs><linearGradient id="cb" x1="0" x2="1" y1="0" y2="0">
<stop offset="0.000" stop-color="#053061"/>
<stop offset="0.025" stop-color="#0c3e74"/>
<stop offset="0.050" stop-color="#134b86"/>
<stop offset="0.075" stop-color="#1a5999"/>
<stop offset="0.100" stop-color="#2166ac"/>
<stop offset="0.125" stop-color="#2a71b2"/>
<stop offset="0.150" stop-color="#327db8"/>
<stop offset="0.175" stop-color="#3b88bd"/>
<stop offset="0.200" stop-color="#4393c3"/>
<stop offset="0.225" stop-color="#57a0ca"/>
<stop offset="0.250" stop-color="#6aacd0"/>
<stop offset="0.275" stop-color="#7eb8d7"/>
<stop offset="0.300" stop-color="#92c5de"/>
<stop offset="0.325" stop-color="#a2cde2"/>
<stop offset="0.350" stop-color="#b2d5e7"/>
<stop offset="0.375" stop-color="#c1ddec"/>
<stop offset="0.400" stop-color="#d1e5f0"/>
<stop offset="0.425" stop-color="#daeaf1"/>
<stop offset="0.450" stop-color="#e2eef2"/>
<stop offset="0.475" stop-color="#ebf2f3"/>
<stop offset="0.500" stop-color="#f4f7f4"/>
<stop offset="0.525" stop-color="#f6f0e9"/>
<stop offset="0.550" stop-color="#f8e9dd"/>
<stop offset="0.575" stop-color="#fbe2d2"/>
<stop offset="0.600" stop-color="#fddbc7"/>
<stop offset="0.625" stop-color="#fbceb6"/>
<stop offset="0.650" stop-color="#f8c0a4"/>
<stop offset="0.675" stop-color="#f6b293"/>
<stop offset="0.700" stop-color="#f4a582"/>
<stop offset="0.725" stop-color="#ec9475"/>
<stop offset="0.750" stop-color="#e58268"/>
<stop offset="0.775" stop-color="#de715a"/>
<stop offset="0.800" stop-color="#d6604d"/>
<stop offset="0.825" stop-color="#cd4e44"/>
<stop offset="0.850" stop-color="#c43c3c"/>
<stop offset="0.875" stop-color="#bb2a34"/>
<stop offset="0.900" stop-color="#b2182b"/>
<stop offset="0.925" stop-color="#9f1228"/>
<stop offset="0.950" stop-color="#8c0c25"/>
<stop offset="0.975" stop-color="#7a0622"/>
<stop offset="1.000" stop-color="#67001f"/>
</linearGradient></defs>
<rect x="793.7" y="35.1" width="217.2" height="10.2" fill="url(#cb)"/>
<path d="M793.7 45.6 H1010.9" stroke="#b8b8b8" stroke-width="0.6"/>
<text transform="matrix(0.25093 0 0 0.23850 798.94 21.44)" font-size="100" fill="#1e1a1a">Norm. Power (a.u.)</text>
<text transform="matrix(0.24692 0 0 0.23380 769.64 72.02)" font-size="100" fill="#3d3a3a">-0.15</text>
<text transform="matrix(0.22708 0 0 0.23380 895.94 72.02)" font-size="100" fill="#3d3a3a">0</text>
<text transform="matrix(0.24665 0 0 0.23380 993.46 72.02)" font-size="100" fill="#3d3a3a">0.15</text>
<text transform="matrix(0.47368 0 0 0.51304 1.55 51.45)" font-size="100" fill="#000">A</text>
<text transform="matrix(0.54953 0 0 0.43913 -2.35 1260.65)" font-size="100" fill="#000">B</text>
<text transform="matrix(0.51181 0 0 0.45352 -0.41 1722.80)" font-size="100" fill="#000">C</text>
<rect x="206.7" y="1434.9" width="143.1" height="102.6" fill="#e5e5e5" stroke="#000" stroke-width="3.3"/>
<rect x="373.3" y="1537.5" width="161.7" height="2.2" fill="#e5e5e5" stroke="#000" stroke-width="3.3"/>
<circle cx="276.7" cy="1340.1" r="5.1" fill="none" stroke="#ff0000" stroke-width="1.1"/>
<circle cx="276.7" cy="1381.1" r="5.1" fill="none" stroke="#ff0000" stroke-width="1.1"/>
<circle cx="276.7" cy="1386.7" r="5.1" fill="none" stroke="#ff0000" stroke-width="1.1"/>
<circle cx="276.7" cy="1410.0" r="5.1" fill="none" stroke="#ff0000" stroke-width="1.1"/>
<circle cx="276.7" cy="1419.9" r="5.1" fill="none" stroke="#ff0000" stroke-width="1.1"/>
<circle cx="276.7" cy="1423.3" r="5.1" fill="none" stroke="#ff0000" stroke-width="1.1"/>
<circle cx="276.7" cy="1427.7" r="5.1" fill="none" stroke="#ff0000" stroke-width="1.1"/>
<circle cx="276.7" cy="1432.1" r="5.1" fill="none" stroke="#ff0000" stroke-width="1.1"/>
<circle cx="276.7" cy="1437.7" r="5.1" fill="none" stroke="#ff0000" stroke-width="1.1"/>
<circle cx="276.7" cy="1442.1" r="5.1" fill="none" stroke="#ff0000" stroke-width="1.1"/>
<circle cx="276.7" cy="1448.8" r="5.1" fill="none" stroke="#ff0000" stroke-width="1.1"/>
<circle cx="276.7" cy="1453.2" r="5.1" fill="none" stroke="#ff0000" stroke-width="1.1"/>
<circle cx="276.7" cy="1457.7" r="5.1" fill="none" stroke="#ff0000" stroke-width="1.1"/>
<circle cx="276.7" cy="1462.1" r="5.1" fill="none" stroke="#ff0000" stroke-width="1.1"/>
<circle cx="276.7" cy="1466.5" r="5.1" fill="none" stroke="#ff0000" stroke-width="1.1"/>
<circle cx="276.7" cy="1472.1" r="5.1" fill="none" stroke="#ff0000" stroke-width="1.1"/>
<circle cx="276.7" cy="1476.5" r="5.1" fill="none" stroke="#ff0000" stroke-width="1.1"/>
<circle cx="276.7" cy="1487.6" r="5.1" fill="none" stroke="#ff0000" stroke-width="1.1"/>
<circle cx="276.7" cy="1490.9" r="5.1" fill="none" stroke="#ff0000" stroke-width="1.1"/>
<circle cx="454.0" cy="1431.0" r="5.1" fill="none" stroke="#0000ff" stroke-width="1.1"/>
<circle cx="454.0" cy="1464.3" r="5.1" fill="none" stroke="#0000ff" stroke-width="1.1"/>
<circle cx="454.0" cy="1466.5" r="5.1" fill="none" stroke="#0000ff" stroke-width="1.1"/>
<circle cx="454.0" cy="1476.5" r="5.1" fill="none" stroke="#0000ff" stroke-width="1.1"/>
<circle cx="454.0" cy="1494.2" r="5.1" fill="none" stroke="#0000ff" stroke-width="1.1"/>
<circle cx="454.0" cy="1498.7" r="5.1" fill="none" stroke="#0000ff" stroke-width="1.1"/>
<circle cx="454.0" cy="1505.3" r="5.1" fill="none" stroke="#0000ff" stroke-width="1.1"/>
<circle cx="454.0" cy="1509.8" r="5.1" fill="none" stroke="#0000ff" stroke-width="1.1"/>
<circle cx="454.0" cy="1512.0" r="5.1" fill="none" stroke="#0000ff" stroke-width="1.1"/>
<circle cx="454.0" cy="1520.9" r="5.1" fill="none" stroke="#0000ff" stroke-width="1.1"/>
<circle cx="454.0" cy="1523.1" r="5.1" fill="none" stroke="#0000ff" stroke-width="1.1"/>
<circle cx="454.0" cy="1539.7" r="5.1" fill="none" stroke="#0000ff" stroke-width="1.1"/>
<circle cx="454.0" cy="1543.0" r="5.1" fill="none" stroke="#0000ff" stroke-width="1.1"/>
<circle cx="454.0" cy="1551.9" r="5.1" fill="none" stroke="#0000ff" stroke-width="1.1"/>
<circle cx="454.0" cy="1565.2" r="5.1" fill="none" stroke="#0000ff" stroke-width="1.1"/>
<circle cx="454.0" cy="1573.0" r="5.1" fill="none" stroke="#0000ff" stroke-width="1.1"/>
<circle cx="454.0" cy="1577.4" r="5.1" fill="none" stroke="#0000ff" stroke-width="1.1"/>
<circle cx="454.0" cy="1579.6" r="5.1" fill="none" stroke="#0000ff" stroke-width="1.1"/>
<circle cx="454.0" cy="1596.3" r="5.1" fill="none" stroke="#0000ff" stroke-width="1.1"/>
<circle cx="454.0" cy="1614.0" r="5.1" fill="none" stroke="#0000ff" stroke-width="1.1"/>
<circle cx="454.0" cy="1617.3" r="5.1" fill="none" stroke="#0000ff" stroke-width="1.1"/>
<circle cx="454.0" cy="1626.2" r="5.1" fill="none" stroke="#0000ff" stroke-width="1.1"/>
<path d="M187.8 1537.5 H543.3" stroke="#000" stroke-width="3.1"/>
<path d="M244.0 1428.3 H310.0 M276.7 1428.3 V1442.3" stroke="#000" stroke-width="3.2"/>
<path d="M414.0 1550.8 H493.5 M454.0 1550.8 V1536.8" stroke="#000" stroke-width="3.2"/>
<path d="M187.8 1292.2 V1648.4 H543.3" fill="none" stroke="#262626" stroke-width="2.7"/>
<path d="M187.8 1315.7 h-5" stroke="#262626" stroke-width="2.7"/>
<text transform="matrix(0.27440 0 0 0.24500 158.44 1325.08)" font-size="100" fill="#3d3a3a">2</text>
<path d="M187.8 1371.2 h-5" stroke="#262626" stroke-width="2.7"/>
<text transform="matrix(0.27440 0 0 0.24500 135.26 1380.28)" font-size="100" fill="#3d3a3a">1.5</text>
<path d="M187.8 1426.6 h-5" stroke="#262626" stroke-width="2.7"/>
<text transform="matrix(0.27440 0 0 0.24500 158.31 1435.85)" font-size="100" fill="#3d3a3a">1</text>
<path d="M187.8 1482.0 h-5" stroke="#262626" stroke-width="2.7"/>
<text transform="matrix(0.27440 0 0 0.24500 135.26 1491.30)" font-size="100" fill="#3d3a3a">0.5</text>
<path d="M187.8 1537.5 h-5" stroke="#262626" stroke-width="2.7"/>
<text transform="matrix(0.27440 0 0 0.24500 158.03 1546.75)" font-size="100" fill="#3d3a3a">0</text>
<path d="M187.8 1593.0 h-5" stroke="#262626" stroke-width="2.7"/>
<text transform="matrix(0.27440 0 0 0.24500 126.20 1602.20)" font-size="100" fill="#3d3a3a">-0.5</text>
<path d="M187.8 1648.4 h-5" stroke="#262626" stroke-width="2.7"/>
<text transform="matrix(0.27440 0 0 0.24500 149.11 1657.65)" font-size="100" fill="#3d3a3a">-1</text>
<path d="M276.7 1648.4 v5" stroke="#262626" stroke-width="2.7"/>
<path d="M454.0 1648.4 v5" stroke="#262626" stroke-width="2.7"/>
<text transform="matrix(0.24749 0 0 0.24789 251.56 1675.70)" font-size="100" font-weight="bold" fill="#403c3c">CS+</text>
<text transform="matrix(0.25167 0 0 0.24789 430.79 1675.70)" font-size="100" font-weight="bold" fill="#403c3c">CS-</text>
<path d="M275.5 1319.0 H454.3 M275.5 1314.7 v8.6 M454.3 1314.7 v8.6" stroke="#000" stroke-width="2.1" fill="none"/>
<text transform="matrix(0.32105 0 0 0.27429 345.82 1315.63)" font-size="100" fill="#2a2626">***</text>
<text transform="matrix(0 -0.27093 0.24706 0 80.46 1552.33)" font-size="100" font-weight="bold" fill="#000">Amygdala</text>
<text transform="matrix(0 -0.25057 0.23957 0 114.62 1595.58)" font-size="100" font-weight="bold" fill="#111">Norm. power (4-8Hz)</text>
<rect x="770.0" y="1466.2" width="143.0" height="53.8" fill="#e5e5e5" stroke="#000" stroke-width="3.3"/>
<rect x="948.0" y="1513.9" width="142.8" height="6.1" fill="#e5e5e5" stroke="#000" stroke-width="3.3"/>
<circle cx="841.2" cy="1332.0" r="5.1" fill="none" stroke="#ff0000" stroke-width="1.1"/>
<circle cx="841.2" cy="1333.1" r="5.1" fill="none" stroke="#ff0000" stroke-width="1.1"/>
<circle cx="841.2" cy="1334.1" r="5.1" fill="none" stroke="#ff0000" stroke-width="1.1"/>
<circle cx="841.2" cy="1337.1" r="5.1" fill="none" stroke="#ff0000" stroke-width="1.1"/>
<circle cx="841.2" cy="1339.7" r="5.1" fill="none" stroke="#ff0000" stroke-width="1.1"/>
<circle cx="841.2" cy="1354.9" r="5.1" fill="none" stroke="#ff0000" stroke-width="1.1"/>
<circle cx="841.2" cy="1375.2" r="5.1" fill="none" stroke="#ff0000" stroke-width="1.1"/>
<circle cx="841.2" cy="1380.3" r="5.1" fill="none" stroke="#ff0000" stroke-width="1.1"/>
<circle cx="841.2" cy="1387.9" r="5.1" fill="none" stroke="#ff0000" stroke-width="1.1"/>
<circle cx="841.2" cy="1412.3" r="5.1" fill="none" stroke="#ff0000" stroke-width="1.1"/>
<circle cx="841.2" cy="1423.5" r="5.1" fill="none" stroke="#ff0000" stroke-width="1.1"/>
<circle cx="841.2" cy="1428.6" r="5.1" fill="none" stroke="#ff0000" stroke-width="1.1"/>
<circle cx="841.2" cy="1432.6" r="5.1" fill="none" stroke="#ff0000" stroke-width="1.1"/>
<circle cx="841.2" cy="1436.2" r="5.1" fill="none" stroke="#ff0000" stroke-width="1.1"/>
<circle cx="841.2" cy="1441.3" r="5.1" fill="none" stroke="#ff0000" stroke-width="1.1"/>
<circle cx="841.2" cy="1446.3" r="5.1" fill="none" stroke="#ff0000" stroke-width="1.1"/>
<circle cx="841.2" cy="1449.9" r="5.1" fill="none" stroke="#ff0000" stroke-width="1.1"/>
<circle cx="841.2" cy="1454.0" r="5.1" fill="none" stroke="#ff0000" stroke-width="1.1"/>
<circle cx="841.2" cy="1456.5" r="5.1" fill="none" stroke="#ff0000" stroke-width="1.1"/>
<circle cx="841.2" cy="1459.0" r="5.1" fill="none" stroke="#ff0000" stroke-width="1.1"/>
<circle cx="841.2" cy="1463.1" r="5.1" fill="none" stroke="#ff0000" stroke-width="1.1"/>
<circle cx="841.2" cy="1466.7" r="5.1" fill="none" stroke="#ff0000" stroke-width="1.1"/>
<circle cx="841.2" cy="1469.2" r="5.1" fill="none" stroke="#ff0000" stroke-width="1.1"/>
<circle cx="841.2" cy="1471.7" r="5.1" fill="none" stroke="#ff0000" stroke-width="1.1"/>
<circle cx="841.2" cy="1474.3" r="5.1" fill="none" stroke="#ff0000" stroke-width="1.1"/>
<circle cx="841.2" cy="1476.8" r="5.1" fill="none" stroke="#ff0000" stroke-width="1.1"/>
<circle cx="841.2" cy="1480.4" r="5.1" fill="none" stroke="#ff0000" stroke-width="1.1"/>
<circle cx="841.2" cy="1483.4" r="5.1" fill="none" stroke="#ff0000" stroke-width="1.1"/>
<circle cx="841.2" cy="1485.5" r="5.1" fill="none" stroke="#ff0000" stroke-width="1.1"/>
<circle cx="841.2" cy="1489.5" r="5.1" fill="none" stroke="#ff0000" stroke-width="1.1"/>
<circle cx="841.2" cy="1492.1" r="5.1" fill="none" stroke="#ff0000" stroke-width="1.1"/>
<circle cx="841.2" cy="1494.6" r="5.1" fill="none" stroke="#ff0000" stroke-width="1.1"/>
<circle cx="841.2" cy="1497.1" r="5.1" fill="none" stroke="#ff0000" stroke-width="1.1"/>
<circle cx="841.2" cy="1499.7" r="5.1" fill="none" stroke="#ff0000" stroke-width="1.1"/>
<circle cx="841.2" cy="1502.2" r="5.1" fill="none" stroke="#ff0000" stroke-width="1.1"/>
<circle cx="841.2" cy="1505.8" r="5.1" fill="none" stroke="#ff0000" stroke-width="1.1"/>
<circle cx="841.2" cy="1509.8" r="5.1" fill="none" stroke="#ff0000" stroke-width="1.1"/>
<circle cx="841.2" cy="1512.4" r="5.1" fill="none" stroke="#ff0000" stroke-width="1.1"/>
<circle cx="841.2" cy="1515.9" r="5.1" fill="none" stroke="#ff0000" stroke-width="1.1"/>
<circle cx="841.2" cy="1522.5" r="5.1" fill="none" stroke="#ff0000" stroke-width="1.1"/>
<circle cx="841.2" cy="1526.1" r="5.1" fill="none" stroke="#ff0000" stroke-width="1.1"/>
<circle cx="841.2" cy="1530.2" r="5.1" fill="none" stroke="#ff0000" stroke-width="1.1"/>
<circle cx="841.2" cy="1535.2" r="5.1" fill="none" stroke="#ff0000" stroke-width="1.1"/>
<circle cx="841.2" cy="1544.4" r="5.1" fill="none" stroke="#ff0000" stroke-width="1.1"/>
<circle cx="1019.2" cy="1459.0" r="5.1" fill="none" stroke="#0000ff" stroke-width="1.1"/>
<circle cx="1019.2" cy="1461.6" r="5.1" fill="none" stroke="#0000ff" stroke-width="1.1"/>
<circle cx="1019.2" cy="1464.1" r="5.1" fill="none" stroke="#0000ff" stroke-width="1.1"/>
<circle cx="1019.2" cy="1466.7" r="5.1" fill="none" stroke="#0000ff" stroke-width="1.1"/>
<circle cx="1019.2" cy="1469.2" r="5.1" fill="none" stroke="#0000ff" stroke-width="1.1"/>
<circle cx="1019.2" cy="1471.7" r="5.1" fill="none" stroke="#0000ff" stroke-width="1.1"/>
<circle cx="1019.2" cy="1474.3" r="5.1" fill="none" stroke="#0000ff" stroke-width="1.1"/>
<circle cx="1019.2" cy="1476.8" r="5.1" fill="none" stroke="#0000ff" stroke-width="1.1"/>
<circle cx="1019.2" cy="1479.4" r="5.1" fill="none" stroke="#0000ff" stroke-width="1.1"/>
<circle cx="1019.2" cy="1481.9" r="5.1" fill="none" stroke="#0000ff" stroke-width="1.1"/>
<circle cx="1019.2" cy="1484.4" r="5.1" fill="none" stroke="#0000ff" stroke-width="1.1"/>
<circle cx="1019.2" cy="1488.5" r="5.1" fill="none" stroke="#0000ff" stroke-width="1.1"/>
<circle cx="1019.2" cy="1490.5" r="5.1" fill="none" stroke="#0000ff" stroke-width="1.1"/>
<circle cx="1019.2" cy="1493.6" r="5.1" fill="none" stroke="#0000ff" stroke-width="1.1"/>
<circle cx="1019.2" cy="1497.1" r="5.1" fill="none" stroke="#0000ff" stroke-width="1.1"/>
<circle cx="1019.2" cy="1502.2" r="5.1" fill="none" stroke="#0000ff" stroke-width="1.1"/>
<circle cx="1019.2" cy="1504.8" r="5.1" fill="none" stroke="#0000ff" stroke-width="1.1"/>
<circle cx="1019.2" cy="1507.3" r="5.1" fill="none" stroke="#0000ff" stroke-width="1.1"/>
<circle cx="1019.2" cy="1509.8" r="5.1" fill="none" stroke="#0000ff" stroke-width="1.1"/>
<circle cx="1019.2" cy="1513.9" r="5.1" fill="none" stroke="#0000ff" stroke-width="1.1"/>
<circle cx="1019.2" cy="1517.5" r="5.1" fill="none" stroke="#0000ff" stroke-width="1.1"/>
<circle cx="1019.2" cy="1520.0" r="5.1" fill="none" stroke="#0000ff" stroke-width="1.1"/>
<circle cx="1019.2" cy="1522.5" r="5.1" fill="none" stroke="#0000ff" stroke-width="1.1"/>
<circle cx="1019.2" cy="1525.1" r="5.1" fill="none" stroke="#0000ff" stroke-width="1.1"/>
<circle cx="1019.2" cy="1529.1" r="5.1" fill="none" stroke="#0000ff" stroke-width="1.1"/>
<circle cx="1019.2" cy="1531.2" r="5.1" fill="none" stroke="#0000ff" stroke-width="1.1"/>
<circle cx="1019.2" cy="1535.2" r="5.1" fill="none" stroke="#0000ff" stroke-width="1.1"/>
<circle cx="1019.2" cy="1539.3" r="5.1" fill="none" stroke="#0000ff" stroke-width="1.1"/>
<circle cx="1019.2" cy="1541.3" r="5.1" fill="none" stroke="#0000ff" stroke-width="1.1"/>
<circle cx="1019.2" cy="1545.4" r="5.1" fill="none" stroke="#0000ff" stroke-width="1.1"/>
<circle cx="1019.2" cy="1547.9" r="5.1" fill="none" stroke="#0000ff" stroke-width="1.1"/>
<circle cx="1019.2" cy="1551.5" r="5.1" fill="none" stroke="#0000ff" stroke-width="1.1"/>
<circle cx="1019.2" cy="1555.6" r="5.1" fill="none" stroke="#0000ff" stroke-width="1.1"/>
<circle cx="1019.2" cy="1558.1" r="5.1" fill="none" stroke="#0000ff" stroke-width="1.1"/>
<circle cx="1019.2" cy="1560.6" r="5.1" fill="none" stroke="#0000ff" stroke-width="1.1"/>
<circle cx="1019.2" cy="1564.7" r="5.1" fill="none" stroke="#0000ff" stroke-width="1.1"/>
<circle cx="1019.2" cy="1566.7" r="5.1" fill="none" stroke="#0000ff" stroke-width="1.1"/>
<circle cx="1019.2" cy="1581.0" r="5.1" fill="none" stroke="#0000ff" stroke-width="1.1"/>
<circle cx="1019.2" cy="1603.8" r="5.1" fill="none" stroke="#0000ff" stroke-width="1.1"/>
<circle cx="1019.2" cy="1629.2" r="5.1" fill="none" stroke="#0000ff" stroke-width="1.1"/>
<circle cx="1019.2" cy="1634.3" r="5.1" fill="none" stroke="#0000ff" stroke-width="1.1"/>
<path d="M753.1 1520.0 H1109.8" stroke="#000" stroke-width="3.1"/>
<path d="M806.0 1459.0 H876.5 M841.2 1459.0 V1473.0" stroke="#000" stroke-width="3.2"/>
<path d="M984.0 1508.3 H1054.5 M1019.2 1508.3 V1522.3" stroke="#000" stroke-width="3.2"/>
<path d="M753.1 1291.2 V1647.5 H1109.8" fill="none" stroke="#262626" stroke-width="2.7"/>
<path d="M753.1 1316.8 h-5" stroke="#262626" stroke-width="2.7"/>
<text transform="matrix(0.27440 0 0 0.24500 723.19 1326.05)" font-size="100" fill="#3d3a3a">4</text>
<path d="M753.1 1418.4 h-5" stroke="#262626" stroke-width="2.7"/>
<text transform="matrix(0.27440 0 0 0.24500 723.74 1427.78)" font-size="100" fill="#3d3a3a">2</text>
<path d="M753.1 1520.0 h-5" stroke="#262626" stroke-width="2.7"/>
<text transform="matrix(0.27440 0 0 0.24500 723.33 1529.25)" font-size="100" fill="#3d3a3a">0</text>
<path d="M753.1 1621.6 h-5" stroke="#262626" stroke-width="2.7"/>
<text transform="matrix(0.27440 0 0 0.24500 714.55 1630.97)" font-size="100" fill="#3d3a3a">-2</text>
<path d="M841.2 1647.5 v5" stroke="#262626" stroke-width="2.7"/>
<path d="M1019.2 1647.5 v5" stroke="#262626" stroke-width="2.7"/>
<text transform="matrix(0.24749 0 0 0.24789 816.36 1675.70)" font-size="100" font-weight="bold" fill="#403c3c">CS+</text>
<text transform="matrix(0.25167 0 0 0.24789 996.59 1675.70)" font-size="100" font-weight="bold" fill="#403c3c">CS-</text>
<path d="M840.9 1313.0 H1020.7 M840.9 1308.7 v8.6 M1020.7 1308.7 v8.6" stroke="#000" stroke-width="2.1" fill="none"/>
<text transform="matrix(0.32544 0 0 0.27429 912.61 1311.23)" font-size="100" fill="#2a2626">***</text>
<text transform="matrix(0 -0.26881 0.24366 0 674.71 1526.08)" font-size="100" font-weight="bold" fill="#000">vmPFC</text>
<text transform="matrix(0 -0.24849 0.23209 0 706.68 1596.87)" font-size="100" font-weight="bold" fill="#111">Norm. power (4-8Hz)</text>
<rect x="1357.7" y="1437.1" width="138.2" height="57.7" fill="#e5e5e5" stroke="#000" stroke-width="3.3"/>
<rect x="1529.8" y="1494.8" width="138.9" height="32.2" fill="#e5e5e5" stroke="#000" stroke-width="3.3"/>
<circle cx="1426.8" cy="1360.1" r="5.1" fill="none" stroke="#ff0000" stroke-width="1.1"/>
<circle cx="1426.8" cy="1372.6" r="5.1" fill="none" stroke="#ff0000" stroke-width="1.1"/>
<circle cx="1426.8" cy="1375.5" r="5.1" fill="none" stroke="#ff0000" stroke-width="1.1"/>
<circle cx="1426.8" cy="1391.9" r="5.1" fill="none" stroke="#ff0000" stroke-width="1.1"/>
<circle cx="1426.8" cy="1395.7" r="5.1" fill="none" stroke="#ff0000" stroke-width="1.1"/>
<circle cx="1426.8" cy="1405.3" r="5.1" fill="none" stroke="#ff0000" stroke-width="1.1"/>
<circle cx="1426.8" cy="1410.1" r="5.1" fill="none" stroke="#ff0000" stroke-width="1.1"/>
<circle cx="1426.8" cy="1413.0" r="5.1" fill="none" stroke="#ff0000" stroke-width="1.1"/>
<circle cx="1426.8" cy="1415.9" r="5.1" fill="none" stroke="#ff0000" stroke-width="1.1"/>
<circle cx="1426.8" cy="1417.8" r="5.1" fill="none" stroke="#ff0000" stroke-width="1.1"/>
<circle cx="1426.8" cy="1421.7" r="5.1" fill="none" stroke="#ff0000" stroke-width="1.1"/>
<circle cx="1426.8" cy="1425.5" r="5.1" fill="none" stroke="#ff0000" stroke-width="1.1"/>
<circle cx="1426.8" cy="1431.3" r="5.1" fill="none" stroke="#ff0000" stroke-width="1.1"/>
<circle cx="1426.8" cy="1434.2" r="5.1" fill="none" stroke="#ff0000" stroke-width="1.1"/>
<circle cx="1426.8" cy="1437.1" r="5.1" fill="none" stroke="#ff0000" stroke-width="1.1"/>
<circle cx="1426.8" cy="1440.9" r="5.1" fill="none" stroke="#ff0000" stroke-width="1.1"/>
<circle cx="1426.8" cy="1446.7" r="5.1" fill="none" stroke="#ff0000" stroke-width="1.1"/>
<circle cx="1426.8" cy="1449.6" r="5.1" fill="none" stroke="#ff0000" stroke-width="1.1"/>
<circle cx="1426.8" cy="1454.4" r="5.1" fill="none" stroke="#ff0000" stroke-width="1.1"/>
<circle cx="1426.8" cy="1458.2" r="5.1" fill="none" stroke="#ff0000" stroke-width="1.1"/>
<circle cx="1426.8" cy="1463.1" r="5.1" fill="none" stroke="#ff0000" stroke-width="1.1"/>
<circle cx="1426.8" cy="1465.9" r="5.1" fill="none" stroke="#ff0000" stroke-width="1.1"/>
<circle cx="1426.8" cy="1468.8" r="5.1" fill="none" stroke="#ff0000" stroke-width="1.1"/>
<circle cx="1426.8" cy="1470.8" r="5.1" fill="none" stroke="#ff0000" stroke-width="1.1"/>
<circle cx="1426.8" cy="1499.6" r="5.1" fill="none" stroke="#ff0000" stroke-width="1.1"/>
<circle cx="1426.8" cy="1515.0" r="5.1" fill="none" stroke="#ff0000" stroke-width="1.1"/>
<circle cx="1426.8" cy="1554.4" r="5.1" fill="none" stroke="#ff0000" stroke-width="1.1"/>
<circle cx="1598.9" cy="1406.3" r="5.1" fill="none" stroke="#0000ff" stroke-width="1.1"/>
<circle cx="1598.9" cy="1425.5" r="5.1" fill="none" stroke="#0000ff" stroke-width="1.1"/>
<circle cx="1598.9" cy="1437.1" r="5.1" fill="none" stroke="#0000ff" stroke-width="1.1"/>
<circle cx="1598.9" cy="1460.2" r="5.1" fill="none" stroke="#0000ff" stroke-width="1.1"/>
<circle cx="1598.9" cy="1482.3" r="5.1" fill="none" stroke="#0000ff" stroke-width="1.1"/>
<circle cx="1598.9" cy="1485.2" r="5.1" fill="none" stroke="#0000ff" stroke-width="1.1"/>
<circle cx="1598.9" cy="1487.1" r="5.1" fill="none" stroke="#0000ff" stroke-width="1.1"/>
<circle cx="1598.9" cy="1490.0" r="5.1" fill="none" stroke="#0000ff" stroke-width="1.1"/>
<circle cx="1598.9" cy="1499.6" r="5.1" fill="none" stroke="#0000ff" stroke-width="1.1"/>
<circle cx="1598.9" cy="1506.3" r="5.1" fill="none" stroke="#0000ff" stroke-width="1.1"/>
<circle cx="1598.9" cy="1516.0" r="5.1" fill="none" stroke="#0000ff" stroke-width="1.1"/>
<circle cx="1598.9" cy="1519.8" r="5.1" fill="none" stroke="#0000ff" stroke-width="1.1"/>
<circle cx="1598.9" cy="1523.7" r="5.1" fill="none" stroke="#0000ff" stroke-width="1.1"/>
<circle cx="1598.9" cy="1533.3" r="5.1" fill="none" stroke="#0000ff" stroke-width="1.1"/>
<circle cx="1598.9" cy="1535.2" r="5.1" fill="none" stroke="#0000ff" stroke-width="1.1"/>
<circle cx="1598.9" cy="1548.7" r="5.1" fill="none" stroke="#0000ff" stroke-width="1.1"/>
<circle cx="1598.9" cy="1559.3" r="5.1" fill="none" stroke="#0000ff" stroke-width="1.1"/>
<circle cx="1598.9" cy="1563.1" r="5.1" fill="none" stroke="#0000ff" stroke-width="1.1"/>
<circle cx="1598.9" cy="1567.0" r="5.1" fill="none" stroke="#0000ff" stroke-width="1.1"/>
<circle cx="1598.9" cy="1569.8" r="5.1" fill="none" stroke="#0000ff" stroke-width="1.1"/>
<circle cx="1598.9" cy="1574.6" r="5.1" fill="none" stroke="#0000ff" stroke-width="1.1"/>
<circle cx="1598.9" cy="1589.1" r="5.1" fill="none" stroke="#0000ff" stroke-width="1.1"/>
<circle cx="1598.9" cy="1592.9" r="5.1" fill="none" stroke="#0000ff" stroke-width="1.1"/>
<circle cx="1598.9" cy="1594.8" r="5.1" fill="none" stroke="#0000ff" stroke-width="1.1"/>
<circle cx="1598.9" cy="1605.4" r="5.1" fill="none" stroke="#0000ff" stroke-width="1.1"/>
<circle cx="1598.9" cy="1640.1" r="5.1" fill="none" stroke="#0000ff" stroke-width="1.1"/>
<path d="M1340.4 1494.8 H1686.7" stroke="#000" stroke-width="3.1"/>
<path d="M1393.0 1429.4 H1461.0 M1426.8 1429.4 V1443.4" stroke="#000" stroke-width="3.2"/>
<path d="M1565.0 1536.2 H1633.0 M1598.9 1536.2 V1522.2" stroke="#000" stroke-width="3.2"/>
<path d="M1340.4 1302.4 V1648.2 H1686.7" fill="none" stroke="#262626" stroke-width="2.7"/>
<path d="M1340.4 1302.4 h-5" stroke="#262626" stroke-width="2.7"/>
<text transform="matrix(0.27440 0 0 0.24500 1311.04 1311.77)" font-size="100" fill="#3d3a3a">2</text>
<path d="M1340.4 1398.6 h-5" stroke="#262626" stroke-width="2.7"/>
<text transform="matrix(0.27440 0 0 0.24500 1310.91 1407.85)" font-size="100" fill="#3d3a3a">1</text>
<path d="M1340.4 1494.8 h-5" stroke="#262626" stroke-width="2.7"/>
<text transform="matrix(0.27440 0 0 0.24500 1310.63 1504.05)" font-size="100" fill="#3d3a3a">0</text>
<path d="M1340.4 1591.0 h-5" stroke="#262626" stroke-width="2.7"/>
<text transform="matrix(0.27440 0 0 0.24500 1301.71 1600.25)" font-size="100" fill="#3d3a3a">-1</text>
<path d="M1426.8 1648.2 v5" stroke="#262626" stroke-width="2.7"/>
<path d="M1598.9 1648.2 v5" stroke="#262626" stroke-width="2.7"/>
<text transform="matrix(0.24749 0 0 0.24789 1405.96 1675.70)" font-size="100" font-weight="bold" fill="#403c3c">CS+</text>
<text transform="matrix(0.25167 0 0 0.24789 1580.69 1675.70)" font-size="100" font-weight="bold" fill="#403c3c">CS-</text>
<path d="M1425.4 1343.0 H1598.8 M1425.4 1338.7 v8.6 M1598.8 1338.7 v8.6" stroke="#000" stroke-width="2.1" fill="none"/>
<text transform="matrix(0.30965 0 0 0.26286 1496.34 1341.24)" font-size="100" fill="#2a2626">***</text>
<text transform="matrix(0 -0.27307 0.24354 0 1258.31 1527.04)" font-size="100" font-weight="bold" fill="#000">dmPFC</text>
<text transform="matrix(0 -0.24651 0.24599 0 1295.08 1595.55)" font-size="100" font-weight="bold" fill="#111">Norm. power (4-8Hz)</text>
<circle cx="159.4" cy="1834.5" r="4.3" fill="#0072bd"/>
<circle cx="166.7" cy="2016.2" r="4.3" fill="#0072bd"/>
<circle cx="174.1" cy="1880.9" r="4.3" fill="#0072bd"/>
<circle cx="181.4" cy="1933.9" r="4.3" fill="#0072bd"/>
<circle cx="188.8" cy="1999.0" r="4.3" fill="#0072bd"/>
<circle cx="196.1" cy="1958.0" r="4.3" fill="#0072bd"/>
<circle cx="203.5" cy="1972.2" r="4.3" fill="#0072bd"/>
<circle cx="210.8" cy="1924.3" r="4.3" fill="#0072bd"/>
<circle cx="218.2" cy="1943.7" r="4.3" fill="#0072bd"/>
<circle cx="225.6" cy="1995.1" r="4.3" fill="#0072bd"/>
<circle cx="232.9" cy="2089.3" r="4.3" fill="#0072bd"/>
<circle cx="240.3" cy="1919.9" r="4.3" fill="#0072bd"/>
<circle cx="247.6" cy="1942.0" r="4.3" fill="#0072bd"/>
<circle cx="255.0" cy="2015.4" r="4.3" fill="#0072bd"/>
<circle cx="262.3" cy="1948.9" r="4.3" fill="#0072bd"/>
<circle cx="269.7" cy="1890.7" r="4.3" fill="#0072bd"/>
<circle cx="277.0" cy="1933.2" r="4.3" fill="#0072bd"/>
<circle cx="284.4" cy="1928.8" r="4.3" fill="#0072bd"/>
<circle cx="291.7" cy="1867.6" r="4.3" fill="#0072bd"/>
<circle cx="299.1" cy="1899.8" r="4.3" fill="#0072bd"/>
<circle cx="306.5" cy="1970.7" r="4.3" fill="#0072bd"/>
<circle cx="313.8" cy="1914.5" r="4.3" fill="#0072bd"/>
<circle cx="321.2" cy="1883.6" r="4.3" fill="#0072bd"/>
<circle cx="328.5" cy="1877.7" r="4.3" fill="#0072bd"/>
<circle cx="335.9" cy="1913.5" r="4.3" fill="#0072bd"/>
<circle cx="343.2" cy="1891.9" r="4.3" fill="#0072bd"/>
<circle cx="350.6" cy="1861.7" r="4.3" fill="#0072bd"/>
<circle cx="357.9" cy="1918.5" r="4.3" fill="#0072bd"/>
<circle cx="365.3" cy="1928.8" r="4.3" fill="#0072bd"/>
<circle cx="372.6" cy="1921.2" r="4.3" fill="#0072bd"/>
<circle cx="380.0" cy="1845.5" r="4.3" fill="#0072bd"/>
<circle cx="387.4" cy="1942.0" r="4.3" fill="#0072bd"/>
<circle cx="394.7" cy="1895.9" r="4.3" fill="#0072bd"/>
<circle cx="402.1" cy="1877.0" r="4.3" fill="#0072bd"/>
<circle cx="409.4" cy="1943.0" r="4.3" fill="#0072bd"/>
<circle cx="416.8" cy="1858.8" r="4.3" fill="#0072bd"/>
<circle cx="424.1" cy="1994.1" r="4.3" fill="#0072bd"/>
<circle cx="431.5" cy="1810.7" r="4.3" fill="#0072bd"/>
<circle cx="438.8" cy="1810.7" r="4.3" fill="#0072bd"/>
<circle cx="446.2" cy="1869.8" r="4.3" fill="#0072bd"/>
<circle cx="453.6" cy="1932.0" r="4.3" fill="#0072bd"/>
<circle cx="460.9" cy="1873.8" r="4.3" fill="#0072bd"/>
<circle cx="468.3" cy="1890.7" r="4.3" fill="#0072bd"/>
<circle cx="475.6" cy="1901.8" r="4.3" fill="#0072bd"/>
<circle cx="483.0" cy="1941.0" r="4.3" fill="#0072bd"/>
<circle cx="490.3" cy="1946.7" r="4.3" fill="#0072bd"/>
<circle cx="497.7" cy="1892.2" r="4.3" fill="#0072bd"/>
<circle cx="505.0" cy="1911.8" r="4.3" fill="#0072bd"/>
<circle cx="512.4" cy="1923.9" r="4.3" fill="#0072bd"/>
<circle cx="519.8" cy="1883.6" r="4.3" fill="#0072bd"/>
<circle cx="527.1" cy="1904.0" r="4.3" fill="#0072bd"/>
<circle cx="534.5" cy="1856.6" r="4.3" fill="#0072bd"/>
<path d="M159.4 1948.4 L534.5 1882.9" stroke="#000" stroke-width="3"/>
<path d="M152.0 1774.1 V2117.8 H593.3" fill="none" stroke="#262626" stroke-width="2.7" stroke-linecap="square"/>
<path d="M152.0 2117.8 h-5" stroke="#262626" stroke-width="2.7"/>
<text transform="matrix(0.27440 0 0 0.24500 114.68 2126.05)" font-size="100" fill="#3d3a3a">-8</text>
<path d="M152.0 2068.7 h-5" stroke="#262626" stroke-width="2.7"/>
<text transform="matrix(0.27440 0 0 0.24500 114.68 2076.95)" font-size="100" fill="#3d3a3a">-6</text>
<path d="M152.0 2019.6 h-5" stroke="#262626" stroke-width="2.7"/>
<text transform="matrix(0.27440 0 0 0.24500 114.40 2027.85)" font-size="100" fill="#3d3a3a">-4</text>
<path d="M152.0 1970.5 h-5" stroke="#262626" stroke-width="2.7"/>
<text transform="matrix(0.27440 0 0 0.24500 114.95 1978.88)" font-size="100" fill="#3d3a3a">-2</text>
<path d="M152.0 1921.4 h-5" stroke="#262626" stroke-width="2.7"/>
<text transform="matrix(0.27440 0 0 0.24500 123.73 1929.65)" font-size="100" fill="#3d3a3a">0</text>
<path d="M152.0 1872.3 h-5" stroke="#262626" stroke-width="2.7"/>
<text transform="matrix(0.27440 0 0 0.24500 124.14 1880.68)" font-size="100" fill="#3d3a3a">2</text>
<path d="M152.0 1823.2 h-5" stroke="#262626" stroke-width="2.7"/>
<text transform="matrix(0.27440 0 0 0.24500 123.59 1831.45)" font-size="100" fill="#3d3a3a">4</text>
<path d="M152.0 1774.1 h-5" stroke="#262626" stroke-width="2.7"/>
<text transform="matrix(0.27440 0 0 0.24500 123.87 1782.35)" font-size="100" fill="#3d3a3a">6</text>
<path d="M152.0 2117.8 v5" stroke="#262626" stroke-width="2.7"/>
<text transform="matrix(0.27440 0 0 0.24500 144.32 2147.15)" font-size="100" fill="#0a0a0a">0</text>
<path d="M225.6 2117.8 v5" stroke="#262626" stroke-width="2.7"/>
<text transform="matrix(0.27440 0 0 0.24500 209.77 2147.15)" font-size="100" fill="#0a0a0a">10</text>
<path d="M299.1 2117.8 v5" stroke="#262626" stroke-width="2.7"/>
<text transform="matrix(0.27440 0 0 0.24500 283.67 2147.15)" font-size="100" fill="#0a0a0a">20</text>
<path d="M372.6 2117.8 v5" stroke="#262626" stroke-width="2.7"/>
<text transform="matrix(0.27440 0 0 0.24500 357.35 2147.15)" font-size="100" fill="#0a0a0a">30</text>
<path d="M446.2 2117.8 v5" stroke="#262626" stroke-width="2.7"/>
<text transform="matrix(0.27440 0 0 0.24500 431.18 2147.15)" font-size="100" fill="#0a0a0a">40</text>
<path d="M519.8 2117.8 v5" stroke="#262626" stroke-width="2.7"/>
<text transform="matrix(0.27440 0 0 0.24500 504.45 2147.15)" font-size="100" fill="#0a0a0a">50</text>
<path d="M593.3 2117.8 v5" stroke="#262626" stroke-width="2.7"/>
<text transform="matrix(0.27440 0 0 0.24500 577.87 2147.15)" font-size="100" fill="#0a0a0a">60</text>
<text transform="matrix(0.25078 0 0 0.23810 315.20 2178.41)" font-size="100" font-weight="bold" fill="#000">Trials</text>
<text transform="matrix(0.24211 0 0 0.24396 176.68 1810.63)" font-size="100" fill="#1e1616">p &lt; 0.001</text>
<text transform="matrix(0 -0.27114 0.21070 0 58.03 1998.83)" font-size="100" font-weight="bold" fill="#000">Amygdala</text>
<text transform="matrix(0 -0.25181 0.24064 0 100.10 2116.59)" font-size="100" font-weight="bold" fill="#000">Norm. power difference (4-8Hz)</text>
<circle cx="748.2" cy="1913.7" r="4.3" fill="#0072bd"/>
<circle cx="755.6" cy="2011.4" r="4.3" fill="#0072bd"/>
<circle cx="762.9" cy="2009.9" r="4.3" fill="#0072bd"/>
<circle cx="770.2" cy="1971.4" r="4.3" fill="#0072bd"/>
<circle cx="777.6" cy="2050.5" r="4.3" fill="#0072bd"/>
<circle cx="784.9" cy="1983.4" r="4.3" fill="#0072bd"/>
<circle cx="792.2" cy="1936.8" r="4.3" fill="#0072bd"/>
<circle cx="799.6" cy="1968.5" r="4.3" fill="#0072bd"/>
<circle cx="806.9" cy="2033.4" r="4.3" fill="#0072bd"/>
<circle cx="814.2" cy="1949.7" r="4.3" fill="#0072bd"/>
<circle cx="821.6" cy="2031.1" r="4.3" fill="#0072bd"/>
<circle cx="828.9" cy="1936.8" r="4.3" fill="#0072bd"/>
<circle cx="836.2" cy="1889.4" r="4.3" fill="#0072bd"/>
<circle cx="843.6" cy="1986.2" r="4.3" fill="#0072bd"/>
<circle cx="850.9" cy="1917.4" r="4.3" fill="#0072bd"/>
<circle cx="858.2" cy="1929.7" r="4.3" fill="#0072bd"/>
<circle cx="865.6" cy="1913.7" r="4.3" fill="#0072bd"/>
<circle cx="872.9" cy="2015.1" r="4.3" fill="#0072bd"/>
<circle cx="880.2" cy="1826.8" r="4.3" fill="#0072bd"/>
<circle cx="887.6" cy="2023.7" r="4.3" fill="#0072bd"/>
<circle cx="894.9" cy="1966.2" r="4.3" fill="#0072bd"/>
<circle cx="902.2" cy="2007.9" r="4.3" fill="#0072bd"/>
<circle cx="909.6" cy="1907.4" r="4.3" fill="#0072bd"/>
<circle cx="916.9" cy="1921.7" r="4.3" fill="#0072bd"/>
<circle cx="924.2" cy="1835.9" r="4.3" fill="#0072bd"/>
<circle cx="931.6" cy="1889.4" r="4.3" fill="#0072bd"/>
<circle cx="938.9" cy="1910.8" r="4.3" fill="#0072bd"/>
<circle cx="946.2" cy="1953.9" r="4.3" fill="#0072bd"/>
<circle cx="953.6" cy="2026.5" r="4.3" fill="#0072bd"/>
<circle cx="960.9" cy="1905.4" r="4.3" fill="#0072bd"/>
<circle cx="968.2" cy="2055.4" r="4.3" fill="#0072bd"/>
<circle cx="975.6" cy="2016.2" r="4.3" fill="#0072bd"/>
<circle cx="982.9" cy="1904.2" r="4.3" fill="#0072bd"/>
<circle cx="990.2" cy="1873.1" r="4.3" fill="#0072bd"/>
<circle cx="997.6" cy="2090.8" r="4.3" fill="#0072bd"/>
<circle cx="1004.9" cy="1878.5" r="4.3" fill="#0072bd"/>
<circle cx="1012.2" cy="1986.2" r="4.3" fill="#0072bd"/>
<circle cx="1019.6" cy="1910.8" r="4.3" fill="#0072bd"/>
<circle cx="1026.9" cy="1904.2" r="4.3" fill="#0072bd"/>
<circle cx="1034.2" cy="1935.7" r="4.3" fill="#0072bd"/>
<circle cx="1041.6" cy="1987.1" r="4.3" fill="#0072bd"/>
<circle cx="1048.9" cy="1898.5" r="4.3" fill="#0072bd"/>
<circle cx="1056.2" cy="1865.4" r="4.3" fill="#0072bd"/>
<circle cx="1063.6" cy="1925.7" r="4.3" fill="#0072bd"/>
<circle cx="1070.9" cy="1881.4" r="4.3" fill="#0072bd"/>
<circle cx="1078.2" cy="1961.1" r="4.3" fill="#0072bd"/>
<circle cx="1085.6" cy="1938.8" r="4.3" fill="#0072bd"/>
<circle cx="1092.9" cy="1885.4" r="4.3" fill="#0072bd"/>
<circle cx="1100.2" cy="1969.9" r="4.3" fill="#0072bd"/>
<circle cx="1107.5" cy="1805.1" r="4.3" fill="#0072bd"/>
<circle cx="1114.9" cy="1898.5" r="4.3" fill="#0072bd"/>
<circle cx="1122.2" cy="1983.4" r="4.3" fill="#0072bd"/>
<path d="M748.2 1978.9 L1122.2 1910.4" stroke="#000" stroke-width="3"/>
<path d="M740.9 1775.4 V2118.2 H1180.9" fill="none" stroke="#262626" stroke-width="2.7" stroke-linecap="square"/>
<path d="M740.9 2118.2 h-5" stroke="#262626" stroke-width="2.7"/>
<text transform="matrix(0.27440 0 0 0.24500 703.58 2126.47)" font-size="100" fill="#3d3a3a">-6</text>
<path d="M740.9 2061.1 h-5" stroke="#262626" stroke-width="2.7"/>
<text transform="matrix(0.27440 0 0 0.24500 703.30 2069.33)" font-size="100" fill="#3d3a3a">-4</text>
<path d="M740.9 2003.9 h-5" stroke="#262626" stroke-width="2.7"/>
<text transform="matrix(0.27440 0 0 0.24500 703.85 2012.32)" font-size="100" fill="#3d3a3a">-2</text>
<path d="M740.9 1946.8 h-5" stroke="#262626" stroke-width="2.7"/>
<text transform="matrix(0.27440 0 0 0.24500 712.63 1955.05)" font-size="100" fill="#3d3a3a">0</text>
<path d="M740.9 1889.7 h-5" stroke="#262626" stroke-width="2.7"/>
<text transform="matrix(0.27440 0 0 0.24500 713.04 1898.03)" font-size="100" fill="#3d3a3a">2</text>
<path d="M740.9 1832.5 h-5" stroke="#262626" stroke-width="2.7"/>
<text transform="matrix(0.27440 0 0 0.24500 712.49 1840.77)" font-size="100" fill="#3d3a3a">4</text>
<path d="M740.9 1775.4 h-5" stroke="#262626" stroke-width="2.7"/>
<text transform="matrix(0.27440 0 0 0.24500 712.77 1783.63)" font-size="100" fill="#3d3a3a">6</text>
<path d="M740.9 2118.2 v5" stroke="#262626" stroke-width="2.7"/>
<text transform="matrix(0.27440 0 0 0.24500 733.22 2147.57)" font-size="100" fill="#0a0a0a">0</text>
<path d="M814.2 2118.2 v5" stroke="#262626" stroke-width="2.7"/>
<text transform="matrix(0.27440 0 0 0.24500 798.45 2147.57)" font-size="100" fill="#0a0a0a">10</text>
<path d="M887.6 2118.2 v5" stroke="#262626" stroke-width="2.7"/>
<text transform="matrix(0.27440 0 0 0.24500 872.12 2147.57)" font-size="100" fill="#0a0a0a">20</text>
<path d="M960.9 2118.2 v5" stroke="#262626" stroke-width="2.7"/>
<text transform="matrix(0.27440 0 0 0.24500 945.59 2147.57)" font-size="100" fill="#0a0a0a">30</text>
<path d="M1034.2 2118.2 v5" stroke="#262626" stroke-width="2.7"/>
<text transform="matrix(0.27440 0 0 0.24500 1019.20 2147.57)" font-size="100" fill="#0a0a0a">40</text>
<path d="M1107.5 2118.2 v5" stroke="#262626" stroke-width="2.7"/>
<text transform="matrix(0.27440 0 0 0.24500 1092.25 2147.57)" font-size="100" fill="#0a0a0a">50</text>
<path d="M1180.9 2118.2 v5" stroke="#262626" stroke-width="2.7"/>
<text transform="matrix(0.27440 0 0 0.24500 1165.44 2147.57)" font-size="100" fill="#0a0a0a">60</text>
<text transform="matrix(0.25078 0 0 0.23810 904.10 2178.41)" font-size="100" font-weight="bold" fill="#000">Trials</text>
<text transform="matrix(0.24406 0 0 0.24615 762.56 1807.38)" font-size="100" fill="#1e1616">p &lt; 0.001</text>
<text transform="matrix(0 -0.26969 0.25070 0 667.20 1980.98)" font-size="100" font-weight="bold" fill="#000">vmPFC</text>
<text transform="matrix(0 -0.25119 0.23102 0 697.00 2126.28)" font-size="100" font-weight="bold" fill="#000">Norm. power difference (4-8Hz)</text>
<circle cx="1333.8" cy="1926.5" r="4.3" fill="#0072bd"/>
<circle cx="1341.2" cy="1997.7" r="4.3" fill="#0072bd"/>
<circle cx="1348.5" cy="1887.1" r="4.3" fill="#0072bd"/>
<circle cx="1355.9" cy="1976.7" r="4.3" fill="#0072bd"/>
<circle cx="1363.2" cy="1995.1" r="4.3" fill="#0072bd"/>
<circle cx="1370.6" cy="1985.0" r="4.3" fill="#0072bd"/>
<circle cx="1377.9" cy="1905.2" r="4.3" fill="#0072bd"/>
<circle cx="1385.3" cy="1919.2" r="4.3" fill="#0072bd"/>
<circle cx="1392.6" cy="1881.5" r="4.3" fill="#0072bd"/>
<circle cx="1400.0" cy="1941.7" r="4.3" fill="#0072bd"/>
<circle cx="1407.3" cy="2028.3" r="4.3" fill="#0072bd"/>
<circle cx="1414.6" cy="1952.9" r="4.3" fill="#0072bd"/>
<circle cx="1422.0" cy="1858.2" r="4.3" fill="#0072bd"/>
<circle cx="1429.3" cy="1888.1" r="4.3" fill="#0072bd"/>
<circle cx="1436.7" cy="1849.9" r="4.3" fill="#0072bd"/>
<circle cx="1444.0" cy="1877.1" r="4.3" fill="#0072bd"/>
<circle cx="1451.4" cy="1918.4" r="4.3" fill="#0072bd"/>
<circle cx="1458.7" cy="2010.0" r="4.3" fill="#0072bd"/>
<circle cx="1466.1" cy="1811.0" r="4.3" fill="#0072bd"/>
<circle cx="1473.4" cy="1974.0" r="4.3" fill="#0072bd"/>
<circle cx="1480.7" cy="1931.6" r="4.3" fill="#0072bd"/>
<circle cx="1488.1" cy="1899.3" r="4.3" fill="#0072bd"/>
<circle cx="1495.4" cy="1989.9" r="4.3" fill="#0072bd"/>
<circle cx="1502.8" cy="1909.1" r="4.3" fill="#0072bd"/>
<circle cx="1510.1" cy="1811.0" r="4.3" fill="#0072bd"/>
<circle cx="1517.5" cy="1879.3" r="4.3" fill="#0072bd"/>
<circle cx="1524.8" cy="1817.8" r="4.3" fill="#0072bd"/>
<circle cx="1532.2" cy="1993.3" r="4.3" fill="#0072bd"/>
<circle cx="1539.5" cy="2100.8" r="4.3" fill="#0072bd"/>
<circle cx="1546.8" cy="1848.2" r="4.3" fill="#0072bd"/>
<circle cx="1554.2" cy="2023.2" r="4.3" fill="#0072bd"/>
<circle cx="1561.5" cy="1853.1" r="4.3" fill="#0072bd"/>
<circle cx="1568.9" cy="1845.0" r="4.3" fill="#0072bd"/>
<circle cx="1576.2" cy="1903.3" r="4.3" fill="#0072bd"/>
<circle cx="1583.6" cy="1904.2" r="4.3" fill="#0072bd"/>
<circle cx="1590.9" cy="1800.9" r="4.3" fill="#0072bd"/>
<circle cx="1598.3" cy="1975.0" r="4.3" fill="#0072bd"/>
<circle cx="1605.6" cy="1920.6" r="4.3" fill="#0072bd"/>
<circle cx="1613.0" cy="1936.8" r="4.3" fill="#0072bd"/>
<circle cx="1620.3" cy="1955.6" r="4.3" fill="#0072bd"/>
<circle cx="1627.6" cy="1962.7" r="4.3" fill="#0072bd"/>
<circle cx="1635.0" cy="1881.5" r="4.3" fill="#0072bd"/>
<circle cx="1642.3" cy="1859.2" r="4.3" fill="#0072bd"/>
<circle cx="1649.7" cy="1977.9" r="4.3" fill="#0072bd"/>
<circle cx="1657.0" cy="1846.0" r="4.3" fill="#0072bd"/>
<circle cx="1664.4" cy="1913.5" r="4.3" fill="#0072bd"/>
<circle cx="1671.7" cy="1874.1" r="4.3" fill="#0072bd"/>
<circle cx="1679.1" cy="1798.7" r="4.3" fill="#0072bd"/>
<circle cx="1686.4" cy="1866.0" r="4.3" fill="#0072bd"/>
<circle cx="1693.8" cy="1952.9" r="4.3" fill="#0072bd"/>
<circle cx="1701.1" cy="1855.3" r="4.3" fill="#0072bd"/>
<circle cx="1708.4" cy="1922.3" r="4.3" fill="#0072bd"/>
<path d="M1333.8 1940.7 L1708.4 1887.1" stroke="#000" stroke-width="3"/>
<path d="M1326.5 1775.2 V2117.9 H1767.2" fill="none" stroke="#262626" stroke-width="2.7" stroke-linecap="square"/>
<path d="M1326.5 2117.9 h-5" stroke="#262626" stroke-width="2.7"/>
<text transform="matrix(0.27440 0 0 0.24500 1289.18 2126.19)" font-size="100" fill="#3d3a3a">-8</text>
<path d="M1326.5 2069.0 h-5" stroke="#262626" stroke-width="2.7"/>
<text transform="matrix(0.27440 0 0 0.24500 1289.18 2077.23)" font-size="100" fill="#3d3a3a">-6</text>
<path d="M1326.5 2020.0 h-5" stroke="#262626" stroke-width="2.7"/>
<text transform="matrix(0.27440 0 0 0.24500 1288.90 2028.27)" font-size="100" fill="#3d3a3a">-4</text>
<path d="M1326.5 1971.1 h-5" stroke="#262626" stroke-width="2.7"/>
<text transform="matrix(0.27440 0 0 0.24500 1289.45 1979.43)" font-size="100" fill="#3d3a3a">-2</text>
<path d="M1326.5 1922.1 h-5" stroke="#262626" stroke-width="2.7"/>
<text transform="matrix(0.27440 0 0 0.24500 1298.23 1930.35)" font-size="100" fill="#3d3a3a">0</text>
<path d="M1326.5 1873.1 h-5" stroke="#262626" stroke-width="2.7"/>
<text transform="matrix(0.27440 0 0 0.24500 1298.64 1881.51)" font-size="100" fill="#3d3a3a">2</text>
<path d="M1326.5 1824.2 h-5" stroke="#262626" stroke-width="2.7"/>
<text transform="matrix(0.27440 0 0 0.24500 1298.09 1832.43)" font-size="100" fill="#3d3a3a">4</text>
<path d="M1326.5 1775.2 h-5" stroke="#262626" stroke-width="2.7"/>
<text transform="matrix(0.27440 0 0 0.24500 1298.37 1783.47)" font-size="100" fill="#3d3a3a">6</text>
<path d="M1326.5 2117.9 v5" stroke="#262626" stroke-width="2.7"/>
<text transform="matrix(0.27440 0 0 0.24500 1318.82 2147.29)" font-size="100" fill="#0a0a0a">0</text>
<path d="M1400.0 2117.9 v5" stroke="#262626" stroke-width="2.7"/>
<text transform="matrix(0.27440 0 0 0.24500 1384.17 2147.29)" font-size="100" fill="#0a0a0a">10</text>
<path d="M1473.4 2117.9 v5" stroke="#262626" stroke-width="2.7"/>
<text transform="matrix(0.27440 0 0 0.24500 1457.96 2147.29)" font-size="100" fill="#0a0a0a">20</text>
<path d="M1546.8 2117.9 v5" stroke="#262626" stroke-width="2.7"/>
<text transform="matrix(0.27440 0 0 0.24500 1531.55 2147.29)" font-size="100" fill="#0a0a0a">30</text>
<path d="M1620.3 2117.9 v5" stroke="#262626" stroke-width="2.7"/>
<text transform="matrix(0.27440 0 0 0.24500 1605.28 2147.29)" font-size="100" fill="#0a0a0a">40</text>
<path d="M1693.8 2117.9 v5" stroke="#262626" stroke-width="2.7"/>
<text transform="matrix(0.27440 0 0 0.24500 1678.45 2147.29)" font-size="100" fill="#0a0a0a">50</text>
<path d="M1767.2 2117.9 v5" stroke="#262626" stroke-width="2.7"/>
<text transform="matrix(0.27440 0 0 0.24500 1751.76 2147.29)" font-size="100" fill="#0a0a0a">60</text>
<text transform="matrix(0.25078 0 0 0.23810 1489.70 2178.41)" font-size="100" font-weight="bold" fill="#000">Trials</text>
<text transform="matrix(0.24186 0 0 0.25055 1345.48 1806.29)" font-size="100" fill="#1e1616">p &lt; 0.001</text>
<text transform="matrix(0 -0.27336 0.24354 0 1256.91 1989.34)" font-size="100" font-weight="bold" fill="#000">dmPFC</text>
<text transform="matrix(0 -0.25249 0.24064 0 1283.60 2126.29)" font-size="100" font-weight="bold" fill="#000">Norm. power difference (4-8Hz)</text></svg></body></html>
